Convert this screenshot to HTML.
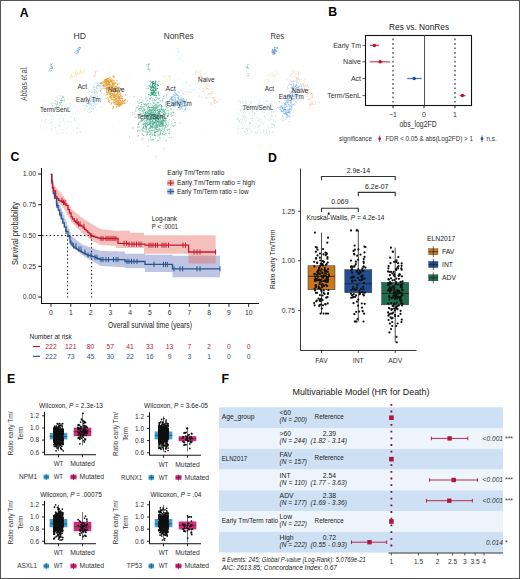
<!DOCTYPE html>
<html><head><meta charset="utf-8"><style>
html,body{margin:0;padding:0;background:#fff;}
body{width:520px;height:579px;overflow:hidden;font-family:"Liberation Sans", sans-serif;}
svg{display:block;}
</style></head><body>
<svg width="520" height="579" viewBox="0 0 520 579" font-family='"Liberation Sans", sans-serif'><rect x="0.5" y="0.5" width="519" height="578" fill="#fff" stroke="#555" stroke-width="1"/>
<text x="19.7" y="16.6" font-size="12.3" fill="#000" color="#000" font-weight="bold" >A</text>
<text x="328.3" y="16.3" font-size="12.3" fill="#000" color="#000" font-weight="bold" >B</text>
<text x="10.4" y="161.4" font-size="12.3" fill="#000" color="#000" font-weight="bold" >C</text>
<text x="268.1" y="161.6" font-size="12.3" fill="#000" color="#000" font-weight="bold" >D</text>
<text x="7.1" y="383.1" font-size="12.3" fill="#000" color="#000" font-weight="bold" >E</text>
<text x="221.6" y="383.1" font-size="12.3" fill="#000" color="#000" font-weight="bold" >F</text>
<text x="73.5" y="39" font-size="8.6" fill="#333" color="#333" textLength="12.5" lengthAdjust="spacingAndGlyphs" >HD</text>
<text x="163.7" y="39" font-size="8.6" fill="#333" color="#333" textLength="30" lengthAdjust="spacingAndGlyphs" >NonRes</text>
<text x="270.4" y="39" font-size="8.6" fill="#333" color="#333" textLength="13.6" lengthAdjust="spacingAndGlyphs" >Res</text>
<text x="0" y="0" font-size="8.5" text-anchor="middle" fill="#444" color="#444" textLength="34.5" lengthAdjust="spacingAndGlyphs" transform="translate(27.1,83.5) rotate(-90)">Abbas et al.</text>
<g fill="#93c4bb" fill-opacity="0.35"><circle cx="96.3" cy="110.4" r="0.45"/><circle cx="120.7" cy="82.5" r="0.45"/><circle cx="109.8" cy="125.6" r="0.45"/><circle cx="60.3" cy="109.7" r="0.45"/><circle cx="67.0" cy="69.9" r="0.45"/><circle cx="118.6" cy="123.4" r="0.45"/><circle cx="40.5" cy="130.9" r="0.45"/><circle cx="113.9" cy="127.8" r="0.45"/><circle cx="111.7" cy="102.7" r="0.45"/><circle cx="82.1" cy="70.9" r="0.45"/><circle cx="67.3" cy="74.4" r="0.45"/><circle cx="65.1" cy="129.6" r="0.45"/><circle cx="62.9" cy="101.4" r="0.45"/><circle cx="80.1" cy="73.5" r="0.45"/><circle cx="85.4" cy="126.3" r="0.45"/><circle cx="89.8" cy="108.1" r="0.45"/><circle cx="129.6" cy="102.7" r="0.45"/><circle cx="111.3" cy="88.2" r="0.45"/><circle cx="96.0" cy="90.8" r="0.45"/><circle cx="129.0" cy="78.0" r="0.45"/><circle cx="59.4" cy="62.9" r="0.45"/><circle cx="54.4" cy="125.7" r="0.45"/><circle cx="95.1" cy="95.1" r="0.45"/><circle cx="44.0" cy="101.1" r="0.45"/><circle cx="43.2" cy="84.2" r="0.45"/><circle cx="86.3" cy="116.3" r="0.45"/><circle cx="82.0" cy="61.9" r="0.45"/><circle cx="122.5" cy="87.9" r="0.45"/><circle cx="96.6" cy="62.3" r="0.45"/><circle cx="86.3" cy="69.2" r="0.45"/><circle cx="84.7" cy="132.5" r="0.45"/><circle cx="62.3" cy="109.3" r="0.45"/><circle cx="41.1" cy="92.1" r="0.45"/><circle cx="57.3" cy="99.3" r="0.45"/><circle cx="102.3" cy="125.5" r="0.45"/><circle cx="58.1" cy="85.8" r="0.45"/><circle cx="73.3" cy="104.3" r="0.45"/><circle cx="40.3" cy="111.3" r="0.45"/><circle cx="114.7" cy="86.7" r="0.45"/><circle cx="53.9" cy="98.9" r="0.45"/><circle cx="64.1" cy="117.4" r="0.45"/><circle cx="119.2" cy="128.2" r="0.45"/><circle cx="85.9" cy="71.3" r="0.45"/><circle cx="116.2" cy="130.0" r="0.45"/><circle cx="97.6" cy="60.4" r="0.45"/><circle cx="106.8" cy="116.5" r="0.45"/><circle cx="48.2" cy="120.8" r="0.45"/><circle cx="88.7" cy="70.3" r="0.45"/><circle cx="85.7" cy="91.4" r="0.45"/><circle cx="118.4" cy="121.1" r="0.45"/><circle cx="72.5" cy="61.1" r="0.45"/><circle cx="93.8" cy="107.1" r="0.45"/><circle cx="45.3" cy="119.5" r="0.45"/><circle cx="74.9" cy="98.5" r="0.45"/><circle cx="69.1" cy="114.4" r="0.45"/><circle cx="53.5" cy="77.0" r="0.45"/><circle cx="113.5" cy="74.9" r="0.45"/><circle cx="74.2" cy="87.2" r="0.45"/><circle cx="128.1" cy="73.5" r="0.45"/><circle cx="93.1" cy="86.0" r="0.45"/><circle cx="94.5" cy="131.1" r="0.45"/><circle cx="97.4" cy="103.0" r="0.45"/><circle cx="100.9" cy="85.5" r="0.45"/><circle cx="53.6" cy="80.4" r="0.45"/><circle cx="79.6" cy="131.4" r="0.45"/><circle cx="61.6" cy="93.3" r="0.45"/><circle cx="76.2" cy="133.5" r="0.45"/><circle cx="48.7" cy="98.7" r="0.45"/><circle cx="127.1" cy="99.1" r="0.45"/><circle cx="59.4" cy="127.2" r="0.45"/></g>
<g fill="#4d94d8" fill-opacity="0.85"><circle cx="79.6" cy="49.2" r="0.45"/><circle cx="78.4" cy="50.0" r="0.45"/><circle cx="78.1" cy="51.2" r="0.45"/><circle cx="79.4" cy="47.8" r="0.45"/><circle cx="76.6" cy="50.5" r="0.45"/><circle cx="79.3" cy="47.3" r="0.45"/><circle cx="76.2" cy="53.5" r="0.45"/><circle cx="77.3" cy="50.7" r="0.45"/><circle cx="77.8" cy="50.2" r="0.45"/><circle cx="79.8" cy="47.4" r="0.45"/><circle cx="77.6" cy="52.6" r="0.45"/><circle cx="78.7" cy="48.1" r="0.45"/><circle cx="79.5" cy="49.7" r="0.45"/><circle cx="78.7" cy="48.9" r="0.45"/><circle cx="79.2" cy="50.0" r="0.45"/><circle cx="80.7" cy="47.7" r="0.45"/><circle cx="78.6" cy="52.4" r="0.45"/><circle cx="78.3" cy="51.6" r="0.45"/><circle cx="77.6" cy="53.0" r="0.45"/><circle cx="77.5" cy="54.4" r="0.45"/><circle cx="75.4" cy="51.7" r="0.45"/><circle cx="78.8" cy="47.1" r="0.45"/><circle cx="80.1" cy="48.5" r="0.45"/><circle cx="74.6" cy="52.2" r="0.45"/><circle cx="78.5" cy="49.8" r="0.45"/><circle cx="78.0" cy="50.7" r="0.45"/><circle cx="77.1" cy="49.1" r="0.45"/><circle cx="77.8" cy="48.9" r="0.45"/><circle cx="77.7" cy="52.1" r="0.45"/><circle cx="80.2" cy="47.5" r="0.45"/></g>
<g fill="#2a8c8c" fill-opacity="0.85"><circle cx="49.4" cy="69.0" r="0.45"/><circle cx="50.9" cy="65.5" r="0.45"/><circle cx="51.5" cy="64.2" r="0.45"/><circle cx="50.6" cy="63.9" r="0.45"/><circle cx="51.2" cy="70.6" r="0.45"/><circle cx="51.0" cy="71.8" r="0.45"/><circle cx="52.0" cy="66.2" r="0.45"/><circle cx="51.3" cy="70.1" r="0.45"/><circle cx="51.7" cy="67.0" r="0.45"/><circle cx="52.5" cy="63.6" r="0.45"/><circle cx="51.1" cy="68.6" r="0.45"/><circle cx="49.9" cy="69.7" r="0.45"/><circle cx="52.5" cy="68.0" r="0.45"/><circle cx="52.0" cy="66.1" r="0.45"/><circle cx="48.7" cy="71.0" r="0.45"/><circle cx="51.1" cy="68.6" r="0.45"/><circle cx="50.1" cy="70.7" r="0.45"/><circle cx="51.2" cy="66.0" r="0.45"/><circle cx="51.7" cy="64.5" r="0.45"/><circle cx="52.6" cy="68.7" r="0.45"/><circle cx="50.8" cy="68.6" r="0.45"/><circle cx="52.7" cy="67.2" r="0.45"/></g>
<g fill="#ead66a" fill-opacity="0.65"><circle cx="82.0" cy="72.3" r="0.45"/><circle cx="80.8" cy="72.3" r="0.45"/><circle cx="73.3" cy="72.1" r="0.45"/><circle cx="78.9" cy="68.2" r="0.45"/><circle cx="73.3" cy="77.5" r="0.45"/><circle cx="80.7" cy="71.2" r="0.45"/><circle cx="80.7" cy="70.8" r="0.45"/><circle cx="79.8" cy="72.2" r="0.45"/><circle cx="76.0" cy="73.4" r="0.45"/><circle cx="73.7" cy="72.8" r="0.45"/><circle cx="75.3" cy="73.4" r="0.45"/><circle cx="70.6" cy="78.7" r="0.45"/><circle cx="81.9" cy="73.2" r="0.45"/><circle cx="78.2" cy="73.1" r="0.45"/><circle cx="75.6" cy="74.5" r="0.45"/><circle cx="76.7" cy="71.5" r="0.45"/><circle cx="80.2" cy="69.3" r="0.45"/><circle cx="75.8" cy="74.9" r="0.45"/><circle cx="81.9" cy="71.9" r="0.45"/><circle cx="83.9" cy="69.2" r="0.45"/><circle cx="75.2" cy="74.1" r="0.45"/><circle cx="71.4" cy="76.8" r="0.45"/><circle cx="80.6" cy="71.7" r="0.45"/><circle cx="85.1" cy="70.6" r="0.45"/><circle cx="72.4" cy="77.6" r="0.45"/><circle cx="79.5" cy="73.3" r="0.45"/><circle cx="81.5" cy="73.5" r="0.45"/><circle cx="83.6" cy="71.4" r="0.45"/><circle cx="74.3" cy="80.1" r="0.45"/><circle cx="72.9" cy="79.5" r="0.45"/><circle cx="84.7" cy="72.2" r="0.45"/><circle cx="71.1" cy="77.1" r="0.45"/><circle cx="71.0" cy="75.4" r="0.45"/><circle cx="77.8" cy="71.9" r="0.45"/><circle cx="75.3" cy="72.7" r="0.45"/><circle cx="80.5" cy="71.3" r="0.45"/><circle cx="71.6" cy="75.6" r="0.45"/><circle cx="83.7" cy="70.3" r="0.45"/><circle cx="72.8" cy="76.1" r="0.45"/><circle cx="81.1" cy="69.1" r="0.45"/><circle cx="70.2" cy="77.4" r="0.45"/><circle cx="77.1" cy="73.8" r="0.45"/><circle cx="72.0" cy="80.2" r="0.45"/><circle cx="74.5" cy="75.3" r="0.45"/><circle cx="73.3" cy="74.1" r="0.45"/><circle cx="79.9" cy="71.0" r="0.45"/><circle cx="75.9" cy="73.0" r="0.45"/><circle cx="70.6" cy="78.2" r="0.45"/><circle cx="84.7" cy="73.4" r="0.45"/><circle cx="83.0" cy="71.7" r="0.45"/><circle cx="83.3" cy="72.7" r="0.45"/><circle cx="71.3" cy="73.9" r="0.45"/><circle cx="76.3" cy="75.0" r="0.45"/><circle cx="71.8" cy="74.9" r="0.45"/><circle cx="70.4" cy="76.2" r="0.45"/><circle cx="69.6" cy="77.7" r="0.45"/><circle cx="77.2" cy="73.1" r="0.45"/><circle cx="72.1" cy="77.9" r="0.45"/><circle cx="71.0" cy="75.4" r="0.45"/><circle cx="82.1" cy="74.4" r="0.45"/><circle cx="76.6" cy="73.0" r="0.45"/><circle cx="72.6" cy="76.8" r="0.45"/><circle cx="78.6" cy="74.0" r="0.45"/><circle cx="71.8" cy="73.9" r="0.45"/><circle cx="75.4" cy="70.7" r="0.45"/><circle cx="74.5" cy="76.2" r="0.45"/><circle cx="75.2" cy="70.8" r="0.45"/><circle cx="77.9" cy="73.1" r="0.45"/><circle cx="77.5" cy="72.6" r="0.45"/><circle cx="76.2" cy="75.0" r="0.45"/></g>
<g fill="#e3a27a" fill-opacity="0.7"><circle cx="95.7" cy="71.6" r="0.45"/><circle cx="94.3" cy="76.5" r="0.45"/><circle cx="95.7" cy="71.9" r="0.45"/><circle cx="97.1" cy="71.5" r="0.45"/><circle cx="94.9" cy="73.8" r="0.45"/><circle cx="94.6" cy="76.5" r="0.45"/><circle cx="95.6" cy="72.2" r="0.45"/><circle cx="95.7" cy="75.3" r="0.45"/><circle cx="95.8" cy="72.5" r="0.45"/><circle cx="94.9" cy="74.3" r="0.45"/></g>
<g fill="#e6a032" fill-opacity="0.85"><circle cx="114.1" cy="97.3" r="0.6"/><circle cx="108.3" cy="98.9" r="0.6"/><circle cx="111.1" cy="102.5" r="0.6"/><circle cx="118.7" cy="98.1" r="0.6"/><circle cx="109.6" cy="89.0" r="0.6"/><circle cx="109.5" cy="86.0" r="0.6"/><circle cx="118.0" cy="87.6" r="0.6"/><circle cx="120.2" cy="88.5" r="0.6"/><circle cx="110.3" cy="81.6" r="0.6"/><circle cx="113.1" cy="90.4" r="0.6"/><circle cx="119.7" cy="93.9" r="0.6"/><circle cx="111.3" cy="80.8" r="0.6"/><circle cx="111.1" cy="81.0" r="0.6"/><circle cx="111.9" cy="81.8" r="0.6"/><circle cx="114.4" cy="84.2" r="0.6"/><circle cx="120.5" cy="104.4" r="0.6"/><circle cx="104.6" cy="80.7" r="0.6"/><circle cx="108.0" cy="84.3" r="0.6"/><circle cx="111.5" cy="81.8" r="0.6"/><circle cx="113.6" cy="91.3" r="0.6"/><circle cx="106.4" cy="79.3" r="0.6"/><circle cx="118.9" cy="87.9" r="0.6"/><circle cx="105.6" cy="84.9" r="0.6"/><circle cx="112.4" cy="84.9" r="0.6"/><circle cx="121.6" cy="98.1" r="0.6"/><circle cx="100.9" cy="88.1" r="0.6"/><circle cx="118.4" cy="93.8" r="0.6"/><circle cx="113.1" cy="89.2" r="0.6"/><circle cx="114.6" cy="88.8" r="0.6"/><circle cx="114.7" cy="102.4" r="0.6"/><circle cx="109.5" cy="82.7" r="0.6"/><circle cx="124.0" cy="101.4" r="0.6"/><circle cx="125.7" cy="99.5" r="0.6"/><circle cx="117.5" cy="96.0" r="0.6"/><circle cx="100.8" cy="83.5" r="0.6"/><circle cx="119.1" cy="95.0" r="0.6"/><circle cx="110.8" cy="97.0" r="0.6"/><circle cx="120.0" cy="98.3" r="0.6"/><circle cx="114.2" cy="82.0" r="0.6"/><circle cx="127.1" cy="100.9" r="0.6"/><circle cx="119.3" cy="102.5" r="0.6"/><circle cx="107.1" cy="82.3" r="0.6"/><circle cx="111.2" cy="87.1" r="0.6"/><circle cx="113.2" cy="76.2" r="0.6"/><circle cx="120.0" cy="100.3" r="0.6"/><circle cx="118.1" cy="104.0" r="0.6"/><circle cx="121.9" cy="104.7" r="0.6"/><circle cx="113.6" cy="96.0" r="0.6"/><circle cx="108.9" cy="100.2" r="0.6"/><circle cx="120.3" cy="94.9" r="0.6"/><circle cx="106.1" cy="98.3" r="0.6"/><circle cx="118.6" cy="105.1" r="0.6"/><circle cx="116.4" cy="94.5" r="0.6"/><circle cx="112.6" cy="87.1" r="0.6"/><circle cx="114.7" cy="92.1" r="0.6"/><circle cx="110.1" cy="77.4" r="0.6"/><circle cx="119.1" cy="97.1" r="0.6"/><circle cx="112.5" cy="99.4" r="0.6"/><circle cx="110.5" cy="91.1" r="0.6"/><circle cx="117.8" cy="102.1" r="0.6"/><circle cx="117.7" cy="98.9" r="0.6"/><circle cx="114.3" cy="86.2" r="0.6"/><circle cx="107.0" cy="81.1" r="0.6"/><circle cx="109.5" cy="81.7" r="0.6"/><circle cx="108.1" cy="84.2" r="0.6"/><circle cx="106.8" cy="89.1" r="0.6"/><circle cx="119.7" cy="87.1" r="0.6"/><circle cx="125.5" cy="100.8" r="0.6"/><circle cx="106.7" cy="88.3" r="0.6"/><circle cx="122.9" cy="101.1" r="0.6"/><circle cx="109.9" cy="100.2" r="0.6"/><circle cx="118.0" cy="102.0" r="0.6"/><circle cx="104.0" cy="94.0" r="0.6"/><circle cx="105.6" cy="79.3" r="0.6"/><circle cx="115.1" cy="101.2" r="0.6"/><circle cx="112.9" cy="83.8" r="0.6"/><circle cx="111.1" cy="81.2" r="0.6"/><circle cx="117.0" cy="100.7" r="0.6"/><circle cx="118.5" cy="96.1" r="0.6"/><circle cx="109.6" cy="84.4" r="0.6"/><circle cx="106.5" cy="88.0" r="0.6"/><circle cx="121.8" cy="103.0" r="0.6"/><circle cx="112.8" cy="84.6" r="0.6"/><circle cx="115.8" cy="98.0" r="0.6"/><circle cx="109.0" cy="81.8" r="0.6"/><circle cx="115.9" cy="101.8" r="0.6"/><circle cx="108.5" cy="81.7" r="0.6"/><circle cx="117.1" cy="91.0" r="0.6"/><circle cx="113.4" cy="76.2" r="0.6"/><circle cx="113.2" cy="94.1" r="0.6"/><circle cx="120.5" cy="100.5" r="0.6"/><circle cx="107.2" cy="81.3" r="0.6"/><circle cx="115.9" cy="83.1" r="0.6"/><circle cx="119.6" cy="98.2" r="0.6"/><circle cx="113.9" cy="95.7" r="0.6"/><circle cx="107.7" cy="88.9" r="0.6"/><circle cx="112.0" cy="97.4" r="0.6"/><circle cx="109.0" cy="93.1" r="0.6"/><circle cx="118.6" cy="102.0" r="0.6"/><circle cx="107.6" cy="88.3" r="0.6"/><circle cx="116.0" cy="99.7" r="0.6"/><circle cx="116.2" cy="95.5" r="0.6"/><circle cx="119.3" cy="97.5" r="0.6"/><circle cx="108.6" cy="90.6" r="0.6"/><circle cx="116.5" cy="98.4" r="0.6"/><circle cx="118.6" cy="96.5" r="0.6"/><circle cx="112.4" cy="89.0" r="0.6"/><circle cx="100.8" cy="82.7" r="0.6"/><circle cx="124.3" cy="102.6" r="0.6"/><circle cx="120.8" cy="95.9" r="0.6"/><circle cx="104.8" cy="86.7" r="0.6"/><circle cx="121.2" cy="96.2" r="0.6"/><circle cx="106.0" cy="88.6" r="0.6"/><circle cx="114.9" cy="90.4" r="0.6"/><circle cx="117.2" cy="102.6" r="0.6"/><circle cx="108.7" cy="93.0" r="0.6"/><circle cx="106.4" cy="88.7" r="0.6"/><circle cx="108.3" cy="88.3" r="0.6"/><circle cx="107.5" cy="80.8" r="0.6"/><circle cx="110.4" cy="84.2" r="0.6"/><circle cx="111.1" cy="85.6" r="0.6"/><circle cx="103.9" cy="86.1" r="0.6"/><circle cx="106.2" cy="81.1" r="0.6"/><circle cx="109.3" cy="93.3" r="0.6"/><circle cx="116.9" cy="80.5" r="0.6"/><circle cx="117.9" cy="98.2" r="0.6"/><circle cx="118.3" cy="104.2" r="0.6"/><circle cx="111.5" cy="85.5" r="0.6"/><circle cx="107.7" cy="97.6" r="0.6"/><circle cx="117.3" cy="90.6" r="0.6"/><circle cx="105.7" cy="81.7" r="0.6"/><circle cx="105.3" cy="83.7" r="0.6"/><circle cx="121.4" cy="101.4" r="0.6"/><circle cx="110.4" cy="93.0" r="0.6"/><circle cx="116.3" cy="101.2" r="0.6"/><circle cx="98.0" cy="85.6" r="0.6"/><circle cx="110.0" cy="97.2" r="0.6"/><circle cx="118.6" cy="102.1" r="0.6"/><circle cx="115.3" cy="103.8" r="0.6"/><circle cx="105.0" cy="79.7" r="0.6"/><circle cx="115.2" cy="92.1" r="0.6"/><circle cx="109.5" cy="89.9" r="0.6"/><circle cx="115.4" cy="100.1" r="0.6"/><circle cx="102.2" cy="83.5" r="0.6"/><circle cx="114.5" cy="83.6" r="0.6"/><circle cx="122.1" cy="98.6" r="0.6"/><circle cx="115.5" cy="90.1" r="0.6"/><circle cx="110.7" cy="92.1" r="0.6"/><circle cx="116.3" cy="106.8" r="0.6"/><circle cx="111.2" cy="87.2" r="0.6"/><circle cx="106.0" cy="80.4" r="0.6"/><circle cx="111.8" cy="89.4" r="0.6"/><circle cx="113.6" cy="80.2" r="0.6"/><circle cx="110.1" cy="79.6" r="0.6"/><circle cx="111.4" cy="95.6" r="0.6"/><circle cx="116.9" cy="106.0" r="0.6"/><circle cx="110.7" cy="96.3" r="0.6"/><circle cx="113.2" cy="97.4" r="0.6"/><circle cx="118.9" cy="83.3" r="0.6"/><circle cx="113.5" cy="94.7" r="0.6"/><circle cx="115.7" cy="99.7" r="0.6"/><circle cx="119.0" cy="92.6" r="0.6"/><circle cx="111.5" cy="103.5" r="0.6"/><circle cx="114.6" cy="93.4" r="0.6"/><circle cx="106.1" cy="85.8" r="0.6"/><circle cx="112.0" cy="95.8" r="0.6"/><circle cx="111.3" cy="93.0" r="0.6"/><circle cx="104.2" cy="85.7" r="0.6"/><circle cx="115.5" cy="95.3" r="0.6"/><circle cx="114.7" cy="102.4" r="0.6"/><circle cx="106.7" cy="83.3" r="0.6"/><circle cx="118.0" cy="91.5" r="0.6"/><circle cx="118.7" cy="97.6" r="0.6"/><circle cx="115.8" cy="87.6" r="0.6"/><circle cx="115.8" cy="83.1" r="0.6"/><circle cx="116.6" cy="86.2" r="0.6"/><circle cx="112.5" cy="94.2" r="0.6"/><circle cx="120.6" cy="95.1" r="0.6"/><circle cx="111.1" cy="95.5" r="0.6"/><circle cx="108.6" cy="81.3" r="0.6"/><circle cx="118.6" cy="100.5" r="0.6"/><circle cx="123.2" cy="101.8" r="0.6"/><circle cx="106.5" cy="82.2" r="0.6"/><circle cx="112.7" cy="84.0" r="0.6"/><circle cx="106.7" cy="84.6" r="0.6"/><circle cx="115.9" cy="102.9" r="0.6"/><circle cx="124.5" cy="100.7" r="0.6"/><circle cx="105.3" cy="80.9" r="0.6"/><circle cx="117.6" cy="84.3" r="0.6"/><circle cx="106.4" cy="85.4" r="0.6"/><circle cx="119.7" cy="87.8" r="0.6"/><circle cx="122.6" cy="102.1" r="0.6"/><circle cx="103.1" cy="83.0" r="0.6"/><circle cx="108.0" cy="83.8" r="0.6"/><circle cx="111.0" cy="93.1" r="0.6"/><circle cx="121.6" cy="89.0" r="0.6"/><circle cx="114.3" cy="100.2" r="0.6"/><circle cx="115.2" cy="89.2" r="0.6"/><circle cx="103.0" cy="85.5" r="0.6"/><circle cx="111.2" cy="88.4" r="0.6"/><circle cx="120.3" cy="105.2" r="0.6"/><circle cx="122.1" cy="96.5" r="0.6"/><circle cx="110.8" cy="80.4" r="0.6"/><circle cx="117.7" cy="100.6" r="0.6"/><circle cx="106.4" cy="89.5" r="0.6"/><circle cx="113.1" cy="102.0" r="0.6"/><circle cx="107.3" cy="78.8" r="0.6"/><circle cx="122.2" cy="100.5" r="0.6"/><circle cx="112.5" cy="81.1" r="0.6"/><circle cx="107.4" cy="94.0" r="0.6"/><circle cx="114.7" cy="97.2" r="0.6"/><circle cx="117.0" cy="90.8" r="0.6"/><circle cx="103.8" cy="85.9" r="0.6"/><circle cx="106.5" cy="83.6" r="0.6"/><circle cx="107.9" cy="87.8" r="0.6"/><circle cx="104.2" cy="81.8" r="0.6"/><circle cx="108.2" cy="85.3" r="0.6"/><circle cx="109.7" cy="81.5" r="0.6"/><circle cx="118.2" cy="88.5" r="0.6"/><circle cx="115.6" cy="86.1" r="0.6"/><circle cx="117.5" cy="93.2" r="0.6"/><circle cx="108.6" cy="87.3" r="0.6"/><circle cx="109.1" cy="78.5" r="0.6"/><circle cx="108.4" cy="89.1" r="0.6"/><circle cx="113.9" cy="100.7" r="0.6"/><circle cx="105.0" cy="88.4" r="0.6"/><circle cx="107.1" cy="92.4" r="0.6"/><circle cx="125.6" cy="94.9" r="0.6"/><circle cx="106.9" cy="92.6" r="0.6"/><circle cx="117.9" cy="103.2" r="0.6"/><circle cx="118.6" cy="103.9" r="0.6"/><circle cx="112.6" cy="86.2" r="0.6"/><circle cx="115.7" cy="99.2" r="0.6"/><circle cx="109.4" cy="85.9" r="0.6"/><circle cx="110.3" cy="81.5" r="0.6"/><circle cx="118.4" cy="87.5" r="0.6"/><circle cx="110.3" cy="97.3" r="0.6"/><circle cx="117.4" cy="105.1" r="0.6"/><circle cx="111.4" cy="81.1" r="0.6"/><circle cx="117.7" cy="97.3" r="0.6"/><circle cx="110.5" cy="93.0" r="0.6"/><circle cx="109.7" cy="81.5" r="0.6"/><circle cx="118.7" cy="105.7" r="0.6"/><circle cx="112.6" cy="99.4" r="0.6"/><circle cx="105.2" cy="83.9" r="0.6"/><circle cx="119.3" cy="103.2" r="0.6"/><circle cx="110.4" cy="80.2" r="0.6"/><circle cx="108.6" cy="80.8" r="0.6"/><circle cx="108.4" cy="89.1" r="0.6"/><circle cx="119.8" cy="104.0" r="0.6"/><circle cx="101.3" cy="82.7" r="0.6"/><circle cx="113.1" cy="106.7" r="0.6"/><circle cx="109.9" cy="97.8" r="0.6"/><circle cx="104.7" cy="82.0" r="0.6"/><circle cx="118.1" cy="92.3" r="0.6"/><circle cx="107.2" cy="94.2" r="0.6"/><circle cx="111.6" cy="95.4" r="0.6"/><circle cx="118.6" cy="97.8" r="0.6"/><circle cx="118.5" cy="95.8" r="0.6"/><circle cx="122.0" cy="104.9" r="0.6"/><circle cx="107.8" cy="83.5" r="0.6"/><circle cx="122.1" cy="98.6" r="0.6"/><circle cx="108.2" cy="92.0" r="0.6"/><circle cx="118.2" cy="99.5" r="0.6"/><circle cx="116.7" cy="104.0" r="0.6"/><circle cx="125.4" cy="103.0" r="0.6"/><circle cx="100.4" cy="91.2" r="0.6"/><circle cx="109.3" cy="92.9" r="0.6"/><circle cx="119.6" cy="104.3" r="0.6"/><circle cx="123.2" cy="102.6" r="0.6"/><circle cx="106.6" cy="91.5" r="0.6"/><circle cx="120.6" cy="103.7" r="0.6"/><circle cx="113.3" cy="89.1" r="0.6"/><circle cx="114.4" cy="87.4" r="0.6"/><circle cx="120.8" cy="97.3" r="0.6"/><circle cx="113.1" cy="91.4" r="0.6"/><circle cx="112.5" cy="91.0" r="0.6"/><circle cx="113.0" cy="88.6" r="0.6"/><circle cx="115.9" cy="88.6" r="0.6"/><circle cx="103.3" cy="85.3" r="0.6"/><circle cx="101.9" cy="83.3" r="0.6"/><circle cx="119.6" cy="97.8" r="0.6"/><circle cx="110.0" cy="96.2" r="0.6"/><circle cx="115.5" cy="97.1" r="0.6"/><circle cx="117.7" cy="100.4" r="0.6"/><circle cx="103.0" cy="88.6" r="0.6"/><circle cx="113.1" cy="83.3" r="0.6"/><circle cx="107.6" cy="87.7" r="0.6"/><circle cx="110.8" cy="86.9" r="0.6"/><circle cx="116.7" cy="99.5" r="0.6"/><circle cx="115.6" cy="86.7" r="0.6"/><circle cx="112.2" cy="86.8" r="0.6"/><circle cx="111.0" cy="98.1" r="0.6"/><circle cx="108.6" cy="84.0" r="0.6"/><circle cx="105.4" cy="83.0" r="0.6"/><circle cx="113.5" cy="99.0" r="0.6"/><circle cx="119.5" cy="98.0" r="0.6"/><circle cx="110.8" cy="86.6" r="0.6"/><circle cx="115.6" cy="95.8" r="0.6"/><circle cx="107.9" cy="79.1" r="0.6"/><circle cx="113.0" cy="89.2" r="0.6"/><circle cx="113.9" cy="94.7" r="0.6"/><circle cx="107.6" cy="86.9" r="0.6"/><circle cx="111.8" cy="87.9" r="0.6"/><circle cx="117.0" cy="94.2" r="0.6"/><circle cx="110.9" cy="96.6" r="0.6"/><circle cx="109.2" cy="82.6" r="0.6"/><circle cx="112.5" cy="99.8" r="0.6"/><circle cx="109.9" cy="79.7" r="0.6"/><circle cx="123.2" cy="103.4" r="0.6"/><circle cx="111.6" cy="82.9" r="0.6"/><circle cx="112.5" cy="84.2" r="0.6"/><circle cx="107.6" cy="85.1" r="0.6"/><circle cx="119.5" cy="106.0" r="0.6"/><circle cx="109.1" cy="87.2" r="0.6"/><circle cx="114.8" cy="95.2" r="0.6"/><circle cx="119.0" cy="106.2" r="0.6"/><circle cx="122.0" cy="103.3" r="0.6"/><circle cx="103.0" cy="82.1" r="0.6"/><circle cx="112.9" cy="93.3" r="0.6"/><circle cx="117.3" cy="93.8" r="0.6"/><circle cx="108.9" cy="101.4" r="0.6"/><circle cx="112.5" cy="87.1" r="0.6"/><circle cx="111.3" cy="87.5" r="0.6"/><circle cx="105.5" cy="79.4" r="0.6"/><circle cx="105.8" cy="80.3" r="0.6"/><circle cx="113.0" cy="94.2" r="0.6"/><circle cx="111.7" cy="78.6" r="0.6"/><circle cx="109.1" cy="84.3" r="0.6"/><circle cx="117.6" cy="84.3" r="0.6"/><circle cx="108.2" cy="80.2" r="0.6"/><circle cx="107.3" cy="79.4" r="0.6"/><circle cx="117.7" cy="104.7" r="0.6"/><circle cx="115.2" cy="89.1" r="0.6"/><circle cx="108.5" cy="84.7" r="0.6"/><circle cx="117.9" cy="97.1" r="0.6"/><circle cx="106.3" cy="79.2" r="0.6"/><circle cx="112.9" cy="83.8" r="0.6"/><circle cx="116.7" cy="106.3" r="0.6"/><circle cx="116.1" cy="104.5" r="0.6"/><circle cx="120.6" cy="93.3" r="0.6"/><circle cx="108.6" cy="80.8" r="0.6"/><circle cx="112.2" cy="86.6" r="0.6"/><circle cx="113.2" cy="76.1" r="0.6"/><circle cx="113.7" cy="82.4" r="0.6"/><circle cx="107.7" cy="79.0" r="0.6"/><circle cx="112.2" cy="80.0" r="0.6"/><circle cx="115.0" cy="96.0" r="0.6"/><circle cx="105.7" cy="82.7" r="0.6"/><circle cx="110.8" cy="81.8" r="0.6"/><circle cx="117.2" cy="104.1" r="0.6"/><circle cx="106.9" cy="90.1" r="0.6"/><circle cx="113.3" cy="86.6" r="0.6"/><circle cx="104.0" cy="83.1" r="0.6"/><circle cx="113.8" cy="102.1" r="0.6"/><circle cx="111.6" cy="99.2" r="0.6"/><circle cx="114.2" cy="93.5" r="0.6"/><circle cx="114.3" cy="95.9" r="0.6"/><circle cx="110.4" cy="80.1" r="0.6"/><circle cx="107.3" cy="87.3" r="0.6"/><circle cx="112.2" cy="95.7" r="0.6"/><circle cx="118.5" cy="105.1" r="0.6"/><circle cx="117.8" cy="100.9" r="0.6"/><circle cx="117.6" cy="95.0" r="0.6"/><circle cx="121.1" cy="89.1" r="0.6"/><circle cx="108.3" cy="78.3" r="0.6"/><circle cx="124.4" cy="100.1" r="0.6"/><circle cx="107.7" cy="80.4" r="0.6"/><circle cx="110.8" cy="80.9" r="0.6"/><circle cx="108.6" cy="101.3" r="0.6"/><circle cx="119.7" cy="99.8" r="0.6"/><circle cx="120.4" cy="98.5" r="0.6"/><circle cx="107.1" cy="94.1" r="0.6"/><circle cx="114.0" cy="80.8" r="0.6"/><circle cx="103.0" cy="81.8" r="0.6"/><circle cx="114.3" cy="103.8" r="0.6"/><circle cx="120.2" cy="105.1" r="0.6"/><circle cx="114.0" cy="83.1" r="0.6"/><circle cx="120.3" cy="101.3" r="0.6"/><circle cx="111.6" cy="89.9" r="0.6"/><circle cx="108.0" cy="88.7" r="0.6"/><circle cx="111.7" cy="93.3" r="0.6"/><circle cx="104.9" cy="79.9" r="0.6"/><circle cx="113.9" cy="90.0" r="0.6"/><circle cx="105.7" cy="86.1" r="0.6"/><circle cx="119.6" cy="96.4" r="0.6"/><circle cx="115.7" cy="91.3" r="0.6"/><circle cx="117.9" cy="102.6" r="0.6"/><circle cx="116.3" cy="104.3" r="0.6"/><circle cx="109.3" cy="88.2" r="0.6"/><circle cx="108.6" cy="87.3" r="0.6"/><circle cx="120.9" cy="103.5" r="0.6"/><circle cx="110.3" cy="94.0" r="0.6"/><circle cx="114.2" cy="77.9" r="0.6"/><circle cx="109.0" cy="79.0" r="0.6"/><circle cx="124.4" cy="103.5" r="0.6"/><circle cx="118.0" cy="92.7" r="0.6"/><circle cx="105.6" cy="81.1" r="0.6"/><circle cx="110.9" cy="93.9" r="0.6"/><circle cx="116.7" cy="90.8" r="0.6"/><circle cx="112.5" cy="90.5" r="0.6"/><circle cx="113.4" cy="107.6" r="0.6"/><circle cx="118.5" cy="105.0" r="0.6"/><circle cx="103.3" cy="84.8" r="0.6"/><circle cx="105.0" cy="84.8" r="0.6"/><circle cx="108.3" cy="91.8" r="0.6"/><circle cx="118.9" cy="100.9" r="0.6"/><circle cx="113.9" cy="96.3" r="0.6"/><circle cx="109.1" cy="102.3" r="0.6"/><circle cx="116.9" cy="93.2" r="0.6"/><circle cx="112.8" cy="82.6" r="0.6"/><circle cx="113.6" cy="103.0" r="0.6"/><circle cx="108.2" cy="78.3" r="0.6"/><circle cx="115.9" cy="97.8" r="0.6"/><circle cx="107.0" cy="85.2" r="0.6"/><circle cx="114.2" cy="90.9" r="0.6"/><circle cx="120.5" cy="104.9" r="0.6"/><circle cx="117.7" cy="91.5" r="0.6"/><circle cx="107.4" cy="80.2" r="0.6"/><circle cx="116.5" cy="88.2" r="0.6"/><circle cx="114.2" cy="97.3" r="0.6"/><circle cx="106.6" cy="80.6" r="0.6"/><circle cx="106.4" cy="87.5" r="0.6"/><circle cx="107.2" cy="79.0" r="0.6"/><circle cx="110.5" cy="95.1" r="0.6"/><circle cx="107.9" cy="91.1" r="0.6"/><circle cx="109.4" cy="94.4" r="0.6"/><circle cx="108.0" cy="88.1" r="0.6"/><circle cx="114.1" cy="97.3" r="0.6"/><circle cx="107.8" cy="84.0" r="0.6"/><circle cx="120.4" cy="102.6" r="0.6"/><circle cx="119.8" cy="104.7" r="0.6"/><circle cx="113.4" cy="92.1" r="0.6"/><circle cx="106.3" cy="94.9" r="0.6"/><circle cx="122.2" cy="100.1" r="0.6"/><circle cx="111.2" cy="86.2" r="0.6"/><circle cx="116.7" cy="101.0" r="0.6"/><circle cx="113.3" cy="85.0" r="0.6"/><circle cx="114.0" cy="99.5" r="0.6"/><circle cx="113.0" cy="86.8" r="0.6"/><circle cx="113.6" cy="95.7" r="0.6"/><circle cx="119.1" cy="104.0" r="0.6"/><circle cx="114.2" cy="76.5" r="0.6"/><circle cx="115.6" cy="101.6" r="0.6"/><circle cx="118.1" cy="91.4" r="0.6"/><circle cx="110.6" cy="89.6" r="0.6"/><circle cx="106.6" cy="90.8" r="0.6"/><circle cx="104.4" cy="82.2" r="0.6"/><circle cx="109.9" cy="85.8" r="0.6"/><circle cx="114.9" cy="95.7" r="0.6"/><circle cx="107.0" cy="81.8" r="0.6"/><circle cx="116.4" cy="96.6" r="0.6"/><circle cx="122.4" cy="103.5" r="0.6"/><circle cx="119.9" cy="105.4" r="0.6"/><circle cx="118.9" cy="102.8" r="0.6"/><circle cx="110.9" cy="104.0" r="0.6"/><circle cx="107.1" cy="84.5" r="0.6"/><circle cx="112.5" cy="108.7" r="0.6"/><circle cx="109.2" cy="84.3" r="0.6"/><circle cx="117.2" cy="102.9" r="0.6"/><circle cx="118.4" cy="102.6" r="0.6"/><circle cx="117.7" cy="94.3" r="0.6"/><circle cx="116.7" cy="91.4" r="0.6"/><circle cx="109.9" cy="83.8" r="0.6"/><circle cx="110.5" cy="94.4" r="0.6"/><circle cx="113.7" cy="84.9" r="0.6"/><circle cx="112.2" cy="80.0" r="0.6"/><circle cx="108.2" cy="82.3" r="0.6"/><circle cx="119.5" cy="99.5" r="0.6"/><circle cx="121.3" cy="102.7" r="0.6"/><circle cx="103.2" cy="85.4" r="0.6"/><circle cx="106.6" cy="79.2" r="0.6"/><circle cx="108.2" cy="86.9" r="0.6"/><circle cx="108.4" cy="82.4" r="0.6"/><circle cx="106.5" cy="85.2" r="0.6"/><circle cx="114.9" cy="94.4" r="0.6"/><circle cx="112.9" cy="89.9" r="0.6"/><circle cx="110.3" cy="91.5" r="0.6"/><circle cx="109.5" cy="84.2" r="0.6"/><circle cx="111.5" cy="98.8" r="0.6"/></g>
<g fill="#86bde8" fill-opacity="0.65"><circle cx="100.9" cy="84.8" r="0.5"/><circle cx="100.6" cy="90.3" r="0.5"/><circle cx="91.3" cy="96.0" r="0.5"/><circle cx="90.8" cy="111.1" r="0.5"/><circle cx="89.9" cy="103.4" r="0.5"/><circle cx="92.4" cy="98.7" r="0.5"/><circle cx="95.2" cy="98.4" r="0.5"/><circle cx="96.0" cy="104.6" r="0.5"/><circle cx="92.0" cy="100.7" r="0.5"/><circle cx="92.3" cy="91.1" r="0.5"/><circle cx="106.1" cy="87.5" r="0.5"/><circle cx="101.1" cy="89.5" r="0.5"/><circle cx="83.6" cy="102.8" r="0.5"/><circle cx="92.1" cy="101.1" r="0.5"/><circle cx="89.4" cy="105.6" r="0.5"/><circle cx="94.9" cy="82.1" r="0.5"/><circle cx="84.8" cy="107.3" r="0.5"/><circle cx="94.3" cy="93.3" r="0.5"/><circle cx="86.9" cy="109.0" r="0.5"/><circle cx="94.8" cy="100.7" r="0.5"/><circle cx="93.5" cy="98.6" r="0.5"/><circle cx="93.8" cy="108.0" r="0.5"/><circle cx="90.7" cy="100.2" r="0.5"/><circle cx="90.6" cy="101.8" r="0.5"/><circle cx="96.0" cy="86.3" r="0.5"/><circle cx="91.1" cy="99.6" r="0.5"/><circle cx="100.8" cy="94.6" r="0.5"/><circle cx="99.0" cy="84.5" r="0.5"/><circle cx="100.4" cy="87.0" r="0.5"/><circle cx="95.2" cy="96.9" r="0.5"/><circle cx="94.9" cy="89.5" r="0.5"/><circle cx="86.8" cy="103.4" r="0.5"/><circle cx="98.5" cy="85.9" r="0.5"/><circle cx="101.1" cy="83.2" r="0.5"/><circle cx="89.6" cy="112.5" r="0.5"/><circle cx="96.3" cy="91.7" r="0.5"/><circle cx="94.6" cy="97.7" r="0.5"/><circle cx="96.4" cy="88.2" r="0.5"/><circle cx="95.1" cy="87.7" r="0.5"/><circle cx="99.6" cy="95.7" r="0.5"/><circle cx="95.2" cy="107.6" r="0.5"/><circle cx="100.8" cy="83.9" r="0.5"/><circle cx="91.7" cy="107.9" r="0.5"/><circle cx="84.2" cy="110.1" r="0.5"/><circle cx="94.2" cy="99.3" r="0.5"/><circle cx="92.9" cy="92.1" r="0.5"/><circle cx="99.9" cy="90.2" r="0.5"/><circle cx="101.2" cy="88.9" r="0.5"/><circle cx="88.4" cy="89.4" r="0.5"/><circle cx="87.1" cy="106.5" r="0.5"/><circle cx="102.1" cy="83.1" r="0.5"/><circle cx="91.2" cy="105.9" r="0.5"/><circle cx="86.6" cy="100.0" r="0.5"/><circle cx="97.7" cy="82.2" r="0.5"/><circle cx="99.9" cy="84.7" r="0.5"/><circle cx="88.7" cy="103.2" r="0.5"/><circle cx="90.7" cy="101.8" r="0.5"/><circle cx="101.6" cy="93.4" r="0.5"/><circle cx="83.3" cy="105.3" r="0.5"/><circle cx="94.0" cy="87.4" r="0.5"/><circle cx="95.0" cy="95.1" r="0.5"/><circle cx="99.5" cy="86.0" r="0.5"/><circle cx="94.4" cy="102.4" r="0.5"/><circle cx="103.6" cy="86.4" r="0.5"/><circle cx="96.9" cy="87.4" r="0.5"/><circle cx="92.8" cy="105.9" r="0.5"/><circle cx="97.3" cy="98.5" r="0.5"/><circle cx="94.3" cy="102.9" r="0.5"/><circle cx="85.3" cy="101.8" r="0.5"/><circle cx="94.7" cy="101.1" r="0.5"/><circle cx="94.0" cy="87.0" r="0.5"/><circle cx="87.5" cy="101.4" r="0.5"/><circle cx="97.6" cy="85.4" r="0.5"/><circle cx="94.1" cy="89.5" r="0.5"/><circle cx="97.5" cy="96.6" r="0.5"/><circle cx="98.9" cy="85.8" r="0.5"/><circle cx="97.6" cy="85.1" r="0.5"/><circle cx="94.9" cy="102.8" r="0.5"/><circle cx="93.7" cy="105.4" r="0.5"/><circle cx="89.7" cy="91.4" r="0.5"/><circle cx="91.7" cy="92.7" r="0.5"/><circle cx="97.1" cy="88.4" r="0.5"/><circle cx="96.7" cy="99.0" r="0.5"/><circle cx="92.7" cy="99.4" r="0.5"/><circle cx="91.8" cy="111.2" r="0.5"/><circle cx="99.3" cy="83.5" r="0.5"/><circle cx="89.1" cy="109.3" r="0.5"/><circle cx="87.8" cy="111.6" r="0.5"/><circle cx="97.4" cy="93.1" r="0.5"/><circle cx="89.2" cy="103.0" r="0.5"/><circle cx="86.5" cy="105.4" r="0.5"/><circle cx="93.2" cy="102.1" r="0.5"/><circle cx="95.6" cy="90.6" r="0.5"/><circle cx="93.9" cy="101.4" r="0.5"/><circle cx="89.0" cy="108.1" r="0.5"/><circle cx="94.1" cy="84.0" r="0.5"/><circle cx="95.8" cy="97.1" r="0.5"/><circle cx="100.9" cy="83.4" r="0.5"/><circle cx="90.4" cy="107.6" r="0.5"/><circle cx="91.7" cy="105.8" r="0.5"/><circle cx="98.0" cy="83.2" r="0.5"/><circle cx="90.9" cy="104.4" r="0.5"/><circle cx="101.9" cy="106.9" r="0.5"/><circle cx="103.1" cy="87.6" r="0.5"/><circle cx="90.5" cy="96.6" r="0.5"/><circle cx="92.8" cy="103.2" r="0.5"/><circle cx="96.0" cy="92.3" r="0.5"/><circle cx="95.5" cy="97.9" r="0.5"/><circle cx="85.0" cy="110.0" r="0.5"/><circle cx="89.7" cy="100.1" r="0.5"/><circle cx="93.7" cy="97.1" r="0.5"/><circle cx="97.0" cy="83.6" r="0.5"/><circle cx="97.1" cy="85.4" r="0.5"/><circle cx="91.9" cy="108.4" r="0.5"/><circle cx="91.8" cy="104.7" r="0.5"/><circle cx="85.9" cy="105.5" r="0.5"/><circle cx="91.5" cy="98.9" r="0.5"/><circle cx="86.5" cy="96.8" r="0.5"/><circle cx="92.0" cy="97.5" r="0.5"/><circle cx="95.1" cy="105.7" r="0.5"/><circle cx="94.5" cy="91.6" r="0.5"/><circle cx="94.6" cy="97.3" r="0.5"/><circle cx="98.4" cy="97.6" r="0.5"/><circle cx="96.1" cy="103.6" r="0.5"/><circle cx="93.5" cy="87.5" r="0.5"/><circle cx="96.2" cy="81.9" r="0.5"/><circle cx="100.6" cy="85.5" r="0.5"/><circle cx="98.9" cy="88.0" r="0.5"/><circle cx="87.0" cy="106.7" r="0.5"/><circle cx="89.7" cy="102.9" r="0.5"/><circle cx="89.1" cy="103.8" r="0.5"/><circle cx="97.5" cy="96.5" r="0.5"/><circle cx="101.9" cy="86.4" r="0.5"/><circle cx="90.6" cy="94.9" r="0.5"/><circle cx="93.0" cy="109.3" r="0.5"/><circle cx="94.5" cy="97.7" r="0.5"/><circle cx="92.9" cy="101.3" r="0.5"/><circle cx="96.3" cy="93.7" r="0.5"/><circle cx="96.8" cy="86.3" r="0.5"/><circle cx="92.7" cy="101.0" r="0.5"/><circle cx="91.8" cy="95.9" r="0.5"/><circle cx="94.7" cy="92.2" r="0.5"/><circle cx="100.6" cy="91.2" r="0.5"/><circle cx="94.6" cy="104.2" r="0.5"/><circle cx="94.6" cy="91.2" r="0.5"/><circle cx="95.7" cy="100.5" r="0.5"/><circle cx="98.7" cy="90.7" r="0.5"/><circle cx="88.9" cy="103.9" r="0.5"/><circle cx="94.1" cy="93.0" r="0.5"/><circle cx="93.3" cy="96.2" r="0.5"/></g>
<g fill="#2f9f7c" fill-opacity="0.7"><circle cx="64.8" cy="99.7" r="0.45"/><circle cx="65.0" cy="101.7" r="0.45"/><circle cx="55.9" cy="101.2" r="0.45"/><circle cx="60.0" cy="102.5" r="0.45"/><circle cx="56.4" cy="106.8" r="0.45"/><circle cx="61.3" cy="98.4" r="0.45"/><circle cx="62.6" cy="96.8" r="0.45"/><circle cx="52.9" cy="102.9" r="0.45"/><circle cx="62.8" cy="100.5" r="0.45"/><circle cx="61.9" cy="100.7" r="0.45"/><circle cx="52.3" cy="105.3" r="0.45"/><circle cx="64.0" cy="97.9" r="0.45"/><circle cx="60.1" cy="103.8" r="0.45"/><circle cx="56.3" cy="104.3" r="0.45"/><circle cx="54.4" cy="107.9" r="0.45"/><circle cx="64.0" cy="101.1" r="0.45"/><circle cx="57.3" cy="103.9" r="0.45"/><circle cx="59.9" cy="102.7" r="0.45"/><circle cx="56.7" cy="106.7" r="0.45"/><circle cx="61.5" cy="102.4" r="0.45"/><circle cx="59.5" cy="105.1" r="0.45"/><circle cx="59.8" cy="95.4" r="0.45"/><circle cx="61.1" cy="100.5" r="0.45"/><circle cx="61.4" cy="99.4" r="0.45"/><circle cx="59.0" cy="108.0" r="0.45"/><circle cx="51.6" cy="103.7" r="0.45"/><circle cx="63.0" cy="97.5" r="0.45"/><circle cx="62.7" cy="95.9" r="0.45"/><circle cx="60.8" cy="100.7" r="0.45"/><circle cx="63.5" cy="97.1" r="0.45"/><circle cx="62.1" cy="100.7" r="0.45"/><circle cx="57.6" cy="97.7" r="0.45"/><circle cx="57.2" cy="101.8" r="0.45"/><circle cx="57.9" cy="104.2" r="0.45"/><circle cx="60.4" cy="104.0" r="0.45"/><circle cx="54.8" cy="103.8" r="0.45"/><circle cx="57.4" cy="101.9" r="0.45"/><circle cx="62.0" cy="105.4" r="0.45"/><circle cx="52.5" cy="105.7" r="0.45"/><circle cx="55.5" cy="100.4" r="0.45"/><circle cx="55.7" cy="103.3" r="0.45"/><circle cx="60.7" cy="100.8" r="0.45"/><circle cx="62.1" cy="98.1" r="0.45"/><circle cx="61.2" cy="101.9" r="0.45"/><circle cx="61.3" cy="100.7" r="0.45"/><circle cx="61.9" cy="102.7" r="0.45"/><circle cx="56.1" cy="104.5" r="0.45"/><circle cx="57.7" cy="103.4" r="0.45"/><circle cx="64.1" cy="99.8" r="0.45"/><circle cx="63.2" cy="96.2" r="0.45"/></g>
<g fill="#93c4bb" fill-opacity="0.5"><circle cx="79.8" cy="107.3" r="0.45"/><circle cx="47.8" cy="114.7" r="0.45"/><circle cx="42.5" cy="105.5" r="0.45"/><circle cx="77.6" cy="128.2" r="0.45"/><circle cx="57.3" cy="133.1" r="0.45"/><circle cx="61.3" cy="103.3" r="0.45"/><circle cx="79.3" cy="101.9" r="0.45"/><circle cx="49.2" cy="100.1" r="0.45"/><circle cx="80.7" cy="131.7" r="0.45"/><circle cx="56.7" cy="102.5" r="0.45"/><circle cx="50.4" cy="123.1" r="0.45"/><circle cx="49.8" cy="110.3" r="0.45"/><circle cx="61.8" cy="106.7" r="0.45"/><circle cx="59.6" cy="108.4" r="0.45"/><circle cx="77.2" cy="123.4" r="0.45"/><circle cx="42.1" cy="100.6" r="0.45"/><circle cx="41.8" cy="129.4" r="0.45"/><circle cx="46.4" cy="119.3" r="0.45"/><circle cx="65.4" cy="108.0" r="0.45"/><circle cx="72.8" cy="107.1" r="0.45"/><circle cx="60.2" cy="122.3" r="0.45"/><circle cx="65.8" cy="121.4" r="0.45"/><circle cx="67.0" cy="110.8" r="0.45"/><circle cx="40.8" cy="111.4" r="0.45"/><circle cx="50.3" cy="115.8" r="0.45"/><circle cx="81.9" cy="131.0" r="0.45"/><circle cx="53.9" cy="118.3" r="0.45"/><circle cx="79.8" cy="128.6" r="0.45"/><circle cx="60.7" cy="121.8" r="0.45"/><circle cx="49.3" cy="119.1" r="0.45"/><circle cx="40.1" cy="116.6" r="0.45"/><circle cx="49.1" cy="123.1" r="0.45"/><circle cx="53.5" cy="116.7" r="0.45"/><circle cx="58.5" cy="124.7" r="0.45"/><circle cx="58.8" cy="106.2" r="0.45"/><circle cx="63.0" cy="111.0" r="0.45"/><circle cx="59.9" cy="129.7" r="0.45"/><circle cx="41.4" cy="113.4" r="0.45"/><circle cx="51.2" cy="128.7" r="0.45"/><circle cx="80.4" cy="131.9" r="0.45"/><circle cx="41.2" cy="119.7" r="0.45"/><circle cx="70.8" cy="103.5" r="0.45"/><circle cx="60.0" cy="125.7" r="0.45"/><circle cx="69.7" cy="122.6" r="0.45"/><circle cx="54.0" cy="109.9" r="0.45"/><circle cx="55.5" cy="129.3" r="0.45"/><circle cx="61.7" cy="116.4" r="0.45"/><circle cx="78.2" cy="101.9" r="0.45"/><circle cx="53.8" cy="102.3" r="0.45"/><circle cx="43.6" cy="107.8" r="0.45"/><circle cx="41.6" cy="120.7" r="0.45"/><circle cx="77.0" cy="127.7" r="0.45"/><circle cx="53.2" cy="103.4" r="0.45"/><circle cx="45.0" cy="100.8" r="0.45"/><circle cx="65.0" cy="121.2" r="0.45"/><circle cx="75.5" cy="113.9" r="0.45"/><circle cx="65.2" cy="115.0" r="0.45"/><circle cx="46.4" cy="127.9" r="0.45"/><circle cx="57.0" cy="131.2" r="0.45"/><circle cx="51.2" cy="132.9" r="0.45"/><circle cx="40.7" cy="126.5" r="0.45"/><circle cx="80.6" cy="100.1" r="0.45"/><circle cx="59.3" cy="105.1" r="0.45"/><circle cx="45.7" cy="120.0" r="0.45"/><circle cx="77.2" cy="132.5" r="0.45"/><circle cx="81.4" cy="102.8" r="0.45"/><circle cx="74.3" cy="117.5" r="0.45"/><circle cx="50.7" cy="113.5" r="0.45"/><circle cx="48.0" cy="113.8" r="0.45"/><circle cx="62.1" cy="109.1" r="0.45"/><circle cx="64.5" cy="109.2" r="0.45"/><circle cx="76.9" cy="108.1" r="0.45"/><circle cx="80.6" cy="103.5" r="0.45"/><circle cx="78.2" cy="118.8" r="0.45"/><circle cx="54.4" cy="115.2" r="0.45"/><circle cx="64.6" cy="124.2" r="0.45"/><circle cx="45.2" cy="121.8" r="0.45"/><circle cx="61.8" cy="132.4" r="0.45"/><circle cx="43.0" cy="111.5" r="0.45"/><circle cx="44.7" cy="130.0" r="0.45"/><circle cx="45.1" cy="113.1" r="0.45"/><circle cx="52.7" cy="122.5" r="0.45"/><circle cx="53.0" cy="127.4" r="0.45"/><circle cx="69.6" cy="113.5" r="0.45"/><circle cx="43.2" cy="115.2" r="0.45"/><circle cx="44.7" cy="121.5" r="0.45"/><circle cx="67.6" cy="103.8" r="0.45"/><circle cx="68.3" cy="118.1" r="0.45"/><circle cx="69.8" cy="103.2" r="0.45"/><circle cx="70.2" cy="107.6" r="0.45"/><circle cx="67.8" cy="121.2" r="0.45"/><circle cx="63.2" cy="133.1" r="0.45"/><circle cx="71.1" cy="134.0" r="0.45"/><circle cx="43.4" cy="108.9" r="0.45"/><circle cx="48.9" cy="105.0" r="0.45"/><circle cx="71.1" cy="117.6" r="0.45"/><circle cx="48.1" cy="115.0" r="0.45"/><circle cx="62.3" cy="112.9" r="0.45"/><circle cx="50.9" cy="126.1" r="0.45"/><circle cx="58.1" cy="124.1" r="0.45"/><circle cx="75.0" cy="119.1" r="0.45"/><circle cx="67.7" cy="121.1" r="0.45"/><circle cx="58.7" cy="119.8" r="0.45"/><circle cx="51.5" cy="123.0" r="0.45"/><circle cx="73.8" cy="131.5" r="0.45"/><circle cx="67.6" cy="132.2" r="0.45"/><circle cx="58.5" cy="133.3" r="0.45"/><circle cx="76.5" cy="129.2" r="0.45"/><circle cx="69.1" cy="103.6" r="0.45"/><circle cx="81.2" cy="115.4" r="0.45"/><circle cx="67.9" cy="126.6" r="0.45"/><circle cx="77.8" cy="110.0" r="0.45"/><circle cx="63.1" cy="120.6" r="0.45"/><circle cx="69.8" cy="101.9" r="0.45"/><circle cx="75.4" cy="106.9" r="0.45"/><circle cx="43.8" cy="113.6" r="0.45"/><circle cx="59.9" cy="102.4" r="0.45"/><circle cx="65.4" cy="114.4" r="0.45"/><circle cx="42.4" cy="107.8" r="0.45"/><circle cx="73.1" cy="129.3" r="0.45"/><circle cx="70.1" cy="110.8" r="0.45"/><circle cx="79.3" cy="112.9" r="0.45"/><circle cx="55.6" cy="127.3" r="0.45"/><circle cx="59.7" cy="119.0" r="0.45"/><circle cx="78.3" cy="101.7" r="0.45"/><circle cx="57.3" cy="107.4" r="0.45"/><circle cx="75.0" cy="120.8" r="0.45"/><circle cx="57.7" cy="106.8" r="0.45"/><circle cx="54.2" cy="108.4" r="0.45"/><circle cx="51.6" cy="121.2" r="0.45"/></g>
<g fill="#2f9f7c" fill-opacity="0.35"><circle cx="64.8" cy="108.6" r="0.45"/><circle cx="58.1" cy="115.4" r="0.45"/><circle cx="66.8" cy="106.3" r="0.45"/><circle cx="69.0" cy="107.2" r="0.45"/><circle cx="51.2" cy="116.0" r="0.45"/><circle cx="58.2" cy="125.6" r="0.45"/><circle cx="59.2" cy="110.1" r="0.45"/><circle cx="76.4" cy="117.5" r="0.45"/><circle cx="51.5" cy="129.5" r="0.45"/><circle cx="60.4" cy="125.7" r="0.45"/><circle cx="55.8" cy="127.5" r="0.45"/><circle cx="70.9" cy="121.9" r="0.45"/><circle cx="74.3" cy="119.7" r="0.45"/><circle cx="51.7" cy="119.5" r="0.45"/><circle cx="75.9" cy="120.0" r="0.45"/><circle cx="70.9" cy="116.6" r="0.45"/><circle cx="56.5" cy="114.0" r="0.45"/><circle cx="77.5" cy="111.0" r="0.45"/><circle cx="58.8" cy="106.6" r="0.45"/><circle cx="73.7" cy="114.2" r="0.45"/><circle cx="52.2" cy="124.2" r="0.45"/><circle cx="63.7" cy="118.8" r="0.45"/><circle cx="65.2" cy="109.1" r="0.45"/><circle cx="76.9" cy="125.4" r="0.45"/><circle cx="75.1" cy="106.0" r="0.45"/><circle cx="66.4" cy="128.3" r="0.45"/><circle cx="51.5" cy="121.3" r="0.45"/><circle cx="62.9" cy="118.9" r="0.45"/><circle cx="61.3" cy="115.3" r="0.45"/><circle cx="79.9" cy="125.6" r="0.45"/><circle cx="70.4" cy="105.2" r="0.45"/><circle cx="62.2" cy="105.4" r="0.45"/><circle cx="60.9" cy="118.0" r="0.45"/><circle cx="73.0" cy="112.4" r="0.45"/><circle cx="52.9" cy="115.0" r="0.45"/><circle cx="74.5" cy="118.4" r="0.45"/><circle cx="70.1" cy="106.1" r="0.45"/><circle cx="63.1" cy="129.6" r="0.45"/><circle cx="71.3" cy="121.9" r="0.45"/><circle cx="61.9" cy="107.5" r="0.45"/></g>
<g fill="#93c4bb" fill-opacity="0.3"><circle cx="201.5" cy="81.6" r="0.45"/><circle cx="183.0" cy="73.0" r="0.45"/><circle cx="196.8" cy="93.9" r="0.45"/><circle cx="201.4" cy="66.9" r="0.45"/><circle cx="224.2" cy="94.9" r="0.45"/><circle cx="145.7" cy="98.6" r="0.45"/><circle cx="224.7" cy="121.2" r="0.45"/><circle cx="177.9" cy="68.5" r="0.45"/><circle cx="153.1" cy="91.0" r="0.45"/><circle cx="168.6" cy="120.9" r="0.45"/><circle cx="167.8" cy="86.4" r="0.45"/><circle cx="215.6" cy="125.2" r="0.45"/><circle cx="182.2" cy="116.0" r="0.45"/><circle cx="141.0" cy="63.3" r="0.45"/><circle cx="199.3" cy="90.1" r="0.45"/><circle cx="179.8" cy="119.8" r="0.45"/><circle cx="208.3" cy="101.1" r="0.45"/><circle cx="139.2" cy="112.5" r="0.45"/><circle cx="212.9" cy="137.2" r="0.45"/><circle cx="215.4" cy="112.7" r="0.45"/><circle cx="135.7" cy="102.6" r="0.45"/><circle cx="177.9" cy="126.0" r="0.45"/><circle cx="145.9" cy="93.6" r="0.45"/><circle cx="182.6" cy="60.8" r="0.45"/><circle cx="143.0" cy="81.3" r="0.45"/><circle cx="214.8" cy="106.4" r="0.45"/><circle cx="151.5" cy="134.0" r="0.45"/><circle cx="195.1" cy="107.4" r="0.45"/><circle cx="193.8" cy="82.1" r="0.45"/><circle cx="163.9" cy="137.5" r="0.45"/><circle cx="154.3" cy="91.2" r="0.45"/><circle cx="217.4" cy="77.8" r="0.45"/><circle cx="138.6" cy="103.1" r="0.45"/><circle cx="157.9" cy="86.8" r="0.45"/><circle cx="164.4" cy="68.7" r="0.45"/><circle cx="187.6" cy="115.6" r="0.45"/><circle cx="168.2" cy="113.9" r="0.45"/><circle cx="145.0" cy="135.8" r="0.45"/><circle cx="186.3" cy="70.7" r="0.45"/><circle cx="200.2" cy="131.0" r="0.45"/><circle cx="198.4" cy="122.2" r="0.45"/><circle cx="179.1" cy="79.7" r="0.45"/><circle cx="162.6" cy="97.4" r="0.45"/><circle cx="135.9" cy="109.2" r="0.45"/><circle cx="183.0" cy="84.6" r="0.45"/><circle cx="191.6" cy="68.4" r="0.45"/><circle cx="174.7" cy="125.3" r="0.45"/><circle cx="221.3" cy="72.8" r="0.45"/><circle cx="153.2" cy="98.3" r="0.45"/><circle cx="208.3" cy="94.1" r="0.45"/><circle cx="199.7" cy="130.4" r="0.45"/><circle cx="215.9" cy="103.6" r="0.45"/><circle cx="218.2" cy="93.1" r="0.45"/><circle cx="156.3" cy="136.2" r="0.45"/><circle cx="218.0" cy="87.5" r="0.45"/><circle cx="171.3" cy="116.7" r="0.45"/><circle cx="196.1" cy="78.2" r="0.45"/><circle cx="220.8" cy="119.1" r="0.45"/><circle cx="188.6" cy="118.6" r="0.45"/><circle cx="187.5" cy="124.6" r="0.45"/><circle cx="141.4" cy="97.8" r="0.45"/><circle cx="188.7" cy="77.3" r="0.45"/><circle cx="156.7" cy="109.3" r="0.45"/><circle cx="169.9" cy="131.0" r="0.45"/><circle cx="169.0" cy="84.2" r="0.45"/><circle cx="222.6" cy="61.6" r="0.45"/><circle cx="192.4" cy="74.4" r="0.45"/><circle cx="200.2" cy="132.8" r="0.45"/><circle cx="150.5" cy="60.5" r="0.45"/><circle cx="162.4" cy="64.2" r="0.45"/><circle cx="214.0" cy="67.7" r="0.45"/><circle cx="145.8" cy="129.6" r="0.45"/><circle cx="220.8" cy="89.9" r="0.45"/><circle cx="173.5" cy="113.9" r="0.45"/><circle cx="170.1" cy="115.1" r="0.45"/><circle cx="181.3" cy="93.9" r="0.45"/><circle cx="174.9" cy="117.1" r="0.45"/><circle cx="177.3" cy="96.0" r="0.45"/><circle cx="173.2" cy="102.3" r="0.45"/><circle cx="198.2" cy="83.9" r="0.45"/></g>
<g fill="#86bde8" fill-opacity="0.55"><circle cx="176.8" cy="48.1" r="0.45"/><circle cx="178.4" cy="55.1" r="0.45"/><circle cx="176.9" cy="51.3" r="0.45"/><circle cx="179.3" cy="51.2" r="0.45"/><circle cx="178.5" cy="58.6" r="0.45"/><circle cx="178.7" cy="52.3" r="0.45"/><circle cx="178.4" cy="49.2" r="0.45"/><circle cx="177.6" cy="55.6" r="0.45"/><circle cx="176.5" cy="54.6" r="0.45"/><circle cx="174.9" cy="49.0" r="0.45"/><circle cx="177.9" cy="52.2" r="0.45"/><circle cx="181.4" cy="55.1" r="0.45"/><circle cx="178.1" cy="51.4" r="0.45"/><circle cx="180.4" cy="59.7" r="0.45"/><circle cx="179.0" cy="57.6" r="0.45"/><circle cx="181.0" cy="53.8" r="0.45"/><circle cx="179.3" cy="59.0" r="0.45"/><circle cx="177.9" cy="48.4" r="0.45"/></g>
<g fill="#2f9f7c" fill-opacity="0.9"><circle cx="149.4" cy="71.0" r="0.45"/><circle cx="148.6" cy="69.6" r="0.45"/><circle cx="149.8" cy="69.7" r="0.45"/><circle cx="148.0" cy="64.8" r="0.45"/><circle cx="148.7" cy="64.7" r="0.45"/><circle cx="149.0" cy="69.0" r="0.45"/><circle cx="147.7" cy="69.7" r="0.45"/><circle cx="146.6" cy="64.9" r="0.45"/><circle cx="148.7" cy="64.6" r="0.45"/><circle cx="148.8" cy="64.9" r="0.45"/><circle cx="149.3" cy="64.1" r="0.45"/><circle cx="148.4" cy="66.4" r="0.45"/><circle cx="147.8" cy="67.1" r="0.45"/><circle cx="148.4" cy="68.0" r="0.45"/><circle cx="148.7" cy="63.4" r="0.45"/></g>
<g fill="#2f9f7c" fill-opacity="0.9"><circle cx="156.5" cy="95.5" r="0.55"/><circle cx="154.9" cy="94.2" r="0.55"/><circle cx="153.7" cy="83.5" r="0.55"/><circle cx="154.9" cy="92.5" r="0.55"/><circle cx="155.9" cy="93.4" r="0.55"/><circle cx="155.8" cy="81.6" r="0.55"/><circle cx="150.6" cy="89.5" r="0.55"/><circle cx="155.8" cy="87.3" r="0.55"/><circle cx="155.0" cy="90.3" r="0.55"/><circle cx="152.8" cy="94.3" r="0.55"/><circle cx="154.4" cy="91.8" r="0.55"/><circle cx="155.2" cy="84.2" r="0.55"/><circle cx="152.7" cy="89.3" r="0.55"/><circle cx="155.3" cy="89.4" r="0.55"/><circle cx="150.1" cy="81.2" r="0.55"/><circle cx="155.5" cy="83.0" r="0.55"/><circle cx="155.0" cy="86.4" r="0.55"/><circle cx="152.3" cy="83.7" r="0.55"/><circle cx="157.4" cy="84.6" r="0.55"/><circle cx="153.4" cy="91.1" r="0.55"/><circle cx="153.9" cy="95.4" r="0.55"/><circle cx="151.3" cy="87.9" r="0.55"/><circle cx="153.8" cy="90.7" r="0.55"/><circle cx="153.3" cy="92.4" r="0.55"/><circle cx="151.3" cy="91.1" r="0.55"/><circle cx="153.1" cy="90.9" r="0.55"/><circle cx="155.7" cy="81.0" r="0.55"/><circle cx="155.8" cy="94.0" r="0.55"/><circle cx="155.1" cy="83.4" r="0.55"/><circle cx="153.0" cy="83.7" r="0.55"/><circle cx="157.4" cy="88.6" r="0.55"/><circle cx="153.4" cy="89.8" r="0.55"/><circle cx="151.2" cy="92.3" r="0.55"/><circle cx="154.8" cy="85.4" r="0.55"/><circle cx="155.9" cy="95.2" r="0.55"/><circle cx="151.6" cy="90.4" r="0.55"/><circle cx="153.7" cy="93.7" r="0.55"/><circle cx="148.2" cy="88.2" r="0.55"/><circle cx="153.6" cy="82.1" r="0.55"/><circle cx="153.3" cy="81.2" r="0.55"/><circle cx="152.6" cy="90.6" r="0.55"/><circle cx="152.5" cy="87.4" r="0.55"/><circle cx="151.3" cy="87.6" r="0.55"/><circle cx="152.8" cy="85.9" r="0.55"/><circle cx="153.8" cy="83.7" r="0.55"/><circle cx="154.4" cy="88.1" r="0.55"/><circle cx="155.3" cy="84.8" r="0.55"/><circle cx="148.8" cy="94.4" r="0.55"/><circle cx="152.6" cy="83.7" r="0.55"/><circle cx="150.7" cy="95.5" r="0.55"/><circle cx="153.3" cy="93.9" r="0.55"/><circle cx="153.2" cy="86.8" r="0.55"/><circle cx="152.0" cy="92.6" r="0.55"/><circle cx="152.3" cy="89.7" r="0.55"/><circle cx="151.1" cy="88.0" r="0.55"/><circle cx="151.2" cy="93.2" r="0.55"/><circle cx="152.2" cy="93.5" r="0.55"/><circle cx="153.1" cy="84.0" r="0.55"/><circle cx="151.4" cy="94.6" r="0.55"/><circle cx="152.8" cy="81.5" r="0.55"/><circle cx="150.8" cy="81.1" r="0.55"/><circle cx="155.7" cy="88.3" r="0.55"/><circle cx="149.9" cy="85.5" r="0.55"/><circle cx="153.2" cy="87.3" r="0.55"/><circle cx="157.5" cy="88.2" r="0.55"/><circle cx="152.0" cy="88.0" r="0.55"/><circle cx="151.4" cy="94.6" r="0.55"/><circle cx="153.5" cy="94.8" r="0.55"/><circle cx="152.7" cy="86.2" r="0.55"/><circle cx="152.7" cy="85.3" r="0.55"/><circle cx="154.9" cy="90.8" r="0.55"/><circle cx="150.3" cy="84.0" r="0.55"/><circle cx="155.5" cy="87.0" r="0.55"/><circle cx="154.4" cy="91.8" r="0.55"/><circle cx="158.7" cy="81.1" r="0.55"/><circle cx="151.9" cy="92.6" r="0.55"/><circle cx="154.9" cy="92.0" r="0.55"/><circle cx="149.9" cy="86.8" r="0.55"/><circle cx="157.0" cy="84.7" r="0.55"/><circle cx="150.1" cy="89.1" r="0.55"/><circle cx="158.4" cy="85.4" r="0.55"/><circle cx="153.9" cy="93.3" r="0.55"/><circle cx="153.6" cy="89.9" r="0.55"/><circle cx="154.5" cy="85.6" r="0.55"/><circle cx="150.3" cy="93.1" r="0.55"/><circle cx="155.6" cy="90.1" r="0.55"/><circle cx="154.3" cy="83.0" r="0.55"/><circle cx="153.5" cy="87.2" r="0.55"/><circle cx="153.7" cy="88.3" r="0.55"/><circle cx="154.2" cy="95.2" r="0.55"/><circle cx="152.8" cy="85.8" r="0.55"/><circle cx="154.1" cy="87.7" r="0.55"/><circle cx="150.6" cy="95.7" r="0.55"/><circle cx="153.7" cy="87.4" r="0.55"/><circle cx="152.6" cy="93.4" r="0.55"/><circle cx="152.4" cy="82.5" r="0.55"/><circle cx="150.5" cy="86.9" r="0.55"/><circle cx="154.4" cy="83.8" r="0.55"/><circle cx="152.4" cy="94.3" r="0.55"/><circle cx="156.7" cy="89.3" r="0.55"/><circle cx="152.7" cy="84.3" r="0.55"/><circle cx="151.7" cy="82.4" r="0.55"/><circle cx="151.2" cy="87.3" r="0.55"/><circle cx="152.6" cy="82.4" r="0.55"/><circle cx="155.3" cy="88.3" r="0.55"/><circle cx="158.1" cy="91.9" r="0.55"/><circle cx="157.5" cy="85.7" r="0.55"/><circle cx="153.4" cy="83.5" r="0.55"/><circle cx="152.7" cy="86.4" r="0.55"/><circle cx="152.7" cy="83.5" r="0.55"/><circle cx="152.2" cy="93.7" r="0.55"/><circle cx="155.7" cy="82.4" r="0.55"/><circle cx="153.4" cy="92.1" r="0.55"/><circle cx="151.5" cy="86.0" r="0.55"/><circle cx="154.3" cy="91.9" r="0.55"/><circle cx="158.4" cy="92.6" r="0.55"/><circle cx="154.5" cy="83.0" r="0.55"/><circle cx="152.9" cy="92.3" r="0.55"/><circle cx="155.1" cy="95.2" r="0.55"/><circle cx="155.6" cy="89.5" r="0.55"/><circle cx="156.8" cy="90.7" r="0.55"/><circle cx="149.2" cy="85.8" r="0.55"/><circle cx="152.5" cy="83.6" r="0.55"/><circle cx="156.1" cy="92.2" r="0.55"/><circle cx="152.6" cy="93.3" r="0.55"/><circle cx="152.7" cy="84.1" r="0.55"/><circle cx="151.1" cy="82.7" r="0.55"/><circle cx="155.6" cy="86.3" r="0.55"/><circle cx="151.1" cy="90.4" r="0.55"/><circle cx="152.0" cy="86.5" r="0.55"/></g>
<g fill="#2f9f7c" fill-opacity="0.62"><circle cx="145.2" cy="112.2" r="0.55"/><circle cx="155.1" cy="128.8" r="0.55"/><circle cx="155.3" cy="135.6" r="0.55"/><circle cx="147.7" cy="108.5" r="0.55"/><circle cx="155.6" cy="120.2" r="0.55"/><circle cx="159.7" cy="114.1" r="0.55"/><circle cx="156.3" cy="122.3" r="0.55"/><circle cx="146.2" cy="120.5" r="0.55"/><circle cx="137.6" cy="135.9" r="0.55"/><circle cx="152.4" cy="123.0" r="0.55"/><circle cx="155.8" cy="117.4" r="0.55"/><circle cx="152.4" cy="128.1" r="0.55"/><circle cx="151.1" cy="114.9" r="0.55"/><circle cx="149.0" cy="114.0" r="0.55"/><circle cx="160.2" cy="138.7" r="0.55"/><circle cx="154.1" cy="109.6" r="0.55"/><circle cx="155.5" cy="112.8" r="0.55"/><circle cx="146.7" cy="117.9" r="0.55"/><circle cx="149.5" cy="107.4" r="0.55"/><circle cx="155.8" cy="97.4" r="0.55"/><circle cx="146.5" cy="127.5" r="0.55"/><circle cx="144.4" cy="110.0" r="0.55"/><circle cx="151.9" cy="112.3" r="0.55"/><circle cx="164.1" cy="113.9" r="0.55"/><circle cx="156.0" cy="108.1" r="0.55"/><circle cx="166.2" cy="107.2" r="0.55"/><circle cx="153.4" cy="119.0" r="0.55"/><circle cx="152.0" cy="140.2" r="0.55"/><circle cx="143.4" cy="124.4" r="0.55"/><circle cx="149.9" cy="124.5" r="0.55"/><circle cx="166.0" cy="103.1" r="0.55"/><circle cx="157.1" cy="117.2" r="0.55"/><circle cx="160.4" cy="106.2" r="0.55"/><circle cx="160.1" cy="124.8" r="0.55"/><circle cx="154.4" cy="115.3" r="0.55"/><circle cx="152.9" cy="117.8" r="0.55"/><circle cx="155.5" cy="116.6" r="0.55"/><circle cx="159.9" cy="111.9" r="0.55"/><circle cx="158.2" cy="103.0" r="0.55"/><circle cx="158.4" cy="122.9" r="0.55"/><circle cx="155.7" cy="104.3" r="0.55"/><circle cx="148.3" cy="106.2" r="0.55"/><circle cx="152.4" cy="114.6" r="0.55"/><circle cx="147.0" cy="110.7" r="0.55"/><circle cx="162.5" cy="119.9" r="0.55"/><circle cx="137.7" cy="127.0" r="0.55"/><circle cx="152.8" cy="119.8" r="0.55"/><circle cx="173.6" cy="119.3" r="0.55"/><circle cx="151.8" cy="117.7" r="0.55"/><circle cx="145.4" cy="125.6" r="0.55"/><circle cx="154.4" cy="99.9" r="0.55"/><circle cx="164.8" cy="120.9" r="0.55"/><circle cx="153.2" cy="108.6" r="0.55"/><circle cx="159.4" cy="105.7" r="0.55"/><circle cx="155.3" cy="117.5" r="0.55"/><circle cx="151.5" cy="113.8" r="0.55"/><circle cx="179.7" cy="123.0" r="0.55"/><circle cx="155.1" cy="127.9" r="0.55"/><circle cx="150.2" cy="95.3" r="0.55"/><circle cx="150.6" cy="116.8" r="0.55"/><circle cx="157.5" cy="136.0" r="0.55"/><circle cx="157.8" cy="125.7" r="0.55"/><circle cx="160.7" cy="131.2" r="0.55"/><circle cx="155.6" cy="118.4" r="0.55"/><circle cx="143.0" cy="103.8" r="0.55"/><circle cx="158.8" cy="106.8" r="0.55"/><circle cx="152.0" cy="124.2" r="0.55"/><circle cx="152.2" cy="126.5" r="0.55"/><circle cx="142.6" cy="110.5" r="0.55"/><circle cx="149.9" cy="114.9" r="0.55"/><circle cx="148.7" cy="119.9" r="0.55"/><circle cx="154.2" cy="100.8" r="0.55"/><circle cx="142.9" cy="114.1" r="0.55"/><circle cx="154.9" cy="132.8" r="0.55"/><circle cx="155.5" cy="138.2" r="0.55"/><circle cx="145.5" cy="116.4" r="0.55"/><circle cx="149.5" cy="134.8" r="0.55"/><circle cx="147.6" cy="112.5" r="0.55"/><circle cx="161.8" cy="109.7" r="0.55"/><circle cx="134.3" cy="96.2" r="0.55"/><circle cx="151.8" cy="126.5" r="0.55"/><circle cx="141.2" cy="113.9" r="0.55"/><circle cx="151.0" cy="139.7" r="0.55"/><circle cx="161.3" cy="120.6" r="0.55"/><circle cx="149.5" cy="119.2" r="0.55"/><circle cx="155.6" cy="100.3" r="0.55"/><circle cx="147.7" cy="131.7" r="0.55"/><circle cx="170.0" cy="114.0" r="0.55"/><circle cx="161.8" cy="115.9" r="0.55"/><circle cx="163.5" cy="96.5" r="0.55"/><circle cx="143.9" cy="126.2" r="0.55"/><circle cx="145.7" cy="126.8" r="0.55"/><circle cx="163.1" cy="111.7" r="0.55"/><circle cx="152.9" cy="118.3" r="0.55"/><circle cx="152.4" cy="121.2" r="0.55"/><circle cx="157.2" cy="126.6" r="0.55"/><circle cx="144.5" cy="118.5" r="0.55"/><circle cx="160.7" cy="133.8" r="0.55"/><circle cx="154.6" cy="115.2" r="0.55"/><circle cx="158.3" cy="111.7" r="0.55"/><circle cx="149.1" cy="113.0" r="0.55"/><circle cx="158.6" cy="93.4" r="0.55"/><circle cx="148.9" cy="109.8" r="0.55"/><circle cx="162.1" cy="127.0" r="0.55"/><circle cx="163.5" cy="120.0" r="0.55"/><circle cx="161.8" cy="109.7" r="0.55"/><circle cx="158.6" cy="120.8" r="0.55"/><circle cx="159.6" cy="98.3" r="0.55"/><circle cx="132.9" cy="114.8" r="0.55"/><circle cx="161.2" cy="122.5" r="0.55"/><circle cx="152.3" cy="124.1" r="0.55"/><circle cx="155.3" cy="110.1" r="0.55"/><circle cx="152.2" cy="126.2" r="0.55"/><circle cx="143.4" cy="135.2" r="0.55"/><circle cx="150.2" cy="113.4" r="0.55"/><circle cx="159.8" cy="124.5" r="0.55"/><circle cx="165.8" cy="102.7" r="0.55"/><circle cx="149.5" cy="98.8" r="0.55"/><circle cx="147.3" cy="123.3" r="0.55"/><circle cx="166.1" cy="117.9" r="0.55"/><circle cx="147.4" cy="119.4" r="0.55"/><circle cx="171.1" cy="112.0" r="0.55"/><circle cx="154.9" cy="114.7" r="0.55"/><circle cx="147.4" cy="125.2" r="0.55"/><circle cx="162.4" cy="133.8" r="0.55"/><circle cx="168.0" cy="115.4" r="0.55"/><circle cx="143.0" cy="101.8" r="0.55"/><circle cx="167.0" cy="129.6" r="0.55"/><circle cx="152.2" cy="123.2" r="0.55"/><circle cx="166.4" cy="124.0" r="0.55"/><circle cx="151.5" cy="119.2" r="0.55"/><circle cx="141.9" cy="139.6" r="0.55"/><circle cx="158.5" cy="118.2" r="0.55"/><circle cx="161.9" cy="122.4" r="0.55"/><circle cx="171.3" cy="99.9" r="0.55"/><circle cx="168.3" cy="112.0" r="0.55"/><circle cx="160.1" cy="111.0" r="0.55"/><circle cx="152.6" cy="117.2" r="0.55"/><circle cx="150.3" cy="120.8" r="0.55"/><circle cx="152.1" cy="110.4" r="0.55"/><circle cx="147.9" cy="134.0" r="0.55"/><circle cx="152.3" cy="107.4" r="0.55"/><circle cx="134.1" cy="113.2" r="0.55"/><circle cx="155.9" cy="119.8" r="0.55"/><circle cx="154.3" cy="105.6" r="0.55"/><circle cx="175.0" cy="122.9" r="0.55"/><circle cx="160.6" cy="123.5" r="0.55"/><circle cx="150.7" cy="114.7" r="0.55"/><circle cx="159.0" cy="135.7" r="0.55"/><circle cx="144.7" cy="118.3" r="0.55"/><circle cx="149.7" cy="120.2" r="0.55"/><circle cx="139.6" cy="108.4" r="0.55"/><circle cx="166.0" cy="101.6" r="0.55"/><circle cx="159.2" cy="111.5" r="0.55"/><circle cx="145.1" cy="114.5" r="0.55"/><circle cx="154.0" cy="113.2" r="0.55"/><circle cx="162.1" cy="124.8" r="0.55"/><circle cx="158.5" cy="94.8" r="0.55"/><circle cx="157.6" cy="106.7" r="0.55"/><circle cx="147.6" cy="100.2" r="0.55"/><circle cx="149.4" cy="130.3" r="0.55"/><circle cx="155.3" cy="112.1" r="0.55"/><circle cx="161.9" cy="112.6" r="0.55"/><circle cx="147.9" cy="107.0" r="0.55"/><circle cx="145.5" cy="126.1" r="0.55"/><circle cx="163.7" cy="113.6" r="0.55"/><circle cx="147.1" cy="119.6" r="0.55"/><circle cx="163.1" cy="98.2" r="0.55"/><circle cx="156.4" cy="128.7" r="0.55"/><circle cx="161.5" cy="121.3" r="0.55"/><circle cx="168.5" cy="122.8" r="0.55"/><circle cx="160.0" cy="129.3" r="0.55"/><circle cx="160.7" cy="115.7" r="0.55"/><circle cx="147.2" cy="115.9" r="0.55"/><circle cx="148.9" cy="124.4" r="0.55"/><circle cx="159.7" cy="121.6" r="0.55"/><circle cx="166.8" cy="115.2" r="0.55"/><circle cx="165.6" cy="117.9" r="0.55"/><circle cx="173.0" cy="112.7" r="0.55"/><circle cx="157.0" cy="124.3" r="0.55"/><circle cx="156.1" cy="126.4" r="0.55"/><circle cx="162.5" cy="117.6" r="0.55"/><circle cx="154.7" cy="135.4" r="0.55"/><circle cx="154.0" cy="102.9" r="0.55"/><circle cx="146.1" cy="115.3" r="0.55"/><circle cx="162.4" cy="133.8" r="0.55"/><circle cx="145.9" cy="113.5" r="0.55"/><circle cx="158.6" cy="102.3" r="0.55"/><circle cx="143.1" cy="130.8" r="0.55"/><circle cx="163.3" cy="122.7" r="0.55"/><circle cx="146.3" cy="106.2" r="0.55"/><circle cx="161.2" cy="124.9" r="0.55"/><circle cx="141.8" cy="107.8" r="0.55"/><circle cx="151.0" cy="104.8" r="0.55"/><circle cx="163.9" cy="116.1" r="0.55"/><circle cx="148.1" cy="113.0" r="0.55"/><circle cx="155.0" cy="107.1" r="0.55"/><circle cx="150.7" cy="114.1" r="0.55"/><circle cx="136.0" cy="108.0" r="0.55"/><circle cx="157.0" cy="118.1" r="0.55"/><circle cx="158.0" cy="117.3" r="0.55"/><circle cx="145.6" cy="124.6" r="0.55"/><circle cx="159.1" cy="113.2" r="0.55"/><circle cx="148.1" cy="104.9" r="0.55"/><circle cx="146.5" cy="105.0" r="0.55"/><circle cx="154.6" cy="115.2" r="0.55"/><circle cx="149.0" cy="132.2" r="0.55"/><circle cx="172.8" cy="125.6" r="0.55"/><circle cx="142.1" cy="111.4" r="0.55"/><circle cx="160.4" cy="126.5" r="0.55"/><circle cx="162.4" cy="106.5" r="0.55"/><circle cx="138.7" cy="127.2" r="0.55"/><circle cx="140.6" cy="113.9" r="0.55"/><circle cx="159.0" cy="124.9" r="0.55"/><circle cx="150.6" cy="123.5" r="0.55"/><circle cx="157.6" cy="114.9" r="0.55"/><circle cx="163.6" cy="120.7" r="0.55"/><circle cx="151.5" cy="107.4" r="0.55"/><circle cx="146.0" cy="116.9" r="0.55"/><circle cx="132.7" cy="127.9" r="0.55"/><circle cx="156.1" cy="156.6" r="0.55"/><circle cx="147.1" cy="124.3" r="0.55"/><circle cx="157.0" cy="118.4" r="0.55"/><circle cx="156.4" cy="107.9" r="0.55"/><circle cx="143.4" cy="127.6" r="0.55"/><circle cx="168.3" cy="101.8" r="0.55"/><circle cx="163.2" cy="109.9" r="0.55"/><circle cx="161.3" cy="121.0" r="0.55"/><circle cx="145.0" cy="106.1" r="0.55"/><circle cx="151.2" cy="132.2" r="0.55"/><circle cx="150.1" cy="128.0" r="0.55"/><circle cx="151.2" cy="112.1" r="0.55"/><circle cx="145.5" cy="112.3" r="0.55"/><circle cx="158.0" cy="105.0" r="0.55"/><circle cx="156.3" cy="104.2" r="0.55"/><circle cx="157.4" cy="121.8" r="0.55"/><circle cx="150.5" cy="123.5" r="0.55"/><circle cx="164.8" cy="120.9" r="0.55"/><circle cx="156.0" cy="120.1" r="0.55"/><circle cx="132.6" cy="112.2" r="0.55"/><circle cx="149.4" cy="121.0" r="0.55"/><circle cx="154.0" cy="103.5" r="0.55"/><circle cx="162.2" cy="117.6" r="0.55"/><circle cx="152.1" cy="131.6" r="0.55"/><circle cx="152.5" cy="130.2" r="0.55"/><circle cx="149.2" cy="113.1" r="0.55"/><circle cx="159.8" cy="114.4" r="0.55"/><circle cx="150.9" cy="130.7" r="0.55"/><circle cx="149.7" cy="134.6" r="0.55"/><circle cx="148.6" cy="103.3" r="0.55"/><circle cx="159.0" cy="113.5" r="0.55"/><circle cx="150.2" cy="119.8" r="0.55"/><circle cx="141.1" cy="129.2" r="0.55"/><circle cx="159.5" cy="109.6" r="0.55"/><circle cx="148.9" cy="123.7" r="0.55"/><circle cx="157.4" cy="114.7" r="0.55"/><circle cx="157.5" cy="140.2" r="0.55"/><circle cx="164.1" cy="121.7" r="0.55"/><circle cx="162.9" cy="116.3" r="0.55"/><circle cx="149.9" cy="114.4" r="0.55"/><circle cx="153.2" cy="127.6" r="0.55"/><circle cx="144.2" cy="124.0" r="0.55"/><circle cx="167.9" cy="107.2" r="0.55"/><circle cx="158.0" cy="119.6" r="0.55"/><circle cx="165.7" cy="104.8" r="0.55"/><circle cx="151.9" cy="110.4" r="0.55"/><circle cx="138.1" cy="105.2" r="0.55"/><circle cx="166.8" cy="104.9" r="0.55"/><circle cx="155.2" cy="111.0" r="0.55"/><circle cx="155.6" cy="108.2" r="0.55"/><circle cx="154.9" cy="122.6" r="0.55"/><circle cx="159.7" cy="125.2" r="0.55"/><circle cx="158.8" cy="115.3" r="0.55"/><circle cx="141.8" cy="106.9" r="0.55"/><circle cx="163.2" cy="125.2" r="0.55"/><circle cx="150.3" cy="98.3" r="0.55"/><circle cx="150.8" cy="99.2" r="0.55"/><circle cx="168.3" cy="124.5" r="0.55"/><circle cx="161.9" cy="123.8" r="0.55"/><circle cx="151.8" cy="126.9" r="0.55"/><circle cx="139.6" cy="115.5" r="0.55"/><circle cx="155.8" cy="105.5" r="0.55"/><circle cx="158.8" cy="112.7" r="0.55"/><circle cx="153.9" cy="123.0" r="0.55"/><circle cx="144.5" cy="110.3" r="0.55"/><circle cx="148.2" cy="110.9" r="0.55"/><circle cx="144.5" cy="104.3" r="0.55"/><circle cx="156.2" cy="106.5" r="0.55"/><circle cx="161.1" cy="125.6" r="0.55"/><circle cx="162.7" cy="121.9" r="0.55"/><circle cx="148.6" cy="106.5" r="0.55"/><circle cx="156.4" cy="107.3" r="0.55"/><circle cx="158.9" cy="112.2" r="0.55"/><circle cx="150.4" cy="122.8" r="0.55"/><circle cx="153.3" cy="106.4" r="0.55"/><circle cx="171.5" cy="116.0" r="0.55"/><circle cx="156.1" cy="97.1" r="0.55"/><circle cx="161.6" cy="105.6" r="0.55"/><circle cx="151.0" cy="121.6" r="0.55"/><circle cx="154.8" cy="126.1" r="0.55"/><circle cx="140.8" cy="106.5" r="0.55"/><circle cx="154.3" cy="110.2" r="0.55"/><circle cx="164.0" cy="125.2" r="0.55"/><circle cx="171.3" cy="113.9" r="0.55"/><circle cx="164.1" cy="112.4" r="0.55"/><circle cx="160.0" cy="122.5" r="0.55"/><circle cx="154.9" cy="119.4" r="0.55"/><circle cx="149.7" cy="128.2" r="0.55"/><circle cx="153.2" cy="125.2" r="0.55"/><circle cx="159.4" cy="112.1" r="0.55"/><circle cx="148.2" cy="116.4" r="0.55"/><circle cx="162.0" cy="117.0" r="0.55"/><circle cx="146.6" cy="104.6" r="0.55"/><circle cx="140.3" cy="108.3" r="0.55"/><circle cx="146.4" cy="126.9" r="0.55"/><circle cx="141.2" cy="102.4" r="0.55"/><circle cx="143.5" cy="127.1" r="0.55"/><circle cx="163.6" cy="120.3" r="0.55"/><circle cx="152.9" cy="116.3" r="0.55"/><circle cx="156.2" cy="122.7" r="0.55"/><circle cx="163.8" cy="122.1" r="0.55"/><circle cx="164.6" cy="129.1" r="0.55"/><circle cx="150.5" cy="113.8" r="0.55"/><circle cx="165.1" cy="115.4" r="0.55"/><circle cx="157.6" cy="115.3" r="0.55"/><circle cx="154.5" cy="135.5" r="0.55"/><circle cx="158.0" cy="126.6" r="0.55"/><circle cx="143.1" cy="108.8" r="0.55"/><circle cx="148.2" cy="114.4" r="0.55"/><circle cx="153.6" cy="110.9" r="0.55"/><circle cx="159.4" cy="117.7" r="0.55"/><circle cx="151.5" cy="119.6" r="0.55"/><circle cx="153.5" cy="139.5" r="0.55"/><circle cx="162.3" cy="100.2" r="0.55"/><circle cx="165.8" cy="127.4" r="0.55"/><circle cx="160.6" cy="121.8" r="0.55"/><circle cx="164.6" cy="110.9" r="0.55"/><circle cx="151.3" cy="116.2" r="0.55"/><circle cx="152.0" cy="112.9" r="0.55"/><circle cx="157.0" cy="118.1" r="0.55"/><circle cx="152.1" cy="127.2" r="0.55"/><circle cx="150.4" cy="103.2" r="0.55"/><circle cx="167.7" cy="130.1" r="0.55"/><circle cx="152.9" cy="114.1" r="0.55"/><circle cx="146.8" cy="132.0" r="0.55"/><circle cx="158.4" cy="121.6" r="0.55"/><circle cx="169.2" cy="129.4" r="0.55"/><circle cx="155.1" cy="123.0" r="0.55"/><circle cx="164.4" cy="128.0" r="0.55"/><circle cx="151.0" cy="118.2" r="0.55"/><circle cx="150.6" cy="109.7" r="0.55"/><circle cx="149.0" cy="124.1" r="0.55"/><circle cx="153.4" cy="124.4" r="0.55"/><circle cx="169.2" cy="137.7" r="0.55"/><circle cx="145.3" cy="98.6" r="0.55"/><circle cx="167.6" cy="115.8" r="0.55"/><circle cx="146.4" cy="127.8" r="0.55"/><circle cx="152.6" cy="105.7" r="0.55"/><circle cx="161.2" cy="115.5" r="0.55"/><circle cx="159.5" cy="137.8" r="0.55"/><circle cx="156.8" cy="131.2" r="0.55"/><circle cx="141.3" cy="109.3" r="0.55"/><circle cx="157.4" cy="131.3" r="0.55"/><circle cx="146.3" cy="129.0" r="0.55"/><circle cx="175.1" cy="125.1" r="0.55"/><circle cx="152.8" cy="121.3" r="0.55"/><circle cx="156.0" cy="120.0" r="0.55"/><circle cx="145.3" cy="109.4" r="0.55"/><circle cx="150.7" cy="112.8" r="0.55"/><circle cx="144.2" cy="124.7" r="0.55"/><circle cx="162.4" cy="119.0" r="0.55"/><circle cx="152.4" cy="135.3" r="0.55"/><circle cx="159.0" cy="114.5" r="0.55"/><circle cx="149.0" cy="94.9" r="0.55"/><circle cx="150.5" cy="114.5" r="0.55"/><circle cx="164.8" cy="120.4" r="0.55"/><circle cx="146.7" cy="121.4" r="0.55"/><circle cx="140.1" cy="118.4" r="0.55"/><circle cx="157.7" cy="109.9" r="0.55"/><circle cx="145.4" cy="131.9" r="0.55"/><circle cx="151.0" cy="111.4" r="0.55"/><circle cx="161.8" cy="124.5" r="0.55"/><circle cx="148.0" cy="115.0" r="0.55"/><circle cx="161.5" cy="106.3" r="0.55"/><circle cx="149.1" cy="131.2" r="0.55"/><circle cx="166.4" cy="93.9" r="0.55"/><circle cx="165.1" cy="109.6" r="0.55"/><circle cx="150.7" cy="121.9" r="0.55"/><circle cx="152.8" cy="114.4" r="0.55"/><circle cx="147.8" cy="124.9" r="0.55"/><circle cx="156.1" cy="116.8" r="0.55"/><circle cx="163.7" cy="113.5" r="0.55"/><circle cx="142.9" cy="138.3" r="0.55"/><circle cx="161.8" cy="115.7" r="0.55"/><circle cx="143.9" cy="116.3" r="0.55"/><circle cx="147.6" cy="107.5" r="0.55"/><circle cx="140.2" cy="110.7" r="0.55"/><circle cx="171.3" cy="124.0" r="0.55"/><circle cx="155.0" cy="123.1" r="0.55"/><circle cx="156.5" cy="117.8" r="0.55"/><circle cx="149.1" cy="111.1" r="0.55"/><circle cx="163.0" cy="124.3" r="0.55"/><circle cx="137.7" cy="101.6" r="0.55"/><circle cx="154.7" cy="114.6" r="0.55"/><circle cx="172.2" cy="115.4" r="0.55"/><circle cx="151.4" cy="109.8" r="0.55"/><circle cx="154.6" cy="119.3" r="0.55"/><circle cx="159.9" cy="111.5" r="0.55"/><circle cx="148.0" cy="110.2" r="0.55"/><circle cx="154.7" cy="135.0" r="0.55"/><circle cx="162.2" cy="124.9" r="0.55"/><circle cx="156.1" cy="129.2" r="0.55"/><circle cx="157.5" cy="118.3" r="0.55"/><circle cx="151.7" cy="127.0" r="0.55"/><circle cx="157.0" cy="125.3" r="0.55"/><circle cx="154.9" cy="129.4" r="0.55"/><circle cx="166.1" cy="140.4" r="0.55"/><circle cx="160.3" cy="115.7" r="0.55"/><circle cx="152.6" cy="120.4" r="0.55"/><circle cx="134.9" cy="117.4" r="0.55"/><circle cx="160.2" cy="84.5" r="0.55"/><circle cx="160.5" cy="104.6" r="0.55"/><circle cx="147.2" cy="118.1" r="0.55"/><circle cx="138.5" cy="123.9" r="0.55"/><circle cx="145.4" cy="112.4" r="0.55"/><circle cx="161.9" cy="128.7" r="0.55"/><circle cx="146.0" cy="130.1" r="0.55"/><circle cx="150.8" cy="114.0" r="0.55"/><circle cx="156.3" cy="131.5" r="0.55"/><circle cx="164.3" cy="134.6" r="0.55"/><circle cx="154.4" cy="122.4" r="0.55"/><circle cx="153.7" cy="108.6" r="0.55"/><circle cx="150.1" cy="131.9" r="0.55"/><circle cx="167.5" cy="116.4" r="0.55"/><circle cx="163.0" cy="114.4" r="0.55"/><circle cx="153.7" cy="119.1" r="0.55"/><circle cx="143.3" cy="112.9" r="0.55"/><circle cx="148.2" cy="128.2" r="0.55"/><circle cx="159.1" cy="125.4" r="0.55"/><circle cx="148.7" cy="129.6" r="0.55"/><circle cx="161.6" cy="123.5" r="0.55"/><circle cx="157.4" cy="110.5" r="0.55"/><circle cx="156.8" cy="116.5" r="0.55"/><circle cx="159.7" cy="126.3" r="0.55"/><circle cx="158.5" cy="114.1" r="0.55"/><circle cx="147.7" cy="145.7" r="0.55"/><circle cx="151.9" cy="115.7" r="0.55"/><circle cx="173.2" cy="112.4" r="0.55"/><circle cx="144.8" cy="128.9" r="0.55"/><circle cx="150.7" cy="125.1" r="0.55"/><circle cx="163.0" cy="117.7" r="0.55"/><circle cx="153.2" cy="115.8" r="0.55"/><circle cx="148.0" cy="122.1" r="0.55"/><circle cx="143.9" cy="125.9" r="0.55"/><circle cx="158.8" cy="125.2" r="0.55"/><circle cx="162.7" cy="115.1" r="0.55"/><circle cx="165.7" cy="122.1" r="0.55"/><circle cx="154.9" cy="126.0" r="0.55"/><circle cx="162.9" cy="125.3" r="0.55"/><circle cx="146.2" cy="88.7" r="0.55"/><circle cx="155.8" cy="109.5" r="0.55"/><circle cx="149.1" cy="110.6" r="0.55"/><circle cx="155.9" cy="115.8" r="0.55"/><circle cx="160.5" cy="119.7" r="0.55"/><circle cx="163.1" cy="126.8" r="0.55"/><circle cx="146.6" cy="123.9" r="0.55"/><circle cx="164.6" cy="116.8" r="0.55"/><circle cx="150.7" cy="118.2" r="0.55"/><circle cx="146.3" cy="134.7" r="0.55"/><circle cx="153.1" cy="112.2" r="0.55"/><circle cx="142.8" cy="120.9" r="0.55"/><circle cx="154.5" cy="132.9" r="0.55"/><circle cx="156.8" cy="121.3" r="0.55"/><circle cx="152.9" cy="98.6" r="0.55"/><circle cx="158.8" cy="121.6" r="0.55"/><circle cx="152.0" cy="114.3" r="0.55"/><circle cx="154.5" cy="116.9" r="0.55"/><circle cx="143.0" cy="128.0" r="0.55"/><circle cx="154.8" cy="122.5" r="0.55"/><circle cx="147.7" cy="115.5" r="0.55"/><circle cx="150.9" cy="126.5" r="0.55"/><circle cx="153.8" cy="122.1" r="0.55"/><circle cx="156.0" cy="119.0" r="0.55"/><circle cx="141.3" cy="120.9" r="0.55"/><circle cx="142.0" cy="120.4" r="0.55"/><circle cx="152.1" cy="114.8" r="0.55"/><circle cx="158.3" cy="113.6" r="0.55"/><circle cx="157.4" cy="118.2" r="0.55"/><circle cx="161.6" cy="108.9" r="0.55"/><circle cx="164.9" cy="106.0" r="0.55"/><circle cx="158.5" cy="130.4" r="0.55"/><circle cx="154.3" cy="115.7" r="0.55"/><circle cx="146.2" cy="117.8" r="0.55"/><circle cx="146.9" cy="116.7" r="0.55"/><circle cx="150.8" cy="118.2" r="0.55"/><circle cx="156.6" cy="118.2" r="0.55"/><circle cx="156.3" cy="118.6" r="0.55"/><circle cx="154.5" cy="110.4" r="0.55"/><circle cx="153.3" cy="126.9" r="0.55"/><circle cx="159.5" cy="111.4" r="0.55"/><circle cx="156.2" cy="127.8" r="0.55"/><circle cx="156.9" cy="99.8" r="0.55"/><circle cx="157.0" cy="107.9" r="0.55"/><circle cx="150.1" cy="127.4" r="0.55"/><circle cx="146.3" cy="116.6" r="0.55"/><circle cx="158.4" cy="111.6" r="0.55"/><circle cx="157.8" cy="121.6" r="0.55"/><circle cx="152.7" cy="108.1" r="0.55"/><circle cx="151.2" cy="118.7" r="0.55"/><circle cx="172.7" cy="97.0" r="0.55"/><circle cx="148.4" cy="113.7" r="0.55"/><circle cx="152.8" cy="111.8" r="0.55"/><circle cx="156.6" cy="123.1" r="0.55"/><circle cx="145.3" cy="126.3" r="0.55"/><circle cx="155.4" cy="109.9" r="0.55"/><circle cx="168.9" cy="133.3" r="0.55"/><circle cx="162.0" cy="112.4" r="0.55"/><circle cx="159.6" cy="98.5" r="0.55"/><circle cx="159.2" cy="95.4" r="0.55"/><circle cx="155.4" cy="132.6" r="0.55"/><circle cx="162.2" cy="117.2" r="0.55"/><circle cx="153.3" cy="111.9" r="0.55"/><circle cx="151.1" cy="110.9" r="0.55"/><circle cx="155.3" cy="107.6" r="0.55"/><circle cx="161.7" cy="130.8" r="0.55"/><circle cx="157.1" cy="117.2" r="0.55"/><circle cx="159.9" cy="135.0" r="0.55"/><circle cx="138.3" cy="116.1" r="0.55"/><circle cx="164.0" cy="95.7" r="0.55"/><circle cx="173.2" cy="126.0" r="0.55"/><circle cx="165.2" cy="114.5" r="0.55"/><circle cx="152.0" cy="115.7" r="0.55"/><circle cx="147.7" cy="132.9" r="0.55"/><circle cx="156.7" cy="115.5" r="0.55"/><circle cx="146.6" cy="129.0" r="0.55"/><circle cx="160.3" cy="118.0" r="0.55"/><circle cx="150.3" cy="110.9" r="0.55"/><circle cx="162.2" cy="122.8" r="0.55"/><circle cx="165.4" cy="112.3" r="0.55"/><circle cx="138.2" cy="129.7" r="0.55"/><circle cx="156.8" cy="127.1" r="0.55"/><circle cx="148.9" cy="118.6" r="0.55"/><circle cx="143.2" cy="123.8" r="0.55"/><circle cx="149.6" cy="123.4" r="0.55"/><circle cx="152.7" cy="115.4" r="0.55"/><circle cx="162.8" cy="126.5" r="0.55"/><circle cx="142.3" cy="115.8" r="0.55"/><circle cx="162.9" cy="123.9" r="0.55"/><circle cx="170.6" cy="109.0" r="0.55"/><circle cx="159.3" cy="119.0" r="0.55"/><circle cx="158.9" cy="122.0" r="0.55"/><circle cx="154.4" cy="110.5" r="0.55"/><circle cx="145.1" cy="114.1" r="0.55"/><circle cx="158.8" cy="113.0" r="0.55"/><circle cx="157.6" cy="124.9" r="0.55"/><circle cx="160.4" cy="111.2" r="0.55"/><circle cx="175.1" cy="122.2" r="0.55"/><circle cx="160.3" cy="132.5" r="0.55"/><circle cx="157.9" cy="121.4" r="0.55"/><circle cx="167.0" cy="102.7" r="0.55"/><circle cx="143.7" cy="119.2" r="0.55"/><circle cx="145.4" cy="127.9" r="0.55"/><circle cx="151.5" cy="115.3" r="0.55"/><circle cx="149.3" cy="128.6" r="0.55"/><circle cx="160.1" cy="123.9" r="0.55"/><circle cx="152.0" cy="122.1" r="0.55"/><circle cx="168.4" cy="115.6" r="0.55"/><circle cx="166.7" cy="113.2" r="0.55"/><circle cx="160.7" cy="115.6" r="0.55"/><circle cx="151.4" cy="118.7" r="0.55"/><circle cx="159.4" cy="123.1" r="0.55"/><circle cx="161.0" cy="122.1" r="0.55"/><circle cx="146.0" cy="115.2" r="0.55"/><circle cx="157.3" cy="118.7" r="0.55"/><circle cx="160.1" cy="121.8" r="0.55"/><circle cx="156.2" cy="102.7" r="0.55"/><circle cx="167.1" cy="110.8" r="0.55"/><circle cx="164.2" cy="110.5" r="0.55"/><circle cx="147.9" cy="116.2" r="0.55"/><circle cx="155.5" cy="115.5" r="0.55"/><circle cx="147.8" cy="115.7" r="0.55"/><circle cx="159.1" cy="109.8" r="0.55"/><circle cx="147.6" cy="124.5" r="0.55"/><circle cx="161.9" cy="120.8" r="0.55"/><circle cx="157.6" cy="102.5" r="0.55"/><circle cx="162.3" cy="118.3" r="0.55"/><circle cx="153.3" cy="107.4" r="0.55"/><circle cx="142.8" cy="134.3" r="0.55"/><circle cx="168.6" cy="113.8" r="0.55"/><circle cx="153.1" cy="114.4" r="0.55"/><circle cx="165.5" cy="118.9" r="0.55"/><circle cx="157.9" cy="116.2" r="0.55"/><circle cx="159.9" cy="117.6" r="0.55"/><circle cx="169.1" cy="132.9" r="0.55"/><circle cx="157.2" cy="120.3" r="0.55"/><circle cx="165.7" cy="126.1" r="0.55"/><circle cx="142.6" cy="128.9" r="0.55"/><circle cx="161.5" cy="108.9" r="0.55"/><circle cx="152.6" cy="134.2" r="0.55"/><circle cx="153.4" cy="124.7" r="0.55"/><circle cx="154.6" cy="127.3" r="0.55"/><circle cx="157.3" cy="110.0" r="0.55"/><circle cx="167.8" cy="125.9" r="0.55"/><circle cx="139.7" cy="122.1" r="0.55"/><circle cx="154.9" cy="113.1" r="0.55"/><circle cx="148.8" cy="139.9" r="0.55"/><circle cx="163.8" cy="123.6" r="0.55"/><circle cx="151.1" cy="115.9" r="0.55"/><circle cx="158.2" cy="120.0" r="0.55"/><circle cx="151.3" cy="126.8" r="0.55"/><circle cx="159.8" cy="128.9" r="0.55"/><circle cx="162.6" cy="123.7" r="0.55"/><circle cx="151.3" cy="129.7" r="0.55"/><circle cx="154.9" cy="132.1" r="0.55"/><circle cx="143.1" cy="106.5" r="0.55"/><circle cx="156.9" cy="113.6" r="0.55"/><circle cx="161.4" cy="109.3" r="0.55"/><circle cx="150.1" cy="119.1" r="0.55"/><circle cx="163.5" cy="131.9" r="0.55"/><circle cx="137.9" cy="124.4" r="0.55"/><circle cx="139.7" cy="108.3" r="0.55"/><circle cx="143.4" cy="115.4" r="0.55"/><circle cx="150.6" cy="128.0" r="0.55"/><circle cx="154.6" cy="113.1" r="0.55"/><circle cx="153.9" cy="117.3" r="0.55"/><circle cx="154.0" cy="121.1" r="0.55"/><circle cx="160.3" cy="100.9" r="0.55"/><circle cx="150.7" cy="125.6" r="0.55"/><circle cx="144.4" cy="121.4" r="0.55"/><circle cx="144.5" cy="123.6" r="0.55"/><circle cx="171.4" cy="108.9" r="0.55"/><circle cx="135.7" cy="110.9" r="0.55"/><circle cx="153.1" cy="112.5" r="0.55"/><circle cx="166.2" cy="120.6" r="0.55"/><circle cx="158.4" cy="118.9" r="0.55"/><circle cx="147.9" cy="119.4" r="0.55"/><circle cx="154.5" cy="135.2" r="0.55"/><circle cx="161.4" cy="130.6" r="0.55"/><circle cx="164.2" cy="111.4" r="0.55"/><circle cx="147.3" cy="112.0" r="0.55"/><circle cx="160.6" cy="134.5" r="0.55"/><circle cx="156.5" cy="115.2" r="0.55"/><circle cx="163.3" cy="131.3" r="0.55"/><circle cx="165.6" cy="133.4" r="0.55"/><circle cx="151.8" cy="113.0" r="0.55"/><circle cx="142.9" cy="115.6" r="0.55"/><circle cx="157.7" cy="119.0" r="0.55"/><circle cx="168.7" cy="110.0" r="0.55"/><circle cx="160.0" cy="108.9" r="0.55"/><circle cx="156.3" cy="114.4" r="0.55"/><circle cx="173.7" cy="126.3" r="0.55"/><circle cx="146.2" cy="113.9" r="0.55"/><circle cx="161.7" cy="116.2" r="0.55"/><circle cx="149.9" cy="113.8" r="0.55"/><circle cx="154.9" cy="105.2" r="0.55"/><circle cx="155.2" cy="132.3" r="0.55"/><circle cx="166.6" cy="95.9" r="0.55"/><circle cx="147.0" cy="112.0" r="0.55"/><circle cx="150.2" cy="123.5" r="0.55"/><circle cx="141.8" cy="104.9" r="0.55"/><circle cx="158.4" cy="123.9" r="0.55"/><circle cx="150.8" cy="130.1" r="0.55"/><circle cx="157.9" cy="110.0" r="0.55"/><circle cx="145.9" cy="120.2" r="0.55"/><circle cx="151.6" cy="107.6" r="0.55"/><circle cx="162.8" cy="123.0" r="0.55"/><circle cx="153.1" cy="119.0" r="0.55"/><circle cx="159.5" cy="120.2" r="0.55"/><circle cx="158.7" cy="131.2" r="0.55"/><circle cx="151.7" cy="122.7" r="0.55"/><circle cx="142.0" cy="131.0" r="0.55"/><circle cx="162.4" cy="124.2" r="0.55"/><circle cx="155.9" cy="106.8" r="0.55"/><circle cx="162.4" cy="120.7" r="0.55"/><circle cx="138.4" cy="122.8" r="0.55"/><circle cx="141.3" cy="104.5" r="0.55"/><circle cx="137.4" cy="130.9" r="0.55"/><circle cx="147.5" cy="118.8" r="0.55"/><circle cx="162.8" cy="121.7" r="0.55"/><circle cx="159.0" cy="109.7" r="0.55"/><circle cx="154.2" cy="118.9" r="0.55"/><circle cx="155.5" cy="121.0" r="0.55"/><circle cx="160.6" cy="115.1" r="0.55"/><circle cx="152.1" cy="118.9" r="0.55"/><circle cx="157.7" cy="98.0" r="0.55"/><circle cx="155.6" cy="131.1" r="0.55"/><circle cx="137.0" cy="107.6" r="0.55"/><circle cx="151.4" cy="97.5" r="0.55"/><circle cx="165.4" cy="109.1" r="0.55"/><circle cx="151.3" cy="110.2" r="0.55"/><circle cx="153.4" cy="123.3" r="0.55"/><circle cx="149.6" cy="109.5" r="0.55"/><circle cx="150.6" cy="120.9" r="0.55"/><circle cx="163.5" cy="109.1" r="0.55"/><circle cx="152.4" cy="139.1" r="0.55"/><circle cx="146.3" cy="123.4" r="0.55"/><circle cx="129.6" cy="136.8" r="0.55"/><circle cx="149.9" cy="108.5" r="0.55"/><circle cx="138.8" cy="124.5" r="0.55"/><circle cx="139.9" cy="109.1" r="0.55"/><circle cx="160.9" cy="123.7" r="0.55"/><circle cx="160.2" cy="124.6" r="0.55"/><circle cx="139.2" cy="103.0" r="0.55"/><circle cx="161.3" cy="107.4" r="0.55"/><circle cx="158.2" cy="107.1" r="0.55"/><circle cx="148.2" cy="103.9" r="0.55"/><circle cx="160.4" cy="111.2" r="0.55"/><circle cx="141.5" cy="109.0" r="0.55"/><circle cx="144.9" cy="104.4" r="0.55"/><circle cx="143.0" cy="119.1" r="0.55"/><circle cx="145.6" cy="123.3" r="0.55"/><circle cx="161.5" cy="105.7" r="0.55"/><circle cx="143.8" cy="112.8" r="0.55"/><circle cx="145.3" cy="118.2" r="0.55"/><circle cx="146.9" cy="115.9" r="0.55"/><circle cx="156.1" cy="111.5" r="0.55"/><circle cx="151.8" cy="125.8" r="0.55"/><circle cx="161.4" cy="126.2" r="0.55"/><circle cx="148.8" cy="124.6" r="0.55"/><circle cx="144.2" cy="116.1" r="0.55"/><circle cx="150.5" cy="137.0" r="0.55"/><circle cx="154.8" cy="134.7" r="0.55"/><circle cx="147.0" cy="114.3" r="0.55"/><circle cx="156.7" cy="117.0" r="0.55"/><circle cx="169.0" cy="129.4" r="0.55"/><circle cx="149.8" cy="110.5" r="0.55"/><circle cx="154.8" cy="121.9" r="0.55"/><circle cx="165.2" cy="118.5" r="0.55"/><circle cx="149.2" cy="111.4" r="0.55"/><circle cx="147.6" cy="115.9" r="0.55"/><circle cx="145.7" cy="103.2" r="0.55"/><circle cx="157.6" cy="112.9" r="0.55"/><circle cx="158.5" cy="99.1" r="0.55"/><circle cx="153.2" cy="139.8" r="0.55"/><circle cx="154.7" cy="132.4" r="0.55"/><circle cx="164.6" cy="129.8" r="0.55"/><circle cx="161.3" cy="121.0" r="0.55"/><circle cx="143.1" cy="127.6" r="0.55"/><circle cx="154.3" cy="130.2" r="0.55"/><circle cx="155.2" cy="127.7" r="0.55"/><circle cx="160.1" cy="126.8" r="0.55"/><circle cx="152.5" cy="109.4" r="0.55"/><circle cx="149.1" cy="122.1" r="0.55"/><circle cx="150.6" cy="113.0" r="0.55"/><circle cx="140.1" cy="106.8" r="0.55"/><circle cx="154.1" cy="107.2" r="0.55"/><circle cx="149.5" cy="122.1" r="0.55"/><circle cx="158.0" cy="128.1" r="0.55"/><circle cx="146.1" cy="105.1" r="0.55"/><circle cx="150.8" cy="134.6" r="0.55"/><circle cx="146.4" cy="132.0" r="0.55"/><circle cx="145.7" cy="114.4" r="0.55"/><circle cx="159.8" cy="113.6" r="0.55"/><circle cx="150.5" cy="117.3" r="0.55"/><circle cx="157.8" cy="127.4" r="0.55"/><circle cx="145.3" cy="114.4" r="0.55"/><circle cx="155.0" cy="107.5" r="0.55"/><circle cx="140.7" cy="121.3" r="0.55"/><circle cx="150.4" cy="98.4" r="0.55"/><circle cx="150.2" cy="119.4" r="0.55"/><circle cx="158.9" cy="129.0" r="0.55"/><circle cx="155.6" cy="120.9" r="0.55"/><circle cx="152.8" cy="125.4" r="0.55"/><circle cx="160.9" cy="122.7" r="0.55"/><circle cx="155.7" cy="124.9" r="0.55"/><circle cx="158.5" cy="119.4" r="0.55"/><circle cx="160.3" cy="110.1" r="0.55"/><circle cx="153.6" cy="115.9" r="0.55"/><circle cx="151.8" cy="117.3" r="0.55"/><circle cx="156.8" cy="130.0" r="0.55"/><circle cx="150.8" cy="133.4" r="0.55"/><circle cx="157.2" cy="122.0" r="0.55"/><circle cx="163.0" cy="110.8" r="0.55"/><circle cx="161.0" cy="111.1" r="0.55"/><circle cx="151.1" cy="116.2" r="0.55"/><circle cx="143.9" cy="131.2" r="0.55"/><circle cx="153.7" cy="121.2" r="0.55"/><circle cx="153.1" cy="117.5" r="0.55"/><circle cx="163.0" cy="110.7" r="0.55"/><circle cx="151.1" cy="126.4" r="0.55"/><circle cx="152.5" cy="120.7" r="0.55"/><circle cx="160.0" cy="117.5" r="0.55"/><circle cx="150.3" cy="119.0" r="0.55"/><circle cx="152.9" cy="134.0" r="0.55"/><circle cx="167.8" cy="116.5" r="0.55"/><circle cx="166.0" cy="134.0" r="0.55"/><circle cx="159.2" cy="129.8" r="0.55"/><circle cx="156.3" cy="118.5" r="0.55"/><circle cx="146.4" cy="126.4" r="0.55"/><circle cx="158.6" cy="116.8" r="0.55"/><circle cx="154.6" cy="110.1" r="0.55"/><circle cx="155.9" cy="115.5" r="0.55"/><circle cx="150.0" cy="109.4" r="0.55"/><circle cx="154.0" cy="122.9" r="0.55"/><circle cx="152.7" cy="118.1" r="0.55"/><circle cx="156.6" cy="123.4" r="0.55"/><circle cx="165.5" cy="125.9" r="0.55"/><circle cx="157.0" cy="88.4" r="0.55"/><circle cx="140.9" cy="121.0" r="0.55"/><circle cx="146.4" cy="100.9" r="0.55"/><circle cx="141.5" cy="119.6" r="0.55"/><circle cx="147.8" cy="109.7" r="0.55"/><circle cx="158.6" cy="119.0" r="0.55"/><circle cx="157.3" cy="131.0" r="0.55"/><circle cx="149.3" cy="101.8" r="0.55"/><circle cx="156.2" cy="119.8" r="0.55"/><circle cx="148.1" cy="117.3" r="0.55"/><circle cx="142.8" cy="100.0" r="0.55"/><circle cx="142.9" cy="124.2" r="0.55"/><circle cx="147.3" cy="118.3" r="0.55"/><circle cx="165.5" cy="113.2" r="0.55"/><circle cx="143.4" cy="111.1" r="0.55"/><circle cx="164.0" cy="148.5" r="0.55"/><circle cx="164.7" cy="114.3" r="0.55"/><circle cx="152.7" cy="100.9" r="0.55"/><circle cx="153.7" cy="109.2" r="0.55"/><circle cx="149.2" cy="114.5" r="0.55"/><circle cx="153.9" cy="114.3" r="0.55"/><circle cx="159.4" cy="117.3" r="0.55"/><circle cx="154.2" cy="108.1" r="0.55"/><circle cx="162.1" cy="123.1" r="0.55"/><circle cx="163.6" cy="113.4" r="0.55"/><circle cx="156.8" cy="105.1" r="0.55"/><circle cx="156.7" cy="110.3" r="0.55"/><circle cx="153.6" cy="114.3" r="0.55"/><circle cx="156.9" cy="126.1" r="0.55"/><circle cx="145.2" cy="122.6" r="0.55"/><circle cx="157.3" cy="114.8" r="0.55"/><circle cx="155.7" cy="118.2" r="0.55"/><circle cx="147.2" cy="120.0" r="0.55"/><circle cx="171.3" cy="137.4" r="0.55"/><circle cx="146.3" cy="112.1" r="0.55"/><circle cx="147.1" cy="122.4" r="0.55"/><circle cx="156.3" cy="124.9" r="0.55"/><circle cx="138.6" cy="108.9" r="0.55"/><circle cx="147.8" cy="119.8" r="0.55"/><circle cx="141.9" cy="119.6" r="0.55"/><circle cx="146.4" cy="113.5" r="0.55"/><circle cx="153.0" cy="123.4" r="0.55"/><circle cx="156.6" cy="127.8" r="0.55"/><circle cx="162.9" cy="128.7" r="0.55"/><circle cx="160.5" cy="116.2" r="0.55"/><circle cx="163.5" cy="119.8" r="0.55"/><circle cx="158.8" cy="140.3" r="0.55"/><circle cx="150.3" cy="107.5" r="0.55"/><circle cx="163.0" cy="120.1" r="0.55"/><circle cx="150.2" cy="126.5" r="0.55"/><circle cx="149.2" cy="119.4" r="0.55"/><circle cx="166.3" cy="124.2" r="0.55"/><circle cx="160.4" cy="119.6" r="0.55"/><circle cx="155.8" cy="125.2" r="0.55"/><circle cx="160.1" cy="130.2" r="0.55"/><circle cx="161.1" cy="115.9" r="0.55"/><circle cx="143.2" cy="119.9" r="0.55"/><circle cx="153.3" cy="117.5" r="0.55"/><circle cx="144.6" cy="114.2" r="0.55"/><circle cx="155.0" cy="117.8" r="0.55"/><circle cx="148.7" cy="107.2" r="0.55"/><circle cx="164.9" cy="125.1" r="0.55"/><circle cx="158.2" cy="134.2" r="0.55"/><circle cx="147.6" cy="134.2" r="0.55"/><circle cx="153.9" cy="130.1" r="0.55"/><circle cx="144.4" cy="108.8" r="0.55"/><circle cx="154.4" cy="132.4" r="0.55"/><circle cx="158.4" cy="111.2" r="0.55"/><circle cx="156.2" cy="117.5" r="0.55"/><circle cx="138.6" cy="135.5" r="0.55"/><circle cx="151.4" cy="107.8" r="0.55"/><circle cx="158.1" cy="126.0" r="0.55"/><circle cx="156.5" cy="120.7" r="0.55"/><circle cx="163.3" cy="116.6" r="0.55"/><circle cx="143.8" cy="109.7" r="0.55"/><circle cx="158.2" cy="122.0" r="0.55"/><circle cx="148.8" cy="113.6" r="0.55"/><circle cx="155.6" cy="127.9" r="0.55"/><circle cx="157.3" cy="129.6" r="0.55"/><circle cx="159.5" cy="104.9" r="0.55"/><circle cx="149.4" cy="113.2" r="0.55"/><circle cx="155.5" cy="115.0" r="0.55"/><circle cx="144.7" cy="106.8" r="0.55"/><circle cx="142.8" cy="107.4" r="0.55"/><circle cx="158.5" cy="118.8" r="0.55"/><circle cx="153.6" cy="116.0" r="0.55"/><circle cx="141.1" cy="102.3" r="0.55"/><circle cx="147.2" cy="112.9" r="0.55"/><circle cx="154.2" cy="122.9" r="0.55"/><circle cx="166.5" cy="106.5" r="0.55"/><circle cx="162.4" cy="109.2" r="0.55"/><circle cx="160.4" cy="133.1" r="0.55"/><circle cx="139.8" cy="130.5" r="0.55"/><circle cx="153.3" cy="102.6" r="0.55"/><circle cx="157.9" cy="105.2" r="0.55"/><circle cx="157.2" cy="121.6" r="0.55"/><circle cx="157.4" cy="106.7" r="0.55"/><circle cx="152.2" cy="115.6" r="0.55"/><circle cx="168.1" cy="113.7" r="0.55"/><circle cx="165.8" cy="123.3" r="0.55"/><circle cx="153.3" cy="94.0" r="0.55"/><circle cx="146.2" cy="97.1" r="0.55"/><circle cx="170.5" cy="106.4" r="0.55"/></g>
<g fill="#2f9f7c" fill-opacity="0.45"><circle cx="166.9" cy="119.0" r="0.45"/><circle cx="143.5" cy="111.9" r="0.45"/><circle cx="170.5" cy="106.9" r="0.45"/><circle cx="140.4" cy="131.1" r="0.45"/><circle cx="167.8" cy="107.0" r="0.45"/><circle cx="164.3" cy="128.2" r="0.45"/><circle cx="151.5" cy="130.6" r="0.45"/><circle cx="164.3" cy="134.8" r="0.45"/><circle cx="169.6" cy="103.3" r="0.45"/><circle cx="144.3" cy="104.8" r="0.45"/><circle cx="159.8" cy="102.1" r="0.45"/><circle cx="139.1" cy="110.9" r="0.45"/><circle cx="160.3" cy="132.5" r="0.45"/><circle cx="141.0" cy="122.8" r="0.45"/><circle cx="160.4" cy="104.7" r="0.45"/><circle cx="139.9" cy="102.9" r="0.45"/><circle cx="151.9" cy="126.7" r="0.45"/><circle cx="166.7" cy="122.1" r="0.45"/><circle cx="148.8" cy="99.1" r="0.45"/><circle cx="170.0" cy="120.7" r="0.45"/><circle cx="154.1" cy="106.0" r="0.45"/><circle cx="144.8" cy="109.9" r="0.45"/><circle cx="169.0" cy="102.7" r="0.45"/><circle cx="144.0" cy="135.7" r="0.45"/><circle cx="158.0" cy="115.9" r="0.45"/><circle cx="169.2" cy="121.8" r="0.45"/><circle cx="169.1" cy="106.6" r="0.45"/><circle cx="156.8" cy="112.9" r="0.45"/><circle cx="145.8" cy="122.9" r="0.45"/><circle cx="155.0" cy="126.6" r="0.45"/><circle cx="148.3" cy="132.6" r="0.45"/><circle cx="149.1" cy="108.2" r="0.45"/><circle cx="149.2" cy="107.9" r="0.45"/><circle cx="145.5" cy="113.9" r="0.45"/><circle cx="140.2" cy="110.4" r="0.45"/><circle cx="163.0" cy="129.3" r="0.45"/><circle cx="139.4" cy="112.7" r="0.45"/><circle cx="157.3" cy="112.8" r="0.45"/><circle cx="150.7" cy="117.6" r="0.45"/><circle cx="159.8" cy="119.9" r="0.45"/><circle cx="157.6" cy="112.1" r="0.45"/><circle cx="154.3" cy="99.3" r="0.45"/><circle cx="163.9" cy="126.2" r="0.45"/><circle cx="157.3" cy="103.2" r="0.45"/><circle cx="167.8" cy="130.6" r="0.45"/><circle cx="157.7" cy="108.1" r="0.45"/><circle cx="167.0" cy="108.5" r="0.45"/><circle cx="166.7" cy="118.8" r="0.45"/><circle cx="161.6" cy="132.6" r="0.45"/><circle cx="149.5" cy="113.1" r="0.45"/><circle cx="154.6" cy="116.8" r="0.45"/><circle cx="141.5" cy="114.3" r="0.45"/><circle cx="162.2" cy="103.1" r="0.45"/><circle cx="159.7" cy="109.7" r="0.45"/><circle cx="165.2" cy="132.9" r="0.45"/><circle cx="141.7" cy="133.8" r="0.45"/><circle cx="143.1" cy="108.4" r="0.45"/><circle cx="159.7" cy="133.0" r="0.45"/><circle cx="162.4" cy="99.6" r="0.45"/><circle cx="141.4" cy="125.6" r="0.45"/><circle cx="140.0" cy="99.9" r="0.45"/><circle cx="149.4" cy="114.8" r="0.45"/><circle cx="149.9" cy="114.3" r="0.45"/><circle cx="140.7" cy="115.1" r="0.45"/><circle cx="142.1" cy="133.8" r="0.45"/><circle cx="145.5" cy="112.0" r="0.45"/><circle cx="139.5" cy="99.7" r="0.45"/><circle cx="143.7" cy="103.1" r="0.45"/><circle cx="139.8" cy="126.7" r="0.45"/><circle cx="150.8" cy="103.8" r="0.45"/><circle cx="163.0" cy="101.2" r="0.45"/><circle cx="160.2" cy="106.2" r="0.45"/><circle cx="158.3" cy="135.2" r="0.45"/><circle cx="154.0" cy="115.5" r="0.45"/><circle cx="145.0" cy="104.5" r="0.45"/><circle cx="140.5" cy="123.4" r="0.45"/><circle cx="144.9" cy="113.0" r="0.45"/><circle cx="169.3" cy="119.5" r="0.45"/><circle cx="165.0" cy="135.9" r="0.45"/><circle cx="157.2" cy="124.9" r="0.45"/><circle cx="158.6" cy="118.8" r="0.45"/><circle cx="162.8" cy="135.9" r="0.45"/><circle cx="165.3" cy="117.7" r="0.45"/><circle cx="146.7" cy="115.8" r="0.45"/><circle cx="164.7" cy="130.5" r="0.45"/><circle cx="159.7" cy="134.4" r="0.45"/><circle cx="147.9" cy="125.6" r="0.45"/><circle cx="148.2" cy="112.5" r="0.45"/><circle cx="144.5" cy="113.9" r="0.45"/><circle cx="156.5" cy="99.3" r="0.45"/><circle cx="170.0" cy="107.9" r="0.45"/><circle cx="164.3" cy="127.7" r="0.45"/><circle cx="144.3" cy="117.1" r="0.45"/><circle cx="142.8" cy="130.7" r="0.45"/><circle cx="148.0" cy="123.8" r="0.45"/><circle cx="144.3" cy="119.9" r="0.45"/><circle cx="143.6" cy="128.8" r="0.45"/><circle cx="162.4" cy="117.4" r="0.45"/><circle cx="149.1" cy="123.7" r="0.45"/><circle cx="157.1" cy="117.1" r="0.45"/><circle cx="149.1" cy="112.0" r="0.45"/><circle cx="170.5" cy="127.3" r="0.45"/><circle cx="157.9" cy="101.6" r="0.45"/><circle cx="143.5" cy="135.2" r="0.45"/><circle cx="163.9" cy="134.5" r="0.45"/><circle cx="148.3" cy="129.7" r="0.45"/><circle cx="153.6" cy="116.3" r="0.45"/><circle cx="148.2" cy="115.6" r="0.45"/><circle cx="154.7" cy="113.9" r="0.45"/><circle cx="148.8" cy="116.0" r="0.45"/><circle cx="149.3" cy="107.2" r="0.45"/><circle cx="144.0" cy="128.6" r="0.45"/><circle cx="169.7" cy="131.6" r="0.45"/><circle cx="145.6" cy="117.5" r="0.45"/><circle cx="148.0" cy="130.6" r="0.45"/><circle cx="152.1" cy="109.8" r="0.45"/><circle cx="142.8" cy="130.8" r="0.45"/><circle cx="146.3" cy="135.0" r="0.45"/><circle cx="152.0" cy="123.8" r="0.45"/><circle cx="157.7" cy="134.6" r="0.45"/><circle cx="156.2" cy="125.9" r="0.45"/><circle cx="150.8" cy="124.7" r="0.45"/><circle cx="160.7" cy="116.5" r="0.45"/><circle cx="162.9" cy="101.2" r="0.45"/><circle cx="147.5" cy="103.6" r="0.45"/><circle cx="146.7" cy="129.6" r="0.45"/><circle cx="159.0" cy="105.7" r="0.45"/><circle cx="152.2" cy="124.4" r="0.45"/><circle cx="165.6" cy="104.9" r="0.45"/><circle cx="139.3" cy="126.9" r="0.45"/></g>
<g fill="#ead66a" fill-opacity="0.6"><circle cx="169.5" cy="76.2" r="0.45"/><circle cx="167.9" cy="80.0" r="0.45"/><circle cx="161.8" cy="83.1" r="0.45"/><circle cx="169.5" cy="79.8" r="0.45"/><circle cx="167.3" cy="81.7" r="0.45"/><circle cx="170.0" cy="78.2" r="0.45"/><circle cx="163.8" cy="83.4" r="0.45"/><circle cx="164.4" cy="82.0" r="0.45"/><circle cx="169.4" cy="76.7" r="0.45"/><circle cx="168.2" cy="76.8" r="0.45"/><circle cx="169.6" cy="77.1" r="0.45"/><circle cx="163.4" cy="77.0" r="0.45"/><circle cx="165.1" cy="76.3" r="0.45"/><circle cx="169.7" cy="76.7" r="0.45"/><circle cx="169.6" cy="81.1" r="0.45"/><circle cx="161.9" cy="82.5" r="0.45"/><circle cx="162.1" cy="81.6" r="0.45"/><circle cx="159.1" cy="81.1" r="0.45"/><circle cx="162.9" cy="83.1" r="0.45"/><circle cx="161.7" cy="83.3" r="0.45"/><circle cx="164.0" cy="79.9" r="0.45"/><circle cx="164.4" cy="76.6" r="0.45"/><circle cx="171.1" cy="79.3" r="0.45"/><circle cx="165.8" cy="81.2" r="0.45"/><circle cx="165.3" cy="84.7" r="0.45"/><circle cx="170.4" cy="77.9" r="0.45"/><circle cx="168.0" cy="75.3" r="0.45"/><circle cx="169.8" cy="76.2" r="0.45"/><circle cx="162.8" cy="84.5" r="0.45"/><circle cx="166.2" cy="78.7" r="0.45"/></g>
<g fill="#86bde8" fill-opacity="0.8"><circle cx="179.8" cy="108.6" r="0.55"/><circle cx="172.3" cy="103.1" r="0.55"/><circle cx="183.7" cy="106.1" r="0.55"/><circle cx="177.3" cy="109.9" r="0.55"/><circle cx="177.2" cy="94.3" r="0.55"/><circle cx="182.2" cy="102.1" r="0.55"/><circle cx="181.2" cy="101.7" r="0.55"/><circle cx="178.0" cy="107.2" r="0.55"/><circle cx="180.1" cy="99.4" r="0.55"/><circle cx="184.3" cy="100.8" r="0.55"/><circle cx="184.0" cy="99.6" r="0.55"/><circle cx="179.3" cy="104.9" r="0.55"/><circle cx="171.7" cy="98.1" r="0.55"/><circle cx="174.0" cy="100.2" r="0.55"/><circle cx="185.4" cy="109.2" r="0.55"/><circle cx="177.7" cy="100.5" r="0.55"/><circle cx="180.2" cy="104.7" r="0.55"/><circle cx="172.0" cy="99.8" r="0.55"/><circle cx="180.1" cy="101.7" r="0.55"/><circle cx="180.9" cy="101.6" r="0.55"/><circle cx="183.1" cy="103.8" r="0.55"/><circle cx="185.5" cy="108.4" r="0.55"/><circle cx="177.1" cy="103.0" r="0.55"/><circle cx="175.2" cy="101.1" r="0.55"/><circle cx="172.3" cy="100.2" r="0.55"/><circle cx="173.2" cy="104.4" r="0.55"/><circle cx="175.7" cy="104.4" r="0.55"/><circle cx="185.0" cy="109.6" r="0.55"/><circle cx="180.5" cy="100.2" r="0.55"/><circle cx="181.1" cy="104.6" r="0.55"/><circle cx="182.2" cy="104.7" r="0.55"/><circle cx="169.4" cy="99.6" r="0.55"/><circle cx="177.6" cy="95.4" r="0.55"/><circle cx="178.8" cy="103.5" r="0.55"/><circle cx="170.9" cy="98.9" r="0.55"/><circle cx="170.6" cy="102.2" r="0.55"/><circle cx="182.7" cy="104.5" r="0.55"/><circle cx="183.1" cy="99.1" r="0.55"/><circle cx="172.0" cy="99.9" r="0.55"/><circle cx="175.0" cy="95.3" r="0.55"/><circle cx="182.5" cy="109.7" r="0.55"/><circle cx="180.1" cy="99.4" r="0.55"/><circle cx="178.9" cy="96.2" r="0.55"/><circle cx="182.6" cy="102.9" r="0.55"/><circle cx="181.5" cy="103.1" r="0.55"/><circle cx="186.4" cy="107.2" r="0.55"/><circle cx="173.7" cy="96.6" r="0.55"/><circle cx="182.1" cy="106.7" r="0.55"/><circle cx="175.8" cy="104.8" r="0.55"/><circle cx="181.5" cy="90.7" r="0.55"/><circle cx="178.9" cy="101.8" r="0.55"/><circle cx="174.6" cy="92.9" r="0.55"/><circle cx="172.1" cy="99.4" r="0.55"/><circle cx="172.1" cy="98.8" r="0.55"/><circle cx="182.5" cy="101.7" r="0.55"/><circle cx="182.4" cy="102.8" r="0.55"/><circle cx="175.8" cy="98.1" r="0.55"/><circle cx="177.7" cy="97.6" r="0.55"/><circle cx="184.3" cy="101.1" r="0.55"/><circle cx="174.7" cy="104.0" r="0.55"/><circle cx="175.8" cy="101.4" r="0.55"/><circle cx="186.2" cy="105.2" r="0.55"/><circle cx="178.9" cy="103.6" r="0.55"/><circle cx="182.0" cy="99.0" r="0.55"/><circle cx="180.1" cy="103.7" r="0.55"/><circle cx="172.3" cy="96.6" r="0.55"/><circle cx="174.6" cy="104.5" r="0.55"/><circle cx="184.5" cy="101.6" r="0.55"/><circle cx="182.5" cy="99.7" r="0.55"/><circle cx="184.8" cy="106.1" r="0.55"/><circle cx="174.7" cy="101.6" r="0.55"/><circle cx="178.0" cy="102.4" r="0.55"/><circle cx="173.6" cy="100.8" r="0.55"/><circle cx="175.1" cy="97.3" r="0.55"/><circle cx="171.2" cy="99.5" r="0.55"/><circle cx="175.0" cy="97.8" r="0.55"/><circle cx="176.4" cy="94.9" r="0.55"/><circle cx="175.9" cy="104.1" r="0.55"/><circle cx="173.9" cy="105.8" r="0.55"/><circle cx="182.5" cy="105.5" r="0.55"/><circle cx="182.5" cy="106.2" r="0.55"/><circle cx="179.4" cy="102.0" r="0.55"/><circle cx="179.7" cy="107.4" r="0.55"/><circle cx="175.1" cy="106.0" r="0.55"/><circle cx="175.9" cy="100.1" r="0.55"/><circle cx="177.0" cy="104.6" r="0.55"/><circle cx="181.0" cy="102.5" r="0.55"/><circle cx="184.5" cy="110.2" r="0.55"/><circle cx="182.4" cy="108.5" r="0.55"/><circle cx="175.5" cy="93.1" r="0.55"/><circle cx="181.2" cy="102.6" r="0.55"/><circle cx="174.0" cy="95.8" r="0.55"/><circle cx="181.5" cy="100.6" r="0.55"/><circle cx="184.2" cy="105.5" r="0.55"/><circle cx="180.7" cy="106.9" r="0.55"/><circle cx="172.1" cy="99.2" r="0.55"/><circle cx="176.9" cy="102.2" r="0.55"/><circle cx="179.0" cy="92.4" r="0.55"/><circle cx="180.6" cy="105.1" r="0.55"/><circle cx="183.2" cy="100.8" r="0.55"/><circle cx="181.3" cy="107.4" r="0.55"/><circle cx="180.1" cy="95.8" r="0.55"/><circle cx="181.4" cy="99.7" r="0.55"/><circle cx="175.7" cy="97.1" r="0.55"/><circle cx="185.5" cy="106.3" r="0.55"/><circle cx="186.5" cy="104.2" r="0.55"/><circle cx="170.5" cy="98.6" r="0.55"/><circle cx="179.6" cy="102.7" r="0.55"/><circle cx="183.2" cy="101.3" r="0.55"/><circle cx="169.4" cy="106.2" r="0.55"/><circle cx="168.7" cy="101.0" r="0.55"/><circle cx="174.8" cy="92.0" r="0.55"/><circle cx="183.0" cy="101.1" r="0.55"/><circle cx="171.9" cy="96.2" r="0.55"/><circle cx="175.1" cy="103.5" r="0.55"/><circle cx="183.1" cy="105.7" r="0.55"/><circle cx="169.3" cy="100.9" r="0.55"/><circle cx="179.8" cy="109.8" r="0.55"/><circle cx="178.9" cy="99.8" r="0.55"/><circle cx="175.7" cy="102.8" r="0.55"/><circle cx="177.6" cy="103.2" r="0.55"/><circle cx="177.8" cy="98.8" r="0.55"/><circle cx="185.6" cy="102.5" r="0.55"/><circle cx="181.6" cy="102.8" r="0.55"/><circle cx="176.8" cy="101.2" r="0.55"/><circle cx="175.0" cy="95.4" r="0.55"/><circle cx="178.1" cy="103.2" r="0.55"/><circle cx="185.7" cy="109.4" r="0.55"/><circle cx="184.9" cy="105.9" r="0.55"/><circle cx="172.1" cy="97.6" r="0.55"/><circle cx="174.5" cy="103.3" r="0.55"/><circle cx="179.0" cy="100.9" r="0.55"/><circle cx="178.6" cy="99.4" r="0.55"/><circle cx="177.8" cy="91.5" r="0.55"/><circle cx="172.7" cy="100.5" r="0.55"/><circle cx="181.2" cy="100.0" r="0.55"/><circle cx="180.4" cy="108.9" r="0.55"/><circle cx="180.4" cy="108.7" r="0.55"/><circle cx="182.6" cy="100.4" r="0.55"/><circle cx="182.4" cy="101.0" r="0.55"/><circle cx="173.3" cy="94.2" r="0.55"/><circle cx="176.9" cy="95.9" r="0.55"/><circle cx="173.6" cy="103.9" r="0.55"/><circle cx="175.2" cy="99.3" r="0.55"/><circle cx="178.5" cy="99.0" r="0.55"/><circle cx="177.4" cy="100.7" r="0.55"/><circle cx="175.9" cy="101.0" r="0.55"/><circle cx="171.2" cy="97.1" r="0.55"/><circle cx="185.3" cy="103.4" r="0.55"/><circle cx="186.3" cy="105.5" r="0.55"/><circle cx="181.1" cy="101.3" r="0.55"/><circle cx="175.1" cy="100.0" r="0.55"/><circle cx="177.4" cy="102.4" r="0.55"/><circle cx="185.4" cy="105.6" r="0.55"/><circle cx="183.5" cy="94.1" r="0.55"/><circle cx="183.7" cy="98.7" r="0.55"/><circle cx="183.2" cy="100.2" r="0.55"/><circle cx="188.1" cy="102.0" r="0.55"/><circle cx="181.6" cy="102.3" r="0.55"/><circle cx="175.8" cy="93.9" r="0.55"/><circle cx="177.6" cy="103.8" r="0.55"/><circle cx="183.4" cy="111.6" r="0.55"/><circle cx="172.3" cy="99.3" r="0.55"/><circle cx="171.5" cy="97.9" r="0.55"/><circle cx="173.6" cy="95.1" r="0.55"/><circle cx="175.9" cy="92.6" r="0.55"/><circle cx="172.5" cy="100.1" r="0.55"/><circle cx="184.2" cy="101.4" r="0.55"/><circle cx="180.6" cy="101.9" r="0.55"/><circle cx="182.4" cy="104.1" r="0.55"/><circle cx="180.0" cy="101.3" r="0.55"/><circle cx="178.5" cy="98.0" r="0.55"/><circle cx="184.0" cy="102.6" r="0.55"/><circle cx="173.4" cy="99.1" r="0.55"/><circle cx="178.4" cy="98.3" r="0.55"/><circle cx="179.0" cy="99.2" r="0.55"/><circle cx="180.5" cy="106.4" r="0.55"/><circle cx="183.5" cy="102.8" r="0.55"/><circle cx="181.5" cy="97.9" r="0.55"/><circle cx="181.3" cy="100.6" r="0.55"/><circle cx="178.4" cy="95.8" r="0.55"/><circle cx="179.3" cy="105.1" r="0.55"/><circle cx="186.4" cy="99.4" r="0.55"/><circle cx="177.2" cy="102.3" r="0.55"/><circle cx="181.9" cy="106.6" r="0.55"/><circle cx="175.2" cy="107.0" r="0.55"/><circle cx="181.4" cy="99.0" r="0.55"/><circle cx="181.2" cy="100.9" r="0.55"/><circle cx="176.5" cy="94.0" r="0.55"/><circle cx="173.7" cy="100.0" r="0.55"/><circle cx="171.6" cy="101.7" r="0.55"/><circle cx="174.4" cy="109.0" r="0.55"/><circle cx="181.1" cy="104.3" r="0.55"/><circle cx="182.3" cy="103.0" r="0.55"/><circle cx="175.1" cy="97.9" r="0.55"/><circle cx="178.4" cy="97.5" r="0.55"/><circle cx="176.5" cy="94.2" r="0.55"/><circle cx="183.0" cy="98.4" r="0.55"/><circle cx="173.8" cy="106.3" r="0.55"/><circle cx="175.6" cy="99.3" r="0.55"/></g>
<g fill="#86bde8" fill-opacity="0.5"><circle cx="199.5" cy="96.3" r="0.45"/><circle cx="191.2" cy="92.5" r="0.45"/><circle cx="182.5" cy="84.2" r="0.45"/><circle cx="184.2" cy="88.8" r="0.45"/><circle cx="187.6" cy="82.0" r="0.45"/><circle cx="194.5" cy="88.1" r="0.45"/><circle cx="192.2" cy="89.8" r="0.45"/><circle cx="194.3" cy="94.0" r="0.45"/><circle cx="182.3" cy="87.0" r="0.45"/><circle cx="186.5" cy="91.7" r="0.45"/><circle cx="192.0" cy="91.9" r="0.45"/><circle cx="193.8" cy="89.9" r="0.45"/><circle cx="189.8" cy="91.2" r="0.45"/><circle cx="185.9" cy="88.9" r="0.45"/><circle cx="187.6" cy="91.2" r="0.45"/><circle cx="195.7" cy="88.9" r="0.45"/><circle cx="194.9" cy="95.7" r="0.45"/><circle cx="186.5" cy="83.7" r="0.45"/><circle cx="199.1" cy="95.0" r="0.45"/><circle cx="182.8" cy="93.2" r="0.45"/><circle cx="186.2" cy="82.2" r="0.45"/><circle cx="189.9" cy="92.8" r="0.45"/><circle cx="196.5" cy="87.4" r="0.45"/><circle cx="192.2" cy="89.6" r="0.45"/><circle cx="194.2" cy="89.8" r="0.45"/><circle cx="199.1" cy="93.0" r="0.45"/><circle cx="188.6" cy="89.3" r="0.45"/><circle cx="185.3" cy="91.5" r="0.45"/><circle cx="189.4" cy="85.3" r="0.45"/><circle cx="192.1" cy="83.1" r="0.45"/><circle cx="184.4" cy="92.0" r="0.45"/><circle cx="182.7" cy="96.8" r="0.45"/><circle cx="195.1" cy="83.2" r="0.45"/><circle cx="199.8" cy="95.7" r="0.45"/><circle cx="198.8" cy="87.8" r="0.45"/><circle cx="188.8" cy="91.8" r="0.45"/><circle cx="190.2" cy="86.0" r="0.45"/><circle cx="196.9" cy="92.4" r="0.45"/><circle cx="199.7" cy="88.5" r="0.45"/><circle cx="188.4" cy="93.9" r="0.45"/></g>
<g fill="#eab078" fill-opacity="0.5"><circle cx="200.1" cy="80.3" r="0.55"/><circle cx="204.2" cy="80.2" r="0.55"/><circle cx="205.0" cy="93.0" r="0.55"/><circle cx="199.4" cy="72.7" r="0.55"/><circle cx="211.0" cy="104.6" r="0.55"/><circle cx="210.2" cy="89.2" r="0.55"/><circle cx="215.3" cy="102.7" r="0.55"/><circle cx="200.8" cy="75.1" r="0.55"/><circle cx="208.9" cy="94.5" r="0.55"/><circle cx="200.3" cy="76.6" r="0.55"/><circle cx="200.2" cy="71.1" r="0.55"/><circle cx="204.8" cy="84.9" r="0.55"/><circle cx="206.8" cy="85.0" r="0.55"/><circle cx="207.2" cy="88.7" r="0.55"/><circle cx="208.0" cy="84.1" r="0.55"/><circle cx="197.1" cy="78.5" r="0.55"/><circle cx="212.8" cy="91.0" r="0.55"/><circle cx="199.7" cy="80.0" r="0.55"/><circle cx="201.0" cy="80.3" r="0.55"/><circle cx="206.2" cy="98.3" r="0.55"/><circle cx="208.5" cy="93.6" r="0.55"/><circle cx="211.8" cy="93.8" r="0.55"/><circle cx="211.3" cy="102.2" r="0.55"/><circle cx="213.9" cy="98.2" r="0.55"/><circle cx="204.9" cy="74.4" r="0.55"/><circle cx="215.0" cy="103.0" r="0.55"/><circle cx="206.1" cy="87.6" r="0.55"/><circle cx="207.7" cy="88.4" r="0.55"/><circle cx="197.1" cy="82.3" r="0.55"/><circle cx="206.0" cy="81.7" r="0.55"/><circle cx="204.6" cy="90.2" r="0.55"/><circle cx="195.5" cy="71.9" r="0.55"/><circle cx="211.4" cy="93.6" r="0.55"/><circle cx="205.9" cy="79.8" r="0.55"/><circle cx="210.1" cy="93.1" r="0.55"/><circle cx="213.6" cy="93.3" r="0.55"/><circle cx="212.1" cy="88.6" r="0.55"/><circle cx="201.3" cy="70.0" r="0.55"/><circle cx="203.6" cy="91.0" r="0.55"/><circle cx="201.7" cy="82.9" r="0.55"/><circle cx="212.0" cy="92.9" r="0.55"/><circle cx="210.3" cy="93.8" r="0.55"/><circle cx="209.0" cy="85.1" r="0.55"/><circle cx="210.0" cy="94.7" r="0.55"/><circle cx="200.7" cy="73.6" r="0.55"/><circle cx="213.0" cy="97.1" r="0.55"/><circle cx="216.9" cy="101.9" r="0.55"/><circle cx="215.4" cy="99.7" r="0.55"/><circle cx="210.9" cy="97.7" r="0.55"/><circle cx="210.1" cy="80.1" r="0.55"/><circle cx="210.2" cy="103.1" r="0.55"/><circle cx="206.0" cy="89.6" r="0.55"/><circle cx="206.1" cy="73.4" r="0.55"/><circle cx="206.5" cy="88.4" r="0.55"/><circle cx="214.1" cy="98.1" r="0.55"/><circle cx="211.9" cy="91.4" r="0.55"/><circle cx="213.3" cy="97.6" r="0.55"/><circle cx="197.2" cy="70.8" r="0.55"/><circle cx="217.3" cy="101.8" r="0.55"/><circle cx="215.5" cy="100.5" r="0.55"/><circle cx="203.4" cy="88.4" r="0.55"/><circle cx="218.9" cy="99.2" r="0.55"/><circle cx="197.4" cy="77.6" r="0.55"/><circle cx="206.3" cy="80.3" r="0.55"/><circle cx="198.3" cy="76.4" r="0.55"/><circle cx="208.1" cy="93.2" r="0.55"/><circle cx="214.8" cy="100.6" r="0.55"/><circle cx="214.1" cy="101.5" r="0.55"/><circle cx="198.5" cy="72.1" r="0.55"/><circle cx="207.2" cy="97.4" r="0.55"/><circle cx="202.8" cy="91.3" r="0.55"/><circle cx="202.2" cy="76.2" r="0.55"/><circle cx="214.2" cy="99.9" r="0.55"/><circle cx="209.9" cy="85.8" r="0.55"/><circle cx="195.6" cy="72.2" r="0.55"/><circle cx="204.3" cy="82.2" r="0.55"/><circle cx="202.0" cy="97.4" r="0.55"/><circle cx="213.0" cy="98.5" r="0.55"/><circle cx="200.8" cy="76.2" r="0.55"/><circle cx="208.6" cy="89.4" r="0.55"/><circle cx="195.2" cy="74.6" r="0.55"/><circle cx="213.8" cy="100.8" r="0.55"/><circle cx="195.9" cy="70.5" r="0.55"/><circle cx="214.6" cy="102.9" r="0.55"/><circle cx="211.8" cy="86.3" r="0.55"/><circle cx="205.8" cy="97.2" r="0.55"/><circle cx="214.2" cy="89.6" r="0.55"/><circle cx="207.7" cy="86.0" r="0.55"/><circle cx="206.1" cy="83.9" r="0.55"/><circle cx="199.4" cy="77.5" r="0.55"/></g>
<g fill="#93c4bb" fill-opacity="0.3"><circle cx="272.7" cy="118.2" r="0.45"/><circle cx="288.2" cy="85.6" r="0.45"/><circle cx="294.5" cy="76.0" r="0.45"/><circle cx="302.5" cy="114.1" r="0.45"/><circle cx="281.4" cy="107.1" r="0.45"/><circle cx="290.2" cy="137.2" r="0.45"/><circle cx="249.2" cy="92.3" r="0.45"/><circle cx="246.2" cy="92.3" r="0.45"/><circle cx="303.3" cy="69.5" r="0.45"/><circle cx="251.7" cy="61.2" r="0.45"/><circle cx="270.5" cy="70.9" r="0.45"/><circle cx="309.9" cy="106.2" r="0.45"/><circle cx="244.9" cy="135.2" r="0.45"/><circle cx="291.7" cy="68.8" r="0.45"/><circle cx="253.9" cy="72.5" r="0.45"/><circle cx="287.1" cy="113.2" r="0.45"/><circle cx="303.9" cy="83.6" r="0.45"/><circle cx="304.2" cy="63.6" r="0.45"/><circle cx="300.4" cy="129.2" r="0.45"/><circle cx="277.6" cy="71.6" r="0.45"/><circle cx="279.8" cy="94.0" r="0.45"/><circle cx="247.1" cy="118.9" r="0.45"/><circle cx="242.3" cy="120.8" r="0.45"/><circle cx="297.8" cy="134.6" r="0.45"/><circle cx="236.6" cy="106.2" r="0.45"/><circle cx="314.1" cy="71.5" r="0.45"/><circle cx="248.3" cy="66.3" r="0.45"/><circle cx="295.4" cy="110.2" r="0.45"/><circle cx="271.4" cy="101.8" r="0.45"/><circle cx="285.9" cy="79.4" r="0.45"/><circle cx="298.6" cy="72.9" r="0.45"/><circle cx="258.1" cy="87.3" r="0.45"/><circle cx="304.6" cy="82.5" r="0.45"/><circle cx="298.5" cy="87.7" r="0.45"/><circle cx="283.1" cy="87.4" r="0.45"/><circle cx="282.5" cy="118.7" r="0.45"/><circle cx="265.8" cy="96.0" r="0.45"/><circle cx="317.3" cy="126.1" r="0.45"/><circle cx="266.1" cy="99.2" r="0.45"/><circle cx="253.2" cy="82.7" r="0.45"/><circle cx="281.1" cy="132.1" r="0.45"/><circle cx="313.0" cy="110.8" r="0.45"/><circle cx="313.5" cy="125.8" r="0.45"/><circle cx="282.9" cy="78.2" r="0.45"/><circle cx="266.5" cy="135.9" r="0.45"/><circle cx="297.7" cy="109.5" r="0.45"/><circle cx="281.2" cy="89.2" r="0.45"/><circle cx="304.4" cy="79.6" r="0.45"/><circle cx="305.3" cy="67.7" r="0.45"/><circle cx="293.8" cy="62.6" r="0.45"/><circle cx="317.6" cy="75.3" r="0.45"/><circle cx="289.1" cy="84.2" r="0.45"/><circle cx="317.8" cy="101.4" r="0.45"/><circle cx="289.4" cy="91.0" r="0.45"/><circle cx="251.2" cy="63.5" r="0.45"/><circle cx="287.2" cy="71.3" r="0.45"/><circle cx="299.6" cy="61.4" r="0.45"/><circle cx="269.2" cy="63.2" r="0.45"/><circle cx="246.8" cy="83.2" r="0.45"/><circle cx="263.0" cy="109.8" r="0.45"/><circle cx="300.8" cy="72.0" r="0.45"/><circle cx="250.3" cy="128.9" r="0.45"/><circle cx="233.0" cy="137.0" r="0.45"/><circle cx="309.4" cy="108.0" r="0.45"/><circle cx="317.5" cy="63.8" r="0.45"/><circle cx="308.5" cy="74.2" r="0.45"/><circle cx="302.5" cy="99.9" r="0.45"/><circle cx="296.2" cy="132.9" r="0.45"/><circle cx="280.5" cy="136.6" r="0.45"/><circle cx="289.4" cy="117.5" r="0.45"/></g>
<g fill="#4d94d8" fill-opacity="0.85"><circle cx="276.4" cy="48.1" r="0.5"/><circle cx="272.3" cy="52.9" r="0.5"/><circle cx="275.3" cy="50.8" r="0.5"/><circle cx="272.9" cy="50.0" r="0.5"/><circle cx="273.1" cy="52.2" r="0.5"/><circle cx="275.2" cy="50.3" r="0.5"/><circle cx="272.7" cy="49.2" r="0.5"/><circle cx="277.5" cy="47.9" r="0.5"/><circle cx="273.9" cy="53.8" r="0.5"/><circle cx="273.3" cy="51.7" r="0.5"/><circle cx="272.8" cy="52.5" r="0.5"/><circle cx="273.6" cy="52.4" r="0.5"/><circle cx="272.5" cy="51.1" r="0.5"/><circle cx="275.0" cy="51.8" r="0.5"/><circle cx="275.8" cy="47.3" r="0.5"/><circle cx="274.8" cy="52.1" r="0.5"/><circle cx="272.6" cy="49.8" r="0.5"/><circle cx="274.9" cy="53.4" r="0.5"/><circle cx="274.2" cy="52.7" r="0.5"/><circle cx="275.7" cy="53.4" r="0.5"/><circle cx="276.1" cy="50.6" r="0.5"/><circle cx="274.8" cy="52.3" r="0.5"/><circle cx="271.9" cy="51.2" r="0.5"/><circle cx="274.1" cy="50.2" r="0.5"/><circle cx="273.1" cy="53.9" r="0.5"/><circle cx="274.2" cy="47.4" r="0.5"/><circle cx="274.3" cy="54.1" r="0.5"/><circle cx="272.2" cy="50.2" r="0.5"/><circle cx="277.4" cy="47.7" r="0.5"/><circle cx="272.1" cy="52.2" r="0.5"/><circle cx="273.4" cy="53.8" r="0.5"/><circle cx="276.6" cy="51.5" r="0.5"/><circle cx="275.4" cy="49.8" r="0.5"/><circle cx="272.9" cy="50.8" r="0.5"/><circle cx="274.0" cy="52.6" r="0.5"/><circle cx="274.6" cy="49.0" r="0.5"/><circle cx="275.0" cy="50.0" r="0.5"/><circle cx="273.7" cy="51.4" r="0.5"/><circle cx="274.8" cy="49.7" r="0.5"/><circle cx="274.7" cy="47.8" r="0.5"/><circle cx="274.0" cy="50.2" r="0.5"/><circle cx="274.5" cy="51.4" r="0.5"/><circle cx="274.5" cy="49.5" r="0.5"/><circle cx="276.0" cy="51.1" r="0.5"/><circle cx="274.4" cy="53.8" r="0.5"/></g>
<g fill="#2a8c8c" fill-opacity="0.8"><circle cx="247.9" cy="64.8" r="0.45"/><circle cx="248.7" cy="73.5" r="0.45"/><circle cx="247.8" cy="67.9" r="0.45"/><circle cx="248.0" cy="67.6" r="0.45"/><circle cx="246.6" cy="71.2" r="0.45"/><circle cx="247.9" cy="75.7" r="0.45"/><circle cx="245.9" cy="67.4" r="0.45"/><circle cx="247.2" cy="66.7" r="0.45"/><circle cx="248.1" cy="68.4" r="0.45"/><circle cx="247.6" cy="73.4" r="0.45"/><circle cx="248.4" cy="75.2" r="0.45"/><circle cx="247.2" cy="65.9" r="0.45"/><circle cx="249.0" cy="64.3" r="0.45"/><circle cx="246.7" cy="67.7" r="0.45"/><circle cx="247.5" cy="67.9" r="0.45"/></g>
<g fill="#ead66a" fill-opacity="0.6"><circle cx="272.1" cy="76.1" r="0.45"/><circle cx="278.0" cy="74.9" r="0.45"/><circle cx="274.4" cy="76.1" r="0.45"/><circle cx="264.4" cy="80.0" r="0.45"/><circle cx="277.8" cy="73.3" r="0.45"/><circle cx="271.2" cy="75.4" r="0.45"/><circle cx="273.6" cy="76.7" r="0.45"/><circle cx="277.7" cy="74.8" r="0.45"/><circle cx="270.3" cy="73.7" r="0.45"/><circle cx="267.5" cy="78.8" r="0.45"/><circle cx="268.1" cy="75.0" r="0.45"/><circle cx="274.5" cy="74.8" r="0.45"/><circle cx="270.3" cy="77.6" r="0.45"/><circle cx="267.3" cy="79.7" r="0.45"/><circle cx="268.1" cy="75.8" r="0.45"/><circle cx="267.5" cy="81.2" r="0.45"/><circle cx="265.9" cy="79.8" r="0.45"/><circle cx="268.0" cy="81.2" r="0.45"/><circle cx="270.1" cy="75.1" r="0.45"/><circle cx="271.7" cy="80.3" r="0.45"/><circle cx="269.5" cy="81.3" r="0.45"/><circle cx="274.9" cy="76.4" r="0.45"/><circle cx="271.3" cy="72.1" r="0.45"/><circle cx="275.8" cy="75.4" r="0.45"/><circle cx="269.0" cy="81.3" r="0.45"/><circle cx="272.0" cy="73.7" r="0.45"/><circle cx="268.6" cy="78.8" r="0.45"/><circle cx="270.4" cy="75.6" r="0.45"/><circle cx="271.5" cy="77.6" r="0.45"/><circle cx="274.6" cy="77.4" r="0.45"/><circle cx="270.4" cy="74.1" r="0.45"/><circle cx="276.1" cy="71.4" r="0.45"/><circle cx="272.7" cy="75.6" r="0.45"/><circle cx="268.3" cy="76.8" r="0.45"/><circle cx="275.4" cy="75.2" r="0.45"/><circle cx="267.2" cy="79.7" r="0.45"/><circle cx="274.9" cy="74.8" r="0.45"/><circle cx="272.9" cy="76.1" r="0.45"/><circle cx="268.9" cy="79.1" r="0.45"/><circle cx="274.8" cy="75.7" r="0.45"/><circle cx="265.9" cy="79.6" r="0.45"/><circle cx="264.9" cy="80.4" r="0.45"/><circle cx="269.0" cy="79.0" r="0.45"/><circle cx="269.7" cy="74.9" r="0.45"/><circle cx="272.5" cy="74.7" r="0.45"/></g>
<g fill="#4d94d8" fill-opacity="0.6"><circle cx="282.6" cy="107.8" r="0.55"/><circle cx="289.2" cy="109.8" r="0.55"/><circle cx="286.6" cy="114.0" r="0.55"/><circle cx="295.0" cy="95.2" r="0.55"/><circle cx="281.2" cy="105.8" r="0.55"/><circle cx="293.0" cy="98.1" r="0.55"/><circle cx="284.1" cy="110.8" r="0.55"/><circle cx="291.7" cy="104.2" r="0.55"/><circle cx="291.1" cy="93.0" r="0.55"/><circle cx="292.3" cy="95.2" r="0.55"/><circle cx="294.7" cy="87.2" r="0.55"/><circle cx="288.0" cy="96.7" r="0.55"/><circle cx="289.5" cy="96.3" r="0.55"/><circle cx="294.7" cy="105.0" r="0.55"/><circle cx="284.1" cy="107.6" r="0.55"/><circle cx="288.4" cy="110.0" r="0.55"/><circle cx="284.2" cy="107.5" r="0.55"/><circle cx="285.4" cy="104.4" r="0.55"/><circle cx="293.8" cy="98.9" r="0.55"/><circle cx="293.9" cy="90.6" r="0.55"/><circle cx="286.7" cy="106.1" r="0.55"/><circle cx="299.2" cy="88.0" r="0.55"/><circle cx="293.7" cy="85.5" r="0.55"/><circle cx="289.0" cy="110.1" r="0.55"/><circle cx="293.1" cy="90.0" r="0.55"/><circle cx="284.7" cy="114.0" r="0.55"/><circle cx="284.8" cy="108.7" r="0.55"/><circle cx="286.9" cy="102.9" r="0.55"/><circle cx="288.0" cy="116.2" r="0.55"/><circle cx="291.5" cy="88.0" r="0.55"/><circle cx="288.8" cy="94.7" r="0.55"/><circle cx="287.3" cy="102.4" r="0.55"/><circle cx="290.0" cy="109.4" r="0.55"/><circle cx="296.5" cy="87.6" r="0.55"/><circle cx="290.4" cy="109.1" r="0.55"/><circle cx="287.6" cy="114.2" r="0.55"/><circle cx="293.0" cy="89.2" r="0.55"/><circle cx="280.2" cy="107.3" r="0.55"/><circle cx="288.0" cy="111.8" r="0.55"/><circle cx="287.4" cy="96.4" r="0.55"/><circle cx="288.8" cy="104.8" r="0.55"/><circle cx="288.4" cy="112.8" r="0.55"/><circle cx="293.3" cy="104.5" r="0.55"/><circle cx="287.7" cy="100.2" r="0.55"/><circle cx="286.1" cy="104.4" r="0.55"/><circle cx="296.8" cy="85.7" r="0.55"/><circle cx="283.5" cy="110.1" r="0.55"/><circle cx="295.8" cy="86.1" r="0.55"/><circle cx="290.9" cy="106.0" r="0.55"/><circle cx="289.9" cy="112.2" r="0.55"/><circle cx="283.7" cy="112.3" r="0.55"/><circle cx="286.6" cy="114.3" r="0.55"/><circle cx="289.0" cy="108.8" r="0.55"/><circle cx="294.8" cy="96.8" r="0.55"/><circle cx="279.5" cy="101.9" r="0.55"/><circle cx="280.1" cy="106.0" r="0.55"/><circle cx="292.5" cy="88.8" r="0.55"/><circle cx="281.2" cy="111.4" r="0.55"/><circle cx="294.7" cy="96.7" r="0.55"/><circle cx="292.3" cy="106.0" r="0.55"/><circle cx="290.6" cy="93.5" r="0.55"/><circle cx="294.9" cy="95.8" r="0.55"/><circle cx="286.0" cy="112.6" r="0.55"/><circle cx="282.0" cy="111.7" r="0.55"/><circle cx="290.0" cy="84.5" r="0.55"/><circle cx="287.5" cy="115.4" r="0.55"/><circle cx="288.0" cy="112.4" r="0.55"/><circle cx="288.1" cy="112.5" r="0.55"/><circle cx="284.2" cy="109.4" r="0.55"/><circle cx="297.2" cy="95.9" r="0.55"/><circle cx="284.2" cy="109.7" r="0.55"/><circle cx="292.1" cy="99.0" r="0.55"/><circle cx="287.9" cy="112.7" r="0.55"/><circle cx="282.8" cy="109.0" r="0.55"/><circle cx="292.1" cy="96.5" r="0.55"/><circle cx="286.4" cy="112.1" r="0.55"/><circle cx="284.4" cy="113.5" r="0.55"/><circle cx="295.1" cy="92.4" r="0.55"/><circle cx="294.0" cy="92.6" r="0.55"/><circle cx="296.3" cy="84.7" r="0.55"/><circle cx="281.6" cy="111.4" r="0.55"/><circle cx="293.7" cy="86.9" r="0.55"/><circle cx="296.2" cy="96.0" r="0.55"/><circle cx="280.4" cy="109.0" r="0.55"/><circle cx="290.7" cy="95.3" r="0.55"/><circle cx="292.3" cy="95.0" r="0.55"/><circle cx="295.3" cy="86.6" r="0.55"/><circle cx="298.3" cy="87.1" r="0.55"/><circle cx="285.4" cy="104.3" r="0.55"/><circle cx="301.3" cy="92.0" r="0.55"/><circle cx="290.4" cy="105.5" r="0.55"/><circle cx="293.8" cy="84.3" r="0.55"/><circle cx="293.7" cy="96.8" r="0.55"/><circle cx="294.3" cy="91.3" r="0.55"/><circle cx="287.2" cy="109.9" r="0.55"/><circle cx="281.1" cy="110.1" r="0.55"/><circle cx="297.7" cy="89.5" r="0.55"/><circle cx="295.5" cy="86.2" r="0.55"/><circle cx="293.8" cy="86.8" r="0.55"/><circle cx="278.9" cy="108.1" r="0.55"/><circle cx="280.1" cy="109.3" r="0.55"/><circle cx="285.4" cy="107.2" r="0.55"/><circle cx="286.5" cy="101.0" r="0.55"/><circle cx="290.6" cy="102.4" r="0.55"/><circle cx="286.3" cy="106.0" r="0.55"/><circle cx="292.4" cy="87.4" r="0.55"/><circle cx="282.3" cy="116.3" r="0.55"/><circle cx="282.5" cy="108.0" r="0.55"/><circle cx="285.4" cy="109.6" r="0.55"/><circle cx="291.4" cy="92.5" r="0.55"/><circle cx="291.3" cy="91.5" r="0.55"/><circle cx="290.1" cy="113.7" r="0.55"/><circle cx="289.0" cy="112.1" r="0.55"/><circle cx="285.4" cy="112.9" r="0.55"/><circle cx="282.8" cy="108.1" r="0.55"/><circle cx="288.2" cy="100.6" r="0.55"/><circle cx="286.3" cy="110.5" r="0.55"/><circle cx="284.7" cy="109.6" r="0.55"/><circle cx="291.7" cy="102.0" r="0.55"/><circle cx="285.5" cy="109.7" r="0.55"/><circle cx="297.8" cy="88.1" r="0.55"/><circle cx="291.6" cy="99.5" r="0.55"/><circle cx="284.8" cy="111.2" r="0.55"/><circle cx="287.7" cy="101.3" r="0.55"/><circle cx="289.5" cy="106.3" r="0.55"/><circle cx="291.7" cy="108.0" r="0.55"/><circle cx="288.9" cy="111.4" r="0.55"/><circle cx="292.6" cy="91.4" r="0.55"/><circle cx="285.8" cy="109.9" r="0.55"/><circle cx="287.5" cy="99.7" r="0.55"/><circle cx="292.9" cy="93.1" r="0.55"/><circle cx="298.1" cy="86.9" r="0.55"/><circle cx="284.1" cy="105.3" r="0.55"/><circle cx="292.7" cy="90.7" r="0.55"/><circle cx="287.2" cy="106.0" r="0.55"/><circle cx="290.9" cy="101.0" r="0.55"/><circle cx="296.2" cy="101.6" r="0.55"/><circle cx="286.3" cy="113.7" r="0.55"/><circle cx="288.2" cy="85.0" r="0.55"/><circle cx="285.0" cy="103.5" r="0.55"/><circle cx="288.8" cy="99.2" r="0.55"/><circle cx="293.8" cy="89.7" r="0.55"/><circle cx="291.8" cy="99.6" r="0.55"/><circle cx="285.1" cy="117.2" r="0.55"/><circle cx="292.6" cy="91.3" r="0.55"/><circle cx="281.5" cy="106.9" r="0.55"/><circle cx="292.8" cy="94.4" r="0.55"/><circle cx="286.2" cy="102.2" r="0.55"/><circle cx="285.1" cy="103.1" r="0.55"/><circle cx="297.6" cy="87.7" r="0.55"/></g>
<g fill="#86bde8" fill-opacity="0.6"><circle cx="301.3" cy="86.1" r="0.55"/><circle cx="286.3" cy="115.9" r="0.55"/><circle cx="292.7" cy="81.7" r="0.55"/><circle cx="288.0" cy="100.6" r="0.55"/><circle cx="288.1" cy="88.4" r="0.55"/><circle cx="300.6" cy="84.8" r="0.55"/><circle cx="290.8" cy="101.8" r="0.55"/><circle cx="299.1" cy="94.7" r="0.55"/><circle cx="296.4" cy="85.1" r="0.55"/><circle cx="283.8" cy="118.4" r="0.55"/><circle cx="294.3" cy="92.1" r="0.55"/><circle cx="289.5" cy="112.1" r="0.55"/><circle cx="284.8" cy="104.7" r="0.55"/><circle cx="287.7" cy="94.6" r="0.55"/><circle cx="296.3" cy="84.2" r="0.55"/><circle cx="285.8" cy="112.9" r="0.55"/><circle cx="291.5" cy="84.6" r="0.55"/><circle cx="281.7" cy="111.4" r="0.55"/><circle cx="284.4" cy="100.4" r="0.55"/><circle cx="292.9" cy="101.8" r="0.55"/><circle cx="296.8" cy="85.3" r="0.55"/><circle cx="293.6" cy="100.0" r="0.55"/><circle cx="303.5" cy="84.9" r="0.55"/><circle cx="287.3" cy="114.2" r="0.55"/><circle cx="283.1" cy="108.7" r="0.55"/><circle cx="292.6" cy="86.3" r="0.55"/><circle cx="290.5" cy="103.1" r="0.55"/><circle cx="296.8" cy="89.9" r="0.55"/><circle cx="280.4" cy="107.3" r="0.55"/><circle cx="297.6" cy="90.7" r="0.55"/><circle cx="293.2" cy="88.2" r="0.55"/><circle cx="298.0" cy="95.3" r="0.55"/><circle cx="291.5" cy="107.3" r="0.55"/><circle cx="284.1" cy="113.7" r="0.55"/><circle cx="292.1" cy="98.6" r="0.55"/><circle cx="283.4" cy="110.3" r="0.55"/><circle cx="298.0" cy="98.9" r="0.55"/><circle cx="294.2" cy="89.3" r="0.55"/><circle cx="287.9" cy="110.1" r="0.55"/><circle cx="290.8" cy="80.9" r="0.55"/><circle cx="282.8" cy="115.0" r="0.55"/><circle cx="290.5" cy="111.5" r="0.55"/><circle cx="301.0" cy="87.1" r="0.55"/><circle cx="285.9" cy="113.0" r="0.55"/><circle cx="285.7" cy="114.0" r="0.55"/><circle cx="302.1" cy="85.6" r="0.55"/><circle cx="288.9" cy="98.8" r="0.55"/><circle cx="296.9" cy="93.8" r="0.55"/><circle cx="289.9" cy="96.9" r="0.55"/><circle cx="294.2" cy="98.4" r="0.55"/><circle cx="290.5" cy="97.5" r="0.55"/><circle cx="297.0" cy="82.1" r="0.55"/><circle cx="289.8" cy="91.5" r="0.55"/><circle cx="290.3" cy="92.6" r="0.55"/><circle cx="289.5" cy="109.7" r="0.55"/><circle cx="282.3" cy="107.6" r="0.55"/><circle cx="277.5" cy="107.5" r="0.55"/><circle cx="289.5" cy="109.1" r="0.55"/><circle cx="287.1" cy="116.4" r="0.55"/><circle cx="288.7" cy="104.4" r="0.55"/><circle cx="291.6" cy="94.2" r="0.55"/><circle cx="287.3" cy="79.7" r="0.55"/><circle cx="292.9" cy="115.7" r="0.55"/><circle cx="291.8" cy="106.6" r="0.55"/><circle cx="295.1" cy="88.5" r="0.55"/><circle cx="293.2" cy="104.9" r="0.55"/><circle cx="289.7" cy="113.0" r="0.55"/><circle cx="284.1" cy="104.1" r="0.55"/><circle cx="293.1" cy="94.6" r="0.55"/><circle cx="284.1" cy="109.1" r="0.55"/><circle cx="288.0" cy="96.6" r="0.55"/><circle cx="296.1" cy="82.0" r="0.55"/><circle cx="299.7" cy="86.4" r="0.55"/><circle cx="290.1" cy="115.8" r="0.55"/><circle cx="304.4" cy="88.9" r="0.55"/><circle cx="289.6" cy="116.6" r="0.55"/><circle cx="296.8" cy="83.0" r="0.55"/><circle cx="292.3" cy="99.6" r="0.55"/><circle cx="289.1" cy="91.8" r="0.55"/><circle cx="293.0" cy="96.2" r="0.55"/><circle cx="302.8" cy="88.1" r="0.55"/><circle cx="282.9" cy="94.9" r="0.55"/><circle cx="283.6" cy="111.7" r="0.55"/><circle cx="288.5" cy="102.6" r="0.55"/><circle cx="301.2" cy="89.4" r="0.55"/><circle cx="282.8" cy="120.4" r="0.55"/><circle cx="285.7" cy="119.6" r="0.55"/><circle cx="285.7" cy="97.5" r="0.55"/><circle cx="290.5" cy="95.9" r="0.55"/><circle cx="294.0" cy="81.3" r="0.55"/><circle cx="293.6" cy="83.6" r="0.55"/><circle cx="297.3" cy="99.3" r="0.55"/><circle cx="291.1" cy="84.6" r="0.55"/><circle cx="291.2" cy="108.9" r="0.55"/><circle cx="284.1" cy="106.1" r="0.55"/><circle cx="302.2" cy="98.3" r="0.55"/><circle cx="284.8" cy="103.5" r="0.55"/><circle cx="301.7" cy="91.3" r="0.55"/><circle cx="288.0" cy="117.6" r="0.55"/><circle cx="288.0" cy="101.1" r="0.55"/><circle cx="283.8" cy="108.7" r="0.55"/><circle cx="296.3" cy="89.9" r="0.55"/><circle cx="289.4" cy="100.6" r="0.55"/><circle cx="281.6" cy="108.1" r="0.55"/><circle cx="294.9" cy="98.9" r="0.55"/><circle cx="301.1" cy="86.3" r="0.55"/><circle cx="286.7" cy="98.7" r="0.55"/><circle cx="285.3" cy="104.4" r="0.55"/><circle cx="286.4" cy="98.2" r="0.55"/><circle cx="292.1" cy="105.1" r="0.55"/><circle cx="288.7" cy="104.6" r="0.55"/><circle cx="286.3" cy="118.8" r="0.55"/><circle cx="292.9" cy="81.5" r="0.55"/><circle cx="291.6" cy="110.1" r="0.55"/><circle cx="291.0" cy="103.5" r="0.55"/><circle cx="288.6" cy="95.1" r="0.55"/><circle cx="287.4" cy="117.1" r="0.55"/><circle cx="307.9" cy="90.2" r="0.55"/><circle cx="288.4" cy="100.7" r="0.55"/><circle cx="296.9" cy="95.9" r="0.55"/><circle cx="289.4" cy="121.5" r="0.55"/><circle cx="285.7" cy="114.1" r="0.55"/><circle cx="287.5" cy="87.3" r="0.55"/><circle cx="293.7" cy="86.3" r="0.55"/><circle cx="293.6" cy="81.4" r="0.55"/><circle cx="291.6" cy="87.9" r="0.55"/><circle cx="288.7" cy="115.6" r="0.55"/><circle cx="286.7" cy="111.2" r="0.55"/><circle cx="283.6" cy="110.9" r="0.55"/><circle cx="294.1" cy="99.2" r="0.55"/><circle cx="293.8" cy="103.8" r="0.55"/><circle cx="289.2" cy="105.7" r="0.55"/><circle cx="283.7" cy="113.6" r="0.55"/><circle cx="298.8" cy="82.5" r="0.55"/><circle cx="291.0" cy="87.8" r="0.55"/><circle cx="288.7" cy="105.7" r="0.55"/><circle cx="292.0" cy="86.3" r="0.55"/><circle cx="289.1" cy="115.7" r="0.55"/><circle cx="291.2" cy="81.4" r="0.55"/><circle cx="290.6" cy="116.3" r="0.55"/></g>
<g fill="#eab078" fill-opacity="0.55"><circle cx="313.8" cy="104.8" r="0.5"/><circle cx="311.4" cy="93.3" r="0.5"/><circle cx="308.8" cy="89.3" r="0.5"/><circle cx="311.7" cy="104.0" r="0.5"/><circle cx="298.4" cy="73.1" r="0.5"/><circle cx="303.8" cy="99.1" r="0.5"/><circle cx="311.7" cy="93.5" r="0.5"/><circle cx="313.1" cy="93.3" r="0.5"/><circle cx="301.9" cy="81.4" r="0.5"/><circle cx="292.4" cy="74.2" r="0.5"/><circle cx="298.0" cy="73.9" r="0.5"/><circle cx="309.7" cy="92.3" r="0.5"/><circle cx="299.6" cy="81.2" r="0.5"/><circle cx="315.7" cy="102.3" r="0.5"/><circle cx="298.5" cy="72.7" r="0.5"/><circle cx="312.2" cy="97.4" r="0.5"/><circle cx="305.6" cy="84.8" r="0.5"/><circle cx="299.5" cy="80.4" r="0.5"/><circle cx="298.9" cy="78.9" r="0.5"/><circle cx="297.1" cy="86.1" r="0.5"/><circle cx="300.7" cy="83.4" r="0.5"/><circle cx="296.7" cy="78.7" r="0.5"/><circle cx="297.3" cy="78.1" r="0.5"/><circle cx="310.3" cy="104.9" r="0.5"/><circle cx="303.5" cy="83.7" r="0.5"/><circle cx="303.0" cy="96.0" r="0.5"/><circle cx="306.8" cy="94.3" r="0.5"/><circle cx="298.0" cy="83.1" r="0.5"/><circle cx="312.4" cy="102.7" r="0.5"/><circle cx="300.9" cy="79.5" r="0.5"/><circle cx="296.0" cy="77.5" r="0.5"/><circle cx="289.8" cy="74.0" r="0.5"/><circle cx="298.4" cy="79.5" r="0.5"/><circle cx="294.1" cy="72.3" r="0.5"/><circle cx="307.3" cy="92.0" r="0.5"/><circle cx="308.5" cy="87.8" r="0.5"/><circle cx="293.7" cy="70.7" r="0.5"/><circle cx="310.3" cy="104.0" r="0.5"/><circle cx="310.1" cy="94.4" r="0.5"/><circle cx="305.1" cy="89.7" r="0.5"/><circle cx="312.6" cy="103.0" r="0.5"/><circle cx="307.1" cy="86.4" r="0.5"/><circle cx="298.6" cy="75.2" r="0.5"/><circle cx="312.1" cy="96.0" r="0.5"/><circle cx="310.3" cy="104.2" r="0.5"/><circle cx="291.1" cy="74.0" r="0.5"/><circle cx="307.5" cy="84.5" r="0.5"/><circle cx="297.8" cy="78.1" r="0.5"/><circle cx="312.2" cy="101.4" r="0.5"/><circle cx="298.4" cy="71.5" r="0.5"/><circle cx="311.6" cy="97.3" r="0.5"/><circle cx="296.7" cy="77.8" r="0.5"/><circle cx="311.1" cy="89.1" r="0.5"/><circle cx="307.0" cy="93.7" r="0.5"/><circle cx="312.3" cy="95.1" r="0.5"/><circle cx="295.3" cy="71.2" r="0.5"/><circle cx="304.8" cy="86.0" r="0.5"/><circle cx="295.5" cy="74.6" r="0.5"/><circle cx="291.6" cy="76.9" r="0.5"/><circle cx="300.2" cy="73.6" r="0.5"/><circle cx="294.5" cy="76.3" r="0.5"/><circle cx="310.6" cy="103.2" r="0.5"/><circle cx="301.6" cy="93.8" r="0.5"/><circle cx="296.3" cy="80.3" r="0.5"/><circle cx="305.4" cy="85.5" r="0.5"/><circle cx="292.9" cy="72.7" r="0.5"/><circle cx="297.7" cy="77.7" r="0.5"/><circle cx="309.6" cy="89.6" r="0.5"/><circle cx="308.4" cy="93.4" r="0.5"/><circle cx="305.9" cy="92.7" r="0.5"/><circle cx="319.5" cy="102.6" r="0.5"/><circle cx="314.2" cy="104.1" r="0.5"/><circle cx="308.5" cy="99.5" r="0.5"/><circle cx="304.1" cy="85.7" r="0.5"/><circle cx="306.9" cy="96.6" r="0.5"/><circle cx="299.1" cy="78.5" r="0.5"/><circle cx="310.8" cy="100.1" r="0.5"/><circle cx="297.0" cy="79.4" r="0.5"/><circle cx="315.5" cy="104.1" r="0.5"/><circle cx="293.2" cy="70.5" r="0.5"/><circle cx="310.1" cy="97.3" r="0.5"/><circle cx="304.7" cy="87.2" r="0.5"/><circle cx="308.2" cy="98.8" r="0.5"/><circle cx="303.1" cy="89.9" r="0.5"/><circle cx="309.6" cy="99.1" r="0.5"/><circle cx="308.8" cy="93.9" r="0.5"/><circle cx="308.3" cy="91.7" r="0.5"/><circle cx="309.8" cy="104.2" r="0.5"/><circle cx="296.2" cy="73.8" r="0.5"/><circle cx="315.7" cy="101.3" r="0.5"/><circle cx="307.1" cy="86.0" r="0.5"/><circle cx="307.6" cy="94.2" r="0.5"/><circle cx="308.6" cy="93.1" r="0.5"/><circle cx="301.1" cy="84.4" r="0.5"/><circle cx="302.3" cy="91.1" r="0.5"/><circle cx="312.4" cy="104.3" r="0.5"/><circle cx="302.8" cy="88.3" r="0.5"/><circle cx="311.3" cy="102.2" r="0.5"/><circle cx="292.0" cy="71.0" r="0.5"/><circle cx="306.2" cy="90.0" r="0.5"/><circle cx="310.5" cy="92.5" r="0.5"/><circle cx="304.6" cy="81.0" r="0.5"/><circle cx="296.1" cy="72.1" r="0.5"/><circle cx="312.8" cy="96.3" r="0.5"/><circle cx="311.7" cy="95.0" r="0.5"/><circle cx="299.5" cy="85.3" r="0.5"/><circle cx="290.7" cy="76.1" r="0.5"/><circle cx="310.4" cy="99.1" r="0.5"/><circle cx="303.8" cy="98.4" r="0.5"/><circle cx="316.4" cy="97.0" r="0.5"/><circle cx="312.8" cy="97.5" r="0.5"/><circle cx="297.3" cy="80.1" r="0.5"/><circle cx="313.9" cy="85.3" r="0.5"/><circle cx="303.5" cy="86.2" r="0.5"/><circle cx="299.4" cy="86.0" r="0.5"/><circle cx="302.8" cy="83.8" r="0.5"/><circle cx="313.8" cy="88.2" r="0.5"/><circle cx="310.7" cy="105.9" r="0.5"/><circle cx="299.2" cy="91.0" r="0.5"/><circle cx="305.1" cy="78.8" r="0.5"/></g>
<g fill="#2f9f7c" fill-opacity="0.4"><circle cx="251.0" cy="122.7" r="0.45"/><circle cx="269.0" cy="131.3" r="0.45"/><circle cx="264.0" cy="123.5" r="0.45"/><circle cx="247.1" cy="133.1" r="0.45"/><circle cx="244.5" cy="109.9" r="0.45"/><circle cx="241.4" cy="112.4" r="0.45"/><circle cx="254.5" cy="113.0" r="0.45"/><circle cx="264.1" cy="112.6" r="0.45"/><circle cx="248.5" cy="109.4" r="0.45"/><circle cx="274.2" cy="127.7" r="0.45"/><circle cx="237.6" cy="109.9" r="0.45"/><circle cx="267.6" cy="114.6" r="0.45"/><circle cx="243.6" cy="116.5" r="0.45"/><circle cx="275.9" cy="134.9" r="0.45"/><circle cx="240.8" cy="111.5" r="0.45"/><circle cx="272.9" cy="124.2" r="0.45"/><circle cx="252.7" cy="111.5" r="0.45"/><circle cx="248.2" cy="128.0" r="0.45"/><circle cx="238.6" cy="113.6" r="0.45"/><circle cx="245.6" cy="100.8" r="0.45"/><circle cx="251.9" cy="118.3" r="0.45"/><circle cx="273.5" cy="111.8" r="0.45"/><circle cx="274.7" cy="109.3" r="0.45"/><circle cx="240.1" cy="110.2" r="0.45"/><circle cx="258.9" cy="100.1" r="0.45"/><circle cx="238.3" cy="125.6" r="0.45"/><circle cx="241.0" cy="119.2" r="0.45"/><circle cx="261.0" cy="122.3" r="0.45"/><circle cx="257.5" cy="119.9" r="0.45"/><circle cx="272.1" cy="113.3" r="0.45"/><circle cx="272.2" cy="116.1" r="0.45"/><circle cx="243.2" cy="116.7" r="0.45"/><circle cx="261.7" cy="132.1" r="0.45"/><circle cx="268.4" cy="112.2" r="0.45"/><circle cx="267.1" cy="105.3" r="0.45"/><circle cx="259.1" cy="102.9" r="0.45"/><circle cx="257.0" cy="111.8" r="0.45"/><circle cx="259.3" cy="120.0" r="0.45"/><circle cx="253.1" cy="120.4" r="0.45"/><circle cx="259.0" cy="125.5" r="0.45"/><circle cx="271.8" cy="123.1" r="0.45"/><circle cx="250.6" cy="102.9" r="0.45"/><circle cx="254.2" cy="113.6" r="0.45"/><circle cx="254.1" cy="113.0" r="0.45"/><circle cx="270.8" cy="104.0" r="0.45"/><circle cx="246.5" cy="120.6" r="0.45"/><circle cx="254.1" cy="127.1" r="0.45"/><circle cx="266.3" cy="101.5" r="0.45"/><circle cx="252.3" cy="118.5" r="0.45"/><circle cx="270.4" cy="104.2" r="0.45"/><circle cx="258.0" cy="127.2" r="0.45"/><circle cx="240.9" cy="119.5" r="0.45"/><circle cx="251.3" cy="102.3" r="0.45"/><circle cx="242.7" cy="118.1" r="0.45"/><circle cx="254.1" cy="108.4" r="0.45"/><circle cx="251.2" cy="107.3" r="0.45"/><circle cx="250.2" cy="123.4" r="0.45"/><circle cx="269.3" cy="114.2" r="0.45"/><circle cx="272.0" cy="132.5" r="0.45"/><circle cx="266.5" cy="132.1" r="0.45"/><circle cx="266.9" cy="129.9" r="0.45"/><circle cx="271.8" cy="114.4" r="0.45"/><circle cx="272.8" cy="131.7" r="0.45"/><circle cx="243.8" cy="102.5" r="0.45"/><circle cx="272.0" cy="127.2" r="0.45"/><circle cx="243.3" cy="112.6" r="0.45"/><circle cx="247.6" cy="130.3" r="0.45"/><circle cx="267.8" cy="101.0" r="0.45"/><circle cx="242.6" cy="120.1" r="0.45"/><circle cx="274.6" cy="102.4" r="0.45"/><circle cx="273.3" cy="110.3" r="0.45"/><circle cx="237.0" cy="119.8" r="0.45"/><circle cx="261.8" cy="104.9" r="0.45"/><circle cx="273.1" cy="124.3" r="0.45"/><circle cx="258.1" cy="117.9" r="0.45"/><circle cx="258.0" cy="107.8" r="0.45"/><circle cx="259.9" cy="118.8" r="0.45"/><circle cx="258.6" cy="115.6" r="0.45"/><circle cx="259.7" cy="101.2" r="0.45"/><circle cx="263.5" cy="124.8" r="0.45"/><circle cx="274.3" cy="125.0" r="0.45"/><circle cx="240.2" cy="131.9" r="0.45"/><circle cx="246.1" cy="133.0" r="0.45"/><circle cx="237.2" cy="113.0" r="0.45"/><circle cx="239.6" cy="122.5" r="0.45"/><circle cx="244.9" cy="121.3" r="0.45"/><circle cx="272.2" cy="101.8" r="0.45"/><circle cx="249.3" cy="125.3" r="0.45"/><circle cx="260.4" cy="109.5" r="0.45"/><circle cx="249.2" cy="114.9" r="0.45"/><circle cx="275.5" cy="121.7" r="0.45"/><circle cx="244.5" cy="117.7" r="0.45"/><circle cx="252.4" cy="109.8" r="0.45"/><circle cx="251.4" cy="130.6" r="0.45"/><circle cx="245.3" cy="103.3" r="0.45"/><circle cx="239.9" cy="121.1" r="0.45"/><circle cx="252.2" cy="106.5" r="0.45"/><circle cx="244.9" cy="132.4" r="0.45"/><circle cx="237.9" cy="132.8" r="0.45"/><circle cx="271.5" cy="125.0" r="0.45"/><circle cx="250.4" cy="130.9" r="0.45"/><circle cx="237.5" cy="126.8" r="0.45"/><circle cx="261.0" cy="122.9" r="0.45"/><circle cx="255.6" cy="126.2" r="0.45"/><circle cx="263.9" cy="131.9" r="0.45"/><circle cx="251.0" cy="107.6" r="0.45"/><circle cx="242.5" cy="125.5" r="0.45"/><circle cx="261.9" cy="106.3" r="0.45"/><circle cx="252.5" cy="116.1" r="0.45"/><circle cx="271.2" cy="111.9" r="0.45"/><circle cx="249.7" cy="122.2" r="0.45"/><circle cx="245.7" cy="122.4" r="0.45"/><circle cx="244.3" cy="131.6" r="0.45"/><circle cx="247.0" cy="129.4" r="0.45"/><circle cx="246.3" cy="102.3" r="0.45"/><circle cx="257.4" cy="106.1" r="0.45"/><circle cx="251.5" cy="101.6" r="0.45"/><circle cx="274.8" cy="124.9" r="0.45"/><circle cx="245.0" cy="112.1" r="0.45"/><circle cx="273.7" cy="134.1" r="0.45"/><circle cx="250.1" cy="107.5" r="0.45"/><circle cx="255.8" cy="133.5" r="0.45"/><circle cx="274.4" cy="126.5" r="0.45"/><circle cx="267.4" cy="126.7" r="0.45"/><circle cx="273.9" cy="121.3" r="0.45"/><circle cx="258.0" cy="131.0" r="0.45"/><circle cx="249.4" cy="108.2" r="0.45"/><circle cx="263.3" cy="130.4" r="0.45"/><circle cx="263.7" cy="130.8" r="0.45"/><circle cx="238.6" cy="121.2" r="0.45"/><circle cx="241.2" cy="123.1" r="0.45"/><circle cx="273.9" cy="108.0" r="0.45"/><circle cx="265.1" cy="117.2" r="0.45"/><circle cx="269.1" cy="120.5" r="0.45"/><circle cx="244.3" cy="111.1" r="0.45"/><circle cx="275.0" cy="101.5" r="0.45"/><circle cx="248.7" cy="133.2" r="0.45"/><circle cx="242.5" cy="128.2" r="0.45"/><circle cx="251.0" cy="112.8" r="0.45"/><circle cx="250.7" cy="118.6" r="0.45"/><circle cx="239.3" cy="120.7" r="0.45"/><circle cx="270.0" cy="133.5" r="0.45"/><circle cx="270.9" cy="119.5" r="0.45"/><circle cx="244.7" cy="125.3" r="0.45"/><circle cx="258.5" cy="128.1" r="0.45"/><circle cx="271.0" cy="103.5" r="0.45"/><circle cx="251.7" cy="120.4" r="0.45"/><circle cx="256.9" cy="132.5" r="0.45"/><circle cx="246.5" cy="128.8" r="0.45"/><circle cx="255.3" cy="132.3" r="0.45"/><circle cx="249.2" cy="105.7" r="0.45"/><circle cx="269.1" cy="127.2" r="0.45"/><circle cx="243.2" cy="109.8" r="0.45"/><circle cx="238.3" cy="130.7" r="0.45"/><circle cx="272.1" cy="127.5" r="0.45"/><circle cx="243.7" cy="113.1" r="0.45"/><circle cx="258.4" cy="120.3" r="0.45"/><circle cx="264.7" cy="116.4" r="0.45"/><circle cx="249.7" cy="132.9" r="0.45"/><circle cx="273.2" cy="119.4" r="0.45"/><circle cx="250.2" cy="102.7" r="0.45"/><circle cx="244.7" cy="118.7" r="0.45"/><circle cx="239.5" cy="100.7" r="0.45"/><circle cx="272.1" cy="104.8" r="0.45"/><circle cx="245.4" cy="117.2" r="0.45"/><circle cx="272.0" cy="116.2" r="0.45"/><circle cx="254.8" cy="102.4" r="0.45"/><circle cx="273.4" cy="111.9" r="0.45"/><circle cx="240.4" cy="110.0" r="0.45"/><circle cx="270.4" cy="110.0" r="0.45"/><circle cx="275.2" cy="115.5" r="0.45"/><circle cx="264.7" cy="101.2" r="0.45"/><circle cx="242.2" cy="101.1" r="0.45"/><circle cx="275.9" cy="108.2" r="0.45"/><circle cx="268.2" cy="125.1" r="0.45"/><circle cx="245.2" cy="132.8" r="0.45"/><circle cx="274.8" cy="126.4" r="0.45"/><circle cx="240.4" cy="102.7" r="0.45"/><circle cx="242.1" cy="128.9" r="0.45"/><circle cx="237.6" cy="128.7" r="0.45"/><circle cx="260.1" cy="129.5" r="0.45"/><circle cx="252.8" cy="125.5" r="0.45"/><circle cx="240.3" cy="109.1" r="0.45"/><circle cx="256.2" cy="117.3" r="0.45"/><circle cx="271.4" cy="115.4" r="0.45"/><circle cx="240.6" cy="101.2" r="0.45"/><circle cx="261.9" cy="118.9" r="0.45"/><circle cx="243.6" cy="109.3" r="0.45"/><circle cx="256.9" cy="133.3" r="0.45"/><circle cx="250.4" cy="123.3" r="0.45"/><circle cx="247.8" cy="128.3" r="0.45"/><circle cx="237.5" cy="101.1" r="0.45"/><circle cx="259.6" cy="124.9" r="0.45"/><circle cx="254.3" cy="128.1" r="0.45"/><circle cx="264.0" cy="116.2" r="0.45"/><circle cx="244.2" cy="108.8" r="0.45"/><circle cx="275.4" cy="117.0" r="0.45"/><circle cx="237.8" cy="119.3" r="0.45"/><circle cx="244.6" cy="115.2" r="0.45"/><circle cx="262.0" cy="111.1" r="0.45"/><circle cx="242.2" cy="123.4" r="0.45"/><circle cx="247.2" cy="131.2" r="0.45"/><circle cx="256.6" cy="109.4" r="0.45"/><circle cx="266.5" cy="130.9" r="0.45"/><circle cx="270.7" cy="101.9" r="0.45"/><circle cx="249.4" cy="124.1" r="0.45"/><circle cx="262.7" cy="112.1" r="0.45"/><circle cx="237.9" cy="118.4" r="0.45"/><circle cx="271.7" cy="112.4" r="0.45"/><circle cx="263.2" cy="102.8" r="0.45"/><circle cx="272.2" cy="105.8" r="0.45"/><circle cx="245.2" cy="134.5" r="0.45"/><circle cx="256.4" cy="114.6" r="0.45"/><circle cx="266.0" cy="133.3" r="0.45"/><circle cx="238.0" cy="118.2" r="0.45"/><circle cx="269.8" cy="131.5" r="0.45"/><circle cx="264.6" cy="115.6" r="0.45"/><circle cx="267.7" cy="134.7" r="0.45"/><circle cx="243.3" cy="116.7" r="0.45"/><circle cx="267.3" cy="109.1" r="0.45"/><circle cx="259.1" cy="106.2" r="0.45"/><circle cx="242.8" cy="102.5" r="0.45"/><circle cx="242.1" cy="103.8" r="0.45"/><circle cx="270.5" cy="123.9" r="0.45"/><circle cx="252.5" cy="112.7" r="0.45"/><circle cx="247.6" cy="130.6" r="0.45"/><circle cx="251.4" cy="106.9" r="0.45"/><circle cx="263.7" cy="132.7" r="0.45"/><circle cx="242.3" cy="106.7" r="0.45"/><circle cx="243.3" cy="109.5" r="0.45"/></g>
<g fill="#93c4bb" fill-opacity="0.4"><circle cx="250.3" cy="129.1" r="0.45"/><circle cx="247.2" cy="133.0" r="0.45"/><circle cx="253.2" cy="124.1" r="0.45"/><circle cx="268.3" cy="128.5" r="0.45"/><circle cx="239.8" cy="128.4" r="0.45"/><circle cx="246.5" cy="128.3" r="0.45"/><circle cx="239.1" cy="121.0" r="0.45"/><circle cx="267.2" cy="133.1" r="0.45"/><circle cx="241.7" cy="131.2" r="0.45"/><circle cx="256.9" cy="100.3" r="0.45"/><circle cx="270.9" cy="104.2" r="0.45"/><circle cx="249.3" cy="134.7" r="0.45"/><circle cx="241.5" cy="123.3" r="0.45"/><circle cx="247.4" cy="104.9" r="0.45"/><circle cx="273.6" cy="131.9" r="0.45"/><circle cx="240.7" cy="103.1" r="0.45"/><circle cx="270.7" cy="118.8" r="0.45"/><circle cx="241.7" cy="113.6" r="0.45"/><circle cx="243.4" cy="110.1" r="0.45"/><circle cx="267.1" cy="108.4" r="0.45"/><circle cx="261.9" cy="103.0" r="0.45"/><circle cx="249.5" cy="113.2" r="0.45"/><circle cx="264.4" cy="103.5" r="0.45"/><circle cx="242.8" cy="121.8" r="0.45"/><circle cx="271.4" cy="111.3" r="0.45"/><circle cx="259.5" cy="126.8" r="0.45"/><circle cx="273.9" cy="132.8" r="0.45"/><circle cx="260.2" cy="131.0" r="0.45"/><circle cx="259.3" cy="125.9" r="0.45"/><circle cx="270.5" cy="127.3" r="0.45"/><circle cx="259.7" cy="103.2" r="0.45"/><circle cx="240.4" cy="134.0" r="0.45"/><circle cx="260.9" cy="120.2" r="0.45"/><circle cx="248.4" cy="119.0" r="0.45"/><circle cx="261.9" cy="123.6" r="0.45"/><circle cx="275.9" cy="106.6" r="0.45"/><circle cx="260.8" cy="116.4" r="0.45"/><circle cx="269.5" cy="104.3" r="0.45"/><circle cx="250.8" cy="132.2" r="0.45"/><circle cx="237.5" cy="117.5" r="0.45"/><circle cx="238.8" cy="104.6" r="0.45"/><circle cx="237.7" cy="133.9" r="0.45"/><circle cx="245.5" cy="120.3" r="0.45"/><circle cx="247.6" cy="126.4" r="0.45"/><circle cx="249.5" cy="128.1" r="0.45"/><circle cx="262.5" cy="124.4" r="0.45"/><circle cx="266.2" cy="115.5" r="0.45"/><circle cx="267.0" cy="109.8" r="0.45"/><circle cx="266.3" cy="101.8" r="0.45"/><circle cx="270.3" cy="121.8" r="0.45"/><circle cx="265.1" cy="103.9" r="0.45"/><circle cx="254.9" cy="112.9" r="0.45"/><circle cx="253.1" cy="131.1" r="0.45"/><circle cx="240.2" cy="131.6" r="0.45"/><circle cx="237.5" cy="128.8" r="0.45"/><circle cx="270.4" cy="106.8" r="0.45"/><circle cx="242.8" cy="133.0" r="0.45"/><circle cx="270.7" cy="104.9" r="0.45"/><circle cx="252.6" cy="132.1" r="0.45"/><circle cx="239.3" cy="126.2" r="0.45"/><circle cx="269.3" cy="134.0" r="0.45"/><circle cx="264.9" cy="134.4" r="0.45"/><circle cx="275.9" cy="118.4" r="0.45"/><circle cx="258.1" cy="110.9" r="0.45"/><circle cx="273.3" cy="132.1" r="0.45"/><circle cx="256.7" cy="111.0" r="0.45"/><circle cx="247.2" cy="111.6" r="0.45"/><circle cx="252.6" cy="119.9" r="0.45"/><circle cx="262.7" cy="105.0" r="0.45"/><circle cx="271.7" cy="116.0" r="0.45"/><circle cx="268.8" cy="104.8" r="0.45"/><circle cx="273.3" cy="115.9" r="0.45"/><circle cx="257.9" cy="131.8" r="0.45"/><circle cx="255.0" cy="132.2" r="0.45"/><circle cx="257.5" cy="133.5" r="0.45"/><circle cx="273.4" cy="125.4" r="0.45"/><circle cx="251.3" cy="126.1" r="0.45"/><circle cx="239.4" cy="114.9" r="0.45"/><circle cx="252.3" cy="131.3" r="0.45"/><circle cx="262.3" cy="104.7" r="0.45"/></g>
<text x="77.4" y="88.6" font-size="6.8" fill="#333" color="#333" textLength="9.7" lengthAdjust="spacingAndGlyphs" >Act</text>
<text x="108.1" y="91.9" font-size="6.8" fill="#333" color="#333" textLength="16.5" lengthAdjust="spacingAndGlyphs" >Naive</text>
<text x="76.1" y="101.9" font-size="6.8" fill="#333" color="#333" textLength="24.7" lengthAdjust="spacingAndGlyphs" >Early Tm</text>
<text x="40.1" y="112" font-size="6.8" fill="#333" color="#333" textLength="30.5" lengthAdjust="spacingAndGlyphs" >Term/SenL</text>
<text x="165.6" y="90.7" font-size="6.8" fill="#333" color="#333" textLength="10.1" lengthAdjust="spacingAndGlyphs" >Act</text>
<text x="198" y="82.2" font-size="6.8" fill="#333" color="#333" textLength="16.5" lengthAdjust="spacingAndGlyphs" >Naive</text>
<text x="166.6" y="106" font-size="6.8" fill="#333" color="#333" textLength="25.2" lengthAdjust="spacingAndGlyphs" >Early Tm</text>
<text x="137" y="119" font-size="6.8" fill="#333" color="#333" textLength="29.6" lengthAdjust="spacingAndGlyphs" >Term/SenL</text>
<text x="264.7" y="91.3" font-size="6.8" fill="#333" color="#333" textLength="9.5" lengthAdjust="spacingAndGlyphs" >Act</text>
<text x="291.9" y="93" font-size="6.8" fill="#333" color="#333" textLength="16.6" lengthAdjust="spacingAndGlyphs" >Naive</text>
<text x="278.8" y="99.2" font-size="6.8" fill="#333" color="#333" textLength="24.8" lengthAdjust="spacingAndGlyphs" >Early Tm</text>
<text x="242.8" y="110.1" font-size="6.8" fill="#333" color="#333" textLength="30.6" lengthAdjust="spacingAndGlyphs" >Term/SenL</text>
<text x="389.1" y="29.5" font-size="9" fill="#222" color="#222" textLength="60" lengthAdjust="spacingAndGlyphs" >Res vs. NonRes</text>
<rect x="365.5" y="35.5" width="106" height="70" fill="none" stroke="#111" stroke-width="1.1"/>
<line x1="424.5" y1="35.5" x2="424.5" y2="105" stroke="#555" stroke-width="1"/>
<line x1="393" y1="38.6" x2="393" y2="105" stroke="#222" stroke-width="1.1" stroke-dasharray="1.7,2.75"/>
<line x1="455" y1="38.6" x2="455" y2="105" stroke="#222" stroke-width="1.1" stroke-dasharray="1.7,2.75"/>
<text x="361" y="47.699999999999996" font-size="7" text-anchor="end" fill="#333" color="#333" >Early Tm</text>
<line x1="362.5" y1="45.4" x2="365" y2="45.4" stroke="#333" stroke-width="0.8"/>
<line x1="369.8" y1="45.4" x2="379" y2="45.4" stroke="#c0102c" stroke-width="1.3" stroke-opacity="0.75"/>
<circle cx="374.4" cy="45.4" r="1.75" fill="#c0102c"/>
<text x="361" y="64.1" font-size="7" text-anchor="end" fill="#333" color="#333" >Naive</text>
<line x1="362.5" y1="61.8" x2="365" y2="61.8" stroke="#333" stroke-width="0.8"/>
<line x1="369.8" y1="61.8" x2="390" y2="61.8" stroke="#c0102c" stroke-width="1.3" stroke-opacity="0.75"/>
<circle cx="380.2" cy="61.8" r="1.75" fill="#c0102c"/>
<text x="361" y="80.8" font-size="7" text-anchor="end" fill="#333" color="#333" >Act</text>
<line x1="362.5" y1="78.5" x2="365" y2="78.5" stroke="#333" stroke-width="0.8"/>
<line x1="407.3" y1="78.5" x2="421.7" y2="78.5" stroke="#1f4e8c" stroke-width="1.3" stroke-opacity="0.75"/>
<circle cx="414.2" cy="78.5" r="1.75" fill="#1f4e8c"/>
<text x="361" y="97.89999999999999" font-size="7" text-anchor="end" fill="#333" color="#333" >Term/SenL</text>
<line x1="362.5" y1="95.6" x2="365" y2="95.6" stroke="#333" stroke-width="0.8"/>
<line x1="459.8" y1="95.6" x2="465.6" y2="95.6" stroke="#c0102c" stroke-width="1.3" stroke-opacity="0.75"/>
<circle cx="462.4" cy="95.6" r="1.75" fill="#c0102c"/>
<line x1="393" y1="105.5" x2="393" y2="108.2" stroke="#222" stroke-width="1"/>
<text x="393" y="117" font-size="7" text-anchor="middle" fill="#333" color="#333" >−1</text>
<line x1="424" y1="105.5" x2="424" y2="108.2" stroke="#222" stroke-width="1"/>
<text x="424" y="117" font-size="7" text-anchor="middle" fill="#333" color="#333" >0</text>
<line x1="455" y1="105.5" x2="455" y2="108.2" stroke="#222" stroke-width="1"/>
<text x="455" y="117" font-size="7" text-anchor="middle" fill="#333" color="#333" >1</text>
<text x="399.5" y="127.3" font-size="8.2" fill="#333" color="#333" textLength="37.2" lengthAdjust="spacingAndGlyphs" >obs_log2FD</text>
<text x="339" y="141" font-size="6.3" fill="#333" color="#333" >significance</text>
<line x1="379.7" y1="135.5" x2="379.7" y2="142" stroke="#c0102c" stroke-width="0.8"/><circle cx="379.7" cy="138.7" r="1.4" fill="#c0102c"/>
<text x="385.5" y="141" font-size="6.3" fill="#333" color="#333" >FDR &lt; 0.05 &amp; abs(Log2FD) &gt; 1</text>
<line x1="482" y1="135.5" x2="482" y2="142" stroke="#1f4e8c" stroke-width="0.8"/><circle cx="482" cy="138.7" r="1.4" fill="#1f4e8c"/>
<text x="486.5" y="141" font-size="6.3" fill="#333" color="#333" >n.s.</text>
<line x1="41.5" y1="168" x2="41.5" y2="304" stroke="#111" stroke-width="1"/>
<line x1="41" y1="303.5" x2="259" y2="303.5" stroke="#111" stroke-width="1"/>
<line x1="38.2" y1="174" x2="41" y2="174" stroke="#111" stroke-width="1"/>
<text x="36" y="176.3" font-size="6.8" text-anchor="end" fill="#333" color="#333" >1.00</text>
<line x1="38.2" y1="204.75" x2="41" y2="204.75" stroke="#111" stroke-width="1"/>
<text x="36" y="207.05" font-size="6.8" text-anchor="end" fill="#333" color="#333" >0.75</text>
<line x1="38.2" y1="235.5" x2="41" y2="235.5" stroke="#111" stroke-width="1"/>
<text x="36" y="237.8" font-size="6.8" text-anchor="end" fill="#333" color="#333" >0.50</text>
<line x1="38.2" y1="266.25" x2="41" y2="266.25" stroke="#111" stroke-width="1"/>
<text x="36" y="268.55" font-size="6.8" text-anchor="end" fill="#333" color="#333" >0.25</text>
<line x1="38.2" y1="297" x2="41" y2="297" stroke="#111" stroke-width="1"/>
<text x="36" y="299.3" font-size="6.8" text-anchor="end" fill="#333" color="#333" >0.00</text>
<line x1="51.0" y1="304" x2="51.0" y2="306.8" stroke="#222" stroke-width="1"/>
<text x="51.0" y="315" font-size="6.8" text-anchor="middle" fill="#333" color="#333" >0</text>
<line x1="70.77" y1="304" x2="70.77" y2="306.8" stroke="#222" stroke-width="1"/>
<text x="70.77" y="315" font-size="6.8" text-anchor="middle" fill="#333" color="#333" >1</text>
<line x1="90.53999999999999" y1="304" x2="90.53999999999999" y2="306.8" stroke="#222" stroke-width="1"/>
<text x="90.53999999999999" y="315" font-size="6.8" text-anchor="middle" fill="#333" color="#333" >2</text>
<line x1="110.31" y1="304" x2="110.31" y2="306.8" stroke="#222" stroke-width="1"/>
<text x="110.31" y="315" font-size="6.8" text-anchor="middle" fill="#333" color="#333" >3</text>
<line x1="130.07999999999998" y1="304" x2="130.07999999999998" y2="306.8" stroke="#222" stroke-width="1"/>
<text x="130.07999999999998" y="315" font-size="6.8" text-anchor="middle" fill="#333" color="#333" >4</text>
<line x1="149.85" y1="304" x2="149.85" y2="306.8" stroke="#222" stroke-width="1"/>
<text x="149.85" y="315" font-size="6.8" text-anchor="middle" fill="#333" color="#333" >5</text>
<line x1="169.62" y1="304" x2="169.62" y2="306.8" stroke="#222" stroke-width="1"/>
<text x="169.62" y="315" font-size="6.8" text-anchor="middle" fill="#333" color="#333" >6</text>
<line x1="189.39" y1="304" x2="189.39" y2="306.8" stroke="#222" stroke-width="1"/>
<text x="189.39" y="315" font-size="6.8" text-anchor="middle" fill="#333" color="#333" >7</text>
<line x1="209.16" y1="304" x2="209.16" y2="306.8" stroke="#222" stroke-width="1"/>
<text x="209.16" y="315" font-size="6.8" text-anchor="middle" fill="#333" color="#333" >8</text>
<line x1="228.93" y1="304" x2="228.93" y2="306.8" stroke="#222" stroke-width="1"/>
<text x="228.93" y="315" font-size="6.8" text-anchor="middle" fill="#333" color="#333" >9</text>
<line x1="248.7" y1="304" x2="248.7" y2="306.8" stroke="#222" stroke-width="1"/>
<text x="248.7" y="315" font-size="6.8" text-anchor="middle" fill="#333" color="#333" >10</text>
<text x="150" y="328" font-size="8.8" text-anchor="middle" fill="#222" color="#222" textLength="84" lengthAdjust="spacingAndGlyphs" >Overall survival time (years)</text>
<text x="0" y="0" font-size="8.6" text-anchor="middle" fill="#222" color="#222" textLength="63" lengthAdjust="spacingAndGlyphs" transform="translate(17.6,233.6) rotate(-90)">Survival probability</text>
<path d="M50.8,174.3 L52.0,174.3 L52.0,180.2 L53.3,180.2 L53.3,186.1 L54.5,186.1 L54.5,192.0 L55.7,192.0 L55.7,195.3 L57.0,195.3 L57.0,198.6 L58.2,198.6 L58.2,201.9 L59.5,201.9 L59.5,205.2 L60.7,205.2 L60.7,208.5 L62.0,208.5 L62.0,211.8 L63.2,211.8 L63.2,215.1 L64.5,215.1 L64.5,218.4 L65.7,218.4 L65.7,221.7 L67.0,221.7 L67.0,225.0 L68.3,225.0 L68.3,228.7 L69.7,228.7 L69.7,232.3 L71.0,232.3 L71.0,236.0 L72.3,236.0 L72.3,237.1 L73.6,237.1 L73.6,238.1 L74.9,238.1 L74.9,239.2 L76.2,239.2 L76.2,240.2 L77.6,240.2 L77.6,241.3 L78.9,241.3 L78.9,242.4 L80.2,242.4 L80.2,243.4 L81.5,243.4 L81.5,244.5 L82.7,244.5 L82.7,244.9 L84.0,244.9 L84.0,245.4 L85.2,245.4 L85.2,245.8 L86.4,245.8 L86.4,246.2 L87.7,246.2 L87.7,246.7 L88.9,246.7 L88.9,247.1 L90.1,247.1 L90.1,247.5 L91.4,247.5 L91.4,248.0 L92.6,248.0 L92.6,248.4 L93.8,248.4 L93.8,248.8 L95.1,248.8 L95.1,249.3 L96.3,249.3 L96.3,249.7 L97.5,249.7 L97.5,250.1 L98.8,250.1 L98.8,250.6 L100.0,250.6 L100.0,251.0 L101.2,251.0 L101.2,251.0 L102.5,251.0 L102.5,251.1 L103.8,251.1 L103.8,251.1 L105.0,251.1 L105.0,251.1 L106.2,251.1 L106.2,251.1 L107.5,251.1 L107.5,251.2 L108.8,251.2 L108.8,251.2 L110.0,251.2 L110.0,251.2 L111.2,251.2 L111.2,251.2 L112.5,251.2 L112.5,251.2 L113.8,251.2 L113.8,251.3 L115.0,251.3 L115.0,251.3 L116.2,251.3 L116.2,251.3 L117.5,251.3 L117.5,251.3 L118.8,251.3 L118.8,251.4 L120.0,251.4 L120.0,251.4 L121.2,251.4 L121.2,251.4 L122.5,251.4 L122.5,251.4 L123.8,251.4 L123.8,251.5 L125.0,251.5 L125.0,251.5 L125.0,251.5 L125.0,253.8 L126.2,253.8 L126.2,253.8 L127.5,253.8 L127.5,253.8 L128.8,253.8 L128.8,253.8 L130.0,253.8 L130.0,253.8 L131.2,253.8 L131.2,253.8 L132.5,253.8 L132.5,253.8 L133.8,253.8 L133.8,253.8 L135.0,253.8 L135.0,253.8 L136.2,253.8 L136.2,253.8 L137.5,253.8 L137.5,253.8 L138.8,253.8 L138.8,253.8 L140.0,253.8 L140.0,253.8 L141.2,253.8 L141.2,253.8 L142.5,253.8 L142.5,253.8 L143.8,253.8 L143.8,253.8 L145.0,253.8 L145.0,253.8 L145.0,253.8 L145.0,254.8 L146.2,254.8 L146.2,254.8 L147.5,254.8 L147.5,254.8 L148.8,254.8 L148.8,254.8 L150.0,254.8 L150.0,254.8 L151.2,254.8 L151.2,254.8 L152.5,254.8 L152.5,254.8 L153.8,254.8 L153.8,254.8 L155.0,254.8 L155.0,254.8 L156.2,254.8 L156.2,254.8 L157.5,254.8 L157.5,254.8 L158.8,254.8 L158.8,254.8 L160.0,254.8 L160.0,254.8 L161.2,254.8 L161.2,254.8 L162.5,254.8 L162.5,254.8 L163.8,254.8 L163.8,254.8 L165.0,254.8 L165.0,254.8 L166.2,254.8 L166.2,254.8 L167.5,254.8 L167.5,254.8 L168.8,254.8 L168.8,254.8 L170.0,254.8 L170.0,254.8 L171.2,254.8 L171.2,254.8 L172.5,254.8 L172.5,254.8 L172.5,254.8 L172.5,255.8 L173.7,255.8 L173.7,255.8 L174.9,255.8 L174.9,255.8 L176.2,255.8 L176.2,255.8 L177.4,255.8 L177.4,255.8 L178.6,255.8 L178.6,255.8 L179.8,255.8 L179.8,255.8 L181.0,255.8 L181.0,255.8 L182.2,255.8 L182.2,255.8 L183.5,255.8 L183.5,255.8 L184.7,255.8 L184.7,255.8 L185.9,255.8 L185.9,255.8 L187.1,255.8 L187.1,255.8 L188.3,255.8 L188.3,255.8 L189.6,255.8 L189.6,255.8 L190.8,255.8 L190.8,255.8 L192.0,255.8 L192.0,255.8 L193.2,255.8 L193.2,255.8 L194.4,255.8 L194.4,255.8 L195.6,255.8 L195.6,255.8 L196.9,255.8 L196.9,255.8 L198.1,255.8 L198.1,255.8 L199.3,255.8 L199.3,255.8 L200.5,255.8 L200.5,255.8 L201.7,255.8 L201.7,255.8 L202.9,255.8 L202.9,255.8 L204.2,255.8 L204.2,255.8 L205.4,255.8 L205.4,255.8 L206.6,255.8 L206.6,255.8 L207.8,255.8 L207.8,255.8 L209.0,255.8 L209.0,255.8 L210.3,255.8 L210.3,255.8 L211.5,255.8 L211.5,255.8 L212.7,255.8 L212.7,255.8 L213.9,255.8 L213.9,255.8 L215.1,255.8 L215.1,255.8 L216.3,255.8 L216.3,255.8 L217.6,255.8 L217.6,255.8 L218.8,255.8 L218.8,255.8 L220.0,255.8 L220.0,255.8 L220.0,277.2 L220.0,277.2 L218.8,277.2 L218.8,277.2 L217.6,277.2 L217.6,277.2 L216.3,277.2 L216.3,277.2 L215.1,277.2 L215.1,277.2 L213.9,277.2 L213.9,277.2 L212.7,277.2 L212.7,277.2 L211.5,277.2 L211.5,277.2 L210.3,277.2 L210.3,277.2 L209.0,277.2 L209.0,277.2 L207.8,277.2 L207.8,277.2 L206.6,277.2 L206.6,277.2 L205.4,277.2 L205.4,277.2 L204.2,277.2 L204.2,277.2 L202.9,277.2 L202.9,277.2 L201.7,277.2 L201.7,277.2 L200.5,277.2 L200.5,277.2 L199.3,277.2 L199.3,277.2 L198.1,277.2 L198.1,277.2 L196.9,277.2 L196.9,277.2 L195.6,277.2 L195.6,277.2 L194.4,277.2 L194.4,277.2 L193.2,277.2 L193.2,277.2 L192.0,277.2 L192.0,277.2 L190.8,277.2 L190.8,277.2 L189.6,277.2 L189.6,277.2 L188.3,277.2 L188.3,277.2 L187.1,277.2 L187.1,277.2 L185.9,277.2 L185.9,277.2 L184.7,277.2 L184.7,277.2 L183.5,277.2 L183.5,277.2 L182.2,277.2 L182.2,277.2 L181.0,277.2 L181.0,277.2 L179.8,277.2 L179.8,277.2 L178.6,277.2 L178.6,277.2 L177.4,277.2 L177.4,277.2 L176.2,277.2 L176.2,277.2 L174.9,277.2 L174.9,277.2 L173.7,277.2 L173.7,277.2 L172.5,277.2 L172.5,272.0 L172.5,272.0 L172.5,272.0 L171.2,272.0 L171.2,272.0 L170.0,272.0 L170.0,272.0 L168.8,272.0 L168.8,272.0 L167.5,272.0 L167.5,272.0 L166.2,272.0 L166.2,272.0 L165.0,272.0 L165.0,272.0 L163.8,272.0 L163.8,272.0 L162.5,272.0 L162.5,272.0 L161.2,272.0 L161.2,272.0 L160.0,272.0 L160.0,272.0 L158.8,272.0 L158.8,272.0 L157.5,272.0 L157.5,272.0 L156.2,272.0 L156.2,272.0 L155.0,272.0 L155.0,272.0 L153.8,272.0 L153.8,272.0 L152.5,272.0 L152.5,272.0 L151.2,272.0 L151.2,272.0 L150.0,272.0 L150.0,272.0 L148.8,272.0 L148.8,272.0 L147.5,272.0 L147.5,272.0 L146.2,272.0 L146.2,272.0 L145.0,272.0 L145.0,268.3 L145.0,268.3 L145.0,268.3 L143.8,268.3 L143.8,268.3 L142.5,268.3 L142.5,268.3 L141.2,268.3 L141.2,268.3 L140.0,268.3 L140.0,268.3 L138.8,268.3 L138.8,268.3 L137.5,268.3 L137.5,268.3 L136.2,268.3 L136.2,268.3 L135.0,268.3 L135.0,268.3 L133.8,268.3 L133.8,268.3 L132.5,268.3 L132.5,268.3 L131.2,268.3 L131.2,268.3 L130.0,268.3 L130.0,268.3 L128.8,268.3 L128.8,268.3 L127.5,268.3 L127.5,268.3 L126.2,268.3 L126.2,268.3 L125.0,268.3 L125.0,267.3 L125.0,267.3 L125.0,267.2 L123.8,267.2 L123.8,267.2 L122.5,267.2 L122.5,267.1 L121.2,267.1 L121.2,267.0 L120.0,267.0 L120.0,267.0 L118.8,267.0 L118.8,266.9 L117.5,266.9 L117.5,266.8 L116.2,266.8 L116.2,266.8 L115.0,266.8 L115.0,266.7 L113.8,266.7 L113.8,266.6 L112.5,266.6 L112.5,266.6 L111.2,266.6 L111.2,266.5 L110.0,266.5 L110.0,266.5 L108.8,266.5 L108.8,266.4 L107.5,266.4 L107.5,266.3 L106.2,266.3 L106.2,266.3 L105.0,266.3 L105.0,266.2 L103.8,266.2 L103.8,266.1 L102.5,266.1 L102.5,266.1 L101.2,266.1 L101.2,266.0 L100.0,266.0 L100.0,265.3 L98.8,265.3 L98.8,264.5 L97.5,264.5 L97.5,263.8 L96.3,263.8 L96.3,263.1 L95.1,263.1 L95.1,262.3 L93.8,262.3 L93.8,261.6 L92.6,261.6 L92.6,260.9 L91.4,260.9 L91.4,260.1 L90.1,260.1 L90.1,259.4 L88.9,259.4 L88.9,258.7 L87.7,258.7 L87.7,257.9 L86.4,257.9 L86.4,257.2 L85.2,257.2 L85.2,256.5 L84.0,256.5 L84.0,255.7 L82.7,255.7 L82.7,255.0 L81.5,255.0 L81.5,253.8 L80.2,253.8 L80.2,252.5 L78.9,252.5 L78.9,251.2 L77.6,251.2 L77.6,250.0 L76.2,250.0 L76.2,248.8 L74.9,248.8 L74.9,247.5 L73.6,247.5 L73.6,246.2 L72.3,246.2 L72.3,245.0 L71.0,245.0 L71.0,242.2 L69.8,242.2 L69.8,239.4 L68.6,239.4 L68.6,236.6 L67.3,236.6 L67.3,233.8 L66.1,233.8 L66.1,231.0 L64.9,231.0 L64.9,227.2 L63.5,227.2 L63.5,223.3 L62.1,223.3 L62.1,219.5 L60.8,219.5 L60.8,215.7 L59.4,215.7 L59.4,211.8 L58.0,211.8 L58.0,208.0 L56.6,208.0 L56.6,203.7 L55.4,203.7 L55.4,199.3 L54.2,199.3 L54.2,195.0 L53.0,195.0 L53.0,174.3 L50.8,174.3 Z" fill="#6f7fbf" fill-opacity="0.45" stroke="none"/>
<path d="M50.8,174.3 L52.4,174.3 L52.4,184.0 L53.7,184.0 L53.7,185.5 L55.0,185.5 L55.0,187.0 L56.3,187.0 L56.3,188.5 L57.6,188.5 L57.6,190.0 L58.9,190.0 L58.9,191.5 L60.2,191.5 L60.2,193.0 L61.5,193.0 L61.5,194.5 L62.8,194.5 L62.8,196.0 L64.2,196.0 L64.2,198.2 L65.5,198.2 L65.5,200.3 L66.9,200.3 L66.9,202.5 L68.3,202.5 L68.3,204.7 L69.6,204.7 L69.6,206.8 L71.0,206.8 L71.0,209.0 L72.3,209.0 L72.3,210.1 L73.6,210.1 L73.6,211.2 L74.9,211.2 L74.9,212.4 L76.2,212.4 L76.2,213.5 L77.6,213.5 L77.6,214.6 L78.9,214.6 L78.9,215.8 L80.2,215.8 L80.2,216.9 L81.5,216.9 L81.5,218.0 L82.8,218.0 L82.8,218.8 L84.1,218.8 L84.1,219.6 L85.4,219.6 L85.4,220.4 L86.8,220.4 L86.8,221.2 L88.1,221.2 L88.1,222.1 L89.4,222.1 L89.4,222.9 L90.7,222.9 L90.7,223.7 L92.0,223.7 L92.0,224.5 L93.3,224.5 L93.3,225.2 L94.7,225.2 L94.7,226.0 L96.0,226.0 L96.0,226.8 L97.3,226.8 L97.3,227.5 L98.7,227.5 L98.7,228.2 L100.0,228.2 L100.0,229.0 L101.2,229.0 L101.2,229.1 L102.5,229.1 L102.5,229.3 L103.7,229.3 L103.7,229.4 L104.9,229.4 L104.9,229.6 L106.2,229.6 L106.2,229.7 L107.4,229.7 L107.4,229.8 L108.6,229.8 L108.6,230.0 L109.8,230.0 L109.8,230.1 L111.1,230.1 L111.1,230.2 L112.3,230.2 L112.3,230.4 L113.5,230.4 L113.5,230.5 L114.8,230.5 L114.8,230.7 L116.0,230.7 L116.0,230.8 L117.3,230.8 L117.3,230.8 L118.5,230.8 L118.5,230.8 L119.8,230.8 L119.8,230.8 L121.1,230.8 L121.1,230.8 L122.4,230.8 L122.4,230.8 L123.6,230.8 L123.6,230.8 L124.9,230.8 L124.9,230.8 L126.2,230.8 L126.2,230.8 L127.5,230.8 L127.5,230.8 L128.7,230.8 L128.7,230.8 L130.0,230.8 L130.0,230.8 L130.0,230.8 L130.0,232.7 L131.3,232.7 L131.3,232.7 L132.5,232.7 L132.5,232.7 L133.8,232.7 L133.8,232.7 L135.1,232.7 L135.1,232.7 L136.4,232.7 L136.4,232.7 L137.6,232.7 L137.6,232.7 L138.9,232.7 L138.9,232.7 L140.2,232.7 L140.2,232.7 L141.5,232.7 L141.5,232.7 L142.7,232.7 L142.7,232.7 L144.0,232.7 L144.0,232.7 L144.0,232.7 L144.0,235.2 L145.2,235.2 L145.2,235.2 L146.4,235.2 L146.4,235.2 L147.6,235.2 L147.6,235.2 L148.9,235.2 L148.9,235.2 L150.1,235.2 L150.1,235.2 L151.3,235.2 L151.3,235.2 L152.5,235.2 L152.5,235.2 L153.7,235.2 L153.7,235.2 L154.9,235.2 L154.9,235.2 L156.1,235.2 L156.1,235.2 L157.3,235.2 L157.3,235.2 L158.6,235.2 L158.6,235.2 L159.8,235.2 L159.8,235.2 L161.0,235.2 L161.0,235.2 L162.2,235.2 L162.2,235.2 L163.4,235.2 L163.4,235.2 L164.6,235.2 L164.6,235.2 L165.8,235.2 L165.8,235.2 L167.1,235.2 L167.1,235.2 L168.3,235.2 L168.3,235.2 L169.5,235.2 L169.5,235.2 L170.7,235.2 L170.7,235.2 L171.9,235.2 L171.9,235.2 L173.1,235.2 L173.1,235.2 L174.3,235.2 L174.3,235.2 L175.6,235.2 L175.6,235.2 L176.8,235.2 L176.8,235.2 L178.0,235.2 L178.0,235.2 L179.2,235.2 L179.2,235.2 L180.4,235.2 L180.4,235.2 L181.6,235.2 L181.6,235.2 L182.8,235.2 L182.8,235.2 L184.0,235.2 L184.0,235.2 L185.3,235.2 L185.3,235.2 L186.5,235.2 L186.5,235.2 L187.7,235.2 L187.7,235.2 L188.9,235.2 L188.9,235.2 L190.1,235.2 L190.1,235.2 L191.3,235.2 L191.3,235.2 L192.5,235.2 L192.5,235.2 L193.8,235.2 L193.8,235.2 L195.0,235.2 L195.0,235.2 L196.2,235.2 L196.2,235.2 L197.4,235.2 L197.4,235.2 L198.6,235.2 L198.6,235.2 L199.8,235.2 L199.8,235.2 L201.0,235.2 L201.0,235.2 L202.3,235.2 L202.3,235.2 L203.5,235.2 L203.5,235.2 L204.7,235.2 L204.7,235.2 L205.9,235.2 L205.9,235.2 L207.1,235.2 L207.1,235.2 L208.3,235.2 L208.3,235.2 L209.5,235.2 L209.5,235.2 L210.7,235.2 L210.7,235.2 L212.0,235.2 L212.0,235.2 L213.2,235.2 L213.2,235.2 L214.4,235.2 L214.4,235.2 L215.6,235.2 L215.6,235.2 L215.6,263.5 L215.6,263.5 L214.4,263.5 L214.4,263.5 L213.1,263.5 L213.1,263.5 L211.9,263.5 L211.9,263.5 L210.7,263.5 L210.7,263.5 L209.5,263.5 L209.5,263.5 L208.2,263.5 L208.2,263.5 L207.0,263.5 L207.0,263.5 L205.8,263.5 L205.8,263.5 L204.6,263.5 L204.6,263.5 L203.3,263.5 L203.3,263.5 L202.1,263.5 L202.1,263.5 L200.9,263.5 L200.9,263.5 L199.6,263.5 L199.6,263.5 L198.4,263.5 L198.4,263.5 L197.2,263.5 L197.2,263.5 L196.0,263.5 L196.0,263.5 L194.7,263.5 L194.7,263.5 L193.5,263.5 L193.5,263.5 L192.3,263.5 L192.3,263.5 L191.1,263.5 L191.1,263.5 L189.8,263.5 L189.8,263.5 L188.6,263.5 L188.6,253.8 L188.6,253.8 L188.6,253.8 L187.4,253.8 L187.4,253.8 L186.2,253.8 L186.2,253.8 L185.0,253.8 L185.0,253.8 L183.8,253.8 L183.8,253.8 L182.6,253.8 L182.6,253.8 L181.4,253.8 L181.4,253.8 L180.2,253.8 L180.2,253.8 L179.0,253.8 L179.0,253.8 L177.8,253.8 L177.8,253.8 L176.5,253.8 L176.5,253.8 L175.3,253.8 L175.3,253.8 L174.1,253.8 L174.1,253.8 L172.9,253.8 L172.9,253.8 L171.7,253.8 L171.7,253.8 L170.5,253.8 L170.5,253.8 L169.3,253.8 L169.3,253.8 L168.1,253.8 L168.1,253.8 L166.9,253.8 L166.9,253.8 L165.7,253.8 L165.7,253.8 L164.5,253.8 L164.5,253.8 L163.3,253.8 L163.3,253.8 L162.1,253.8 L162.1,253.8 L160.9,253.8 L160.9,253.8 L159.7,253.8 L159.7,253.8 L158.5,253.8 L158.5,253.8 L157.3,253.8 L157.3,253.8 L156.1,253.8 L156.1,253.8 L154.8,253.8 L154.8,253.8 L153.6,253.8 L153.6,253.8 L152.4,253.8 L152.4,253.8 L151.2,253.8 L151.2,253.8 L150.0,253.8 L150.0,253.8 L148.8,253.8 L148.8,253.8 L147.6,253.8 L147.6,253.8 L146.4,253.8 L146.4,253.8 L145.2,253.8 L145.2,253.8 L144.0,253.8 L144.0,248.0 L144.0,248.0 L144.0,248.0 L142.8,248.0 L142.8,248.0 L141.6,248.0 L141.6,248.0 L140.3,248.0 L140.3,248.0 L139.1,248.0 L139.1,248.0 L137.9,248.0 L137.9,248.0 L136.7,248.0 L136.7,248.0 L135.5,248.0 L135.5,248.0 L134.3,248.0 L134.3,248.0 L133.0,248.0 L133.0,248.0 L131.8,248.0 L131.8,248.0 L130.6,248.0 L130.6,248.0 L129.4,248.0 L129.4,248.0 L128.2,248.0 L128.2,248.0 L127.0,248.0 L127.0,248.0 L125.7,248.0 L125.7,248.0 L124.5,248.0 L124.5,248.0 L123.3,248.0 L123.3,248.0 L122.1,248.0 L122.1,248.0 L120.9,248.0 L120.9,248.0 L119.7,248.0 L119.7,248.0 L118.4,248.0 L118.4,248.0 L117.2,248.0 L117.2,248.0 L116.0,248.0 L116.0,246.0 L116.0,246.0 L116.0,245.9 L114.8,245.9 L114.8,245.8 L113.5,245.8 L113.5,245.8 L112.3,245.8 L112.3,245.7 L111.1,245.7 L111.1,245.6 L109.8,245.6 L109.8,245.5 L108.6,245.5 L108.6,245.5 L107.4,245.5 L107.4,245.4 L106.2,245.4 L106.2,245.3 L104.9,245.3 L104.9,245.2 L103.7,245.2 L103.7,245.2 L102.5,245.2 L102.5,245.1 L101.2,245.1 L101.2,245.0 L100.0,245.0 L100.0,244.3 L98.7,244.3 L98.7,243.7 L97.3,243.7 L97.3,243.0 L96.0,243.0 L96.0,242.3 L94.7,242.3 L94.7,241.7 L93.3,241.7 L93.3,241.0 L92.0,241.0 L92.0,240.0 L90.7,240.0 L90.7,239.0 L89.4,239.0 L89.4,238.0 L88.1,238.0 L88.1,237.0 L86.8,237.0 L86.8,236.0 L85.4,236.0 L85.4,235.0 L84.1,235.0 L84.1,234.0 L82.8,234.0 L82.8,233.0 L81.5,233.0 L81.5,231.6 L80.2,231.6 L80.2,230.2 L78.9,230.2 L78.9,228.9 L77.6,228.9 L77.6,227.5 L76.2,227.5 L76.2,226.1 L74.9,226.1 L74.9,224.8 L73.6,224.8 L73.6,223.4 L72.3,223.4 L72.3,222.0 L71.0,222.0 L71.0,219.7 L69.6,219.7 L69.6,217.3 L68.3,217.3 L68.3,215.0 L66.9,215.0 L66.9,212.7 L65.5,212.7 L65.5,210.3 L64.2,210.3 L64.2,208.0 L62.8,208.0 L62.8,206.2 L61.5,206.2 L61.5,204.5 L60.2,204.5 L60.2,202.8 L58.9,202.8 L58.9,201.0 L57.6,201.0 L57.6,199.2 L56.3,199.2 L56.3,197.5 L55.0,197.5 L55.0,195.8 L53.7,195.8 L53.7,194.0 L52.4,194.0 L52.4,174.3 L50.8,174.3 Z" fill="#e8685f" fill-opacity="0.42" stroke="none"/>
<path d="M42,235.5 H91.6 M67.6,235.5 V297.5 M91.6,235.5 V297.5" stroke="#222" stroke-width="1" stroke-dasharray="1.5,2.3" fill="none"/>
<path d="M50.8,174.3 L51.6,174.3 L51.6,181.0 L52.4,181.0 L52.4,187.8 L53.4,187.8 L53.4,193.0 L54.5,193.0 L54.5,198.2 L56.6,198.2 L56.6,205.5 L58.2,205.5 L58.2,210.2 L59.7,210.2 L59.7,214.8 L61.2,214.8 L61.2,218.9 L62.8,218.9 L62.8,223.0 L64.4,223.0 L64.4,227.2 L66.0,227.2 L66.0,231.4 L68.0,231.4 L68.0,236.6 L70.1,236.6 L70.1,242.8 L72.2,242.8 L72.2,245.9 L73.6,245.9 L73.6,246.9 L74.9,246.9 L74.9,248.0 L76.3,248.0 L76.3,249.0 L77.6,249.0 L77.6,249.8 L78.9,249.8 L78.9,250.6 L80.2,250.6 L80.2,251.3 L81.5,251.3 L81.5,252.1 L82.7,252.1 L82.7,252.7 L84.0,252.7 L84.0,253.3 L85.2,253.3 L85.2,254.0 L86.5,254.0 L86.5,254.6 L87.7,254.6 L87.7,255.2 L88.9,255.2 L88.9,255.5 L90.1,255.5 L90.1,255.9 L91.3,255.9 L91.3,256.2 L92.6,256.2 L92.6,256.6 L93.8,256.6 L93.8,256.9 L95.0,256.9 L95.0,257.3 L96.2,257.3 L96.2,257.9 L97.5,257.9 L97.5,258.5 L98.8,258.5 L98.8,259.0 L100.0,259.0 L100.0,259.6 L101.2,259.6 L101.2,259.6 L102.5,259.6 L102.5,259.6 L103.8,259.6 L103.8,259.6 L105.0,259.6 L105.0,259.6 L106.2,259.6 L106.2,259.6 L107.5,259.6 L107.5,259.6 L108.8,259.6 L108.8,259.6 L110.0,259.6 L110.0,259.6 L111.2,259.6 L111.2,259.6 L112.5,259.6 L112.5,259.6 L113.8,259.6 L113.8,259.6 L115.0,259.6 L115.0,259.6 L116.2,259.6 L116.2,259.6 L117.5,259.6 L117.5,259.6 L118.8,259.6 L118.8,259.6 L120.0,259.6 L120.0,259.6 L121.2,259.6 L121.2,259.6 L122.5,259.6 L122.5,259.6 L123.8,259.6 L123.8,259.6 L125.0,259.6 L125.0,259.6 L125.0,259.6 L125.0,261.5 L126.2,261.5 L126.2,261.5 L127.5,261.5 L127.5,261.5 L128.8,261.5 L128.8,261.5 L130.0,261.5 L130.0,261.5 L131.2,261.5 L131.2,261.5 L132.5,261.5 L132.5,261.5 L133.8,261.5 L133.8,261.5 L135.0,261.5 L135.0,261.5 L136.2,261.5 L136.2,261.5 L137.5,261.5 L137.5,261.5 L138.8,261.5 L138.8,261.5 L140.0,261.5 L140.0,261.5 L141.2,261.5 L141.2,261.5 L142.5,261.5 L142.5,261.5 L143.8,261.5 L143.8,261.5 L145.0,261.5 L145.0,261.5 L145.0,261.5 L145.0,264.4 L146.2,264.4 L146.2,264.4 L147.5,264.4 L147.5,264.4 L148.8,264.4 L148.8,264.4 L150.0,264.4 L150.0,264.4 L151.2,264.4 L151.2,264.4 L152.5,264.4 L152.5,264.4 L153.8,264.4 L153.8,264.4 L155.0,264.4 L155.0,264.4 L156.2,264.4 L156.2,264.4 L157.5,264.4 L157.5,264.4 L158.8,264.4 L158.8,264.4 L160.0,264.4 L160.0,264.4 L161.2,264.4 L161.2,264.4 L162.5,264.4 L162.5,264.4 L163.8,264.4 L163.8,264.4 L165.0,264.4 L165.0,264.4 L166.2,264.4 L166.2,264.4 L167.5,264.4 L167.5,264.4 L168.8,264.4 L168.8,264.4 L170.0,264.4 L170.0,264.4 L171.2,264.4 L171.2,264.4 L172.5,264.4 L172.5,264.4 L172.5,264.4 L172.5,268.8 L173.7,268.8 L173.7,268.8 L174.9,268.8 L174.9,268.8 L176.2,268.8 L176.2,268.8 L177.4,268.8 L177.4,268.8 L178.6,268.8 L178.6,268.8 L179.8,268.8 L179.8,268.8 L181.0,268.8 L181.0,268.8 L182.2,268.8 L182.2,268.8 L183.5,268.8 L183.5,268.8 L184.7,268.8 L184.7,268.8 L185.9,268.8 L185.9,268.8 L187.1,268.8 L187.1,268.8 L188.3,268.8 L188.3,268.8 L189.6,268.8 L189.6,268.8 L190.8,268.8 L190.8,268.8 L192.0,268.8 L192.0,268.8 L193.2,268.8 L193.2,268.8 L194.4,268.8 L194.4,268.8 L195.6,268.8 L195.6,268.8 L196.9,268.8 L196.9,268.8 L198.1,268.8 L198.1,268.8 L199.3,268.8 L199.3,268.8 L200.5,268.8 L200.5,268.8 L201.7,268.8 L201.7,268.8 L202.9,268.8 L202.9,268.8 L204.2,268.8 L204.2,268.8 L205.4,268.8 L205.4,268.8 L206.6,268.8 L206.6,268.8 L207.8,268.8 L207.8,268.8 L209.0,268.8 L209.0,268.8 L210.3,268.8 L210.3,268.8 L211.5,268.8 L211.5,268.8 L212.7,268.8 L212.7,268.8 L213.9,268.8 L213.9,268.8 L215.1,268.8 L215.1,268.8 L216.3,268.8 L216.3,268.8 L217.6,268.8 L217.6,268.8 L218.8,268.8 L218.8,268.8 L220.0,268.8 L220.0,268.8" stroke="#26568e" stroke-width="1.3" fill="none"/>
<path d="M50.8,174.3 L51.8,174.3 L51.8,183.0 L52.6,183.0 L52.6,188.0 L53.5,188.0 L53.5,191.0 L55.6,191.0 L55.6,197.0 L57.2,197.0 L57.2,198.7 L58.7,198.7 L58.7,200.3 L60.1,200.3 L60.1,201.0 L61.4,201.0 L61.4,201.6 L62.8,201.6 L62.8,202.3 L64.4,202.3 L64.4,203.9 L66.0,203.9 L66.0,205.5 L68.0,205.5 L68.0,209.6 L69.5,209.6 L69.5,213.0 L71.1,213.0 L71.1,216.9 L72.5,216.9 L72.5,219.0 L74.2,219.0 L74.2,221.0 L75.8,221.0 L75.8,222.5 L77.3,222.5 L77.3,224.0 L78.7,224.0 L78.7,224.7 L80.1,224.7 L80.1,225.5 L81.5,225.5 L81.5,226.2 L83.0,226.2 L83.0,227.8 L84.6,227.8 L84.6,229.3 L86.2,229.3 L86.2,230.9 L87.7,230.9 L87.7,232.4 L89.2,232.4 L89.2,233.9 L90.8,233.9 L90.8,235.5 L92.2,235.5 L92.2,236.0 L93.6,236.0 L93.6,236.5 L95.0,236.5 L95.0,237.0 L96.2,237.0 L96.2,237.4 L97.5,237.4 L97.5,237.8 L98.8,237.8 L98.8,238.1 L100.0,238.1 L100.0,238.5 L101.2,238.5 L101.2,238.5 L102.4,238.5 L102.4,238.5 L103.6,238.5 L103.6,238.5 L104.8,238.5 L104.8,238.5 L106.0,238.5 L106.0,238.5 L107.2,238.5 L107.2,238.5 L108.4,238.5 L108.4,238.5 L109.6,238.5 L109.6,238.5 L110.8,238.5 L110.8,238.5 L112.0,238.5 L112.0,238.5 L113.2,238.5 L113.2,238.5 L114.4,238.5 L114.4,238.5 L115.6,238.5 L115.6,238.5 L116.8,238.5 L116.8,238.5 L118.0,238.5 L118.0,238.5 L118.0,238.5 L118.0,243.3 L119.2,243.3 L119.2,243.3 L120.5,243.3 L120.5,243.3 L121.8,243.3 L121.8,243.3 L123.0,243.3 L123.0,243.3 L124.2,243.3 L124.2,243.3 L125.5,243.3 L125.5,243.3 L126.8,243.3 L126.8,243.3 L128.0,243.3 L128.0,243.3 L128.0,243.3 L128.0,244.2 L129.2,244.2 L129.2,244.2 L130.4,244.2 L130.4,244.2 L131.6,244.2 L131.6,244.2 L132.9,244.2 L132.9,244.2 L134.1,244.2 L134.1,244.2 L135.3,244.2 L135.3,244.2 L136.5,244.2 L136.5,244.2 L137.7,244.2 L137.7,244.2 L138.9,244.2 L138.9,244.2 L140.1,244.2 L140.1,244.2 L141.4,244.2 L141.4,244.2 L142.6,244.2 L142.6,244.2 L143.8,244.2 L143.8,244.2 L145.0,244.2 L145.0,244.2 L145.0,244.2 L145.0,245.2 L146.2,245.2 L146.2,245.2 L147.4,245.2 L147.4,245.2 L148.6,245.2 L148.6,245.2 L149.8,245.2 L149.8,245.2 L151.1,245.2 L151.1,245.2 L152.3,245.2 L152.3,245.2 L153.5,245.2 L153.5,245.2 L154.7,245.2 L154.7,245.2 L155.9,245.2 L155.9,245.2 L157.1,245.2 L157.1,245.2 L158.3,245.2 L158.3,245.2 L159.5,245.2 L159.5,245.2 L160.7,245.2 L160.7,245.2 L162.0,245.2 L162.0,245.2 L163.2,245.2 L163.2,245.2 L164.4,245.2 L164.4,245.2 L165.6,245.2 L165.6,245.2 L166.8,245.2 L166.8,245.2 L168.0,245.2 L168.0,245.2 L169.2,245.2 L169.2,245.2 L170.4,245.2 L170.4,245.2 L171.6,245.2 L171.6,245.2 L172.9,245.2 L172.9,245.2 L174.1,245.2 L174.1,245.2 L175.3,245.2 L175.3,245.2 L176.5,245.2 L176.5,245.2 L177.7,245.2 L177.7,245.2 L178.9,245.2 L178.9,245.2 L180.1,245.2 L180.1,245.2 L181.3,245.2 L181.3,245.2 L182.5,245.2 L182.5,245.2 L183.8,245.2 L183.8,245.2 L185.0,245.2 L185.0,245.2 L186.2,245.2 L186.2,245.2 L187.4,245.2 L187.4,245.2 L188.6,245.2 L188.6,245.2 L188.6,245.2 L188.6,252.0 L189.8,252.0 L189.8,252.0 L191.1,252.0 L191.1,252.0 L192.3,252.0 L192.3,252.0 L193.5,252.0 L193.5,252.0 L194.7,252.0 L194.7,252.0 L196.0,252.0 L196.0,252.0 L197.2,252.0 L197.2,252.0 L198.4,252.0 L198.4,252.0 L199.6,252.0 L199.6,252.0 L200.9,252.0 L200.9,252.0 L202.1,252.0 L202.1,252.0 L203.3,252.0 L203.3,252.0 L204.6,252.0 L204.6,252.0 L205.8,252.0 L205.8,252.0 L207.0,252.0 L207.0,252.0 L208.2,252.0 L208.2,252.0 L209.5,252.0 L209.5,252.0 L210.7,252.0 L210.7,252.0 L211.9,252.0 L211.9,252.0 L213.1,252.0 L213.1,252.0 L214.4,252.0 L214.4,252.0 L215.6,252.0 L215.6,252.0" stroke="#c8182f" stroke-width="1.3" fill="none"/>
<path d="M62,197.70000000000002 V202.9 M63.5,199.70000000000002 V204.9 M65,199.70000000000002 V204.9 M77,218.4 V223.6 M78.5,221.4 V226.6 M80,221.4 V226.6 M84,223.6 V228.79999999999998 M91,232.9 V238.1 M101,235.9 V241.1 M103,235.9 V241.1 M106,235.9 V241.1 M108,235.9 V241.1 M110,235.9 V241.1 M112,235.9 V241.1 M114,235.9 V241.1 M116,235.9 V241.1 M124,240.70000000000002 V245.9 M126.5,240.70000000000002 V245.9 M129,241.6 V246.79999999999998 M132,241.6 V246.79999999999998 M134,241.6 V246.79999999999998 M136.5,241.6 V246.79999999999998 M139,241.6 V246.79999999999998 M141,241.6 V246.79999999999998 M149,242.6 V247.79999999999998 M151,242.6 V247.79999999999998 M153,242.6 V247.79999999999998 M155.5,242.6 V247.79999999999998 M157.5,242.6 V247.79999999999998 M162,242.6 V247.79999999999998 M164,242.6 V247.79999999999998 M166,242.6 V247.79999999999998 M168.5,242.6 V247.79999999999998 M183,242.6 V247.79999999999998 M185.5,242.6 V247.79999999999998 M194,249.4 V254.6 M197,249.4 V254.6 M200,249.4 V254.6 M215.6,249.4 V254.6 " stroke="#c8182f" stroke-width="1" fill="none"/>
<path d="M57,202.9 V208.1 M61,212.20000000000002 V217.4 M66,228.8 V234.0 M71,240.20000000000002 V245.4 M73.5,243.3 V248.5 M76,243.3 V248.5 M79,246.4 V251.6 M81,246.4 V251.6 M85,249.5 V254.7 M88,252.6 V257.8 M91,252.6 V257.8 M95,254.70000000000002 V259.90000000000003 M97,254.70000000000002 V259.90000000000003 M101,257.0 V262.20000000000005 M103,257.0 V262.20000000000005 M106,257.0 V262.20000000000005 M108.5,257.0 V262.20000000000005 M113.5,257.0 V262.20000000000005 M116,257.0 V262.20000000000005 M118,257.0 V262.20000000000005 M127,258.9 V264.1 M129,258.9 V264.1 M131.5,258.9 V264.1 M134,258.9 V264.1 M137,258.9 V264.1 M154,261.79999999999995 V267.0 M163.5,261.79999999999995 V267.0 M165.5,261.79999999999995 V267.0 M167.3,261.79999999999995 V267.0 M174,266.2 V271.40000000000003 M180,266.2 V271.40000000000003 M182.7,266.2 V271.40000000000003 M197,266.2 V271.40000000000003 M200,266.2 V271.40000000000003 M220,266.2 V271.40000000000003 " stroke="#26568e" stroke-width="1" fill="none"/>
<text x="167.3" y="175" font-size="7" fill="#222" color="#222" textLength="57" lengthAdjust="spacingAndGlyphs" >Early Tm/Term ratio</text>
<rect x="167.3" y="180" width="6.8" height="5.8" fill="#f2aaaa"/>
<path d="M167.3,183 H174.1 M170.7,180.2 V185.8" stroke="#c8182f" stroke-width="1"/>
<text x="177" y="185.2" font-size="7" fill="#222" color="#222" textLength="78" lengthAdjust="spacingAndGlyphs" >Early Tm/Term ratio = high</text>
<rect x="167.3" y="188.6" width="6.8" height="5.8" fill="#a9b6dc"/>
<path d="M167.3,191.6 H174.1 M170.7,188.79999999999998 V194.4" stroke="#26568e" stroke-width="1"/>
<text x="177" y="193.79999999999998" font-size="7" fill="#222" color="#222" textLength="71.5" lengthAdjust="spacingAndGlyphs" >Early Tm/Term ratio = low</text>
<text x="151.8" y="220.5" font-size="6.8" fill="#222" color="#222" textLength="25.2" lengthAdjust="spacingAndGlyphs" >Log-rank</text>
<text x="151.8" y="228.5" font-size="6.8" fill="#222" color="#222" textLength="26.2" lengthAdjust="spacingAndGlyphs" >P &lt; .0001</text>
<text x="29.5" y="338.5" font-size="6.5" fill="#222" color="#222" >Number at risk</text>
<line x1="33" y1="346.5" x2="40" y2="346.5" stroke="#c8182f" stroke-width="1.2"/>
<line x1="33" y1="356.3" x2="40" y2="356.3" stroke="#26568e" stroke-width="1.2"/>
<text x="51.0" y="349" font-size="6.8" text-anchor="middle" fill="#c8182f" color="#c8182f" >222</text>
<text x="51.0" y="358.8" font-size="6.8" text-anchor="middle" fill="#26568e" color="#26568e" >222</text>
<text x="70.77" y="349" font-size="6.8" text-anchor="middle" fill="#c8182f" color="#c8182f" >121</text>
<text x="70.77" y="358.8" font-size="6.8" text-anchor="middle" fill="#26568e" color="#26568e" >73</text>
<text x="90.53999999999999" y="349" font-size="6.8" text-anchor="middle" fill="#c8182f" color="#c8182f" >80</text>
<text x="90.53999999999999" y="358.8" font-size="6.8" text-anchor="middle" fill="#26568e" color="#26568e" >45</text>
<text x="110.31" y="349" font-size="6.8" text-anchor="middle" fill="#c8182f" color="#c8182f" >57</text>
<text x="110.31" y="358.8" font-size="6.8" text-anchor="middle" fill="#26568e" color="#26568e" >30</text>
<text x="130.07999999999998" y="349" font-size="6.8" text-anchor="middle" fill="#c8182f" color="#c8182f" >41</text>
<text x="130.07999999999998" y="358.8" font-size="6.8" text-anchor="middle" fill="#26568e" color="#26568e" >22</text>
<text x="149.85" y="349" font-size="6.8" text-anchor="middle" fill="#c8182f" color="#c8182f" >33</text>
<text x="149.85" y="358.8" font-size="6.8" text-anchor="middle" fill="#26568e" color="#26568e" >16</text>
<text x="169.62" y="349" font-size="6.8" text-anchor="middle" fill="#c8182f" color="#c8182f" >13</text>
<text x="169.62" y="358.8" font-size="6.8" text-anchor="middle" fill="#26568e" color="#26568e" >9</text>
<text x="189.39" y="349" font-size="6.8" text-anchor="middle" fill="#c8182f" color="#c8182f" >7</text>
<text x="189.39" y="358.8" font-size="6.8" text-anchor="middle" fill="#26568e" color="#26568e" >3</text>
<text x="209.16" y="349" font-size="6.8" text-anchor="middle" fill="#c8182f" color="#c8182f" >2</text>
<text x="209.16" y="358.8" font-size="6.8" text-anchor="middle" fill="#26568e" color="#26568e" >1</text>
<text x="228.93" y="349" font-size="6.8" text-anchor="middle" fill="#c8182f" color="#c8182f" >0</text>
<text x="228.93" y="358.8" font-size="6.8" text-anchor="middle" fill="#26568e" color="#26568e" >0</text>
<text x="248.7" y="349" font-size="6.8" text-anchor="middle" fill="#c8182f" color="#c8182f" >0</text>
<text x="248.7" y="358.8" font-size="6.8" text-anchor="middle" fill="#26568e" color="#26568e" >0</text>
<line x1="300.5" y1="168.5" x2="300.5" y2="350.5" stroke="#222" stroke-width="0.9"/>
<line x1="300.5" y1="350.5" x2="416.5" y2="350.5" stroke="#222" stroke-width="0.9"/>
<line x1="298" y1="211.20000000000002" x2="300.5" y2="211.20000000000002" stroke="#222" stroke-width="0.8"/>
<text x="295" y="213.50000000000003" font-size="6.8" text-anchor="end" fill="#333" color="#333" >1.25</text>
<line x1="298" y1="260.8" x2="300.5" y2="260.8" stroke="#222" stroke-width="0.8"/>
<text x="295" y="263.1" font-size="6.8" text-anchor="end" fill="#333" color="#333" >1.00</text>
<line x1="298" y1="310.40000000000003" x2="300.5" y2="310.40000000000003" stroke="#222" stroke-width="0.8"/>
<text x="295" y="312.70000000000005" font-size="6.8" text-anchor="end" fill="#333" color="#333" >0.75</text>
<text x="0" y="0" font-size="7.9" text-anchor="middle" fill="#222" color="#222" textLength="59.6" lengthAdjust="spacingAndGlyphs" transform="translate(274.8,259.2) rotate(-90)">Ratio early Tm/Term</text>
<line x1="321.5" y1="232.62720000000002" x2="321.5" y2="313.5744" stroke="#222" stroke-width="0.8"/>
<rect x="308.0" y="265.76" width="27" height="24.006400000000042" fill="#c8771d" stroke="#333" stroke-width="0.5"/>
<line x1="308.0" y1="276.2752" x2="335.0" y2="276.2752" stroke="#222" stroke-width="0.9"/>
<g fill="#111"><circle cx="320.6" cy="313.6" r="1.1"/><circle cx="314.9" cy="232.6" r="1.1"/><circle cx="323.8" cy="281.0" r="1.1"/><circle cx="319.1" cy="267.9" r="1.1"/><circle cx="323.5" cy="254.3" r="1.1"/><circle cx="319.6" cy="300.3" r="1.1"/><circle cx="321.5" cy="291.2" r="1.1"/><circle cx="322.3" cy="283.9" r="1.1"/><circle cx="324.6" cy="294.0" r="1.1"/><circle cx="318.4" cy="298.6" r="1.1"/><circle cx="324.0" cy="286.0" r="1.1"/><circle cx="317.5" cy="255.4" r="1.1"/><circle cx="325.9" cy="265.0" r="1.1"/><circle cx="317.5" cy="276.6" r="1.1"/><circle cx="315.1" cy="276.8" r="1.1"/><circle cx="314.6" cy="305.3" r="1.1"/><circle cx="323.0" cy="265.5" r="1.1"/><circle cx="318.8" cy="270.0" r="1.1"/><circle cx="322.6" cy="295.5" r="1.1"/><circle cx="318.7" cy="273.7" r="1.1"/><circle cx="320.6" cy="280.5" r="1.1"/><circle cx="327.1" cy="286.0" r="1.1"/><circle cx="327.9" cy="293.9" r="1.1"/><circle cx="314.6" cy="288.6" r="1.1"/><circle cx="328.2" cy="293.1" r="1.1"/><circle cx="321.6" cy="269.4" r="1.1"/><circle cx="325.1" cy="271.0" r="1.1"/><circle cx="327.9" cy="271.8" r="1.1"/><circle cx="316.8" cy="280.3" r="1.1"/><circle cx="319.7" cy="284.1" r="1.1"/><circle cx="327.3" cy="242.7" r="1.1"/><circle cx="321.8" cy="308.6" r="1.1"/><circle cx="327.5" cy="257.0" r="1.1"/><circle cx="326.6" cy="271.2" r="1.1"/><circle cx="329.0" cy="276.0" r="1.1"/><circle cx="323.9" cy="285.8" r="1.1"/><circle cx="315.0" cy="280.9" r="1.1"/><circle cx="327.5" cy="297.2" r="1.1"/><circle cx="316.8" cy="300.6" r="1.1"/><circle cx="316.4" cy="279.1" r="1.1"/><circle cx="319.5" cy="305.1" r="1.1"/><circle cx="317.1" cy="263.0" r="1.1"/><circle cx="316.1" cy="258.4" r="1.1"/><circle cx="323.6" cy="313.6" r="1.1"/><circle cx="327.7" cy="303.4" r="1.1"/><circle cx="318.0" cy="272.6" r="1.1"/><circle cx="319.6" cy="273.6" r="1.1"/><circle cx="323.6" cy="275.3" r="1.1"/><circle cx="318.5" cy="270.0" r="1.1"/><circle cx="321.4" cy="264.6" r="1.1"/><circle cx="327.7" cy="262.5" r="1.1"/><circle cx="315.8" cy="247.0" r="1.1"/><circle cx="322.0" cy="276.7" r="1.1"/><circle cx="317.2" cy="262.6" r="1.1"/><circle cx="325.6" cy="304.5" r="1.1"/><circle cx="317.1" cy="279.4" r="1.1"/><circle cx="326.2" cy="297.7" r="1.1"/><circle cx="320.0" cy="253.6" r="1.1"/><circle cx="328.0" cy="237.7" r="1.1"/><circle cx="319.4" cy="268.0" r="1.1"/><circle cx="321.4" cy="299.0" r="1.1"/><circle cx="315.6" cy="279.0" r="1.1"/><circle cx="318.2" cy="276.6" r="1.1"/><circle cx="320.2" cy="273.8" r="1.1"/><circle cx="327.4" cy="258.7" r="1.1"/><circle cx="322.8" cy="261.0" r="1.1"/><circle cx="326.1" cy="313.6" r="1.1"/><circle cx="326.8" cy="254.0" r="1.1"/><circle cx="315.4" cy="285.5" r="1.1"/><circle cx="318.7" cy="286.5" r="1.1"/><circle cx="326.5" cy="253.2" r="1.1"/><circle cx="325.3" cy="281.6" r="1.1"/><circle cx="322.5" cy="300.2" r="1.1"/><circle cx="320.1" cy="299.4" r="1.1"/><circle cx="321.5" cy="276.1" r="1.1"/><circle cx="314.2" cy="261.8" r="1.1"/><circle cx="315.9" cy="251.8" r="1.1"/><circle cx="319.3" cy="280.0" r="1.1"/><circle cx="316.1" cy="285.0" r="1.1"/><circle cx="317.5" cy="249.7" r="1.1"/><circle cx="326.1" cy="284.8" r="1.1"/><circle cx="325.5" cy="252.5" r="1.1"/><circle cx="325.0" cy="273.1" r="1.1"/><circle cx="322.5" cy="273.1" r="1.1"/><circle cx="327.8" cy="281.0" r="1.1"/><circle cx="317.4" cy="272.1" r="1.1"/><circle cx="323.3" cy="284.9" r="1.1"/><circle cx="320.3" cy="288.5" r="1.1"/><circle cx="328.1" cy="279.3" r="1.1"/><circle cx="319.2" cy="288.0" r="1.1"/><circle cx="317.6" cy="271.9" r="1.1"/><circle cx="325.5" cy="275.6" r="1.1"/><circle cx="326.2" cy="281.5" r="1.1"/><circle cx="324.8" cy="280.4" r="1.1"/><circle cx="325.8" cy="280.9" r="1.1"/><circle cx="316.9" cy="247.7" r="1.1"/><circle cx="323.1" cy="277.2" r="1.1"/><circle cx="322.1" cy="287.1" r="1.1"/><circle cx="327.6" cy="282.0" r="1.1"/><circle cx="320.0" cy="265.9" r="1.1"/><circle cx="317.7" cy="280.4" r="1.1"/><circle cx="318.6" cy="279.6" r="1.1"/><circle cx="321.7" cy="281.4" r="1.1"/><circle cx="328.7" cy="274.3" r="1.1"/><circle cx="324.5" cy="270.5" r="1.1"/><circle cx="324.8" cy="269.6" r="1.1"/><circle cx="321.0" cy="304.6" r="1.1"/><circle cx="319.9" cy="295.1" r="1.1"/><circle cx="328.0" cy="313.6" r="1.1"/><circle cx="320.8" cy="263.6" r="1.1"/><circle cx="315.9" cy="258.4" r="1.1"/><circle cx="325.7" cy="255.2" r="1.1"/><circle cx="317.0" cy="274.7" r="1.1"/><circle cx="319.9" cy="257.7" r="1.1"/><circle cx="323.2" cy="277.7" r="1.1"/><circle cx="326.5" cy="279.1" r="1.1"/><circle cx="314.1" cy="303.0" r="1.1"/><circle cx="323.8" cy="290.3" r="1.1"/><circle cx="316.0" cy="287.1" r="1.1"/><circle cx="323.5" cy="261.6" r="1.1"/><circle cx="323.1" cy="249.1" r="1.1"/><circle cx="321.7" cy="285.0" r="1.1"/><circle cx="320.4" cy="270.8" r="1.1"/><circle cx="322.1" cy="272.4" r="1.1"/><circle cx="328.4" cy="290.1" r="1.1"/><circle cx="319.3" cy="306.1" r="1.1"/><circle cx="321.1" cy="289.8" r="1.1"/><circle cx="316.2" cy="301.3" r="1.1"/><circle cx="319.8" cy="282.4" r="1.1"/><circle cx="314.8" cy="279.5" r="1.1"/><circle cx="327.6" cy="280.1" r="1.1"/><circle cx="319.2" cy="279.9" r="1.1"/><circle cx="328.1" cy="269.0" r="1.1"/><circle cx="316.0" cy="292.8" r="1.1"/><circle cx="323.9" cy="262.1" r="1.1"/><circle cx="323.0" cy="305.3" r="1.1"/><circle cx="323.9" cy="276.1" r="1.1"/><circle cx="325.9" cy="270.6" r="1.1"/><circle cx="315.1" cy="290.4" r="1.1"/><circle cx="325.1" cy="304.0" r="1.1"/><circle cx="314.4" cy="266.4" r="1.1"/><circle cx="318.5" cy="288.5" r="1.1"/><circle cx="326.7" cy="264.0" r="1.1"/><circle cx="322.6" cy="264.2" r="1.1"/><circle cx="328.0" cy="277.2" r="1.1"/><circle cx="326.9" cy="277.2" r="1.1"/><circle cx="320.3" cy="260.5" r="1.1"/><circle cx="318.2" cy="270.8" r="1.1"/><circle cx="317.1" cy="292.8" r="1.1"/><circle cx="314.6" cy="274.3" r="1.1"/><circle cx="324.7" cy="267.8" r="1.1"/><circle cx="326.1" cy="273.7" r="1.1"/><circle cx="314.7" cy="273.9" r="1.1"/><circle cx="321.4" cy="279.6" r="1.1"/><circle cx="326.5" cy="279.1" r="1.1"/><circle cx="323.6" cy="292.9" r="1.1"/><circle cx="320.2" cy="301.2" r="1.1"/></g>
<line x1="321.5" y1="350.5" x2="321.5" y2="353" stroke="#222" stroke-width="0.8"/>
<text x="321.5" y="362.5" font-size="6.8" text-anchor="middle" fill="#333" color="#333" >FAV</text>
<line x1="358.3" y1="230.44480000000001" x2="358.3" y2="321.5104" stroke="#222" stroke-width="0.8"/>
<rect x="344.8" y="269.728" width="27" height="23.014400000000023" fill="#1f4f92" stroke="#333" stroke-width="0.5"/>
<line x1="344.8" y1="283.81440000000003" x2="371.8" y2="283.81440000000003" stroke="#222" stroke-width="0.9"/>
<g fill="#111"><circle cx="354.8" cy="321.5" r="1.1"/><circle cx="356.6" cy="230.4" r="1.1"/><circle cx="353.2" cy="276.3" r="1.1"/><circle cx="355.9" cy="261.7" r="1.1"/><circle cx="354.6" cy="289.0" r="1.1"/><circle cx="356.9" cy="287.7" r="1.1"/><circle cx="353.5" cy="303.2" r="1.1"/><circle cx="351.2" cy="267.4" r="1.1"/><circle cx="364.4" cy="246.6" r="1.1"/><circle cx="361.9" cy="307.6" r="1.1"/><circle cx="362.4" cy="268.4" r="1.1"/><circle cx="354.6" cy="265.8" r="1.1"/><circle cx="364.9" cy="292.7" r="1.1"/><circle cx="363.3" cy="289.2" r="1.1"/><circle cx="356.9" cy="301.6" r="1.1"/><circle cx="355.1" cy="296.8" r="1.1"/><circle cx="362.7" cy="279.3" r="1.1"/><circle cx="351.1" cy="270.4" r="1.1"/><circle cx="359.4" cy="280.2" r="1.1"/><circle cx="363.8" cy="266.6" r="1.1"/><circle cx="364.5" cy="278.6" r="1.1"/><circle cx="364.7" cy="303.8" r="1.1"/><circle cx="357.2" cy="255.7" r="1.1"/><circle cx="351.0" cy="260.6" r="1.1"/><circle cx="356.0" cy="295.4" r="1.1"/><circle cx="354.9" cy="249.7" r="1.1"/><circle cx="359.5" cy="273.7" r="1.1"/><circle cx="361.7" cy="279.9" r="1.1"/><circle cx="365.5" cy="247.0" r="1.1"/><circle cx="355.6" cy="321.5" r="1.1"/><circle cx="356.2" cy="311.8" r="1.1"/><circle cx="352.1" cy="269.2" r="1.1"/><circle cx="363.3" cy="286.8" r="1.1"/><circle cx="358.3" cy="299.6" r="1.1"/><circle cx="354.3" cy="254.5" r="1.1"/><circle cx="358.3" cy="273.3" r="1.1"/><circle cx="358.1" cy="305.7" r="1.1"/><circle cx="363.1" cy="294.3" r="1.1"/><circle cx="354.2" cy="266.7" r="1.1"/><circle cx="358.4" cy="249.4" r="1.1"/><circle cx="357.5" cy="319.0" r="1.1"/><circle cx="352.3" cy="277.6" r="1.1"/><circle cx="352.9" cy="289.2" r="1.1"/><circle cx="354.4" cy="314.2" r="1.1"/><circle cx="357.3" cy="285.2" r="1.1"/><circle cx="359.1" cy="311.6" r="1.1"/><circle cx="362.0" cy="292.0" r="1.1"/><circle cx="364.5" cy="252.4" r="1.1"/><circle cx="352.2" cy="272.7" r="1.1"/><circle cx="365.4" cy="267.7" r="1.1"/><circle cx="357.0" cy="271.1" r="1.1"/><circle cx="362.5" cy="275.6" r="1.1"/><circle cx="355.8" cy="264.2" r="1.1"/><circle cx="361.8" cy="303.5" r="1.1"/><circle cx="361.1" cy="288.7" r="1.1"/><circle cx="351.1" cy="266.4" r="1.1"/><circle cx="363.9" cy="295.4" r="1.1"/><circle cx="351.5" cy="290.1" r="1.1"/><circle cx="358.2" cy="259.8" r="1.1"/><circle cx="354.1" cy="253.8" r="1.1"/><circle cx="359.7" cy="293.1" r="1.1"/><circle cx="353.5" cy="297.0" r="1.1"/><circle cx="359.9" cy="271.2" r="1.1"/><circle cx="362.3" cy="277.0" r="1.1"/><circle cx="359.7" cy="294.3" r="1.1"/><circle cx="363.4" cy="271.0" r="1.1"/><circle cx="356.5" cy="271.7" r="1.1"/><circle cx="360.8" cy="280.4" r="1.1"/><circle cx="357.5" cy="230.4" r="1.1"/><circle cx="364.5" cy="256.9" r="1.1"/><circle cx="352.2" cy="266.9" r="1.1"/><circle cx="363.8" cy="263.1" r="1.1"/><circle cx="351.0" cy="230.4" r="1.1"/><circle cx="363.6" cy="261.7" r="1.1"/><circle cx="352.1" cy="295.1" r="1.1"/><circle cx="361.3" cy="276.0" r="1.1"/><circle cx="352.3" cy="280.5" r="1.1"/><circle cx="362.5" cy="292.3" r="1.1"/><circle cx="354.1" cy="277.1" r="1.1"/><circle cx="351.9" cy="277.2" r="1.1"/><circle cx="363.9" cy="282.9" r="1.1"/><circle cx="359.4" cy="290.8" r="1.1"/><circle cx="363.5" cy="266.6" r="1.1"/><circle cx="362.7" cy="311.2" r="1.1"/><circle cx="352.2" cy="266.7" r="1.1"/><circle cx="352.2" cy="281.7" r="1.1"/><circle cx="361.5" cy="276.8" r="1.1"/><circle cx="363.5" cy="321.5" r="1.1"/><circle cx="353.5" cy="250.9" r="1.1"/><circle cx="364.1" cy="313.7" r="1.1"/><circle cx="351.2" cy="297.8" r="1.1"/><circle cx="362.3" cy="270.0" r="1.1"/><circle cx="360.2" cy="293.0" r="1.1"/><circle cx="356.6" cy="289.3" r="1.1"/><circle cx="356.5" cy="321.5" r="1.1"/><circle cx="355.4" cy="289.9" r="1.1"/><circle cx="357.9" cy="277.9" r="1.1"/><circle cx="358.3" cy="269.3" r="1.1"/><circle cx="353.3" cy="287.1" r="1.1"/><circle cx="351.0" cy="277.8" r="1.1"/><circle cx="358.7" cy="273.7" r="1.1"/><circle cx="353.7" cy="294.2" r="1.1"/><circle cx="352.3" cy="295.6" r="1.1"/><circle cx="354.6" cy="245.6" r="1.1"/><circle cx="353.0" cy="297.5" r="1.1"/><circle cx="363.8" cy="259.1" r="1.1"/><circle cx="355.2" cy="280.5" r="1.1"/><circle cx="360.5" cy="254.6" r="1.1"/><circle cx="350.9" cy="293.6" r="1.1"/><circle cx="360.7" cy="272.2" r="1.1"/></g>
<line x1="358.3" y1="350.5" x2="358.3" y2="353" stroke="#222" stroke-width="0.8"/>
<text x="358.3" y="362.5" font-size="6.8" text-anchor="middle" fill="#333" color="#333" >INT</text>
<line x1="395.2" y1="247.7056" x2="395.2" y2="342.3424" stroke="#222" stroke-width="0.8"/>
<rect x="381.7" y="282.42560000000003" width="27" height="22.41919999999999" fill="#1f6c4e" stroke="#333" stroke-width="0.5"/>
<line x1="381.7" y1="293.536" x2="408.7" y2="293.536" stroke="#222" stroke-width="0.9"/>
<g fill="#111"><circle cx="396.8" cy="342.3" r="1.1"/><circle cx="390.9" cy="247.7" r="1.1"/><circle cx="402.3" cy="290.1" r="1.1"/><circle cx="391.3" cy="283.4" r="1.1"/><circle cx="389.3" cy="271.8" r="1.1"/><circle cx="391.8" cy="297.9" r="1.1"/><circle cx="396.2" cy="326.0" r="1.1"/><circle cx="394.4" cy="295.0" r="1.1"/><circle cx="397.6" cy="323.5" r="1.1"/><circle cx="389.3" cy="314.2" r="1.1"/><circle cx="393.9" cy="275.4" r="1.1"/><circle cx="396.0" cy="283.1" r="1.1"/><circle cx="402.3" cy="303.4" r="1.1"/><circle cx="401.0" cy="303.3" r="1.1"/><circle cx="396.3" cy="294.1" r="1.1"/><circle cx="392.2" cy="322.0" r="1.1"/><circle cx="389.4" cy="284.6" r="1.1"/><circle cx="397.2" cy="298.5" r="1.1"/><circle cx="396.1" cy="261.8" r="1.1"/><circle cx="394.8" cy="310.4" r="1.1"/><circle cx="398.5" cy="275.8" r="1.1"/><circle cx="394.7" cy="304.0" r="1.1"/><circle cx="399.4" cy="275.5" r="1.1"/><circle cx="392.0" cy="309.0" r="1.1"/><circle cx="392.6" cy="280.3" r="1.1"/><circle cx="401.4" cy="300.0" r="1.1"/><circle cx="396.4" cy="306.4" r="1.1"/><circle cx="402.0" cy="295.1" r="1.1"/><circle cx="388.6" cy="284.6" r="1.1"/><circle cx="401.6" cy="285.8" r="1.1"/><circle cx="388.6" cy="266.1" r="1.1"/><circle cx="398.9" cy="278.8" r="1.1"/><circle cx="396.4" cy="336.8" r="1.1"/><circle cx="389.5" cy="299.3" r="1.1"/><circle cx="392.2" cy="326.0" r="1.1"/><circle cx="394.9" cy="299.0" r="1.1"/><circle cx="396.1" cy="282.1" r="1.1"/><circle cx="395.0" cy="315.0" r="1.1"/><circle cx="388.1" cy="312.4" r="1.1"/><circle cx="402.6" cy="290.2" r="1.1"/><circle cx="393.0" cy="297.4" r="1.1"/><circle cx="398.5" cy="266.0" r="1.1"/><circle cx="401.6" cy="287.2" r="1.1"/><circle cx="402.3" cy="283.6" r="1.1"/><circle cx="390.5" cy="263.2" r="1.1"/><circle cx="401.1" cy="301.0" r="1.1"/><circle cx="395.4" cy="292.6" r="1.1"/><circle cx="397.5" cy="309.2" r="1.1"/><circle cx="391.4" cy="288.2" r="1.1"/><circle cx="389.9" cy="275.2" r="1.1"/><circle cx="396.4" cy="269.6" r="1.1"/><circle cx="401.2" cy="293.2" r="1.1"/><circle cx="394.0" cy="304.5" r="1.1"/><circle cx="402.0" cy="305.4" r="1.1"/><circle cx="398.3" cy="316.0" r="1.1"/><circle cx="388.0" cy="290.5" r="1.1"/><circle cx="401.7" cy="269.7" r="1.1"/><circle cx="389.4" cy="332.4" r="1.1"/><circle cx="391.0" cy="329.1" r="1.1"/><circle cx="396.1" cy="269.0" r="1.1"/><circle cx="401.8" cy="319.6" r="1.1"/><circle cx="389.7" cy="287.0" r="1.1"/><circle cx="392.2" cy="313.7" r="1.1"/><circle cx="388.4" cy="279.4" r="1.1"/><circle cx="389.0" cy="279.3" r="1.1"/><circle cx="394.2" cy="289.7" r="1.1"/><circle cx="396.3" cy="278.6" r="1.1"/><circle cx="395.4" cy="291.6" r="1.1"/><circle cx="388.4" cy="283.0" r="1.1"/><circle cx="394.1" cy="261.8" r="1.1"/><circle cx="394.4" cy="274.0" r="1.1"/><circle cx="401.7" cy="303.6" r="1.1"/><circle cx="392.6" cy="306.0" r="1.1"/><circle cx="397.2" cy="296.5" r="1.1"/><circle cx="395.0" cy="296.3" r="1.1"/><circle cx="399.4" cy="291.2" r="1.1"/><circle cx="396.8" cy="302.6" r="1.1"/><circle cx="402.6" cy="281.4" r="1.1"/><circle cx="397.3" cy="291.8" r="1.1"/><circle cx="392.8" cy="286.3" r="1.1"/><circle cx="394.0" cy="292.3" r="1.1"/><circle cx="400.5" cy="282.1" r="1.1"/><circle cx="393.2" cy="312.6" r="1.1"/><circle cx="401.6" cy="265.8" r="1.1"/><circle cx="394.3" cy="286.6" r="1.1"/><circle cx="401.8" cy="284.8" r="1.1"/><circle cx="390.0" cy="282.1" r="1.1"/><circle cx="399.5" cy="274.1" r="1.1"/><circle cx="394.4" cy="280.0" r="1.1"/><circle cx="391.1" cy="288.4" r="1.1"/><circle cx="396.6" cy="295.4" r="1.1"/><circle cx="388.6" cy="320.0" r="1.1"/><circle cx="390.7" cy="288.7" r="1.1"/><circle cx="400.4" cy="297.6" r="1.1"/><circle cx="395.6" cy="297.6" r="1.1"/><circle cx="392.8" cy="251.8" r="1.1"/><circle cx="389.9" cy="323.6" r="1.1"/><circle cx="390.1" cy="291.4" r="1.1"/><circle cx="391.1" cy="271.9" r="1.1"/><circle cx="394.6" cy="276.1" r="1.1"/><circle cx="388.0" cy="271.4" r="1.1"/><circle cx="390.8" cy="313.6" r="1.1"/><circle cx="394.1" cy="308.5" r="1.1"/><circle cx="400.9" cy="281.8" r="1.1"/><circle cx="400.7" cy="297.2" r="1.1"/><circle cx="401.7" cy="263.4" r="1.1"/><circle cx="391.1" cy="288.4" r="1.1"/><circle cx="389.6" cy="288.9" r="1.1"/><circle cx="400.4" cy="284.8" r="1.1"/><circle cx="398.2" cy="296.8" r="1.1"/><circle cx="391.4" cy="290.2" r="1.1"/><circle cx="394.2" cy="303.6" r="1.1"/><circle cx="401.6" cy="292.8" r="1.1"/><circle cx="400.0" cy="300.3" r="1.1"/><circle cx="401.7" cy="287.8" r="1.1"/><circle cx="395.1" cy="316.0" r="1.1"/><circle cx="390.6" cy="317.3" r="1.1"/><circle cx="395.8" cy="284.4" r="1.1"/><circle cx="389.4" cy="288.3" r="1.1"/><circle cx="389.5" cy="308.4" r="1.1"/><circle cx="389.1" cy="296.0" r="1.1"/><circle cx="391.5" cy="309.8" r="1.1"/><circle cx="390.2" cy="257.7" r="1.1"/><circle cx="391.6" cy="318.5" r="1.1"/><circle cx="398.1" cy="263.2" r="1.1"/><circle cx="397.8" cy="306.0" r="1.1"/><circle cx="388.1" cy="285.0" r="1.1"/><circle cx="400.6" cy="296.5" r="1.1"/><circle cx="400.0" cy="298.5" r="1.1"/><circle cx="401.9" cy="276.3" r="1.1"/><circle cx="391.0" cy="278.3" r="1.1"/><circle cx="398.7" cy="297.0" r="1.1"/><circle cx="396.1" cy="307.4" r="1.1"/><circle cx="398.3" cy="257.1" r="1.1"/><circle cx="401.3" cy="268.4" r="1.1"/><circle cx="388.9" cy="289.7" r="1.1"/><circle cx="400.3" cy="297.1" r="1.1"/><circle cx="400.6" cy="287.1" r="1.1"/><circle cx="397.4" cy="290.7" r="1.1"/><circle cx="393.7" cy="271.9" r="1.1"/><circle cx="395.8" cy="308.3" r="1.1"/><circle cx="389.8" cy="291.7" r="1.1"/><circle cx="398.9" cy="305.3" r="1.1"/><circle cx="396.0" cy="270.0" r="1.1"/><circle cx="396.3" cy="261.6" r="1.1"/><circle cx="398.3" cy="293.6" r="1.1"/><circle cx="389.2" cy="282.9" r="1.1"/><circle cx="388.4" cy="268.3" r="1.1"/><circle cx="389.5" cy="297.1" r="1.1"/><circle cx="388.9" cy="307.8" r="1.1"/><circle cx="399.7" cy="274.5" r="1.1"/><circle cx="389.7" cy="283.5" r="1.1"/><circle cx="393.4" cy="295.5" r="1.1"/><circle cx="397.6" cy="267.4" r="1.1"/><circle cx="391.6" cy="288.0" r="1.1"/><circle cx="401.4" cy="322.0" r="1.1"/><circle cx="401.4" cy="286.2" r="1.1"/><circle cx="393.6" cy="293.0" r="1.1"/><circle cx="396.5" cy="260.3" r="1.1"/><circle cx="399.5" cy="292.3" r="1.1"/><circle cx="402.4" cy="295.5" r="1.1"/><circle cx="398.1" cy="284.6" r="1.1"/><circle cx="394.4" cy="287.9" r="1.1"/><circle cx="388.4" cy="315.7" r="1.1"/><circle cx="397.3" cy="290.0" r="1.1"/><circle cx="397.6" cy="297.5" r="1.1"/><circle cx="398.1" cy="268.3" r="1.1"/><circle cx="392.9" cy="251.5" r="1.1"/><circle cx="400.6" cy="310.8" r="1.1"/><circle cx="396.6" cy="308.3" r="1.1"/><circle cx="393.4" cy="306.2" r="1.1"/><circle cx="391.3" cy="303.1" r="1.1"/><circle cx="388.2" cy="303.6" r="1.1"/><circle cx="398.4" cy="291.1" r="1.1"/><circle cx="392.4" cy="273.6" r="1.1"/><circle cx="400.5" cy="313.9" r="1.1"/><circle cx="392.5" cy="317.9" r="1.1"/></g>
<line x1="395.2" y1="350.5" x2="395.2" y2="353" stroke="#222" stroke-width="0.8"/>
<text x="395.2" y="362.5" font-size="6.8" text-anchor="middle" fill="#333" color="#333" >ADV</text>
<circle cx="328.7" cy="213.7" r="1.1" fill="#111"/>
<path d="M321.5,180.3 V176.5 H395.2 V180.3" stroke="#333" stroke-width="1.1" fill="none"/>
<text x="358.35" y="172.7" font-size="6.9" text-anchor="middle" fill="#222" color="#222" >2.9e-14</text>
<path d="M358.3,196.20000000000002 V192.4 H395.2 V196.20000000000002" stroke="#333" stroke-width="1.1" fill="none"/>
<text x="376.75" y="188.6" font-size="6.9" text-anchor="middle" fill="#222" color="#222" >6.2e-07</text>
<path d="M321.5,212.0 V208.2 H358.3 V212.0" stroke="#333" stroke-width="1.1" fill="none"/>
<text x="339.9" y="204.39999999999998" font-size="6.9" text-anchor="middle" fill="#222" color="#222" >0.069</text>
<text x="306.6" y="220.2" font-size="6.9" fill="#222" textLength="77.8" lengthAdjust="spacingAndGlyphs">Kruskal-Wallis, <tspan font-style="italic">P</tspan> = 4.2e-14</text>
<text x="427" y="240.5" font-size="6.8" fill="#222" color="#222" >ELN2017</text>
<rect x="428.6" y="248.6" width="9.4" height="6.2" fill="#c8771d" stroke="#333" stroke-width="0.3"/>
<path d="M428.6,251.7 H438 M433.3,246.2 V257.2" stroke="#222" stroke-width="0.7"/>
<text x="442" y="254.1" font-size="6.8" fill="#222" color="#222" >FAV</text>
<rect x="428.6" y="261.4" width="9.4" height="6.2" fill="#1f4f92" stroke="#333" stroke-width="0.3"/>
<path d="M428.6,264.5 H438 M433.3,259.0 V270.0" stroke="#222" stroke-width="0.7"/>
<text x="442" y="266.9" font-size="6.8" fill="#222" color="#222" >INT</text>
<rect x="428.6" y="274.7" width="9.4" height="6.2" fill="#1f6c4e" stroke="#333" stroke-width="0.3"/>
<path d="M428.6,277.8 H438 M433.3,272.3 V283.3" stroke="#222" stroke-width="0.7"/>
<text x="442" y="280.2" font-size="6.8" fill="#222" color="#222" >ADV</text>
<text x="71.0" y="407.6" font-size="6.5" text-anchor="middle" fill="#222">Wilcoxon, <tspan font-style="italic">P</tspan> = 2.3e-13</text>
<line x1="44.5" y1="411.8" x2="44.5" y2="454.72" stroke="#111" stroke-width="1"/>
<line x1="44.0" y1="454.72" x2="96.0" y2="454.72" stroke="#111" stroke-width="1"/>
<line x1="42.0" y1="415.8" x2="44.5" y2="415.8" stroke="#111" stroke-width="0.9"/>
<text x="39.0" y="418.2" font-size="6.8" text-anchor="end" fill="#333" color="#333" textLength="9" lengthAdjust="spacingAndGlyphs" >1.2</text>
<line x1="42.0" y1="427.94" x2="44.5" y2="427.94" stroke="#111" stroke-width="0.9"/>
<text x="39.0" y="430.34" font-size="6.8" text-anchor="end" fill="#333" color="#333" textLength="9" lengthAdjust="spacingAndGlyphs" >1.0</text>
<line x1="42.0" y1="440.08" x2="44.5" y2="440.08" stroke="#111" stroke-width="0.9"/>
<text x="39.0" y="442.47999999999996" font-size="6.8" text-anchor="end" fill="#333" color="#333" textLength="9" lengthAdjust="spacingAndGlyphs" >0.8</text>
<line x1="42.0" y1="452.22" x2="44.5" y2="452.22" stroke="#111" stroke-width="0.9"/>
<text x="39.0" y="454.62" font-size="6.8" text-anchor="end" fill="#333" color="#333" textLength="9" lengthAdjust="spacingAndGlyphs" >0.6</text>
<text font-size="7.3" fill="#333" text-anchor="middle" transform="translate(12.5,433.5) rotate(-90)"><tspan x="0" y="0" textLength="44" lengthAdjust="spacingAndGlyphs">Ratio early Tm/</tspan><tspan x="0" y="10.5" font-size="7.8" textLength="13.5" lengthAdjust="spacingAndGlyphs">Term</tspan></text>
<rect x="49.7" y="432.9781" width="17.6" height="6.434200000000033" fill="#3aa2d6"/>
<line x1="49.7" y1="436.438" x2="67.3" y2="436.438" stroke="#333" stroke-width="0.6"/>
<line x1="58.5" y1="423.69100000000003" x2="58.5" y2="451.00600000000003" stroke="#222" stroke-width="0.6"/>
<g fill="#111"><circle cx="54.7" cy="436.3" r="0.85"/><circle cx="59.0" cy="429.4" r="0.85"/><circle cx="62.9" cy="430.1" r="0.85"/><circle cx="60.3" cy="439.1" r="0.85"/><circle cx="56.7" cy="438.0" r="0.85"/><circle cx="54.7" cy="439.2" r="0.85"/><circle cx="58.0" cy="433.5" r="0.85"/><circle cx="58.3" cy="436.7" r="0.85"/><circle cx="58.2" cy="432.6" r="0.85"/><circle cx="59.6" cy="446.0" r="0.85"/><circle cx="56.3" cy="428.4" r="0.85"/><circle cx="62.2" cy="436.9" r="0.85"/><circle cx="56.5" cy="432.9" r="0.85"/><circle cx="54.7" cy="437.1" r="0.85"/><circle cx="57.1" cy="438.4" r="0.85"/><circle cx="62.7" cy="434.0" r="0.85"/><circle cx="55.2" cy="432.2" r="0.85"/><circle cx="56.4" cy="437.5" r="0.85"/><circle cx="62.6" cy="437.2" r="0.85"/><circle cx="57.0" cy="432.9" r="0.85"/><circle cx="61.8" cy="440.9" r="0.85"/><circle cx="54.1" cy="444.3" r="0.85"/><circle cx="62.2" cy="434.4" r="0.85"/><circle cx="56.0" cy="439.9" r="0.85"/><circle cx="55.4" cy="446.3" r="0.85"/><circle cx="60.8" cy="440.6" r="0.85"/><circle cx="63.2" cy="438.9" r="0.85"/><circle cx="62.9" cy="442.6" r="0.85"/><circle cx="60.9" cy="444.1" r="0.85"/><circle cx="62.5" cy="436.2" r="0.85"/><circle cx="63.2" cy="431.8" r="0.85"/><circle cx="59.0" cy="437.6" r="0.85"/><circle cx="55.1" cy="440.3" r="0.85"/><circle cx="61.9" cy="434.5" r="0.85"/><circle cx="57.5" cy="432.7" r="0.85"/><circle cx="56.7" cy="438.0" r="0.85"/><circle cx="58.5" cy="433.6" r="0.85"/><circle cx="54.0" cy="431.1" r="0.85"/><circle cx="53.9" cy="437.5" r="0.85"/><circle cx="56.2" cy="440.6" r="0.85"/><circle cx="59.4" cy="434.6" r="0.85"/><circle cx="60.9" cy="435.2" r="0.85"/><circle cx="62.9" cy="430.8" r="0.85"/><circle cx="61.6" cy="443.1" r="0.85"/><circle cx="62.7" cy="439.9" r="0.85"/><circle cx="59.8" cy="440.8" r="0.85"/><circle cx="60.7" cy="445.4" r="0.85"/><circle cx="59.3" cy="435.8" r="0.85"/><circle cx="54.5" cy="433.7" r="0.85"/><circle cx="54.3" cy="440.2" r="0.85"/><circle cx="61.0" cy="429.3" r="0.85"/><circle cx="55.6" cy="432.2" r="0.85"/><circle cx="61.3" cy="433.2" r="0.85"/><circle cx="58.2" cy="434.4" r="0.85"/><circle cx="53.8" cy="431.5" r="0.85"/><circle cx="59.1" cy="443.3" r="0.85"/><circle cx="58.0" cy="433.3" r="0.85"/><circle cx="54.4" cy="433.3" r="0.85"/><circle cx="56.2" cy="445.6" r="0.85"/><circle cx="56.6" cy="434.6" r="0.85"/><circle cx="57.0" cy="437.7" r="0.85"/><circle cx="60.5" cy="432.4" r="0.85"/><circle cx="55.3" cy="438.7" r="0.85"/><circle cx="58.0" cy="436.5" r="0.85"/><circle cx="59.5" cy="434.7" r="0.85"/><circle cx="62.8" cy="441.0" r="0.85"/><circle cx="54.8" cy="433.3" r="0.85"/><circle cx="54.5" cy="437.0" r="0.85"/><circle cx="55.5" cy="433.9" r="0.85"/><circle cx="55.8" cy="439.1" r="0.85"/><circle cx="55.3" cy="430.8" r="0.85"/><circle cx="54.4" cy="433.3" r="0.85"/><circle cx="55.7" cy="437.4" r="0.85"/><circle cx="55.8" cy="433.2" r="0.85"/><circle cx="58.3" cy="429.9" r="0.85"/><circle cx="59.9" cy="427.2" r="0.85"/><circle cx="57.2" cy="444.6" r="0.85"/><circle cx="55.3" cy="431.9" r="0.85"/><circle cx="54.6" cy="434.0" r="0.85"/><circle cx="56.2" cy="436.9" r="0.85"/><circle cx="55.3" cy="441.6" r="0.85"/><circle cx="58.3" cy="430.0" r="0.85"/><circle cx="62.1" cy="442.9" r="0.85"/><circle cx="60.6" cy="433.5" r="0.85"/><circle cx="55.7" cy="429.7" r="0.85"/><circle cx="54.0" cy="444.7" r="0.85"/><circle cx="54.3" cy="438.0" r="0.85"/><circle cx="57.9" cy="443.2" r="0.85"/><circle cx="57.2" cy="435.2" r="0.85"/><circle cx="60.3" cy="428.6" r="0.85"/><circle cx="54.5" cy="426.0" r="0.85"/><circle cx="56.1" cy="445.6" r="0.85"/><circle cx="60.3" cy="439.4" r="0.85"/><circle cx="59.2" cy="432.8" r="0.85"/><circle cx="58.7" cy="428.3" r="0.85"/><circle cx="62.4" cy="434.3" r="0.85"/><circle cx="54.8" cy="440.3" r="0.85"/><circle cx="55.6" cy="434.9" r="0.85"/><circle cx="59.1" cy="436.5" r="0.85"/><circle cx="59.1" cy="437.5" r="0.85"/><circle cx="63.1" cy="440.2" r="0.85"/><circle cx="63.1" cy="434.4" r="0.85"/><circle cx="59.3" cy="434.8" r="0.85"/><circle cx="61.0" cy="436.9" r="0.85"/><circle cx="60.4" cy="437.6" r="0.85"/><circle cx="55.0" cy="443.1" r="0.85"/><circle cx="59.5" cy="438.9" r="0.85"/><circle cx="56.6" cy="430.2" r="0.85"/><circle cx="57.1" cy="437.4" r="0.85"/><circle cx="55.2" cy="443.9" r="0.85"/><circle cx="53.8" cy="429.6" r="0.85"/><circle cx="61.9" cy="433.7" r="0.85"/><circle cx="60.6" cy="425.6" r="0.85"/><circle cx="60.9" cy="436.1" r="0.85"/><circle cx="56.5" cy="438.8" r="0.85"/><circle cx="57.7" cy="443.9" r="0.85"/><circle cx="55.4" cy="429.6" r="0.85"/><circle cx="59.5" cy="423.7" r="0.85"/><circle cx="61.8" cy="440.7" r="0.85"/><circle cx="61.2" cy="439.8" r="0.85"/><circle cx="62.7" cy="433.4" r="0.85"/><circle cx="56.2" cy="440.7" r="0.85"/><circle cx="60.4" cy="437.8" r="0.85"/><circle cx="54.9" cy="438.2" r="0.85"/><circle cx="58.8" cy="435.4" r="0.85"/><circle cx="54.8" cy="430.8" r="0.85"/><circle cx="58.9" cy="436.3" r="0.85"/><circle cx="58.9" cy="431.7" r="0.85"/><circle cx="57.0" cy="438.6" r="0.85"/><circle cx="57.1" cy="434.7" r="0.85"/><circle cx="60.5" cy="447.5" r="0.85"/><circle cx="58.3" cy="443.9" r="0.85"/><circle cx="57.6" cy="432.3" r="0.85"/><circle cx="54.8" cy="439.5" r="0.85"/><circle cx="56.4" cy="433.4" r="0.85"/><circle cx="61.8" cy="433.6" r="0.85"/><circle cx="63.0" cy="429.6" r="0.85"/><circle cx="57.3" cy="432.2" r="0.85"/><circle cx="62.1" cy="431.2" r="0.85"/><circle cx="62.1" cy="437.0" r="0.85"/><circle cx="55.8" cy="440.0" r="0.85"/><circle cx="56.3" cy="440.2" r="0.85"/><circle cx="60.4" cy="439.0" r="0.85"/><circle cx="56.6" cy="442.3" r="0.85"/><circle cx="62.9" cy="439.3" r="0.85"/><circle cx="57.2" cy="436.9" r="0.85"/><circle cx="60.7" cy="435.1" r="0.85"/><circle cx="60.5" cy="438.2" r="0.85"/><circle cx="55.8" cy="446.4" r="0.85"/><circle cx="62.0" cy="436.8" r="0.85"/><circle cx="56.9" cy="435.3" r="0.85"/><circle cx="54.8" cy="430.8" r="0.85"/><circle cx="54.2" cy="433.5" r="0.85"/><circle cx="58.0" cy="439.8" r="0.85"/><circle cx="59.8" cy="440.2" r="0.85"/><circle cx="56.3" cy="426.1" r="0.85"/><circle cx="61.8" cy="432.5" r="0.85"/><circle cx="56.3" cy="427.0" r="0.85"/><circle cx="61.8" cy="425.5" r="0.85"/><circle cx="54.0" cy="440.7" r="0.85"/><circle cx="56.2" cy="434.5" r="0.85"/><circle cx="55.2" cy="434.1" r="0.85"/><circle cx="58.0" cy="433.6" r="0.85"/><circle cx="57.1" cy="433.6" r="0.85"/><circle cx="57.5" cy="435.4" r="0.85"/><circle cx="61.9" cy="435.5" r="0.85"/><circle cx="59.3" cy="444.2" r="0.85"/><circle cx="59.5" cy="437.3" r="0.85"/><circle cx="57.4" cy="440.3" r="0.85"/><circle cx="61.5" cy="435.8" r="0.85"/><circle cx="58.5" cy="438.9" r="0.85"/><circle cx="60.9" cy="433.2" r="0.85"/><circle cx="62.5" cy="432.2" r="0.85"/><circle cx="59.6" cy="434.8" r="0.85"/><circle cx="57.9" cy="434.8" r="0.85"/><circle cx="56.2" cy="436.0" r="0.85"/><circle cx="62.5" cy="438.7" r="0.85"/><circle cx="61.0" cy="437.3" r="0.85"/><circle cx="61.4" cy="439.0" r="0.85"/><circle cx="55.8" cy="434.4" r="0.85"/><circle cx="57.9" cy="436.4" r="0.85"/><circle cx="62.2" cy="433.4" r="0.85"/><circle cx="56.1" cy="443.3" r="0.85"/><circle cx="61.5" cy="431.9" r="0.85"/><circle cx="58.9" cy="440.4" r="0.85"/><circle cx="55.8" cy="440.2" r="0.85"/><circle cx="57.3" cy="437.5" r="0.85"/><circle cx="54.4" cy="439.3" r="0.85"/><circle cx="60.2" cy="434.9" r="0.85"/><circle cx="60.7" cy="439.4" r="0.85"/><circle cx="54.0" cy="442.0" r="0.85"/><circle cx="56.6" cy="440.8" r="0.85"/><circle cx="61.1" cy="429.7" r="0.85"/><circle cx="55.6" cy="436.2" r="0.85"/><circle cx="58.9" cy="442.5" r="0.85"/><circle cx="61.4" cy="436.4" r="0.85"/><circle cx="59.2" cy="444.5" r="0.85"/><circle cx="54.9" cy="427.2" r="0.85"/><circle cx="62.4" cy="444.3" r="0.85"/><circle cx="60.9" cy="434.0" r="0.85"/><circle cx="59.1" cy="433.6" r="0.85"/><circle cx="56.9" cy="443.9" r="0.85"/><circle cx="59.3" cy="434.9" r="0.85"/><circle cx="57.5" cy="431.3" r="0.85"/><circle cx="54.8" cy="434.0" r="0.85"/><circle cx="54.9" cy="435.1" r="0.85"/><circle cx="54.1" cy="431.5" r="0.85"/><circle cx="55.3" cy="435.6" r="0.85"/><circle cx="56.1" cy="434.7" r="0.85"/><circle cx="59.8" cy="437.1" r="0.85"/><circle cx="59.3" cy="433.2" r="0.85"/><circle cx="59.4" cy="441.3" r="0.85"/><circle cx="61.6" cy="432.4" r="0.85"/><circle cx="54.6" cy="439.0" r="0.85"/><circle cx="57.4" cy="442.1" r="0.85"/><circle cx="54.5" cy="434.6" r="0.85"/><circle cx="57.7" cy="427.7" r="0.85"/><circle cx="54.5" cy="431.5" r="0.85"/><circle cx="54.3" cy="439.1" r="0.85"/><circle cx="54.7" cy="432.8" r="0.85"/><circle cx="57.4" cy="438.8" r="0.85"/><circle cx="61.0" cy="437.1" r="0.85"/><circle cx="56.4" cy="436.0" r="0.85"/><circle cx="60.8" cy="448.4" r="0.85"/><circle cx="55.9" cy="435.4" r="0.85"/><circle cx="56.5" cy="441.8" r="0.85"/><circle cx="58.2" cy="440.0" r="0.85"/><circle cx="54.4" cy="444.0" r="0.85"/><circle cx="58.0" cy="444.3" r="0.85"/><circle cx="59.3" cy="441.3" r="0.85"/><circle cx="61.6" cy="432.2" r="0.85"/><circle cx="54.2" cy="427.8" r="0.85"/><circle cx="61.4" cy="436.6" r="0.85"/><circle cx="59.2" cy="430.8" r="0.85"/><circle cx="59.3" cy="437.8" r="0.85"/><circle cx="54.2" cy="446.3" r="0.85"/><circle cx="62.1" cy="435.7" r="0.85"/><circle cx="56.4" cy="434.1" r="0.85"/><circle cx="58.9" cy="438.6" r="0.85"/><circle cx="58.9" cy="434.9" r="0.85"/><circle cx="62.4" cy="433.5" r="0.85"/><circle cx="59.5" cy="440.9" r="0.85"/><circle cx="63.2" cy="444.1" r="0.85"/><circle cx="55.9" cy="437.6" r="0.85"/><circle cx="60.1" cy="437.5" r="0.85"/><circle cx="59.2" cy="438.3" r="0.85"/><circle cx="58.6" cy="431.3" r="0.85"/><circle cx="59.7" cy="427.5" r="0.85"/><circle cx="59.0" cy="438.6" r="0.85"/><circle cx="56.9" cy="432.8" r="0.85"/><circle cx="59.9" cy="431.6" r="0.85"/><circle cx="54.5" cy="432.8" r="0.85"/><circle cx="58.3" cy="431.0" r="0.85"/><circle cx="58.0" cy="438.4" r="0.85"/><circle cx="55.7" cy="432.6" r="0.85"/><circle cx="59.2" cy="426.0" r="0.85"/><circle cx="60.1" cy="432.3" r="0.85"/><circle cx="54.9" cy="439.6" r="0.85"/><circle cx="56.6" cy="433.3" r="0.85"/><circle cx="54.3" cy="429.9" r="0.85"/><circle cx="59.4" cy="434.5" r="0.85"/><circle cx="54.5" cy="439.3" r="0.85"/><circle cx="55.9" cy="428.5" r="0.85"/><circle cx="58.0" cy="442.9" r="0.85"/><circle cx="58.0" cy="433.8" r="0.85"/><circle cx="54.0" cy="436.5" r="0.85"/><circle cx="62.8" cy="442.6" r="0.85"/><circle cx="55.9" cy="430.1" r="0.85"/><circle cx="59.6" cy="434.6" r="0.85"/><circle cx="55.8" cy="442.5" r="0.85"/><circle cx="59.4" cy="433.3" r="0.85"/><circle cx="57.1" cy="438.7" r="0.85"/><circle cx="56.8" cy="446.3" r="0.85"/><circle cx="58.3" cy="440.0" r="0.85"/><circle cx="59.3" cy="435.1" r="0.85"/><circle cx="59.4" cy="433.2" r="0.85"/><circle cx="60.3" cy="435.6" r="0.85"/><circle cx="56.3" cy="436.2" r="0.85"/><circle cx="54.6" cy="434.0" r="0.85"/><circle cx="56.1" cy="437.5" r="0.85"/><circle cx="56.8" cy="430.4" r="0.85"/><circle cx="59.5" cy="435.7" r="0.85"/><circle cx="57.7" cy="434.9" r="0.85"/><circle cx="56.7" cy="433.6" r="0.85"/><circle cx="54.6" cy="441.9" r="0.85"/><circle cx="59.4" cy="440.1" r="0.85"/><circle cx="54.8" cy="428.6" r="0.85"/><circle cx="58.7" cy="434.7" r="0.85"/><circle cx="60.3" cy="437.9" r="0.85"/><circle cx="59.7" cy="434.7" r="0.85"/><circle cx="55.2" cy="438.9" r="0.85"/><circle cx="57.1" cy="435.0" r="0.85"/><circle cx="62.7" cy="439.9" r="0.85"/><circle cx="54.6" cy="435.0" r="0.85"/><circle cx="60.2" cy="444.6" r="0.85"/><circle cx="57.9" cy="429.6" r="0.85"/><circle cx="59.6" cy="439.1" r="0.85"/><circle cx="57.5" cy="444.6" r="0.85"/><circle cx="54.9" cy="437.6" r="0.85"/><circle cx="59.1" cy="438.4" r="0.85"/><circle cx="53.8" cy="435.7" r="0.85"/><circle cx="62.0" cy="442.3" r="0.85"/><circle cx="61.4" cy="434.4" r="0.85"/><circle cx="57.3" cy="423.7" r="0.85"/><circle cx="58.9" cy="443.0" r="0.85"/><circle cx="58.8" cy="434.7" r="0.85"/><circle cx="63.1" cy="438.0" r="0.85"/><circle cx="54.1" cy="435.4" r="0.85"/><circle cx="56.6" cy="445.8" r="0.85"/><circle cx="57.6" cy="442.4" r="0.85"/><circle cx="61.3" cy="434.1" r="0.85"/><circle cx="60.7" cy="436.6" r="0.85"/><circle cx="57.8" cy="428.0" r="0.85"/><circle cx="53.8" cy="440.1" r="0.85"/><circle cx="59.9" cy="435.5" r="0.85"/><circle cx="57.6" cy="423.7" r="0.85"/><circle cx="54.8" cy="440.4" r="0.85"/><circle cx="59.8" cy="441.1" r="0.85"/><circle cx="58.0" cy="436.6" r="0.85"/><circle cx="56.6" cy="436.7" r="0.85"/><circle cx="56.3" cy="432.1" r="0.85"/><circle cx="58.7" cy="435.8" r="0.85"/><circle cx="56.1" cy="440.3" r="0.85"/><circle cx="57.5" cy="435.3" r="0.85"/><circle cx="62.7" cy="423.7" r="0.85"/><circle cx="58.3" cy="429.9" r="0.85"/><circle cx="56.1" cy="450.8" r="0.85"/><circle cx="58.7" cy="437.2" r="0.85"/><circle cx="62.5" cy="441.0" r="0.85"/><circle cx="62.0" cy="433.2" r="0.85"/><circle cx="60.2" cy="437.3" r="0.85"/><circle cx="62.3" cy="426.5" r="0.85"/><circle cx="61.0" cy="431.6" r="0.85"/><circle cx="60.2" cy="431.8" r="0.85"/><circle cx="57.8" cy="435.5" r="0.85"/><circle cx="55.1" cy="436.6" r="0.85"/><circle cx="60.7" cy="434.7" r="0.85"/><circle cx="59.8" cy="429.8" r="0.85"/><circle cx="63.0" cy="433.7" r="0.85"/><circle cx="56.8" cy="438.2" r="0.85"/><circle cx="62.1" cy="429.9" r="0.85"/><circle cx="55.8" cy="435.4" r="0.85"/><circle cx="62.8" cy="436.8" r="0.85"/><circle cx="63.3" cy="440.5" r="0.85"/><circle cx="54.2" cy="439.4" r="0.85"/><circle cx="56.8" cy="439.7" r="0.85"/><circle cx="63.3" cy="450.8" r="0.85"/><circle cx="63.0" cy="431.2" r="0.85"/><circle cx="60.1" cy="433.5" r="0.85"/><circle cx="55.0" cy="437.5" r="0.85"/><circle cx="53.8" cy="431.0" r="0.85"/><circle cx="56.1" cy="434.2" r="0.85"/><circle cx="62.8" cy="434.5" r="0.85"/><circle cx="61.4" cy="449.2" r="0.85"/><circle cx="57.8" cy="437.6" r="0.85"/><circle cx="61.0" cy="433.7" r="0.85"/><circle cx="62.4" cy="428.1" r="0.85"/><circle cx="56.6" cy="426.9" r="0.85"/><circle cx="62.1" cy="429.1" r="0.85"/><circle cx="56.3" cy="442.4" r="0.85"/><circle cx="56.9" cy="447.8" r="0.85"/><circle cx="54.1" cy="433.5" r="0.85"/><circle cx="55.2" cy="436.3" r="0.85"/><circle cx="59.0" cy="431.5" r="0.85"/><circle cx="53.9" cy="437.1" r="0.85"/><circle cx="58.9" cy="435.3" r="0.85"/><circle cx="55.3" cy="444.2" r="0.85"/><circle cx="60.9" cy="434.1" r="0.85"/><circle cx="54.9" cy="438.7" r="0.85"/><circle cx="55.7" cy="434.6" r="0.85"/><circle cx="56.3" cy="434.1" r="0.85"/><circle cx="59.3" cy="437.0" r="0.85"/><circle cx="61.5" cy="434.8" r="0.85"/><circle cx="60.9" cy="436.5" r="0.85"/><circle cx="60.8" cy="432.5" r="0.85"/><circle cx="60.2" cy="433.8" r="0.85"/><circle cx="58.9" cy="439.3" r="0.85"/><circle cx="57.0" cy="439.5" r="0.85"/><circle cx="55.4" cy="427.4" r="0.85"/><circle cx="62.0" cy="437.0" r="0.85"/><circle cx="57.6" cy="431.3" r="0.85"/><circle cx="59.9" cy="434.4" r="0.85"/><circle cx="54.4" cy="439.3" r="0.85"/><circle cx="57.2" cy="440.3" r="0.85"/><circle cx="54.7" cy="435.8" r="0.85"/><circle cx="57.1" cy="435.1" r="0.85"/><circle cx="60.7" cy="433.3" r="0.85"/><circle cx="57.0" cy="443.0" r="0.85"/><circle cx="60.2" cy="439.5" r="0.85"/><circle cx="54.9" cy="436.9" r="0.85"/><circle cx="57.4" cy="428.2" r="0.85"/><circle cx="57.6" cy="448.6" r="0.85"/><circle cx="58.6" cy="434.2" r="0.85"/><circle cx="55.9" cy="439.2" r="0.85"/><circle cx="60.4" cy="434.2" r="0.85"/><circle cx="62.2" cy="439.0" r="0.85"/><circle cx="61.5" cy="434.6" r="0.85"/><circle cx="54.0" cy="428.4" r="0.85"/><circle cx="58.4" cy="434.6" r="0.85"/><circle cx="57.0" cy="434.2" r="0.85"/><circle cx="59.2" cy="434.5" r="0.85"/><circle cx="54.5" cy="440.3" r="0.85"/><circle cx="60.7" cy="433.6" r="0.85"/><circle cx="57.7" cy="437.5" r="0.85"/><circle cx="62.8" cy="440.6" r="0.85"/><circle cx="53.9" cy="436.6" r="0.85"/><circle cx="57.7" cy="437.6" r="0.85"/><circle cx="58.4" cy="432.6" r="0.85"/><circle cx="61.7" cy="436.7" r="0.85"/><circle cx="61.0" cy="439.2" r="0.85"/><circle cx="55.4" cy="428.9" r="0.85"/><circle cx="56.7" cy="431.3" r="0.85"/><circle cx="60.8" cy="429.9" r="0.85"/><circle cx="57.7" cy="433.3" r="0.85"/><circle cx="56.2" cy="437.0" r="0.85"/><circle cx="62.6" cy="438.6" r="0.85"/><circle cx="61.8" cy="437.9" r="0.85"/><circle cx="57.1" cy="431.5" r="0.85"/><circle cx="59.0" cy="435.9" r="0.85"/><circle cx="62.6" cy="444.1" r="0.85"/><circle cx="55.8" cy="436.6" r="0.85"/><circle cx="62.4" cy="443.7" r="0.85"/><circle cx="62.2" cy="435.6" r="0.85"/><circle cx="60.7" cy="442.6" r="0.85"/><circle cx="60.3" cy="443.0" r="0.85"/><circle cx="60.3" cy="435.8" r="0.85"/><circle cx="58.9" cy="436.8" r="0.85"/><circle cx="59.3" cy="445.0" r="0.85"/><circle cx="55.6" cy="432.6" r="0.85"/><circle cx="59.1" cy="425.3" r="0.85"/><circle cx="60.2" cy="444.1" r="0.85"/><circle cx="58.4" cy="427.0" r="0.85"/><circle cx="60.2" cy="440.0" r="0.85"/><circle cx="58.1" cy="439.0" r="0.85"/><circle cx="61.4" cy="437.4" r="0.85"/><circle cx="60.6" cy="443.9" r="0.85"/><circle cx="54.6" cy="429.7" r="0.85"/><circle cx="61.1" cy="433.9" r="0.85"/><circle cx="56.4" cy="440.3" r="0.85"/><circle cx="54.5" cy="437.9" r="0.85"/><circle cx="54.9" cy="444.3" r="0.85"/><circle cx="56.8" cy="438.2" r="0.85"/><circle cx="58.7" cy="431.6" r="0.85"/><circle cx="56.9" cy="445.3" r="0.85"/><circle cx="55.7" cy="438.7" r="0.85"/><circle cx="61.1" cy="435.7" r="0.85"/><circle cx="57.3" cy="431.0" r="0.85"/><circle cx="62.1" cy="429.5" r="0.85"/><circle cx="56.0" cy="438.8" r="0.85"/><circle cx="60.3" cy="440.3" r="0.85"/><circle cx="57.1" cy="434.1" r="0.85"/><circle cx="61.9" cy="438.3" r="0.85"/><circle cx="59.9" cy="438.0" r="0.85"/><circle cx="60.2" cy="430.9" r="0.85"/><circle cx="54.6" cy="427.7" r="0.85"/><circle cx="60.9" cy="435.1" r="0.85"/><circle cx="57.1" cy="437.4" r="0.85"/><circle cx="60.8" cy="433.5" r="0.85"/><circle cx="61.8" cy="446.2" r="0.85"/><circle cx="54.9" cy="436.5" r="0.85"/><circle cx="53.8" cy="441.9" r="0.85"/><circle cx="61.0" cy="424.1" r="0.85"/><circle cx="63.0" cy="432.7" r="0.85"/><circle cx="62.3" cy="435.7" r="0.85"/><circle cx="57.9" cy="437.4" r="0.85"/><circle cx="61.7" cy="449.4" r="0.85"/><circle cx="53.9" cy="432.8" r="0.85"/><circle cx="54.3" cy="428.0" r="0.85"/><circle cx="59.3" cy="440.2" r="0.85"/><circle cx="58.8" cy="432.9" r="0.85"/><circle cx="61.6" cy="432.7" r="0.85"/><circle cx="55.9" cy="444.4" r="0.85"/><circle cx="58.1" cy="431.6" r="0.85"/><circle cx="63.2" cy="429.4" r="0.85"/><circle cx="56.6" cy="435.3" r="0.85"/><circle cx="57.6" cy="436.8" r="0.85"/><circle cx="59.5" cy="432.4" r="0.85"/><circle cx="63.3" cy="444.4" r="0.85"/><circle cx="55.5" cy="436.0" r="0.85"/><circle cx="60.3" cy="431.0" r="0.85"/><circle cx="57.7" cy="442.8" r="0.85"/><circle cx="57.5" cy="431.3" r="0.85"/><circle cx="56.2" cy="438.6" r="0.85"/><circle cx="58.2" cy="447.2" r="0.85"/><circle cx="59.2" cy="437.0" r="0.85"/><circle cx="57.5" cy="441.5" r="0.85"/><circle cx="58.6" cy="434.8" r="0.85"/><circle cx="59.8" cy="442.5" r="0.85"/><circle cx="61.9" cy="431.0" r="0.85"/><circle cx="59.1" cy="440.2" r="0.85"/><circle cx="57.4" cy="434.6" r="0.85"/><circle cx="62.9" cy="439.5" r="0.85"/><circle cx="55.4" cy="438.1" r="0.85"/><circle cx="54.1" cy="430.3" r="0.85"/><circle cx="62.4" cy="435.3" r="0.85"/><circle cx="56.3" cy="438.5" r="0.85"/><circle cx="55.2" cy="442.9" r="0.85"/><circle cx="57.4" cy="430.5" r="0.85"/><circle cx="57.0" cy="432.7" r="0.85"/><circle cx="57.1" cy="438.1" r="0.85"/><circle cx="61.9" cy="435.2" r="0.85"/><circle cx="56.5" cy="441.8" r="0.85"/><circle cx="55.0" cy="441.7" r="0.85"/><circle cx="55.8" cy="440.7" r="0.85"/><circle cx="62.8" cy="434.6" r="0.85"/><circle cx="57.8" cy="434.9" r="0.85"/><circle cx="57.2" cy="440.3" r="0.85"/><circle cx="61.2" cy="432.6" r="0.85"/><circle cx="62.7" cy="432.4" r="0.85"/><circle cx="58.6" cy="435.5" r="0.85"/><circle cx="61.5" cy="431.1" r="0.85"/><circle cx="56.2" cy="437.9" r="0.85"/><circle cx="57.1" cy="437.0" r="0.85"/><circle cx="59.2" cy="434.0" r="0.85"/><circle cx="56.0" cy="436.6" r="0.85"/><circle cx="56.3" cy="432.3" r="0.85"/><circle cx="55.5" cy="442.9" r="0.85"/><circle cx="56.2" cy="429.1" r="0.85"/><circle cx="61.8" cy="440.5" r="0.85"/><circle cx="61.3" cy="437.3" r="0.85"/></g>
<line x1="58.5" y1="454.72" x2="58.5" y2="457.22" stroke="#111" stroke-width="0.9"/>
<text x="58.5" y="466.22" font-size="7" text-anchor="middle" fill="#333" color="#333" textLength="9.7" lengthAdjust="spacingAndGlyphs" >WT</text>
<rect x="73.7" y="427.6365" width="17.6" height="8.558699999999988" fill="#d42a7c"/>
<line x1="73.7" y1="431.582" x2="91.3" y2="431.582" stroke="#333" stroke-width="0.6"/>
<line x1="82.5" y1="412.765" x2="82.5" y2="445.543" stroke="#222" stroke-width="0.6"/>
<g fill="#111"><circle cx="81.4" cy="438.2" r="0.9"/><circle cx="85.5" cy="422.5" r="0.9"/><circle cx="84.0" cy="421.5" r="0.9"/><circle cx="84.3" cy="421.7" r="0.9"/><circle cx="84.0" cy="433.6" r="0.9"/><circle cx="78.9" cy="438.0" r="0.9"/><circle cx="78.1" cy="438.1" r="0.9"/><circle cx="81.5" cy="432.3" r="0.9"/><circle cx="86.0" cy="427.4" r="0.9"/><circle cx="84.0" cy="427.9" r="0.9"/><circle cx="85.4" cy="439.7" r="0.9"/><circle cx="83.7" cy="429.8" r="0.9"/><circle cx="85.3" cy="430.9" r="0.9"/><circle cx="87.5" cy="430.4" r="0.9"/><circle cx="84.6" cy="431.1" r="0.9"/><circle cx="86.1" cy="432.2" r="0.9"/><circle cx="87.2" cy="427.4" r="0.9"/><circle cx="84.9" cy="430.2" r="0.9"/><circle cx="85.6" cy="429.6" r="0.9"/><circle cx="78.3" cy="435.2" r="0.9"/><circle cx="77.9" cy="428.6" r="0.9"/><circle cx="86.7" cy="431.7" r="0.9"/><circle cx="79.9" cy="443.8" r="0.9"/><circle cx="80.6" cy="428.0" r="0.9"/><circle cx="78.9" cy="432.6" r="0.9"/><circle cx="83.8" cy="425.4" r="0.9"/><circle cx="77.8" cy="432.0" r="0.9"/><circle cx="85.5" cy="431.6" r="0.9"/><circle cx="80.5" cy="429.7" r="0.9"/><circle cx="84.9" cy="431.0" r="0.9"/><circle cx="86.6" cy="433.7" r="0.9"/><circle cx="84.4" cy="441.9" r="0.9"/><circle cx="81.7" cy="419.8" r="0.9"/><circle cx="83.7" cy="440.6" r="0.9"/><circle cx="86.1" cy="433.0" r="0.9"/><circle cx="84.6" cy="427.0" r="0.9"/><circle cx="80.0" cy="428.7" r="0.9"/><circle cx="77.6" cy="427.5" r="0.9"/><circle cx="86.3" cy="426.3" r="0.9"/><circle cx="83.7" cy="423.3" r="0.9"/><circle cx="78.1" cy="429.2" r="0.9"/><circle cx="83.0" cy="413.3" r="0.9"/><circle cx="83.4" cy="437.1" r="0.9"/><circle cx="80.4" cy="429.6" r="0.9"/><circle cx="86.4" cy="433.2" r="0.9"/><circle cx="79.9" cy="434.3" r="0.9"/><circle cx="78.9" cy="429.2" r="0.9"/><circle cx="80.6" cy="422.1" r="0.9"/><circle cx="80.9" cy="435.3" r="0.9"/><circle cx="86.3" cy="435.3" r="0.9"/><circle cx="84.1" cy="426.6" r="0.9"/><circle cx="78.7" cy="427.7" r="0.9"/><circle cx="81.4" cy="419.1" r="0.9"/><circle cx="78.5" cy="424.7" r="0.9"/><circle cx="84.6" cy="429.6" r="0.9"/><circle cx="86.0" cy="433.0" r="0.9"/><circle cx="78.4" cy="429.7" r="0.9"/><circle cx="82.5" cy="432.0" r="0.9"/><circle cx="79.9" cy="439.3" r="0.9"/><circle cx="80.4" cy="430.9" r="0.9"/><circle cx="85.0" cy="432.0" r="0.9"/><circle cx="87.3" cy="432.4" r="0.9"/><circle cx="80.3" cy="433.6" r="0.9"/><circle cx="82.9" cy="420.7" r="0.9"/><circle cx="80.6" cy="426.7" r="0.9"/><circle cx="78.1" cy="425.3" r="0.9"/><circle cx="83.5" cy="434.7" r="0.9"/><circle cx="79.1" cy="437.2" r="0.9"/><circle cx="84.4" cy="432.7" r="0.9"/><circle cx="85.0" cy="429.5" r="0.9"/><circle cx="78.9" cy="433.1" r="0.9"/><circle cx="83.5" cy="432.1" r="0.9"/><circle cx="79.6" cy="425.1" r="0.9"/><circle cx="85.1" cy="429.2" r="0.9"/><circle cx="80.4" cy="436.9" r="0.9"/><circle cx="84.4" cy="433.6" r="0.9"/><circle cx="84.0" cy="435.0" r="0.9"/><circle cx="83.3" cy="429.9" r="0.9"/><circle cx="79.7" cy="438.1" r="0.9"/><circle cx="85.8" cy="432.1" r="0.9"/><circle cx="81.0" cy="426.8" r="0.9"/><circle cx="85.2" cy="430.8" r="0.9"/><circle cx="82.2" cy="436.5" r="0.9"/><circle cx="82.0" cy="434.7" r="0.9"/><circle cx="84.6" cy="430.2" r="0.9"/><circle cx="80.9" cy="428.0" r="0.9"/><circle cx="85.1" cy="425.9" r="0.9"/><circle cx="81.9" cy="431.9" r="0.9"/><circle cx="84.9" cy="439.0" r="0.9"/><circle cx="84.5" cy="422.3" r="0.9"/></g>
<line x1="82.5" y1="454.72" x2="82.5" y2="457.22" stroke="#111" stroke-width="0.9"/>
<text x="82.5" y="466.22" font-size="7" text-anchor="middle" fill="#333" color="#333" textLength="24.6" lengthAdjust="spacingAndGlyphs" >Mutated</text>
<text x="37.2" y="479.4" font-size="7" text-anchor="end" fill="#333" color="#333" textLength="18.2" lengthAdjust="spacingAndGlyphs" >NPM1</text>
<rect x="43.6" y="474.7" width="5.4" height="4.6" fill="#3aa2d6"/><path d="M43.6,477.0 h5.4 M46.3,474.0 v6" stroke="#1a4a70" stroke-width="0.7"/>
<text x="53.7" y="479.4" font-size="7" fill="#333" color="#333" textLength="9.3" lengthAdjust="spacingAndGlyphs" >WT</text>
<rect x="70.5" y="474.7" width="6" height="4.6" fill="#d42a7c"/><path d="M70.5,477.0 h6 M73.5,474.0 v6" stroke="#6a1040" stroke-width="0.7"/>
<text x="79.5" y="479.4" font-size="7" fill="#333" color="#333" textLength="24.6" lengthAdjust="spacingAndGlyphs" >Mutated</text>
<text x="176.0" y="408.1" font-size="6.5" text-anchor="middle" fill="#222">Wilcoxon, <tspan font-style="italic">P</tspan> = 3.6e-05</text>
<line x1="149.5" y1="412.3" x2="149.5" y2="455.22" stroke="#111" stroke-width="1"/>
<line x1="149.0" y1="455.22" x2="201.0" y2="455.22" stroke="#111" stroke-width="1"/>
<line x1="147.0" y1="416.3" x2="149.5" y2="416.3" stroke="#111" stroke-width="0.9"/>
<text x="144.0" y="418.7" font-size="6.8" text-anchor="end" fill="#333" color="#333" textLength="9" lengthAdjust="spacingAndGlyphs" >1.2</text>
<line x1="147.0" y1="428.44" x2="149.5" y2="428.44" stroke="#111" stroke-width="0.9"/>
<text x="144.0" y="430.84" font-size="6.8" text-anchor="end" fill="#333" color="#333" textLength="9" lengthAdjust="spacingAndGlyphs" >1.0</text>
<line x1="147.0" y1="440.58" x2="149.5" y2="440.58" stroke="#111" stroke-width="0.9"/>
<text x="144.0" y="442.97999999999996" font-size="6.8" text-anchor="end" fill="#333" color="#333" textLength="9" lengthAdjust="spacingAndGlyphs" >0.8</text>
<line x1="147.0" y1="452.72" x2="149.5" y2="452.72" stroke="#111" stroke-width="0.9"/>
<text x="144.0" y="455.12" font-size="6.8" text-anchor="end" fill="#333" color="#333" textLength="9" lengthAdjust="spacingAndGlyphs" >0.6</text>
<text font-size="7.3" fill="#333" text-anchor="middle" transform="translate(117.5,434.0) rotate(-90)"><tspan x="0" y="0" textLength="44" lengthAdjust="spacingAndGlyphs">Ratio early Tm/</tspan><tspan x="0" y="10.5" font-size="7.8" textLength="13.5" lengthAdjust="spacingAndGlyphs">Term</tspan></text>
<rect x="154.7" y="431.475" width="17.6" height="7.890999999999963" fill="#3aa2d6"/>
<line x1="154.7" y1="435.4205" x2="172.3" y2="435.4205" stroke="#333" stroke-width="0.6"/>
<line x1="163.5" y1="416.3" x2="163.5" y2="451.50600000000003" stroke="#222" stroke-width="0.6"/>
<g fill="#111"><circle cx="168.1" cy="435.2" r="0.85"/><circle cx="167.9" cy="429.1" r="0.85"/><circle cx="158.8" cy="430.8" r="0.85"/><circle cx="159.1" cy="430.9" r="0.85"/><circle cx="168.3" cy="425.8" r="0.85"/><circle cx="162.3" cy="442.1" r="0.85"/><circle cx="165.8" cy="438.7" r="0.85"/><circle cx="162.3" cy="442.7" r="0.85"/><circle cx="166.3" cy="435.7" r="0.85"/><circle cx="165.9" cy="429.4" r="0.85"/><circle cx="161.5" cy="435.2" r="0.85"/><circle cx="165.7" cy="432.3" r="0.85"/><circle cx="158.9" cy="446.1" r="0.85"/><circle cx="159.1" cy="434.3" r="0.85"/><circle cx="163.6" cy="440.3" r="0.85"/><circle cx="167.5" cy="424.9" r="0.85"/><circle cx="168.3" cy="430.0" r="0.85"/><circle cx="159.2" cy="429.6" r="0.85"/><circle cx="161.8" cy="435.5" r="0.85"/><circle cx="160.0" cy="431.6" r="0.85"/><circle cx="167.2" cy="431.3" r="0.85"/><circle cx="162.5" cy="437.1" r="0.85"/><circle cx="161.7" cy="438.0" r="0.85"/><circle cx="162.9" cy="435.8" r="0.85"/><circle cx="162.4" cy="438.6" r="0.85"/><circle cx="163.7" cy="438.5" r="0.85"/><circle cx="159.5" cy="436.8" r="0.85"/><circle cx="159.6" cy="439.3" r="0.85"/><circle cx="161.3" cy="430.7" r="0.85"/><circle cx="159.9" cy="444.3" r="0.85"/><circle cx="168.0" cy="430.4" r="0.85"/><circle cx="160.2" cy="438.7" r="0.85"/><circle cx="167.3" cy="438.3" r="0.85"/><circle cx="161.6" cy="442.9" r="0.85"/><circle cx="168.2" cy="435.9" r="0.85"/><circle cx="160.1" cy="436.5" r="0.85"/><circle cx="164.2" cy="434.0" r="0.85"/><circle cx="165.5" cy="438.2" r="0.85"/><circle cx="159.0" cy="434.6" r="0.85"/><circle cx="164.0" cy="424.6" r="0.85"/><circle cx="163.5" cy="432.8" r="0.85"/><circle cx="166.4" cy="438.4" r="0.85"/><circle cx="162.2" cy="429.6" r="0.85"/><circle cx="163.4" cy="435.9" r="0.85"/><circle cx="158.9" cy="431.7" r="0.85"/><circle cx="165.3" cy="431.6" r="0.85"/><circle cx="168.0" cy="437.4" r="0.85"/><circle cx="166.2" cy="446.2" r="0.85"/><circle cx="166.4" cy="437.1" r="0.85"/><circle cx="165.9" cy="431.9" r="0.85"/><circle cx="160.9" cy="437.3" r="0.85"/><circle cx="167.7" cy="432.6" r="0.85"/><circle cx="159.5" cy="429.5" r="0.85"/><circle cx="163.3" cy="438.3" r="0.85"/><circle cx="166.6" cy="428.0" r="0.85"/><circle cx="165.7" cy="425.8" r="0.85"/><circle cx="161.0" cy="428.9" r="0.85"/><circle cx="161.5" cy="428.4" r="0.85"/><circle cx="163.9" cy="428.8" r="0.85"/><circle cx="162.4" cy="422.1" r="0.85"/><circle cx="160.1" cy="434.0" r="0.85"/><circle cx="161.3" cy="435.1" r="0.85"/><circle cx="165.8" cy="431.6" r="0.85"/><circle cx="163.1" cy="440.4" r="0.85"/><circle cx="163.6" cy="444.1" r="0.85"/><circle cx="159.8" cy="440.2" r="0.85"/><circle cx="158.9" cy="433.0" r="0.85"/><circle cx="167.4" cy="432.4" r="0.85"/><circle cx="166.8" cy="444.0" r="0.85"/><circle cx="163.4" cy="446.0" r="0.85"/><circle cx="165.0" cy="436.9" r="0.85"/><circle cx="165.2" cy="436.2" r="0.85"/><circle cx="163.0" cy="435.4" r="0.85"/><circle cx="159.7" cy="431.2" r="0.85"/><circle cx="158.9" cy="428.0" r="0.85"/><circle cx="165.9" cy="433.8" r="0.85"/><circle cx="166.6" cy="431.6" r="0.85"/><circle cx="159.3" cy="441.4" r="0.85"/><circle cx="166.5" cy="441.9" r="0.85"/><circle cx="158.9" cy="433.8" r="0.85"/><circle cx="167.2" cy="431.3" r="0.85"/><circle cx="163.5" cy="430.9" r="0.85"/><circle cx="163.5" cy="431.7" r="0.85"/><circle cx="168.3" cy="430.6" r="0.85"/><circle cx="165.8" cy="430.4" r="0.85"/><circle cx="163.8" cy="445.2" r="0.85"/><circle cx="166.9" cy="439.4" r="0.85"/><circle cx="163.0" cy="432.5" r="0.85"/><circle cx="161.4" cy="431.7" r="0.85"/><circle cx="166.4" cy="443.8" r="0.85"/><circle cx="166.6" cy="428.4" r="0.85"/><circle cx="164.6" cy="437.6" r="0.85"/><circle cx="161.3" cy="436.5" r="0.85"/><circle cx="168.1" cy="433.5" r="0.85"/><circle cx="166.5" cy="430.8" r="0.85"/><circle cx="160.3" cy="443.4" r="0.85"/><circle cx="165.0" cy="429.4" r="0.85"/><circle cx="164.3" cy="434.7" r="0.85"/><circle cx="159.1" cy="439.6" r="0.85"/><circle cx="165.2" cy="436.7" r="0.85"/><circle cx="159.5" cy="447.7" r="0.85"/><circle cx="165.2" cy="438.9" r="0.85"/><circle cx="164.8" cy="434.1" r="0.85"/><circle cx="167.2" cy="439.2" r="0.85"/><circle cx="161.5" cy="437.0" r="0.85"/><circle cx="164.2" cy="436.0" r="0.85"/><circle cx="165.7" cy="434.8" r="0.85"/><circle cx="159.2" cy="429.2" r="0.85"/><circle cx="160.6" cy="435.3" r="0.85"/><circle cx="164.5" cy="436.6" r="0.85"/><circle cx="167.0" cy="432.0" r="0.85"/><circle cx="162.8" cy="423.1" r="0.85"/><circle cx="167.9" cy="437.1" r="0.85"/><circle cx="168.3" cy="432.2" r="0.85"/><circle cx="162.5" cy="444.2" r="0.85"/><circle cx="162.2" cy="427.4" r="0.85"/><circle cx="165.0" cy="431.3" r="0.85"/><circle cx="164.9" cy="427.4" r="0.85"/><circle cx="167.5" cy="435.5" r="0.85"/><circle cx="160.6" cy="441.1" r="0.85"/><circle cx="167.5" cy="430.0" r="0.85"/><circle cx="163.2" cy="430.8" r="0.85"/><circle cx="161.6" cy="440.1" r="0.85"/><circle cx="162.4" cy="443.6" r="0.85"/><circle cx="160.8" cy="432.5" r="0.85"/><circle cx="161.5" cy="436.1" r="0.85"/><circle cx="166.1" cy="420.1" r="0.85"/><circle cx="162.2" cy="438.7" r="0.85"/><circle cx="167.2" cy="438.2" r="0.85"/><circle cx="165.1" cy="435.8" r="0.85"/><circle cx="162.6" cy="444.7" r="0.85"/><circle cx="162.5" cy="440.2" r="0.85"/><circle cx="164.3" cy="425.6" r="0.85"/><circle cx="164.5" cy="435.9" r="0.85"/><circle cx="161.6" cy="438.6" r="0.85"/><circle cx="158.9" cy="442.5" r="0.85"/><circle cx="164.1" cy="431.8" r="0.85"/><circle cx="161.8" cy="431.3" r="0.85"/><circle cx="166.2" cy="433.6" r="0.85"/><circle cx="167.2" cy="437.4" r="0.85"/><circle cx="162.0" cy="433.4" r="0.85"/><circle cx="162.1" cy="432.9" r="0.85"/><circle cx="168.2" cy="439.0" r="0.85"/><circle cx="166.3" cy="431.5" r="0.85"/><circle cx="166.2" cy="447.3" r="0.85"/><circle cx="161.0" cy="442.6" r="0.85"/><circle cx="167.6" cy="436.9" r="0.85"/><circle cx="164.4" cy="435.7" r="0.85"/><circle cx="163.2" cy="441.8" r="0.85"/><circle cx="161.0" cy="433.2" r="0.85"/><circle cx="165.4" cy="429.0" r="0.85"/><circle cx="166.3" cy="432.5" r="0.85"/><circle cx="162.7" cy="433.8" r="0.85"/><circle cx="166.0" cy="430.3" r="0.85"/><circle cx="165.4" cy="432.8" r="0.85"/><circle cx="161.4" cy="441.7" r="0.85"/><circle cx="165.3" cy="436.3" r="0.85"/><circle cx="159.8" cy="427.7" r="0.85"/><circle cx="163.5" cy="441.7" r="0.85"/><circle cx="163.6" cy="434.8" r="0.85"/><circle cx="165.9" cy="437.4" r="0.85"/><circle cx="166.0" cy="440.3" r="0.85"/><circle cx="164.2" cy="440.9" r="0.85"/><circle cx="158.9" cy="434.5" r="0.85"/><circle cx="159.9" cy="433.3" r="0.85"/><circle cx="164.6" cy="433.3" r="0.85"/><circle cx="167.0" cy="443.5" r="0.85"/><circle cx="159.3" cy="436.8" r="0.85"/><circle cx="166.4" cy="433.1" r="0.85"/><circle cx="163.5" cy="429.7" r="0.85"/><circle cx="165.2" cy="431.2" r="0.85"/><circle cx="158.9" cy="430.3" r="0.85"/><circle cx="162.6" cy="428.8" r="0.85"/><circle cx="167.6" cy="430.4" r="0.85"/><circle cx="160.1" cy="439.8" r="0.85"/><circle cx="160.7" cy="434.8" r="0.85"/><circle cx="162.5" cy="439.2" r="0.85"/><circle cx="163.3" cy="448.8" r="0.85"/><circle cx="159.1" cy="444.8" r="0.85"/><circle cx="159.4" cy="423.1" r="0.85"/><circle cx="164.4" cy="441.6" r="0.85"/><circle cx="158.7" cy="448.0" r="0.85"/><circle cx="161.0" cy="438.5" r="0.85"/><circle cx="161.3" cy="426.4" r="0.85"/><circle cx="161.1" cy="435.4" r="0.85"/><circle cx="167.6" cy="432.8" r="0.85"/><circle cx="160.7" cy="436.7" r="0.85"/><circle cx="164.9" cy="435.6" r="0.85"/><circle cx="160.5" cy="427.8" r="0.85"/><circle cx="167.6" cy="430.5" r="0.85"/><circle cx="165.8" cy="435.6" r="0.85"/><circle cx="160.7" cy="430.0" r="0.85"/><circle cx="164.2" cy="428.9" r="0.85"/><circle cx="164.0" cy="436.4" r="0.85"/><circle cx="158.8" cy="433.6" r="0.85"/><circle cx="167.0" cy="433.7" r="0.85"/><circle cx="161.1" cy="439.0" r="0.85"/><circle cx="165.4" cy="428.5" r="0.85"/><circle cx="159.6" cy="436.1" r="0.85"/><circle cx="163.2" cy="438.7" r="0.85"/><circle cx="162.3" cy="444.8" r="0.85"/><circle cx="165.6" cy="442.4" r="0.85"/><circle cx="161.3" cy="426.3" r="0.85"/><circle cx="159.7" cy="441.7" r="0.85"/><circle cx="161.2" cy="432.6" r="0.85"/><circle cx="159.2" cy="437.2" r="0.85"/><circle cx="168.2" cy="432.2" r="0.85"/><circle cx="162.0" cy="431.6" r="0.85"/><circle cx="167.3" cy="439.6" r="0.85"/><circle cx="163.5" cy="436.8" r="0.85"/><circle cx="167.7" cy="434.5" r="0.85"/><circle cx="163.4" cy="434.5" r="0.85"/><circle cx="160.4" cy="435.3" r="0.85"/><circle cx="161.0" cy="436.9" r="0.85"/><circle cx="162.7" cy="431.5" r="0.85"/><circle cx="159.8" cy="427.5" r="0.85"/><circle cx="165.0" cy="432.0" r="0.85"/><circle cx="159.3" cy="439.4" r="0.85"/><circle cx="163.2" cy="432.8" r="0.85"/><circle cx="163.9" cy="434.8" r="0.85"/><circle cx="167.9" cy="432.5" r="0.85"/><circle cx="162.8" cy="424.5" r="0.85"/><circle cx="167.2" cy="436.4" r="0.85"/><circle cx="163.5" cy="435.2" r="0.85"/><circle cx="164.6" cy="440.2" r="0.85"/><circle cx="166.8" cy="436.8" r="0.85"/><circle cx="163.9" cy="438.4" r="0.85"/><circle cx="167.9" cy="425.9" r="0.85"/><circle cx="167.2" cy="433.4" r="0.85"/><circle cx="162.5" cy="438.4" r="0.85"/><circle cx="165.8" cy="424.0" r="0.85"/><circle cx="160.2" cy="442.8" r="0.85"/><circle cx="161.0" cy="430.2" r="0.85"/><circle cx="167.1" cy="429.3" r="0.85"/><circle cx="161.5" cy="431.8" r="0.85"/><circle cx="167.6" cy="436.6" r="0.85"/><circle cx="160.3" cy="435.9" r="0.85"/><circle cx="163.3" cy="437.1" r="0.85"/><circle cx="160.5" cy="430.6" r="0.85"/><circle cx="165.7" cy="448.5" r="0.85"/><circle cx="165.2" cy="438.1" r="0.85"/><circle cx="161.7" cy="434.2" r="0.85"/><circle cx="160.3" cy="438.5" r="0.85"/><circle cx="167.7" cy="445.6" r="0.85"/><circle cx="165.1" cy="436.5" r="0.85"/><circle cx="164.5" cy="439.5" r="0.85"/><circle cx="165.5" cy="430.5" r="0.85"/><circle cx="158.8" cy="427.1" r="0.85"/><circle cx="159.7" cy="434.7" r="0.85"/><circle cx="166.9" cy="446.3" r="0.85"/><circle cx="162.0" cy="436.2" r="0.85"/><circle cx="165.9" cy="440.4" r="0.85"/><circle cx="167.3" cy="431.2" r="0.85"/><circle cx="167.8" cy="425.4" r="0.85"/><circle cx="168.2" cy="433.3" r="0.85"/><circle cx="167.2" cy="423.4" r="0.85"/><circle cx="161.5" cy="426.4" r="0.85"/><circle cx="166.2" cy="431.1" r="0.85"/><circle cx="165.7" cy="440.1" r="0.85"/><circle cx="162.7" cy="433.9" r="0.85"/><circle cx="166.7" cy="442.8" r="0.85"/><circle cx="162.8" cy="428.5" r="0.85"/><circle cx="160.3" cy="433.7" r="0.85"/><circle cx="164.3" cy="426.5" r="0.85"/><circle cx="159.9" cy="432.7" r="0.85"/><circle cx="167.8" cy="445.5" r="0.85"/><circle cx="159.6" cy="430.6" r="0.85"/><circle cx="161.6" cy="428.9" r="0.85"/><circle cx="162.3" cy="424.7" r="0.85"/><circle cx="159.8" cy="439.9" r="0.85"/><circle cx="162.6" cy="439.6" r="0.85"/><circle cx="163.1" cy="433.9" r="0.85"/><circle cx="158.9" cy="440.4" r="0.85"/><circle cx="159.5" cy="442.2" r="0.85"/><circle cx="163.5" cy="440.6" r="0.85"/><circle cx="161.6" cy="419.4" r="0.85"/><circle cx="166.8" cy="438.0" r="0.85"/><circle cx="159.1" cy="440.3" r="0.85"/><circle cx="167.6" cy="437.0" r="0.85"/><circle cx="159.8" cy="434.5" r="0.85"/><circle cx="159.2" cy="427.1" r="0.85"/><circle cx="163.6" cy="429.1" r="0.85"/><circle cx="167.5" cy="430.0" r="0.85"/><circle cx="164.5" cy="434.3" r="0.85"/><circle cx="160.5" cy="433.6" r="0.85"/><circle cx="164.3" cy="438.2" r="0.85"/><circle cx="163.6" cy="443.2" r="0.85"/><circle cx="159.2" cy="422.8" r="0.85"/><circle cx="164.0" cy="437.2" r="0.85"/><circle cx="166.4" cy="428.7" r="0.85"/><circle cx="166.2" cy="436.4" r="0.85"/><circle cx="161.8" cy="435.1" r="0.85"/><circle cx="161.5" cy="435.4" r="0.85"/><circle cx="162.7" cy="442.5" r="0.85"/><circle cx="164.0" cy="435.0" r="0.85"/><circle cx="159.4" cy="432.4" r="0.85"/><circle cx="160.2" cy="429.8" r="0.85"/><circle cx="159.9" cy="431.7" r="0.85"/><circle cx="164.9" cy="428.7" r="0.85"/><circle cx="164.5" cy="432.9" r="0.85"/><circle cx="167.3" cy="434.6" r="0.85"/><circle cx="161.2" cy="445.9" r="0.85"/><circle cx="162.2" cy="437.7" r="0.85"/><circle cx="168.2" cy="425.7" r="0.85"/><circle cx="161.8" cy="433.9" r="0.85"/><circle cx="164.8" cy="430.0" r="0.85"/><circle cx="160.5" cy="435.8" r="0.85"/><circle cx="166.2" cy="438.5" r="0.85"/><circle cx="159.9" cy="422.8" r="0.85"/><circle cx="166.6" cy="432.6" r="0.85"/><circle cx="161.9" cy="426.0" r="0.85"/><circle cx="165.2" cy="431.6" r="0.85"/><circle cx="165.7" cy="436.3" r="0.85"/><circle cx="160.9" cy="447.6" r="0.85"/><circle cx="161.3" cy="434.1" r="0.85"/><circle cx="159.0" cy="443.7" r="0.85"/><circle cx="162.8" cy="447.5" r="0.85"/><circle cx="162.7" cy="427.5" r="0.85"/><circle cx="164.2" cy="430.5" r="0.85"/><circle cx="159.9" cy="430.9" r="0.85"/><circle cx="161.2" cy="434.4" r="0.85"/><circle cx="161.9" cy="434.9" r="0.85"/><circle cx="165.0" cy="432.2" r="0.85"/><circle cx="161.5" cy="433.8" r="0.85"/><circle cx="165.8" cy="434.2" r="0.85"/><circle cx="163.7" cy="430.4" r="0.85"/><circle cx="165.9" cy="448.8" r="0.85"/><circle cx="165.9" cy="429.5" r="0.85"/><circle cx="161.1" cy="438.3" r="0.85"/><circle cx="166.2" cy="429.8" r="0.85"/><circle cx="162.6" cy="427.9" r="0.85"/><circle cx="166.6" cy="439.6" r="0.85"/><circle cx="163.8" cy="430.2" r="0.85"/><circle cx="166.4" cy="430.2" r="0.85"/><circle cx="163.8" cy="438.9" r="0.85"/><circle cx="159.6" cy="437.9" r="0.85"/><circle cx="163.3" cy="434.3" r="0.85"/><circle cx="159.3" cy="447.8" r="0.85"/><circle cx="166.2" cy="437.6" r="0.85"/><circle cx="166.8" cy="433.9" r="0.85"/><circle cx="159.5" cy="437.6" r="0.85"/><circle cx="166.0" cy="444.3" r="0.85"/><circle cx="163.1" cy="437.3" r="0.85"/><circle cx="165.0" cy="426.3" r="0.85"/><circle cx="165.0" cy="427.4" r="0.85"/><circle cx="161.4" cy="435.8" r="0.85"/><circle cx="166.6" cy="439.7" r="0.85"/><circle cx="158.8" cy="435.2" r="0.85"/><circle cx="168.2" cy="435.0" r="0.85"/><circle cx="162.8" cy="439.0" r="0.85"/><circle cx="167.7" cy="437.0" r="0.85"/><circle cx="160.6" cy="431.5" r="0.85"/><circle cx="167.0" cy="429.7" r="0.85"/><circle cx="161.1" cy="449.2" r="0.85"/><circle cx="167.0" cy="429.4" r="0.85"/><circle cx="165.9" cy="434.3" r="0.85"/><circle cx="167.3" cy="428.5" r="0.85"/><circle cx="165.2" cy="435.2" r="0.85"/><circle cx="159.7" cy="432.6" r="0.85"/><circle cx="159.5" cy="425.6" r="0.85"/><circle cx="165.2" cy="451.5" r="0.85"/><circle cx="166.1" cy="425.9" r="0.85"/><circle cx="166.9" cy="434.0" r="0.85"/><circle cx="165.3" cy="445.6" r="0.85"/><circle cx="168.0" cy="450.5" r="0.85"/><circle cx="161.6" cy="433.3" r="0.85"/><circle cx="162.0" cy="441.0" r="0.85"/><circle cx="159.2" cy="429.3" r="0.85"/><circle cx="166.9" cy="433.9" r="0.85"/><circle cx="161.0" cy="435.9" r="0.85"/><circle cx="165.6" cy="429.4" r="0.85"/><circle cx="165.0" cy="434.0" r="0.85"/><circle cx="165.8" cy="430.8" r="0.85"/><circle cx="163.6" cy="430.3" r="0.85"/><circle cx="159.6" cy="433.2" r="0.85"/><circle cx="167.0" cy="430.5" r="0.85"/><circle cx="167.9" cy="430.6" r="0.85"/><circle cx="159.7" cy="443.0" r="0.85"/><circle cx="168.2" cy="436.7" r="0.85"/><circle cx="164.7" cy="435.8" r="0.85"/><circle cx="166.6" cy="437.3" r="0.85"/><circle cx="167.3" cy="444.3" r="0.85"/><circle cx="166.5" cy="438.4" r="0.85"/><circle cx="163.0" cy="433.2" r="0.85"/><circle cx="165.3" cy="434.0" r="0.85"/><circle cx="159.2" cy="426.3" r="0.85"/><circle cx="162.4" cy="438.6" r="0.85"/><circle cx="162.9" cy="437.6" r="0.85"/><circle cx="158.8" cy="438.4" r="0.85"/><circle cx="166.5" cy="436.9" r="0.85"/><circle cx="166.3" cy="438.6" r="0.85"/><circle cx="163.0" cy="445.9" r="0.85"/><circle cx="161.4" cy="433.1" r="0.85"/><circle cx="159.5" cy="429.4" r="0.85"/><circle cx="168.0" cy="428.6" r="0.85"/><circle cx="159.8" cy="441.4" r="0.85"/><circle cx="159.2" cy="436.2" r="0.85"/><circle cx="162.0" cy="424.4" r="0.85"/><circle cx="167.9" cy="435.7" r="0.85"/><circle cx="159.1" cy="433.1" r="0.85"/><circle cx="159.4" cy="436.0" r="0.85"/><circle cx="161.5" cy="429.3" r="0.85"/><circle cx="162.9" cy="429.5" r="0.85"/><circle cx="165.9" cy="421.7" r="0.85"/><circle cx="161.1" cy="432.2" r="0.85"/><circle cx="162.5" cy="432.5" r="0.85"/><circle cx="166.6" cy="442.1" r="0.85"/><circle cx="160.9" cy="437.5" r="0.85"/><circle cx="160.9" cy="439.2" r="0.85"/><circle cx="166.7" cy="437.0" r="0.85"/><circle cx="165.7" cy="442.7" r="0.85"/><circle cx="167.9" cy="428.1" r="0.85"/><circle cx="166.7" cy="441.2" r="0.85"/><circle cx="165.2" cy="433.5" r="0.85"/><circle cx="159.4" cy="442.4" r="0.85"/><circle cx="159.7" cy="433.1" r="0.85"/><circle cx="161.0" cy="425.6" r="0.85"/><circle cx="166.2" cy="439.8" r="0.85"/><circle cx="162.0" cy="433.0" r="0.85"/><circle cx="159.2" cy="435.5" r="0.85"/><circle cx="168.1" cy="433.5" r="0.85"/><circle cx="162.3" cy="432.7" r="0.85"/><circle cx="159.1" cy="438.8" r="0.85"/><circle cx="166.1" cy="436.2" r="0.85"/><circle cx="165.6" cy="438.5" r="0.85"/><circle cx="161.6" cy="439.9" r="0.85"/><circle cx="159.8" cy="442.2" r="0.85"/><circle cx="165.9" cy="429.5" r="0.85"/><circle cx="159.3" cy="439.4" r="0.85"/><circle cx="165.8" cy="431.3" r="0.85"/><circle cx="163.6" cy="431.9" r="0.85"/><circle cx="167.5" cy="440.9" r="0.85"/><circle cx="162.0" cy="429.1" r="0.85"/><circle cx="167.2" cy="440.1" r="0.85"/><circle cx="164.5" cy="431.5" r="0.85"/><circle cx="161.8" cy="426.7" r="0.85"/><circle cx="165.2" cy="439.2" r="0.85"/><circle cx="162.4" cy="440.5" r="0.85"/><circle cx="162.3" cy="440.6" r="0.85"/><circle cx="160.8" cy="421.9" r="0.85"/><circle cx="164.1" cy="437.3" r="0.85"/><circle cx="162.8" cy="442.4" r="0.85"/><circle cx="162.3" cy="430.4" r="0.85"/><circle cx="159.0" cy="436.1" r="0.85"/><circle cx="167.4" cy="435.3" r="0.85"/><circle cx="161.3" cy="440.9" r="0.85"/><circle cx="168.1" cy="448.0" r="0.85"/><circle cx="160.7" cy="439.4" r="0.85"/><circle cx="158.8" cy="441.2" r="0.85"/><circle cx="168.1" cy="444.5" r="0.85"/><circle cx="165.1" cy="441.4" r="0.85"/><circle cx="166.1" cy="440.6" r="0.85"/><circle cx="162.6" cy="430.5" r="0.85"/><circle cx="158.7" cy="431.1" r="0.85"/><circle cx="166.3" cy="432.2" r="0.85"/><circle cx="167.6" cy="438.3" r="0.85"/><circle cx="162.9" cy="442.4" r="0.85"/><circle cx="159.5" cy="433.5" r="0.85"/><circle cx="161.8" cy="432.5" r="0.85"/><circle cx="167.8" cy="429.4" r="0.85"/><circle cx="158.8" cy="435.3" r="0.85"/><circle cx="162.3" cy="435.9" r="0.85"/><circle cx="160.2" cy="433.4" r="0.85"/><circle cx="166.0" cy="440.5" r="0.85"/><circle cx="166.4" cy="439.8" r="0.85"/><circle cx="163.5" cy="431.5" r="0.85"/><circle cx="165.7" cy="442.4" r="0.85"/><circle cx="168.1" cy="435.6" r="0.85"/><circle cx="161.5" cy="430.7" r="0.85"/><circle cx="163.8" cy="433.8" r="0.85"/><circle cx="166.9" cy="432.7" r="0.85"/><circle cx="159.6" cy="441.6" r="0.85"/><circle cx="166.2" cy="435.9" r="0.85"/><circle cx="161.5" cy="436.7" r="0.85"/><circle cx="161.0" cy="431.7" r="0.85"/><circle cx="160.1" cy="432.7" r="0.85"/><circle cx="163.2" cy="434.9" r="0.85"/><circle cx="164.6" cy="424.1" r="0.85"/><circle cx="161.5" cy="432.0" r="0.85"/><circle cx="163.8" cy="436.7" r="0.85"/><circle cx="159.9" cy="438.6" r="0.85"/><circle cx="164.7" cy="435.3" r="0.85"/><circle cx="163.1" cy="438.3" r="0.85"/><circle cx="159.4" cy="425.6" r="0.85"/><circle cx="163.8" cy="431.7" r="0.85"/><circle cx="164.6" cy="436.8" r="0.85"/><circle cx="162.2" cy="438.8" r="0.85"/><circle cx="163.7" cy="441.2" r="0.85"/><circle cx="164.0" cy="436.6" r="0.85"/><circle cx="163.2" cy="427.4" r="0.85"/><circle cx="159.7" cy="430.1" r="0.85"/><circle cx="159.0" cy="435.3" r="0.85"/><circle cx="162.2" cy="434.2" r="0.85"/><circle cx="165.1" cy="445.7" r="0.85"/><circle cx="166.6" cy="430.6" r="0.85"/><circle cx="163.7" cy="436.2" r="0.85"/><circle cx="163.5" cy="427.0" r="0.85"/><circle cx="165.3" cy="436.0" r="0.85"/><circle cx="161.8" cy="437.7" r="0.85"/><circle cx="167.6" cy="433.7" r="0.85"/><circle cx="163.4" cy="438.6" r="0.85"/><circle cx="161.9" cy="427.2" r="0.85"/><circle cx="167.5" cy="433.3" r="0.85"/><circle cx="161.4" cy="432.8" r="0.85"/><circle cx="164.5" cy="433.0" r="0.85"/><circle cx="162.0" cy="436.9" r="0.85"/><circle cx="167.8" cy="432.1" r="0.85"/><circle cx="165.1" cy="433.9" r="0.85"/><circle cx="159.2" cy="424.7" r="0.85"/><circle cx="165.7" cy="434.5" r="0.85"/><circle cx="160.6" cy="432.7" r="0.85"/><circle cx="164.1" cy="437.4" r="0.85"/><circle cx="165.0" cy="436.9" r="0.85"/><circle cx="165.4" cy="436.5" r="0.85"/><circle cx="166.3" cy="427.3" r="0.85"/><circle cx="163.9" cy="434.2" r="0.85"/><circle cx="165.5" cy="429.1" r="0.85"/><circle cx="158.9" cy="436.2" r="0.85"/><circle cx="164.2" cy="436.7" r="0.85"/><circle cx="164.7" cy="445.7" r="0.85"/><circle cx="167.4" cy="429.8" r="0.85"/><circle cx="162.6" cy="422.7" r="0.85"/><circle cx="159.5" cy="435.9" r="0.85"/><circle cx="164.1" cy="426.3" r="0.85"/><circle cx="162.7" cy="429.7" r="0.85"/><circle cx="164.1" cy="438.5" r="0.85"/><circle cx="159.2" cy="430.2" r="0.85"/><circle cx="159.5" cy="439.7" r="0.85"/><circle cx="164.2" cy="436.3" r="0.85"/><circle cx="165.8" cy="427.5" r="0.85"/><circle cx="164.6" cy="433.6" r="0.85"/><circle cx="161.7" cy="441.3" r="0.85"/><circle cx="164.7" cy="426.4" r="0.85"/><circle cx="167.1" cy="440.9" r="0.85"/><circle cx="166.8" cy="435.5" r="0.85"/><circle cx="166.8" cy="436.5" r="0.85"/><circle cx="163.4" cy="435.5" r="0.85"/><circle cx="167.8" cy="439.4" r="0.85"/><circle cx="162.1" cy="444.0" r="0.85"/><circle cx="168.2" cy="423.8" r="0.85"/><circle cx="160.0" cy="440.0" r="0.85"/><circle cx="159.2" cy="439.6" r="0.85"/><circle cx="160.4" cy="448.6" r="0.85"/><circle cx="164.5" cy="434.0" r="0.85"/><circle cx="167.1" cy="427.1" r="0.85"/><circle cx="160.2" cy="426.5" r="0.85"/><circle cx="163.9" cy="418.6" r="0.85"/><circle cx="159.0" cy="425.9" r="0.85"/><circle cx="162.5" cy="432.2" r="0.85"/><circle cx="166.0" cy="434.4" r="0.85"/><circle cx="166.3" cy="426.2" r="0.85"/><circle cx="166.1" cy="434.7" r="0.85"/><circle cx="164.0" cy="433.4" r="0.85"/><circle cx="159.1" cy="440.0" r="0.85"/><circle cx="165.3" cy="433.9" r="0.85"/><circle cx="166.0" cy="423.1" r="0.85"/><circle cx="162.4" cy="434.9" r="0.85"/><circle cx="168.1" cy="432.2" r="0.85"/><circle cx="165.8" cy="448.4" r="0.85"/><circle cx="164.0" cy="426.8" r="0.85"/></g>
<line x1="163.5" y1="455.22" x2="163.5" y2="457.72" stroke="#111" stroke-width="0.9"/>
<text x="163.5" y="466.72" font-size="7" text-anchor="middle" fill="#333" color="#333" textLength="9.7" lengthAdjust="spacingAndGlyphs" >WT</text>
<rect x="178.7" y="436.2096" width="17.6" height="4.977399999999989" fill="#d42a7c"/>
<line x1="178.7" y1="438.759" x2="196.3" y2="438.759" stroke="#333" stroke-width="0.6"/>
<line x1="187.5" y1="427.226" x2="187.5" y2="451.50600000000003" stroke="#222" stroke-width="0.6"/>
<g fill="#111"><circle cx="190.3" cy="439.8" r="0.9"/><circle cx="183.3" cy="436.9" r="0.9"/><circle cx="187.2" cy="438.4" r="0.9"/><circle cx="185.9" cy="439.8" r="0.9"/><circle cx="187.4" cy="428.4" r="0.9"/><circle cx="186.9" cy="436.7" r="0.9"/><circle cx="185.3" cy="432.9" r="0.9"/><circle cx="184.3" cy="442.5" r="0.9"/><circle cx="191.8" cy="433.8" r="0.9"/><circle cx="184.0" cy="433.1" r="0.9"/><circle cx="185.8" cy="436.2" r="0.9"/><circle cx="183.8" cy="441.9" r="0.9"/><circle cx="184.6" cy="432.7" r="0.9"/><circle cx="188.0" cy="441.2" r="0.9"/><circle cx="185.2" cy="444.7" r="0.9"/><circle cx="184.1" cy="445.0" r="0.9"/><circle cx="190.6" cy="437.8" r="0.9"/><circle cx="186.9" cy="440.2" r="0.9"/><circle cx="189.1" cy="434.7" r="0.9"/><circle cx="188.1" cy="435.2" r="0.9"/><circle cx="186.1" cy="432.3" r="0.9"/><circle cx="191.1" cy="436.7" r="0.9"/><circle cx="182.9" cy="437.6" r="0.9"/><circle cx="187.0" cy="438.1" r="0.9"/><circle cx="183.0" cy="441.5" r="0.9"/><circle cx="190.2" cy="441.7" r="0.9"/><circle cx="188.4" cy="441.2" r="0.9"/><circle cx="189.7" cy="437.1" r="0.9"/><circle cx="191.8" cy="441.7" r="0.9"/><circle cx="192.1" cy="438.5" r="0.9"/><circle cx="191.5" cy="433.5" r="0.9"/><circle cx="189.9" cy="448.4" r="0.9"/><circle cx="191.4" cy="441.9" r="0.9"/><circle cx="190.8" cy="442.4" r="0.9"/><circle cx="189.8" cy="438.2" r="0.9"/><circle cx="186.0" cy="444.6" r="0.9"/><circle cx="188.1" cy="441.1" r="0.9"/><circle cx="186.8" cy="428.4" r="0.9"/><circle cx="189.8" cy="444.1" r="0.9"/><circle cx="190.5" cy="438.6" r="0.9"/></g>
<line x1="187.5" y1="455.22" x2="187.5" y2="457.72" stroke="#111" stroke-width="0.9"/>
<text x="187.5" y="466.72" font-size="7" text-anchor="middle" fill="#333" color="#333" textLength="24.6" lengthAdjust="spacingAndGlyphs" >Mutated</text>
<text x="142.2" y="479.9" font-size="7" text-anchor="end" fill="#333" color="#333" textLength="21.1" lengthAdjust="spacingAndGlyphs" >RUNX1</text>
<rect x="148.6" y="475.2" width="5.4" height="4.6" fill="#3aa2d6"/><path d="M148.6,477.5 h5.4 M151.3,474.5 v6" stroke="#1a4a70" stroke-width="0.7"/>
<text x="158.7" y="479.9" font-size="7" fill="#333" color="#333" textLength="9.3" lengthAdjust="spacingAndGlyphs" >WT</text>
<rect x="175.5" y="475.2" width="6" height="4.6" fill="#d42a7c"/><path d="M175.5,477.5 h6 M178.5,474.5 v6" stroke="#6a1040" stroke-width="0.7"/>
<text x="184.5" y="479.9" font-size="7" fill="#333" color="#333" textLength="24.6" lengthAdjust="spacingAndGlyphs" >Mutated</text>
<text x="71.0" y="496.6" font-size="6.5" text-anchor="middle" fill="#222">Wilcoxon, <tspan font-style="italic">P</tspan> = .00075</text>
<line x1="44.5" y1="500.8" x2="44.5" y2="543.72" stroke="#111" stroke-width="1"/>
<line x1="44.0" y1="543.72" x2="96.0" y2="543.72" stroke="#111" stroke-width="1"/>
<line x1="42.0" y1="504.8" x2="44.5" y2="504.8" stroke="#111" stroke-width="0.9"/>
<text x="39.0" y="507.2" font-size="6.8" text-anchor="end" fill="#333" color="#333" textLength="9" lengthAdjust="spacingAndGlyphs" >1.2</text>
<line x1="42.0" y1="516.94" x2="44.5" y2="516.94" stroke="#111" stroke-width="0.9"/>
<text x="39.0" y="519.34" font-size="6.8" text-anchor="end" fill="#333" color="#333" textLength="9" lengthAdjust="spacingAndGlyphs" >1.0</text>
<line x1="42.0" y1="529.08" x2="44.5" y2="529.08" stroke="#111" stroke-width="0.9"/>
<text x="39.0" y="531.48" font-size="6.8" text-anchor="end" fill="#333" color="#333" textLength="9" lengthAdjust="spacingAndGlyphs" >0.8</text>
<line x1="42.0" y1="541.22" x2="44.5" y2="541.22" stroke="#111" stroke-width="0.9"/>
<text x="39.0" y="543.62" font-size="6.8" text-anchor="end" fill="#333" color="#333" textLength="9" lengthAdjust="spacingAndGlyphs" >0.6</text>
<text font-size="7.3" fill="#333" text-anchor="middle" transform="translate(12.5,522.5) rotate(-90)"><tspan x="0" y="0" textLength="44" lengthAdjust="spacingAndGlyphs">Ratio early Tm/</tspan><tspan x="0" y="10.5" font-size="7.8" textLength="13.5" lengthAdjust="spacingAndGlyphs">Term</tspan></text>
<rect x="49.7" y="519.0038" width="17.6" height="8.255200000000059" fill="#3aa2d6"/>
<line x1="49.7" y1="523.9205000000001" x2="67.3" y2="523.9205000000001" stroke="#333" stroke-width="0.6"/>
<line x1="58.5" y1="504.8" x2="58.5" y2="540.006" stroke="#222" stroke-width="0.6"/>
<g fill="#111"><circle cx="56.8" cy="513.1" r="0.85"/><circle cx="61.2" cy="540.0" r="0.85"/><circle cx="61.9" cy="518.1" r="0.85"/><circle cx="55.0" cy="523.2" r="0.85"/><circle cx="54.3" cy="516.0" r="0.85"/><circle cx="59.7" cy="521.4" r="0.85"/><circle cx="55.8" cy="513.1" r="0.85"/><circle cx="56.5" cy="523.4" r="0.85"/><circle cx="54.2" cy="526.6" r="0.85"/><circle cx="57.1" cy="520.3" r="0.85"/><circle cx="61.5" cy="521.1" r="0.85"/><circle cx="59.2" cy="525.7" r="0.85"/><circle cx="54.0" cy="525.0" r="0.85"/><circle cx="54.4" cy="519.5" r="0.85"/><circle cx="62.3" cy="519.6" r="0.85"/><circle cx="59.8" cy="526.5" r="0.85"/><circle cx="55.4" cy="525.7" r="0.85"/><circle cx="59.6" cy="534.0" r="0.85"/><circle cx="61.3" cy="513.9" r="0.85"/><circle cx="61.6" cy="524.9" r="0.85"/><circle cx="59.9" cy="515.9" r="0.85"/><circle cx="55.1" cy="521.2" r="0.85"/><circle cx="61.9" cy="512.4" r="0.85"/><circle cx="60.1" cy="514.8" r="0.85"/><circle cx="61.6" cy="521.8" r="0.85"/><circle cx="58.3" cy="515.1" r="0.85"/><circle cx="62.0" cy="529.1" r="0.85"/><circle cx="61.4" cy="516.4" r="0.85"/><circle cx="56.9" cy="532.2" r="0.85"/><circle cx="55.2" cy="521.6" r="0.85"/><circle cx="59.7" cy="517.5" r="0.85"/><circle cx="55.7" cy="522.3" r="0.85"/><circle cx="57.0" cy="525.7" r="0.85"/><circle cx="55.9" cy="528.3" r="0.85"/><circle cx="57.5" cy="525.6" r="0.85"/><circle cx="57.1" cy="517.6" r="0.85"/><circle cx="60.4" cy="518.5" r="0.85"/><circle cx="59.5" cy="525.1" r="0.85"/><circle cx="55.3" cy="530.8" r="0.85"/><circle cx="60.0" cy="519.7" r="0.85"/><circle cx="60.9" cy="532.0" r="0.85"/><circle cx="58.0" cy="526.7" r="0.85"/><circle cx="54.0" cy="527.9" r="0.85"/><circle cx="61.3" cy="519.3" r="0.85"/><circle cx="60.6" cy="522.3" r="0.85"/><circle cx="54.3" cy="521.0" r="0.85"/><circle cx="56.4" cy="522.0" r="0.85"/><circle cx="61.0" cy="527.5" r="0.85"/><circle cx="59.8" cy="520.5" r="0.85"/><circle cx="55.1" cy="515.5" r="0.85"/><circle cx="57.0" cy="523.8" r="0.85"/><circle cx="54.1" cy="520.0" r="0.85"/><circle cx="62.3" cy="524.3" r="0.85"/><circle cx="61.2" cy="517.7" r="0.85"/><circle cx="56.1" cy="519.8" r="0.85"/><circle cx="57.7" cy="518.6" r="0.85"/><circle cx="60.8" cy="521.6" r="0.85"/><circle cx="58.8" cy="514.2" r="0.85"/><circle cx="54.7" cy="525.7" r="0.85"/><circle cx="61.2" cy="525.5" r="0.85"/><circle cx="60.6" cy="527.0" r="0.85"/><circle cx="53.9" cy="520.1" r="0.85"/><circle cx="61.9" cy="527.2" r="0.85"/><circle cx="58.3" cy="527.3" r="0.85"/><circle cx="59.3" cy="519.4" r="0.85"/><circle cx="60.2" cy="516.9" r="0.85"/><circle cx="62.2" cy="520.3" r="0.85"/><circle cx="58.5" cy="539.1" r="0.85"/><circle cx="56.1" cy="529.1" r="0.85"/><circle cx="57.6" cy="529.8" r="0.85"/><circle cx="62.1" cy="530.6" r="0.85"/><circle cx="59.8" cy="526.0" r="0.85"/><circle cx="58.9" cy="513.1" r="0.85"/><circle cx="59.0" cy="525.4" r="0.85"/><circle cx="58.4" cy="527.9" r="0.85"/><circle cx="62.7" cy="519.6" r="0.85"/><circle cx="62.8" cy="523.2" r="0.85"/><circle cx="57.0" cy="522.9" r="0.85"/><circle cx="53.7" cy="527.6" r="0.85"/><circle cx="55.2" cy="523.6" r="0.85"/><circle cx="56.1" cy="521.1" r="0.85"/><circle cx="57.7" cy="534.6" r="0.85"/><circle cx="60.2" cy="532.9" r="0.85"/><circle cx="60.1" cy="517.4" r="0.85"/><circle cx="58.3" cy="518.8" r="0.85"/><circle cx="62.6" cy="526.5" r="0.85"/><circle cx="54.7" cy="529.5" r="0.85"/><circle cx="57.7" cy="524.7" r="0.85"/><circle cx="61.5" cy="530.5" r="0.85"/><circle cx="60.2" cy="525.6" r="0.85"/><circle cx="58.9" cy="514.1" r="0.85"/><circle cx="60.4" cy="522.9" r="0.85"/><circle cx="53.8" cy="516.9" r="0.85"/><circle cx="60.5" cy="524.9" r="0.85"/><circle cx="58.6" cy="521.5" r="0.85"/><circle cx="61.8" cy="515.6" r="0.85"/><circle cx="55.4" cy="531.3" r="0.85"/><circle cx="57.5" cy="525.6" r="0.85"/><circle cx="63.0" cy="524.5" r="0.85"/><circle cx="56.7" cy="522.0" r="0.85"/><circle cx="60.3" cy="514.7" r="0.85"/><circle cx="62.5" cy="519.7" r="0.85"/><circle cx="58.9" cy="532.3" r="0.85"/><circle cx="58.6" cy="525.2" r="0.85"/><circle cx="58.7" cy="528.8" r="0.85"/><circle cx="56.1" cy="528.9" r="0.85"/><circle cx="58.6" cy="511.9" r="0.85"/><circle cx="60.6" cy="529.7" r="0.85"/><circle cx="58.5" cy="522.3" r="0.85"/><circle cx="56.8" cy="527.7" r="0.85"/><circle cx="57.5" cy="518.7" r="0.85"/><circle cx="54.6" cy="521.6" r="0.85"/><circle cx="53.7" cy="522.9" r="0.85"/><circle cx="62.6" cy="524.1" r="0.85"/><circle cx="57.3" cy="517.1" r="0.85"/><circle cx="60.6" cy="529.0" r="0.85"/><circle cx="60.1" cy="527.8" r="0.85"/><circle cx="56.3" cy="530.1" r="0.85"/><circle cx="56.6" cy="515.9" r="0.85"/><circle cx="59.9" cy="525.3" r="0.85"/><circle cx="58.5" cy="529.6" r="0.85"/><circle cx="60.0" cy="526.0" r="0.85"/><circle cx="59.2" cy="509.2" r="0.85"/><circle cx="58.2" cy="524.2" r="0.85"/><circle cx="59.8" cy="518.7" r="0.85"/><circle cx="58.0" cy="520.9" r="0.85"/><circle cx="54.3" cy="523.7" r="0.85"/><circle cx="58.8" cy="527.6" r="0.85"/><circle cx="62.8" cy="525.5" r="0.85"/><circle cx="60.8" cy="525.7" r="0.85"/><circle cx="56.3" cy="536.4" r="0.85"/><circle cx="58.6" cy="508.7" r="0.85"/><circle cx="54.7" cy="518.3" r="0.85"/><circle cx="60.2" cy="522.9" r="0.85"/><circle cx="57.3" cy="524.8" r="0.85"/><circle cx="59.3" cy="528.2" r="0.85"/><circle cx="63.0" cy="518.1" r="0.85"/><circle cx="59.5" cy="524.7" r="0.85"/><circle cx="61.4" cy="520.9" r="0.85"/><circle cx="53.7" cy="531.6" r="0.85"/><circle cx="56.7" cy="521.4" r="0.85"/><circle cx="59.3" cy="512.1" r="0.85"/><circle cx="55.5" cy="525.3" r="0.85"/><circle cx="59.0" cy="519.0" r="0.85"/><circle cx="57.0" cy="523.4" r="0.85"/><circle cx="58.2" cy="517.2" r="0.85"/><circle cx="54.5" cy="517.5" r="0.85"/><circle cx="60.6" cy="523.3" r="0.85"/><circle cx="56.2" cy="526.8" r="0.85"/><circle cx="56.9" cy="522.0" r="0.85"/><circle cx="55.3" cy="523.4" r="0.85"/><circle cx="56.1" cy="527.2" r="0.85"/><circle cx="55.1" cy="521.0" r="0.85"/><circle cx="63.2" cy="521.1" r="0.85"/><circle cx="61.5" cy="528.7" r="0.85"/><circle cx="60.9" cy="524.3" r="0.85"/><circle cx="54.5" cy="506.8" r="0.85"/><circle cx="56.1" cy="518.9" r="0.85"/><circle cx="62.5" cy="523.1" r="0.85"/><circle cx="62.3" cy="509.1" r="0.85"/><circle cx="55.4" cy="526.2" r="0.85"/><circle cx="59.4" cy="537.9" r="0.85"/><circle cx="60.1" cy="534.6" r="0.85"/><circle cx="57.7" cy="532.4" r="0.85"/><circle cx="56.9" cy="522.1" r="0.85"/><circle cx="56.2" cy="518.0" r="0.85"/><circle cx="60.5" cy="536.1" r="0.85"/><circle cx="56.8" cy="517.2" r="0.85"/><circle cx="60.6" cy="530.7" r="0.85"/><circle cx="53.9" cy="522.1" r="0.85"/><circle cx="58.8" cy="520.9" r="0.85"/><circle cx="62.2" cy="521.1" r="0.85"/><circle cx="54.9" cy="523.6" r="0.85"/><circle cx="53.7" cy="522.6" r="0.85"/><circle cx="60.7" cy="530.2" r="0.85"/><circle cx="55.5" cy="522.0" r="0.85"/><circle cx="59.1" cy="518.0" r="0.85"/><circle cx="53.8" cy="518.3" r="0.85"/><circle cx="58.4" cy="508.5" r="0.85"/><circle cx="57.7" cy="517.4" r="0.85"/><circle cx="53.9" cy="519.4" r="0.85"/><circle cx="56.5" cy="514.0" r="0.85"/><circle cx="58.1" cy="522.2" r="0.85"/><circle cx="58.7" cy="531.1" r="0.85"/><circle cx="56.8" cy="536.5" r="0.85"/><circle cx="60.0" cy="516.3" r="0.85"/><circle cx="60.9" cy="520.3" r="0.85"/><circle cx="54.7" cy="518.7" r="0.85"/><circle cx="62.5" cy="525.5" r="0.85"/><circle cx="57.1" cy="521.6" r="0.85"/><circle cx="59.5" cy="512.8" r="0.85"/><circle cx="62.5" cy="521.7" r="0.85"/><circle cx="60.3" cy="530.0" r="0.85"/><circle cx="57.8" cy="526.1" r="0.85"/><circle cx="61.0" cy="515.6" r="0.85"/><circle cx="56.8" cy="529.9" r="0.85"/><circle cx="54.0" cy="538.5" r="0.85"/><circle cx="60.2" cy="536.8" r="0.85"/><circle cx="57.4" cy="531.3" r="0.85"/><circle cx="61.9" cy="519.0" r="0.85"/><circle cx="54.0" cy="523.1" r="0.85"/><circle cx="60.6" cy="528.0" r="0.85"/><circle cx="58.0" cy="531.0" r="0.85"/><circle cx="54.0" cy="524.3" r="0.85"/><circle cx="57.6" cy="524.5" r="0.85"/><circle cx="61.5" cy="526.9" r="0.85"/><circle cx="62.2" cy="525.0" r="0.85"/><circle cx="59.8" cy="528.0" r="0.85"/><circle cx="60.5" cy="513.2" r="0.85"/><circle cx="62.2" cy="537.3" r="0.85"/><circle cx="62.7" cy="522.9" r="0.85"/><circle cx="58.6" cy="529.5" r="0.85"/><circle cx="54.0" cy="519.5" r="0.85"/><circle cx="60.0" cy="525.0" r="0.85"/><circle cx="54.2" cy="521.5" r="0.85"/><circle cx="54.3" cy="520.6" r="0.85"/><circle cx="58.5" cy="522.4" r="0.85"/><circle cx="59.5" cy="517.9" r="0.85"/><circle cx="54.6" cy="531.6" r="0.85"/><circle cx="59.9" cy="518.1" r="0.85"/><circle cx="60.8" cy="524.9" r="0.85"/><circle cx="62.6" cy="521.4" r="0.85"/><circle cx="58.0" cy="514.6" r="0.85"/><circle cx="63.0" cy="517.1" r="0.85"/><circle cx="55.7" cy="512.2" r="0.85"/><circle cx="59.2" cy="536.6" r="0.85"/><circle cx="56.0" cy="529.1" r="0.85"/><circle cx="57.2" cy="518.1" r="0.85"/><circle cx="56.1" cy="530.1" r="0.85"/><circle cx="63.2" cy="524.7" r="0.85"/><circle cx="62.8" cy="513.8" r="0.85"/><circle cx="59.2" cy="518.6" r="0.85"/><circle cx="54.4" cy="529.2" r="0.85"/><circle cx="55.8" cy="521.0" r="0.85"/><circle cx="55.3" cy="519.9" r="0.85"/><circle cx="56.5" cy="523.2" r="0.85"/><circle cx="58.0" cy="524.2" r="0.85"/><circle cx="57.4" cy="522.8" r="0.85"/><circle cx="58.0" cy="532.3" r="0.85"/><circle cx="61.4" cy="522.9" r="0.85"/><circle cx="57.8" cy="529.2" r="0.85"/><circle cx="58.7" cy="521.3" r="0.85"/><circle cx="58.3" cy="521.1" r="0.85"/><circle cx="56.2" cy="528.8" r="0.85"/><circle cx="59.4" cy="520.1" r="0.85"/><circle cx="55.3" cy="521.6" r="0.85"/><circle cx="54.7" cy="523.9" r="0.85"/><circle cx="59.2" cy="519.4" r="0.85"/><circle cx="60.4" cy="525.4" r="0.85"/><circle cx="54.7" cy="525.3" r="0.85"/><circle cx="58.5" cy="523.2" r="0.85"/><circle cx="54.8" cy="524.0" r="0.85"/><circle cx="57.0" cy="517.0" r="0.85"/><circle cx="60.0" cy="537.3" r="0.85"/><circle cx="60.1" cy="525.4" r="0.85"/><circle cx="57.7" cy="535.2" r="0.85"/><circle cx="61.7" cy="526.7" r="0.85"/><circle cx="61.9" cy="522.3" r="0.85"/><circle cx="55.7" cy="523.7" r="0.85"/><circle cx="62.7" cy="518.2" r="0.85"/><circle cx="56.0" cy="522.0" r="0.85"/><circle cx="62.5" cy="539.6" r="0.85"/><circle cx="59.5" cy="530.3" r="0.85"/><circle cx="62.7" cy="514.9" r="0.85"/><circle cx="56.9" cy="514.9" r="0.85"/><circle cx="61.8" cy="523.3" r="0.85"/><circle cx="57.0" cy="532.9" r="0.85"/><circle cx="60.4" cy="511.4" r="0.85"/><circle cx="60.8" cy="536.0" r="0.85"/><circle cx="61.6" cy="522.2" r="0.85"/><circle cx="59.7" cy="524.3" r="0.85"/><circle cx="57.9" cy="522.6" r="0.85"/><circle cx="53.7" cy="530.8" r="0.85"/><circle cx="60.6" cy="526.3" r="0.85"/><circle cx="59.2" cy="517.8" r="0.85"/><circle cx="54.8" cy="526.9" r="0.85"/><circle cx="60.4" cy="532.0" r="0.85"/><circle cx="57.4" cy="524.2" r="0.85"/><circle cx="60.0" cy="523.6" r="0.85"/><circle cx="58.0" cy="524.9" r="0.85"/><circle cx="61.4" cy="528.7" r="0.85"/><circle cx="60.7" cy="521.0" r="0.85"/><circle cx="62.2" cy="524.8" r="0.85"/><circle cx="62.2" cy="530.9" r="0.85"/><circle cx="53.7" cy="522.9" r="0.85"/><circle cx="59.6" cy="524.3" r="0.85"/><circle cx="63.1" cy="523.3" r="0.85"/><circle cx="53.9" cy="534.0" r="0.85"/><circle cx="61.0" cy="528.6" r="0.85"/><circle cx="56.4" cy="521.5" r="0.85"/><circle cx="59.1" cy="518.7" r="0.85"/><circle cx="54.5" cy="522.1" r="0.85"/><circle cx="59.9" cy="523.1" r="0.85"/><circle cx="61.9" cy="519.8" r="0.85"/><circle cx="60.9" cy="518.3" r="0.85"/><circle cx="60.5" cy="513.8" r="0.85"/><circle cx="62.2" cy="521.2" r="0.85"/><circle cx="59.1" cy="527.2" r="0.85"/><circle cx="55.8" cy="521.1" r="0.85"/><circle cx="58.8" cy="535.1" r="0.85"/><circle cx="61.6" cy="523.5" r="0.85"/><circle cx="56.7" cy="526.4" r="0.85"/><circle cx="57.7" cy="523.9" r="0.85"/><circle cx="61.5" cy="520.9" r="0.85"/><circle cx="54.2" cy="523.5" r="0.85"/><circle cx="54.2" cy="532.1" r="0.85"/><circle cx="57.0" cy="525.8" r="0.85"/><circle cx="61.8" cy="528.3" r="0.85"/><circle cx="54.8" cy="523.8" r="0.85"/><circle cx="59.0" cy="521.6" r="0.85"/><circle cx="60.2" cy="529.2" r="0.85"/><circle cx="54.2" cy="519.4" r="0.85"/><circle cx="61.8" cy="516.2" r="0.85"/><circle cx="61.2" cy="525.2" r="0.85"/><circle cx="53.9" cy="519.5" r="0.85"/><circle cx="58.2" cy="532.2" r="0.85"/><circle cx="57.7" cy="526.8" r="0.85"/><circle cx="60.8" cy="518.1" r="0.85"/><circle cx="54.0" cy="533.8" r="0.85"/><circle cx="57.0" cy="526.6" r="0.85"/><circle cx="54.2" cy="528.8" r="0.85"/><circle cx="58.6" cy="517.0" r="0.85"/><circle cx="54.4" cy="517.0" r="0.85"/><circle cx="61.4" cy="527.2" r="0.85"/><circle cx="56.8" cy="522.9" r="0.85"/><circle cx="53.7" cy="538.7" r="0.85"/><circle cx="56.5" cy="518.7" r="0.85"/><circle cx="58.8" cy="521.6" r="0.85"/><circle cx="55.7" cy="516.0" r="0.85"/><circle cx="55.0" cy="537.4" r="0.85"/><circle cx="61.1" cy="521.6" r="0.85"/><circle cx="59.2" cy="525.7" r="0.85"/><circle cx="54.0" cy="538.7" r="0.85"/><circle cx="60.3" cy="527.6" r="0.85"/><circle cx="54.5" cy="524.1" r="0.85"/><circle cx="61.3" cy="519.0" r="0.85"/><circle cx="61.6" cy="522.5" r="0.85"/><circle cx="56.4" cy="526.6" r="0.85"/><circle cx="53.8" cy="521.1" r="0.85"/><circle cx="58.9" cy="524.3" r="0.85"/><circle cx="59.1" cy="527.4" r="0.85"/><circle cx="56.8" cy="529.5" r="0.85"/><circle cx="57.5" cy="522.8" r="0.85"/><circle cx="53.9" cy="522.7" r="0.85"/><circle cx="62.8" cy="513.0" r="0.85"/><circle cx="54.6" cy="526.3" r="0.85"/><circle cx="58.0" cy="514.4" r="0.85"/><circle cx="56.1" cy="521.6" r="0.85"/><circle cx="59.6" cy="516.8" r="0.85"/><circle cx="55.9" cy="528.9" r="0.85"/><circle cx="54.2" cy="528.7" r="0.85"/><circle cx="58.6" cy="525.4" r="0.85"/><circle cx="56.1" cy="518.5" r="0.85"/><circle cx="60.0" cy="522.6" r="0.85"/><circle cx="56.5" cy="519.3" r="0.85"/><circle cx="62.3" cy="521.8" r="0.85"/><circle cx="59.2" cy="517.7" r="0.85"/><circle cx="58.5" cy="522.5" r="0.85"/><circle cx="58.3" cy="526.7" r="0.85"/><circle cx="59.2" cy="520.7" r="0.85"/><circle cx="58.9" cy="523.1" r="0.85"/><circle cx="58.7" cy="513.5" r="0.85"/><circle cx="55.5" cy="524.5" r="0.85"/><circle cx="61.1" cy="523.0" r="0.85"/><circle cx="57.4" cy="525.4" r="0.85"/><circle cx="56.0" cy="517.0" r="0.85"/><circle cx="59.5" cy="518.6" r="0.85"/><circle cx="59.8" cy="519.9" r="0.85"/><circle cx="57.2" cy="530.8" r="0.85"/><circle cx="60.5" cy="532.4" r="0.85"/><circle cx="55.6" cy="522.1" r="0.85"/><circle cx="54.1" cy="519.5" r="0.85"/><circle cx="55.8" cy="515.1" r="0.85"/><circle cx="60.9" cy="534.0" r="0.85"/><circle cx="54.8" cy="524.6" r="0.85"/><circle cx="59.9" cy="533.4" r="0.85"/><circle cx="59.1" cy="529.2" r="0.85"/><circle cx="59.3" cy="524.9" r="0.85"/><circle cx="56.8" cy="518.1" r="0.85"/><circle cx="57.6" cy="526.7" r="0.85"/><circle cx="61.6" cy="527.8" r="0.85"/><circle cx="57.5" cy="525.5" r="0.85"/><circle cx="54.3" cy="516.4" r="0.85"/><circle cx="58.1" cy="509.7" r="0.85"/><circle cx="54.3" cy="532.5" r="0.85"/><circle cx="55.1" cy="525.2" r="0.85"/><circle cx="55.9" cy="526.1" r="0.85"/><circle cx="58.5" cy="516.9" r="0.85"/><circle cx="58.9" cy="521.1" r="0.85"/><circle cx="57.6" cy="514.7" r="0.85"/><circle cx="54.1" cy="529.5" r="0.85"/><circle cx="54.9" cy="523.5" r="0.85"/><circle cx="59.3" cy="526.2" r="0.85"/><circle cx="53.8" cy="529.9" r="0.85"/><circle cx="61.1" cy="524.5" r="0.85"/><circle cx="59.4" cy="530.4" r="0.85"/><circle cx="59.0" cy="511.1" r="0.85"/><circle cx="62.3" cy="521.2" r="0.85"/><circle cx="54.9" cy="529.5" r="0.85"/><circle cx="59.5" cy="527.1" r="0.85"/><circle cx="57.6" cy="513.6" r="0.85"/><circle cx="61.1" cy="526.4" r="0.85"/><circle cx="59.5" cy="519.6" r="0.85"/><circle cx="59.1" cy="520.3" r="0.85"/><circle cx="57.7" cy="517.3" r="0.85"/><circle cx="62.2" cy="520.0" r="0.85"/><circle cx="59.1" cy="524.8" r="0.85"/><circle cx="55.8" cy="527.0" r="0.85"/><circle cx="54.6" cy="533.9" r="0.85"/><circle cx="62.8" cy="523.9" r="0.85"/><circle cx="62.4" cy="522.8" r="0.85"/><circle cx="60.1" cy="525.7" r="0.85"/><circle cx="61.2" cy="524.4" r="0.85"/><circle cx="62.9" cy="530.6" r="0.85"/><circle cx="60.7" cy="511.1" r="0.85"/><circle cx="56.7" cy="526.5" r="0.85"/><circle cx="60.9" cy="529.6" r="0.85"/><circle cx="59.6" cy="527.1" r="0.85"/><circle cx="55.7" cy="524.6" r="0.85"/><circle cx="59.1" cy="519.3" r="0.85"/><circle cx="62.9" cy="537.6" r="0.85"/><circle cx="62.9" cy="520.6" r="0.85"/><circle cx="57.2" cy="527.2" r="0.85"/><circle cx="62.6" cy="524.7" r="0.85"/><circle cx="55.9" cy="517.7" r="0.85"/><circle cx="57.0" cy="519.2" r="0.85"/><circle cx="55.6" cy="527.5" r="0.85"/><circle cx="57.0" cy="524.2" r="0.85"/><circle cx="62.8" cy="512.8" r="0.85"/><circle cx="55.5" cy="515.8" r="0.85"/><circle cx="55.7" cy="518.6" r="0.85"/><circle cx="56.8" cy="523.5" r="0.85"/><circle cx="61.9" cy="518.0" r="0.85"/><circle cx="56.5" cy="521.3" r="0.85"/><circle cx="57.3" cy="526.8" r="0.85"/><circle cx="58.3" cy="529.4" r="0.85"/><circle cx="61.5" cy="520.6" r="0.85"/><circle cx="57.1" cy="521.4" r="0.85"/><circle cx="60.6" cy="516.6" r="0.85"/><circle cx="61.5" cy="526.4" r="0.85"/><circle cx="53.8" cy="515.5" r="0.85"/><circle cx="62.1" cy="525.7" r="0.85"/><circle cx="56.6" cy="516.3" r="0.85"/><circle cx="58.6" cy="520.4" r="0.85"/><circle cx="53.9" cy="526.9" r="0.85"/><circle cx="62.5" cy="529.1" r="0.85"/><circle cx="54.5" cy="524.3" r="0.85"/><circle cx="62.7" cy="525.1" r="0.85"/><circle cx="58.6" cy="518.2" r="0.85"/><circle cx="60.6" cy="527.6" r="0.85"/><circle cx="60.1" cy="532.1" r="0.85"/><circle cx="54.0" cy="523.7" r="0.85"/><circle cx="60.2" cy="512.5" r="0.85"/><circle cx="55.8" cy="514.1" r="0.85"/><circle cx="54.5" cy="527.2" r="0.85"/><circle cx="62.5" cy="525.2" r="0.85"/><circle cx="55.9" cy="521.8" r="0.85"/><circle cx="62.0" cy="527.4" r="0.85"/><circle cx="55.9" cy="525.0" r="0.85"/><circle cx="60.7" cy="525.2" r="0.85"/><circle cx="61.3" cy="529.7" r="0.85"/><circle cx="57.0" cy="527.2" r="0.85"/><circle cx="58.2" cy="526.4" r="0.85"/><circle cx="62.2" cy="522.2" r="0.85"/><circle cx="55.7" cy="530.4" r="0.85"/><circle cx="54.0" cy="523.0" r="0.85"/><circle cx="61.2" cy="529.3" r="0.85"/><circle cx="62.4" cy="528.3" r="0.85"/><circle cx="57.4" cy="530.1" r="0.85"/><circle cx="55.6" cy="504.8" r="0.85"/><circle cx="55.8" cy="516.4" r="0.85"/><circle cx="58.6" cy="515.8" r="0.85"/><circle cx="63.0" cy="518.9" r="0.85"/><circle cx="61.3" cy="525.0" r="0.85"/><circle cx="61.4" cy="523.2" r="0.85"/><circle cx="57.3" cy="521.9" r="0.85"/><circle cx="56.5" cy="521.0" r="0.85"/><circle cx="60.2" cy="520.2" r="0.85"/><circle cx="62.6" cy="514.8" r="0.85"/><circle cx="60.0" cy="540.0" r="0.85"/><circle cx="63.1" cy="526.8" r="0.85"/><circle cx="58.0" cy="519.7" r="0.85"/><circle cx="56.9" cy="525.7" r="0.85"/><circle cx="54.3" cy="524.5" r="0.85"/><circle cx="56.1" cy="515.0" r="0.85"/><circle cx="60.7" cy="522.5" r="0.85"/><circle cx="61.1" cy="513.3" r="0.85"/><circle cx="55.9" cy="523.9" r="0.85"/><circle cx="57.0" cy="522.2" r="0.85"/><circle cx="54.7" cy="529.8" r="0.85"/><circle cx="57.9" cy="535.1" r="0.85"/><circle cx="57.4" cy="526.0" r="0.85"/><circle cx="62.6" cy="523.3" r="0.85"/><circle cx="61.3" cy="525.6" r="0.85"/><circle cx="62.5" cy="531.4" r="0.85"/><circle cx="54.9" cy="519.8" r="0.85"/><circle cx="56.7" cy="523.2" r="0.85"/><circle cx="62.0" cy="523.6" r="0.85"/><circle cx="56.0" cy="528.1" r="0.85"/><circle cx="57.0" cy="514.1" r="0.85"/><circle cx="54.7" cy="515.1" r="0.85"/><circle cx="53.9" cy="521.8" r="0.85"/><circle cx="59.5" cy="524.3" r="0.85"/><circle cx="57.3" cy="522.2" r="0.85"/><circle cx="57.0" cy="513.8" r="0.85"/><circle cx="57.5" cy="507.4" r="0.85"/><circle cx="61.2" cy="523.5" r="0.85"/><circle cx="54.6" cy="526.1" r="0.85"/><circle cx="54.0" cy="534.1" r="0.85"/><circle cx="54.5" cy="507.5" r="0.85"/><circle cx="54.3" cy="530.0" r="0.85"/><circle cx="60.1" cy="518.6" r="0.85"/><circle cx="58.6" cy="520.7" r="0.85"/><circle cx="54.5" cy="515.9" r="0.85"/><circle cx="57.1" cy="528.6" r="0.85"/><circle cx="54.4" cy="533.0" r="0.85"/><circle cx="58.9" cy="522.7" r="0.85"/><circle cx="60.9" cy="521.2" r="0.85"/><circle cx="55.1" cy="517.0" r="0.85"/><circle cx="62.0" cy="533.3" r="0.85"/></g>
<line x1="58.5" y1="543.72" x2="58.5" y2="546.22" stroke="#111" stroke-width="0.9"/>
<text x="58.5" y="555.22" font-size="7" text-anchor="middle" fill="#333" color="#333" textLength="9.7" lengthAdjust="spacingAndGlyphs" >WT</text>
<rect x="73.7" y="521.796" width="17.6" height="9.408500000000004" fill="#d42a7c"/>
<line x1="73.7" y1="526.652" x2="91.3" y2="526.652" stroke="#333" stroke-width="0.6"/>
<line x1="82.5" y1="512.0840000000001" x2="82.5" y2="540.006" stroke="#222" stroke-width="0.6"/>
<g fill="#111"><circle cx="86.8" cy="524.5" r="0.9"/><circle cx="85.8" cy="532.4" r="0.9"/><circle cx="86.5" cy="525.5" r="0.9"/><circle cx="82.1" cy="528.6" r="0.9"/><circle cx="86.4" cy="527.4" r="0.9"/><circle cx="86.5" cy="530.3" r="0.9"/><circle cx="83.6" cy="531.9" r="0.9"/><circle cx="84.0" cy="526.1" r="0.9"/><circle cx="78.2" cy="525.7" r="0.9"/><circle cx="80.4" cy="521.9" r="0.9"/><circle cx="87.4" cy="524.1" r="0.9"/><circle cx="84.2" cy="530.2" r="0.9"/><circle cx="87.0" cy="521.1" r="0.9"/><circle cx="85.5" cy="516.1" r="0.9"/><circle cx="84.2" cy="523.3" r="0.9"/><circle cx="81.3" cy="527.7" r="0.9"/><circle cx="83.1" cy="531.5" r="0.9"/><circle cx="80.2" cy="526.3" r="0.9"/><circle cx="79.7" cy="533.7" r="0.9"/><circle cx="82.8" cy="522.9" r="0.9"/><circle cx="82.6" cy="528.6" r="0.9"/><circle cx="85.3" cy="529.6" r="0.9"/><circle cx="84.7" cy="525.5" r="0.9"/><circle cx="81.3" cy="532.8" r="0.9"/><circle cx="80.1" cy="535.2" r="0.9"/><circle cx="84.2" cy="528.9" r="0.9"/><circle cx="79.5" cy="520.9" r="0.9"/><circle cx="80.6" cy="530.9" r="0.9"/><circle cx="82.6" cy="522.6" r="0.9"/><circle cx="85.2" cy="535.7" r="0.9"/><circle cx="81.6" cy="527.1" r="0.9"/><circle cx="81.1" cy="524.3" r="0.9"/><circle cx="84.5" cy="518.1" r="0.9"/><circle cx="84.8" cy="535.3" r="0.9"/><circle cx="83.4" cy="527.1" r="0.9"/><circle cx="85.3" cy="531.2" r="0.9"/><circle cx="81.9" cy="525.3" r="0.9"/><circle cx="86.9" cy="529.5" r="0.9"/><circle cx="83.9" cy="526.3" r="0.9"/><circle cx="80.1" cy="530.5" r="0.9"/><circle cx="79.9" cy="529.5" r="0.9"/><circle cx="84.6" cy="524.9" r="0.9"/><circle cx="78.1" cy="519.6" r="0.9"/><circle cx="82.9" cy="525.8" r="0.9"/><circle cx="84.4" cy="526.2" r="0.9"/><circle cx="81.8" cy="529.1" r="0.9"/><circle cx="86.8" cy="519.2" r="0.9"/><circle cx="85.9" cy="536.2" r="0.9"/><circle cx="83.1" cy="536.5" r="0.9"/><circle cx="82.4" cy="530.6" r="0.9"/></g>
<line x1="82.5" y1="543.72" x2="82.5" y2="546.22" stroke="#111" stroke-width="0.9"/>
<text x="82.5" y="555.22" font-size="7" text-anchor="middle" fill="#333" color="#333" textLength="24.6" lengthAdjust="spacingAndGlyphs" >Mutated</text>
<text x="37.2" y="568.4" font-size="7" text-anchor="end" fill="#333" color="#333" textLength="20" lengthAdjust="spacingAndGlyphs" >ASXL1</text>
<rect x="43.6" y="563.7" width="5.4" height="4.6" fill="#3aa2d6"/><path d="M43.6,566.0 h5.4 M46.3,563.0 v6" stroke="#1a4a70" stroke-width="0.7"/>
<text x="53.7" y="568.4" font-size="7" fill="#333" color="#333" textLength="9.3" lengthAdjust="spacingAndGlyphs" >WT</text>
<rect x="70.5" y="563.7" width="6" height="4.6" fill="#d42a7c"/><path d="M70.5,566.0 h6 M73.5,563.0 v6" stroke="#6a1040" stroke-width="0.7"/>
<text x="79.5" y="568.4" font-size="7" fill="#333" color="#333" textLength="24.6" lengthAdjust="spacingAndGlyphs" >Mutated</text>
<text x="176.0" y="496.6" font-size="6.5" text-anchor="middle" fill="#222">Wilcoxon, <tspan font-style="italic">P</tspan> = .04</text>
<line x1="149.5" y1="500.8" x2="149.5" y2="543.72" stroke="#111" stroke-width="1"/>
<line x1="149.0" y1="543.72" x2="201.0" y2="543.72" stroke="#111" stroke-width="1"/>
<line x1="147.0" y1="504.8" x2="149.5" y2="504.8" stroke="#111" stroke-width="0.9"/>
<text x="144.0" y="507.2" font-size="6.8" text-anchor="end" fill="#333" color="#333" textLength="9" lengthAdjust="spacingAndGlyphs" >1.2</text>
<line x1="147.0" y1="516.94" x2="149.5" y2="516.94" stroke="#111" stroke-width="0.9"/>
<text x="144.0" y="519.34" font-size="6.8" text-anchor="end" fill="#333" color="#333" textLength="9" lengthAdjust="spacingAndGlyphs" >1.0</text>
<line x1="147.0" y1="529.08" x2="149.5" y2="529.08" stroke="#111" stroke-width="0.9"/>
<text x="144.0" y="531.48" font-size="6.8" text-anchor="end" fill="#333" color="#333" textLength="9" lengthAdjust="spacingAndGlyphs" >0.8</text>
<line x1="147.0" y1="541.22" x2="149.5" y2="541.22" stroke="#111" stroke-width="0.9"/>
<text x="144.0" y="543.62" font-size="6.8" text-anchor="end" fill="#333" color="#333" textLength="9" lengthAdjust="spacingAndGlyphs" >0.6</text>
<text font-size="7.3" fill="#333" text-anchor="middle" transform="translate(117.5,522.5) rotate(-90)"><tspan x="0" y="0" textLength="44" lengthAdjust="spacingAndGlyphs">Ratio early Tm/</tspan><tspan x="0" y="10.5" font-size="7.8" textLength="13.5" lengthAdjust="spacingAndGlyphs">Term</tspan></text>
<rect x="154.7" y="519.0038" width="17.6" height="8.255200000000059" fill="#3aa2d6"/>
<line x1="154.7" y1="523.9205000000001" x2="172.3" y2="523.9205000000001" stroke="#333" stroke-width="0.6"/>
<line x1="163.5" y1="504.8" x2="163.5" y2="540.006" stroke="#222" stroke-width="0.6"/>
<g fill="#111"><circle cx="167.9" cy="519.6" r="0.85"/><circle cx="165.8" cy="529.3" r="0.85"/><circle cx="166.4" cy="532.7" r="0.85"/><circle cx="162.4" cy="540.0" r="0.85"/><circle cx="167.6" cy="525.7" r="0.85"/><circle cx="166.7" cy="516.4" r="0.85"/><circle cx="166.3" cy="523.4" r="0.85"/><circle cx="167.9" cy="520.7" r="0.85"/><circle cx="167.2" cy="517.7" r="0.85"/><circle cx="162.4" cy="528.7" r="0.85"/><circle cx="166.7" cy="508.3" r="0.85"/><circle cx="164.0" cy="528.7" r="0.85"/><circle cx="159.4" cy="521.5" r="0.85"/><circle cx="160.4" cy="507.8" r="0.85"/><circle cx="166.0" cy="524.3" r="0.85"/><circle cx="165.1" cy="523.0" r="0.85"/><circle cx="158.8" cy="526.6" r="0.85"/><circle cx="162.5" cy="521.7" r="0.85"/><circle cx="167.3" cy="535.9" r="0.85"/><circle cx="165.6" cy="527.3" r="0.85"/><circle cx="162.1" cy="513.8" r="0.85"/><circle cx="167.4" cy="522.4" r="0.85"/><circle cx="163.5" cy="525.0" r="0.85"/><circle cx="167.4" cy="521.5" r="0.85"/><circle cx="163.7" cy="521.2" r="0.85"/><circle cx="159.3" cy="522.7" r="0.85"/><circle cx="162.3" cy="520.3" r="0.85"/><circle cx="165.8" cy="533.2" r="0.85"/><circle cx="162.3" cy="520.2" r="0.85"/><circle cx="165.8" cy="527.5" r="0.85"/><circle cx="160.8" cy="519.1" r="0.85"/><circle cx="167.2" cy="523.7" r="0.85"/><circle cx="164.2" cy="529.4" r="0.85"/><circle cx="161.5" cy="524.0" r="0.85"/><circle cx="165.1" cy="529.4" r="0.85"/><circle cx="168.2" cy="517.8" r="0.85"/><circle cx="164.5" cy="523.8" r="0.85"/><circle cx="159.1" cy="518.7" r="0.85"/><circle cx="159.0" cy="530.0" r="0.85"/><circle cx="162.7" cy="514.3" r="0.85"/><circle cx="158.8" cy="525.4" r="0.85"/><circle cx="167.9" cy="515.7" r="0.85"/><circle cx="161.6" cy="518.7" r="0.85"/><circle cx="165.8" cy="530.0" r="0.85"/><circle cx="160.4" cy="521.8" r="0.85"/><circle cx="163.3" cy="526.7" r="0.85"/><circle cx="164.3" cy="521.3" r="0.85"/><circle cx="167.7" cy="515.4" r="0.85"/><circle cx="165.3" cy="519.6" r="0.85"/><circle cx="162.9" cy="517.5" r="0.85"/><circle cx="158.7" cy="530.4" r="0.85"/><circle cx="159.6" cy="522.4" r="0.85"/><circle cx="161.7" cy="521.5" r="0.85"/><circle cx="159.8" cy="517.3" r="0.85"/><circle cx="167.8" cy="527.2" r="0.85"/><circle cx="163.9" cy="520.3" r="0.85"/><circle cx="160.4" cy="521.1" r="0.85"/><circle cx="167.6" cy="532.4" r="0.85"/><circle cx="165.4" cy="529.6" r="0.85"/><circle cx="163.7" cy="521.1" r="0.85"/><circle cx="166.6" cy="530.4" r="0.85"/><circle cx="166.1" cy="530.7" r="0.85"/><circle cx="162.5" cy="518.5" r="0.85"/><circle cx="164.2" cy="522.0" r="0.85"/><circle cx="160.6" cy="525.0" r="0.85"/><circle cx="164.1" cy="523.0" r="0.85"/><circle cx="161.8" cy="525.9" r="0.85"/><circle cx="167.7" cy="526.7" r="0.85"/><circle cx="162.9" cy="526.3" r="0.85"/><circle cx="160.5" cy="521.4" r="0.85"/><circle cx="165.4" cy="516.0" r="0.85"/><circle cx="167.0" cy="526.3" r="0.85"/><circle cx="161.1" cy="524.0" r="0.85"/><circle cx="158.9" cy="524.9" r="0.85"/><circle cx="163.5" cy="530.9" r="0.85"/><circle cx="159.6" cy="522.2" r="0.85"/><circle cx="166.0" cy="518.6" r="0.85"/><circle cx="167.0" cy="528.5" r="0.85"/><circle cx="161.4" cy="518.8" r="0.85"/><circle cx="168.0" cy="526.9" r="0.85"/><circle cx="165.8" cy="517.0" r="0.85"/><circle cx="161.3" cy="516.6" r="0.85"/><circle cx="161.8" cy="525.8" r="0.85"/><circle cx="160.1" cy="535.2" r="0.85"/><circle cx="161.2" cy="525.6" r="0.85"/><circle cx="167.9" cy="531.6" r="0.85"/><circle cx="162.9" cy="531.2" r="0.85"/><circle cx="165.9" cy="525.1" r="0.85"/><circle cx="159.7" cy="515.8" r="0.85"/><circle cx="166.2" cy="524.1" r="0.85"/><circle cx="159.5" cy="524.9" r="0.85"/><circle cx="161.7" cy="534.3" r="0.85"/><circle cx="165.8" cy="527.1" r="0.85"/><circle cx="167.5" cy="531.7" r="0.85"/><circle cx="161.7" cy="520.6" r="0.85"/><circle cx="159.9" cy="526.7" r="0.85"/><circle cx="167.8" cy="523.9" r="0.85"/><circle cx="160.3" cy="523.7" r="0.85"/><circle cx="158.8" cy="524.7" r="0.85"/><circle cx="160.5" cy="518.1" r="0.85"/><circle cx="165.0" cy="520.8" r="0.85"/><circle cx="162.2" cy="525.5" r="0.85"/><circle cx="167.1" cy="522.7" r="0.85"/><circle cx="166.3" cy="520.4" r="0.85"/><circle cx="164.3" cy="515.7" r="0.85"/><circle cx="162.0" cy="522.9" r="0.85"/><circle cx="165.5" cy="515.3" r="0.85"/><circle cx="167.3" cy="527.0" r="0.85"/><circle cx="163.1" cy="525.0" r="0.85"/><circle cx="167.3" cy="532.2" r="0.85"/><circle cx="165.7" cy="518.9" r="0.85"/><circle cx="166.6" cy="529.6" r="0.85"/><circle cx="161.0" cy="529.6" r="0.85"/><circle cx="163.9" cy="518.8" r="0.85"/><circle cx="163.4" cy="526.7" r="0.85"/><circle cx="161.3" cy="528.0" r="0.85"/><circle cx="167.4" cy="518.1" r="0.85"/><circle cx="164.9" cy="524.7" r="0.85"/><circle cx="166.4" cy="518.3" r="0.85"/><circle cx="163.7" cy="525.9" r="0.85"/><circle cx="165.2" cy="519.4" r="0.85"/><circle cx="163.5" cy="517.4" r="0.85"/><circle cx="167.5" cy="523.1" r="0.85"/><circle cx="165.3" cy="513.2" r="0.85"/><circle cx="163.3" cy="525.9" r="0.85"/><circle cx="166.1" cy="524.8" r="0.85"/><circle cx="166.3" cy="523.2" r="0.85"/><circle cx="167.0" cy="517.8" r="0.85"/><circle cx="164.8" cy="525.3" r="0.85"/><circle cx="165.0" cy="526.1" r="0.85"/><circle cx="166.9" cy="522.2" r="0.85"/><circle cx="167.3" cy="516.4" r="0.85"/><circle cx="162.1" cy="526.0" r="0.85"/><circle cx="167.1" cy="531.0" r="0.85"/><circle cx="167.0" cy="524.4" r="0.85"/><circle cx="166.8" cy="520.0" r="0.85"/><circle cx="167.5" cy="526.7" r="0.85"/><circle cx="163.6" cy="522.9" r="0.85"/><circle cx="165.7" cy="534.4" r="0.85"/><circle cx="160.5" cy="523.5" r="0.85"/><circle cx="164.6" cy="523.0" r="0.85"/><circle cx="160.0" cy="520.0" r="0.85"/><circle cx="161.4" cy="521.8" r="0.85"/><circle cx="159.8" cy="519.2" r="0.85"/><circle cx="162.0" cy="529.4" r="0.85"/><circle cx="166.9" cy="519.8" r="0.85"/><circle cx="162.7" cy="533.1" r="0.85"/><circle cx="167.3" cy="527.1" r="0.85"/><circle cx="162.3" cy="517.2" r="0.85"/><circle cx="159.0" cy="518.7" r="0.85"/><circle cx="167.0" cy="534.3" r="0.85"/><circle cx="164.1" cy="520.2" r="0.85"/><circle cx="161.3" cy="526.1" r="0.85"/><circle cx="162.1" cy="528.1" r="0.85"/><circle cx="164.9" cy="522.4" r="0.85"/><circle cx="166.0" cy="522.9" r="0.85"/><circle cx="163.0" cy="515.6" r="0.85"/><circle cx="162.9" cy="531.9" r="0.85"/><circle cx="168.2" cy="526.1" r="0.85"/><circle cx="167.8" cy="524.4" r="0.85"/><circle cx="165.5" cy="534.2" r="0.85"/><circle cx="159.6" cy="516.9" r="0.85"/><circle cx="166.3" cy="513.5" r="0.85"/><circle cx="164.7" cy="527.2" r="0.85"/><circle cx="159.4" cy="521.4" r="0.85"/><circle cx="164.8" cy="525.2" r="0.85"/><circle cx="166.7" cy="522.1" r="0.85"/><circle cx="166.9" cy="527.5" r="0.85"/><circle cx="163.6" cy="518.8" r="0.85"/><circle cx="167.6" cy="530.3" r="0.85"/><circle cx="166.8" cy="515.8" r="0.85"/><circle cx="163.4" cy="521.6" r="0.85"/><circle cx="163.0" cy="509.6" r="0.85"/><circle cx="162.7" cy="533.1" r="0.85"/><circle cx="168.0" cy="524.2" r="0.85"/><circle cx="165.9" cy="531.0" r="0.85"/><circle cx="167.9" cy="524.4" r="0.85"/><circle cx="162.8" cy="521.1" r="0.85"/><circle cx="167.4" cy="528.9" r="0.85"/><circle cx="161.9" cy="531.9" r="0.85"/><circle cx="166.0" cy="533.6" r="0.85"/><circle cx="166.1" cy="522.3" r="0.85"/><circle cx="161.5" cy="516.3" r="0.85"/><circle cx="159.1" cy="516.9" r="0.85"/><circle cx="166.9" cy="523.4" r="0.85"/><circle cx="162.5" cy="529.2" r="0.85"/><circle cx="159.2" cy="525.7" r="0.85"/><circle cx="162.4" cy="532.3" r="0.85"/><circle cx="159.9" cy="532.7" r="0.85"/><circle cx="159.3" cy="517.5" r="0.85"/><circle cx="165.4" cy="525.2" r="0.85"/><circle cx="167.4" cy="521.8" r="0.85"/><circle cx="165.9" cy="525.2" r="0.85"/><circle cx="161.5" cy="516.0" r="0.85"/><circle cx="167.1" cy="515.3" r="0.85"/><circle cx="164.8" cy="528.1" r="0.85"/><circle cx="161.8" cy="525.7" r="0.85"/><circle cx="160.2" cy="527.5" r="0.85"/><circle cx="167.4" cy="516.0" r="0.85"/><circle cx="167.2" cy="516.4" r="0.85"/><circle cx="161.2" cy="525.3" r="0.85"/><circle cx="161.8" cy="510.4" r="0.85"/><circle cx="166.7" cy="523.5" r="0.85"/><circle cx="158.8" cy="530.6" r="0.85"/><circle cx="165.4" cy="535.3" r="0.85"/><circle cx="165.1" cy="524.4" r="0.85"/><circle cx="163.1" cy="521.8" r="0.85"/><circle cx="165.1" cy="527.0" r="0.85"/><circle cx="162.5" cy="521.5" r="0.85"/><circle cx="166.9" cy="516.7" r="0.85"/><circle cx="159.8" cy="524.0" r="0.85"/><circle cx="167.7" cy="518.8" r="0.85"/><circle cx="165.5" cy="514.0" r="0.85"/><circle cx="161.5" cy="520.7" r="0.85"/><circle cx="159.9" cy="527.0" r="0.85"/><circle cx="162.0" cy="521.1" r="0.85"/><circle cx="167.6" cy="520.5" r="0.85"/><circle cx="158.9" cy="511.3" r="0.85"/><circle cx="163.8" cy="526.1" r="0.85"/><circle cx="163.6" cy="532.6" r="0.85"/><circle cx="167.4" cy="521.9" r="0.85"/><circle cx="167.2" cy="521.7" r="0.85"/><circle cx="166.1" cy="526.0" r="0.85"/><circle cx="161.9" cy="520.4" r="0.85"/><circle cx="161.2" cy="521.8" r="0.85"/><circle cx="162.2" cy="516.6" r="0.85"/><circle cx="167.9" cy="528.4" r="0.85"/><circle cx="167.5" cy="527.7" r="0.85"/><circle cx="162.0" cy="523.7" r="0.85"/><circle cx="168.2" cy="526.5" r="0.85"/><circle cx="161.4" cy="516.3" r="0.85"/><circle cx="161.9" cy="520.3" r="0.85"/><circle cx="159.0" cy="523.7" r="0.85"/><circle cx="164.3" cy="514.8" r="0.85"/><circle cx="164.5" cy="520.7" r="0.85"/><circle cx="160.1" cy="517.9" r="0.85"/><circle cx="160.6" cy="519.0" r="0.85"/><circle cx="159.1" cy="524.5" r="0.85"/><circle cx="159.3" cy="524.4" r="0.85"/><circle cx="164.9" cy="523.6" r="0.85"/><circle cx="164.3" cy="529.9" r="0.85"/><circle cx="166.8" cy="525.6" r="0.85"/><circle cx="158.7" cy="518.7" r="0.85"/><circle cx="159.2" cy="521.8" r="0.85"/><circle cx="167.1" cy="529.1" r="0.85"/><circle cx="161.3" cy="510.0" r="0.85"/><circle cx="164.7" cy="529.6" r="0.85"/><circle cx="162.6" cy="520.0" r="0.85"/><circle cx="166.9" cy="519.4" r="0.85"/><circle cx="168.0" cy="516.3" r="0.85"/><circle cx="159.7" cy="528.6" r="0.85"/><circle cx="160.0" cy="523.5" r="0.85"/><circle cx="165.0" cy="524.7" r="0.85"/><circle cx="161.9" cy="517.0" r="0.85"/><circle cx="161.7" cy="521.4" r="0.85"/><circle cx="161.4" cy="521.2" r="0.85"/><circle cx="162.1" cy="520.4" r="0.85"/><circle cx="160.3" cy="512.2" r="0.85"/><circle cx="160.1" cy="519.6" r="0.85"/><circle cx="162.9" cy="518.4" r="0.85"/><circle cx="167.3" cy="528.8" r="0.85"/><circle cx="159.8" cy="519.4" r="0.85"/><circle cx="164.7" cy="530.6" r="0.85"/><circle cx="165.5" cy="518.0" r="0.85"/><circle cx="166.3" cy="522.5" r="0.85"/><circle cx="161.3" cy="528.5" r="0.85"/><circle cx="160.4" cy="530.0" r="0.85"/><circle cx="166.1" cy="523.9" r="0.85"/><circle cx="161.4" cy="522.6" r="0.85"/><circle cx="159.0" cy="526.5" r="0.85"/><circle cx="166.4" cy="525.2" r="0.85"/><circle cx="163.1" cy="525.0" r="0.85"/><circle cx="167.1" cy="526.3" r="0.85"/><circle cx="160.0" cy="524.3" r="0.85"/><circle cx="161.7" cy="521.7" r="0.85"/><circle cx="167.7" cy="515.7" r="0.85"/><circle cx="165.0" cy="519.5" r="0.85"/><circle cx="161.4" cy="526.4" r="0.85"/><circle cx="166.9" cy="513.8" r="0.85"/><circle cx="159.4" cy="516.3" r="0.85"/><circle cx="162.2" cy="524.6" r="0.85"/><circle cx="165.5" cy="517.2" r="0.85"/><circle cx="162.0" cy="526.1" r="0.85"/><circle cx="162.0" cy="527.4" r="0.85"/><circle cx="165.9" cy="527.2" r="0.85"/><circle cx="168.2" cy="513.7" r="0.85"/><circle cx="165.4" cy="522.2" r="0.85"/><circle cx="163.8" cy="521.2" r="0.85"/><circle cx="161.4" cy="522.6" r="0.85"/><circle cx="159.8" cy="525.3" r="0.85"/><circle cx="163.8" cy="520.2" r="0.85"/><circle cx="161.5" cy="519.0" r="0.85"/><circle cx="160.7" cy="511.6" r="0.85"/><circle cx="165.0" cy="527.8" r="0.85"/><circle cx="159.8" cy="514.1" r="0.85"/><circle cx="159.7" cy="519.0" r="0.85"/><circle cx="165.0" cy="532.8" r="0.85"/><circle cx="159.3" cy="517.2" r="0.85"/><circle cx="168.3" cy="513.5" r="0.85"/><circle cx="161.9" cy="516.5" r="0.85"/><circle cx="162.7" cy="521.4" r="0.85"/><circle cx="159.8" cy="521.9" r="0.85"/><circle cx="166.0" cy="534.2" r="0.85"/><circle cx="166.1" cy="521.0" r="0.85"/><circle cx="163.1" cy="521.8" r="0.85"/><circle cx="166.8" cy="528.2" r="0.85"/><circle cx="168.1" cy="521.7" r="0.85"/><circle cx="162.3" cy="526.6" r="0.85"/><circle cx="164.9" cy="509.8" r="0.85"/><circle cx="158.8" cy="529.9" r="0.85"/><circle cx="167.9" cy="528.1" r="0.85"/><circle cx="167.0" cy="535.4" r="0.85"/><circle cx="161.3" cy="525.3" r="0.85"/><circle cx="162.6" cy="522.3" r="0.85"/><circle cx="160.3" cy="523.0" r="0.85"/><circle cx="166.0" cy="526.8" r="0.85"/><circle cx="163.0" cy="518.0" r="0.85"/><circle cx="161.7" cy="521.7" r="0.85"/><circle cx="166.4" cy="516.3" r="0.85"/><circle cx="161.4" cy="523.8" r="0.85"/><circle cx="162.0" cy="533.3" r="0.85"/><circle cx="164.1" cy="524.0" r="0.85"/><circle cx="168.0" cy="529.0" r="0.85"/><circle cx="159.7" cy="518.4" r="0.85"/><circle cx="162.3" cy="526.7" r="0.85"/><circle cx="166.5" cy="524.7" r="0.85"/><circle cx="159.5" cy="523.4" r="0.85"/><circle cx="160.3" cy="532.1" r="0.85"/><circle cx="167.9" cy="525.6" r="0.85"/><circle cx="158.8" cy="518.3" r="0.85"/><circle cx="160.3" cy="526.7" r="0.85"/><circle cx="165.5" cy="524.3" r="0.85"/><circle cx="164.3" cy="522.5" r="0.85"/><circle cx="167.4" cy="527.3" r="0.85"/><circle cx="163.6" cy="525.1" r="0.85"/><circle cx="166.5" cy="520.9" r="0.85"/><circle cx="163.1" cy="525.6" r="0.85"/><circle cx="162.7" cy="523.2" r="0.85"/><circle cx="161.3" cy="524.3" r="0.85"/><circle cx="163.5" cy="529.5" r="0.85"/><circle cx="161.1" cy="531.0" r="0.85"/><circle cx="167.1" cy="512.1" r="0.85"/><circle cx="166.8" cy="515.6" r="0.85"/><circle cx="161.2" cy="524.2" r="0.85"/><circle cx="158.8" cy="518.1" r="0.85"/><circle cx="164.5" cy="517.2" r="0.85"/><circle cx="165.7" cy="518.0" r="0.85"/><circle cx="160.5" cy="525.6" r="0.85"/><circle cx="165.8" cy="531.8" r="0.85"/><circle cx="161.9" cy="530.8" r="0.85"/><circle cx="167.0" cy="524.9" r="0.85"/><circle cx="167.0" cy="515.8" r="0.85"/><circle cx="159.2" cy="514.5" r="0.85"/><circle cx="158.8" cy="524.9" r="0.85"/><circle cx="164.5" cy="525.4" r="0.85"/><circle cx="167.5" cy="516.6" r="0.85"/><circle cx="159.7" cy="511.6" r="0.85"/><circle cx="160.7" cy="528.8" r="0.85"/><circle cx="166.2" cy="520.8" r="0.85"/><circle cx="161.8" cy="522.6" r="0.85"/><circle cx="160.1" cy="525.3" r="0.85"/><circle cx="164.1" cy="525.3" r="0.85"/><circle cx="160.2" cy="525.4" r="0.85"/><circle cx="162.7" cy="523.5" r="0.85"/><circle cx="165.8" cy="532.3" r="0.85"/><circle cx="163.4" cy="523.5" r="0.85"/><circle cx="165.8" cy="518.9" r="0.85"/><circle cx="167.3" cy="519.1" r="0.85"/><circle cx="164.2" cy="518.9" r="0.85"/><circle cx="167.8" cy="521.5" r="0.85"/><circle cx="159.2" cy="522.3" r="0.85"/><circle cx="159.1" cy="512.3" r="0.85"/><circle cx="165.2" cy="524.5" r="0.85"/><circle cx="166.1" cy="522.5" r="0.85"/><circle cx="160.3" cy="516.3" r="0.85"/><circle cx="161.8" cy="523.2" r="0.85"/><circle cx="165.1" cy="530.9" r="0.85"/><circle cx="162.4" cy="526.6" r="0.85"/><circle cx="167.4" cy="525.9" r="0.85"/><circle cx="165.7" cy="524.3" r="0.85"/><circle cx="165.1" cy="526.0" r="0.85"/><circle cx="161.8" cy="517.7" r="0.85"/><circle cx="163.9" cy="519.4" r="0.85"/><circle cx="164.3" cy="520.6" r="0.85"/><circle cx="160.6" cy="525.7" r="0.85"/><circle cx="164.9" cy="517.5" r="0.85"/><circle cx="160.4" cy="517.7" r="0.85"/><circle cx="166.7" cy="510.8" r="0.85"/><circle cx="164.5" cy="526.9" r="0.85"/><circle cx="161.1" cy="524.0" r="0.85"/><circle cx="159.0" cy="515.4" r="0.85"/><circle cx="165.3" cy="529.6" r="0.85"/><circle cx="165.6" cy="521.9" r="0.85"/><circle cx="166.0" cy="522.1" r="0.85"/><circle cx="159.5" cy="523.0" r="0.85"/><circle cx="160.0" cy="528.8" r="0.85"/><circle cx="166.4" cy="523.1" r="0.85"/><circle cx="162.4" cy="531.9" r="0.85"/><circle cx="165.1" cy="516.5" r="0.85"/><circle cx="160.2" cy="526.2" r="0.85"/><circle cx="166.8" cy="522.5" r="0.85"/><circle cx="166.6" cy="523.5" r="0.85"/><circle cx="159.1" cy="522.3" r="0.85"/><circle cx="166.3" cy="522.7" r="0.85"/><circle cx="163.4" cy="521.0" r="0.85"/><circle cx="164.7" cy="525.5" r="0.85"/><circle cx="159.9" cy="523.2" r="0.85"/><circle cx="161.3" cy="529.8" r="0.85"/><circle cx="164.0" cy="529.4" r="0.85"/><circle cx="163.9" cy="528.3" r="0.85"/><circle cx="163.0" cy="529.3" r="0.85"/><circle cx="161.4" cy="531.3" r="0.85"/><circle cx="165.6" cy="527.1" r="0.85"/><circle cx="160.2" cy="519.9" r="0.85"/><circle cx="167.4" cy="521.1" r="0.85"/><circle cx="161.8" cy="525.9" r="0.85"/><circle cx="163.4" cy="521.7" r="0.85"/><circle cx="163.6" cy="521.4" r="0.85"/><circle cx="163.1" cy="508.1" r="0.85"/><circle cx="165.7" cy="532.6" r="0.85"/><circle cx="165.6" cy="522.0" r="0.85"/><circle cx="161.0" cy="531.0" r="0.85"/><circle cx="164.6" cy="516.3" r="0.85"/><circle cx="161.1" cy="524.7" r="0.85"/><circle cx="160.4" cy="520.9" r="0.85"/><circle cx="168.0" cy="522.3" r="0.85"/><circle cx="166.6" cy="519.4" r="0.85"/><circle cx="164.5" cy="540.0" r="0.85"/><circle cx="161.1" cy="530.0" r="0.85"/><circle cx="167.1" cy="522.9" r="0.85"/><circle cx="163.4" cy="531.0" r="0.85"/><circle cx="162.3" cy="520.2" r="0.85"/><circle cx="166.7" cy="516.3" r="0.85"/><circle cx="166.6" cy="530.8" r="0.85"/><circle cx="166.5" cy="525.9" r="0.85"/><circle cx="165.9" cy="519.8" r="0.85"/><circle cx="166.4" cy="513.0" r="0.85"/><circle cx="159.9" cy="517.6" r="0.85"/><circle cx="161.8" cy="519.2" r="0.85"/><circle cx="160.7" cy="528.4" r="0.85"/><circle cx="166.2" cy="523.2" r="0.85"/><circle cx="168.1" cy="522.7" r="0.85"/><circle cx="160.1" cy="526.9" r="0.85"/><circle cx="162.7" cy="521.0" r="0.85"/><circle cx="160.9" cy="525.2" r="0.85"/><circle cx="165.2" cy="525.9" r="0.85"/><circle cx="160.1" cy="511.2" r="0.85"/><circle cx="168.0" cy="524.4" r="0.85"/><circle cx="164.0" cy="512.7" r="0.85"/><circle cx="160.4" cy="525.6" r="0.85"/><circle cx="159.0" cy="523.8" r="0.85"/><circle cx="160.0" cy="530.6" r="0.85"/><circle cx="160.4" cy="526.7" r="0.85"/><circle cx="165.2" cy="514.4" r="0.85"/><circle cx="163.2" cy="523.4" r="0.85"/><circle cx="164.1" cy="534.9" r="0.85"/><circle cx="159.7" cy="515.3" r="0.85"/><circle cx="167.0" cy="528.6" r="0.85"/><circle cx="161.9" cy="525.9" r="0.85"/><circle cx="164.3" cy="523.8" r="0.85"/><circle cx="163.7" cy="534.3" r="0.85"/><circle cx="160.5" cy="514.7" r="0.85"/><circle cx="159.9" cy="516.2" r="0.85"/><circle cx="159.5" cy="525.5" r="0.85"/><circle cx="161.6" cy="521.6" r="0.85"/><circle cx="159.4" cy="525.2" r="0.85"/><circle cx="162.7" cy="527.0" r="0.85"/><circle cx="161.6" cy="524.9" r="0.85"/><circle cx="163.0" cy="531.9" r="0.85"/><circle cx="163.2" cy="525.9" r="0.85"/><circle cx="160.9" cy="526.8" r="0.85"/><circle cx="161.2" cy="512.6" r="0.85"/><circle cx="164.8" cy="532.0" r="0.85"/><circle cx="164.8" cy="516.4" r="0.85"/><circle cx="163.4" cy="519.5" r="0.85"/><circle cx="160.2" cy="522.8" r="0.85"/><circle cx="165.3" cy="527.1" r="0.85"/><circle cx="168.1" cy="513.2" r="0.85"/><circle cx="158.9" cy="515.3" r="0.85"/><circle cx="166.0" cy="523.9" r="0.85"/><circle cx="163.5" cy="524.8" r="0.85"/><circle cx="163.1" cy="522.5" r="0.85"/><circle cx="166.4" cy="513.1" r="0.85"/><circle cx="166.0" cy="528.8" r="0.85"/><circle cx="160.0" cy="523.1" r="0.85"/><circle cx="163.6" cy="517.1" r="0.85"/><circle cx="162.5" cy="531.6" r="0.85"/><circle cx="162.0" cy="524.1" r="0.85"/><circle cx="159.1" cy="517.2" r="0.85"/><circle cx="167.8" cy="526.1" r="0.85"/><circle cx="159.5" cy="524.3" r="0.85"/><circle cx="160.4" cy="532.5" r="0.85"/><circle cx="164.5" cy="521.4" r="0.85"/><circle cx="165.3" cy="530.4" r="0.85"/><circle cx="167.0" cy="525.9" r="0.85"/><circle cx="161.9" cy="521.7" r="0.85"/><circle cx="161.6" cy="526.8" r="0.85"/><circle cx="161.2" cy="518.6" r="0.85"/><circle cx="165.4" cy="519.5" r="0.85"/><circle cx="160.6" cy="520.8" r="0.85"/><circle cx="163.4" cy="518.0" r="0.85"/><circle cx="165.7" cy="524.6" r="0.85"/><circle cx="161.7" cy="536.0" r="0.85"/><circle cx="165.9" cy="518.7" r="0.85"/><circle cx="166.9" cy="519.2" r="0.85"/><circle cx="164.6" cy="526.3" r="0.85"/><circle cx="167.6" cy="528.4" r="0.85"/><circle cx="167.5" cy="517.0" r="0.85"/><circle cx="159.9" cy="526.4" r="0.85"/><circle cx="162.3" cy="525.8" r="0.85"/><circle cx="165.4" cy="526.2" r="0.85"/><circle cx="160.5" cy="510.2" r="0.85"/><circle cx="161.0" cy="527.8" r="0.85"/><circle cx="164.8" cy="538.6" r="0.85"/><circle cx="164.0" cy="524.4" r="0.85"/><circle cx="164.3" cy="529.8" r="0.85"/><circle cx="165.5" cy="534.0" r="0.85"/><circle cx="162.8" cy="523.3" r="0.85"/><circle cx="160.4" cy="527.2" r="0.85"/><circle cx="160.5" cy="519.1" r="0.85"/></g>
<line x1="163.5" y1="543.72" x2="163.5" y2="546.22" stroke="#111" stroke-width="0.9"/>
<text x="163.5" y="555.22" font-size="7" text-anchor="middle" fill="#333" color="#333" textLength="9.7" lengthAdjust="spacingAndGlyphs" >WT</text>
<rect x="178.7" y="521.4925000000001" width="17.6" height="7.890999999999963" fill="#d42a7c"/>
<line x1="178.7" y1="525.438" x2="196.3" y2="525.438" stroke="#333" stroke-width="0.6"/>
<line x1="187.5" y1="515.119" x2="187.5" y2="542.434" stroke="#222" stroke-width="0.6"/>
<g fill="#111"><circle cx="184.6" cy="530.8" r="0.9"/><circle cx="188.3" cy="517.2" r="0.9"/><circle cx="191.5" cy="521.2" r="0.9"/><circle cx="191.8" cy="534.5" r="0.9"/><circle cx="188.8" cy="523.5" r="0.9"/><circle cx="187.4" cy="525.6" r="0.9"/><circle cx="184.4" cy="528.2" r="0.9"/><circle cx="189.2" cy="529.5" r="0.9"/><circle cx="191.6" cy="525.8" r="0.9"/><circle cx="189.8" cy="516.8" r="0.9"/><circle cx="184.1" cy="531.2" r="0.9"/><circle cx="183.1" cy="529.0" r="0.9"/><circle cx="188.9" cy="528.7" r="0.9"/><circle cx="187.7" cy="538.1" r="0.9"/><circle cx="186.7" cy="527.9" r="0.9"/><circle cx="191.2" cy="532.9" r="0.9"/><circle cx="184.6" cy="526.3" r="0.9"/><circle cx="190.9" cy="525.5" r="0.9"/><circle cx="191.3" cy="517.0" r="0.9"/><circle cx="192.5" cy="529.1" r="0.9"/><circle cx="191.3" cy="529.5" r="0.9"/><circle cx="187.9" cy="523.4" r="0.9"/><circle cx="187.5" cy="515.8" r="0.9"/><circle cx="190.0" cy="526.6" r="0.9"/><circle cx="185.0" cy="524.7" r="0.9"/><circle cx="182.8" cy="524.2" r="0.9"/><circle cx="191.7" cy="524.6" r="0.9"/><circle cx="187.4" cy="530.6" r="0.9"/><circle cx="191.5" cy="532.2" r="0.9"/><circle cx="185.3" cy="531.6" r="0.9"/><circle cx="183.6" cy="529.8" r="0.9"/><circle cx="183.9" cy="525.7" r="0.9"/></g>
<line x1="187.5" y1="543.72" x2="187.5" y2="546.22" stroke="#111" stroke-width="0.9"/>
<text x="187.5" y="555.22" font-size="7" text-anchor="middle" fill="#333" color="#333" textLength="24.6" lengthAdjust="spacingAndGlyphs" >Mutated</text>
<text x="142.2" y="568.4" font-size="7" text-anchor="end" fill="#333" color="#333" textLength="15.4" lengthAdjust="spacingAndGlyphs" >TP53</text>
<rect x="148.6" y="563.7" width="5.4" height="4.6" fill="#3aa2d6"/><path d="M148.6,566.0 h5.4 M151.3,563.0 v6" stroke="#1a4a70" stroke-width="0.7"/>
<text x="158.7" y="568.4" font-size="7" fill="#333" color="#333" textLength="9.3" lengthAdjust="spacingAndGlyphs" >WT</text>
<rect x="175.5" y="563.7" width="6" height="4.6" fill="#d42a7c"/><path d="M175.5,566.0 h6 M178.5,563.0 v6" stroke="#6a1040" stroke-width="0.7"/>
<text x="184.5" y="568.4" font-size="7" fill="#333" color="#333" textLength="24.6" lengthAdjust="spacingAndGlyphs" >Mutated</text>
<text x="292.5" y="394.9" font-size="9.2" fill="#222" color="#222" textLength="137" lengthAdjust="spacingAndGlyphs" >Multivariable Model (HR for Death)</text>
<rect x="219" y="407.30" width="284" height="20.76" fill="#cde0f4"/>
<rect x="219" y="428.06" width="284" height="20.76" fill="#eef4fc"/>
<rect x="219" y="448.82" width="284" height="20.76" fill="#cde0f4"/>
<rect x="219" y="469.58" width="284" height="20.76" fill="#eef4fc"/>
<rect x="219" y="490.34" width="284" height="20.76" fill="#cde0f4"/>
<rect x="219" y="511.10" width="284" height="20.76" fill="#eef4fc"/>
<rect x="219" y="531.86" width="284" height="20.76" fill="#cde0f4"/>
<line x1="391.4" y1="403.9" x2="391.4" y2="550" stroke="#7a1030" stroke-width="1.8" stroke-dasharray="1.8,4.9"/>
<text x="221.7" y="419.3" font-size="6.9" fill="#222" color="#222" textLength="32.9" lengthAdjust="spacingAndGlyphs" >Age_group</text>
<text x="279.6" y="415.3" font-size="6.8" fill="#222" color="#222" >&lt;60</text>
<text x="279.6" y="422.3" font-size="6.8" fill="#222" color="#222" font-style="italic" textLength="27.4" lengthAdjust="spacingAndGlyphs" >(N = 200)</text>
<text x="314.6" y="418.90000000000003" font-size="6.8" fill="#222" color="#222" textLength="29.1" lengthAdjust="spacingAndGlyphs" >Reference</text>
<rect x="389.09999999999997" y="415.4" width="4.6" height="4.6" fill="#b5143a"/>
<text x="279.6" y="436.06" font-size="6.8" fill="#222" color="#222" >&gt;60</text>
<text x="279.6" y="443.06" font-size="6.8" fill="#222" color="#222" font-style="italic" textLength="27.4" lengthAdjust="spacingAndGlyphs" >(N = 244)</text>
<text x="329.4" y="436.06" font-size="6.8" text-anchor="middle" fill="#222" color="#222" >2.39</text>
<text x="328.8" y="443.06" font-size="6.8" text-anchor="middle" fill="#222" color="#222" font-style="italic" textLength="36.4" lengthAdjust="spacingAndGlyphs" >(1.82 - 3.14)</text>
<path d="M431.4,438.4 H467.8 M431.4,436.6 V440.2 M467.8,436.6 V440.2" stroke="#b5143a" stroke-width="0.9"/>
<rect x="447.4" y="436.2" width="4.4" height="4.4" fill="#b5143a"/>
<text x="503" y="440.84" font-size="6.8" text-anchor="end" fill="#333" color="#333" font-style="italic" textLength="20.4" lengthAdjust="spacingAndGlyphs" >&lt;0.001</text>
<text x="505" y="440.84" font-size="6.8" fill="#333" color="#333" >***</text>
<text x="221.7" y="460.82" font-size="6.9" fill="#222" color="#222" textLength="25.5" lengthAdjust="spacingAndGlyphs" >ELN2017</text>
<text x="279.6" y="456.82" font-size="6.8" fill="#222" color="#222" >FAV</text>
<text x="279.6" y="463.82" font-size="6.8" fill="#222" color="#222" font-style="italic" textLength="27.4" lengthAdjust="spacingAndGlyphs" >(N = 157)</text>
<text x="314.6" y="460.42" font-size="6.8" fill="#222" color="#222" textLength="29.1" lengthAdjust="spacingAndGlyphs" >Reference</text>
<rect x="389.09999999999997" y="456.9" width="4.6" height="4.6" fill="#b5143a"/>
<text x="279.6" y="477.58000000000004" font-size="6.8" fill="#222" color="#222" >INT</text>
<text x="279.6" y="484.58000000000004" font-size="6.8" fill="#222" color="#222" font-style="italic" textLength="27.4" lengthAdjust="spacingAndGlyphs" >(N = 110)</text>
<text x="329.4" y="477.58000000000004" font-size="6.8" text-anchor="middle" fill="#222" color="#222" >2.54</text>
<text x="328.8" y="484.58000000000004" font-size="6.8" text-anchor="middle" fill="#222" color="#222" font-style="italic" textLength="36.4" lengthAdjust="spacingAndGlyphs" >(1.77 - 3.63)</text>
<path d="M429.5,480.0 H477.5 M429.5,478.2 V481.8 M477.5,478.2 V481.8" stroke="#b5143a" stroke-width="0.9"/>
<rect x="451.5" y="477.8" width="4.4" height="4.4" fill="#b5143a"/>
<text x="503" y="482.36" font-size="6.8" text-anchor="end" fill="#333" color="#333" font-style="italic" textLength="20.4" lengthAdjust="spacingAndGlyphs" >&lt;0.001</text>
<text x="505" y="482.36" font-size="6.8" fill="#333" color="#333" >***</text>
<text x="279.6" y="498.34000000000003" font-size="6.8" fill="#222" color="#222" >ADV</text>
<text x="279.6" y="505.34000000000003" font-size="6.8" fill="#222" color="#222" font-style="italic" textLength="27.4" lengthAdjust="spacingAndGlyphs" >(N = 177)</text>
<text x="329.4" y="498.34000000000003" font-size="6.8" text-anchor="middle" fill="#222" color="#222" >2.38</text>
<text x="328.8" y="505.34000000000003" font-size="6.8" text-anchor="middle" fill="#222" color="#222" font-style="italic" textLength="36.4" lengthAdjust="spacingAndGlyphs" >(1.69 - 3.36)</text>
<path d="M426.5,500.7 H472.4 M426.5,498.9 V502.5 M472.4,498.9 V502.5" stroke="#b5143a" stroke-width="0.9"/>
<rect x="447.1" y="498.5" width="4.4" height="4.4" fill="#b5143a"/>
<text x="503" y="503.12" font-size="6.8" text-anchor="end" fill="#333" color="#333" font-style="italic" textLength="20.4" lengthAdjust="spacingAndGlyphs" >&lt;0.001</text>
<text x="505" y="503.12" font-size="6.8" fill="#333" color="#333" >***</text>
<text x="221.7" y="523.1" font-size="6.9" fill="#222" color="#222" textLength="56.5" lengthAdjust="spacingAndGlyphs" >Early Tm/Term ratio</text>
<text x="279.6" y="519.1" font-size="6.8" fill="#222" color="#222" >Low</text>
<text x="279.6" y="526.1" font-size="6.8" fill="#222" color="#222" font-style="italic" textLength="27.4" lengthAdjust="spacingAndGlyphs" >(N = 222)</text>
<text x="314.6" y="522.7" font-size="6.8" fill="#222" color="#222" textLength="29.1" lengthAdjust="spacingAndGlyphs" >Reference</text>
<rect x="389.09999999999997" y="519.2" width="4.6" height="4.6" fill="#b5143a"/>
<text x="279.6" y="539.86" font-size="6.8" fill="#222" color="#222" >High</text>
<text x="279.6" y="546.86" font-size="6.8" fill="#222" color="#222" font-style="italic" textLength="27.4" lengthAdjust="spacingAndGlyphs" >(N = 222)</text>
<text x="329.4" y="539.86" font-size="6.8" text-anchor="middle" fill="#222" color="#222" >0.72</text>
<text x="328.8" y="546.86" font-size="6.8" text-anchor="middle" fill="#222" color="#222" font-style="italic" textLength="36.4" lengthAdjust="spacingAndGlyphs" >(0.55 - 0.93)</text>
<path d="M351.5,542.2 H386.6 M351.5,540.4 V544.0 M386.6,540.4 V544.0" stroke="#b5143a" stroke-width="0.9"/>
<rect x="367.3" y="540.0" width="4.4" height="4.4" fill="#b5143a"/>
<text x="503" y="544.64" font-size="6.8" text-anchor="end" fill="#333" color="#333" font-style="italic" textLength="17" lengthAdjust="spacingAndGlyphs" >0.014</text>
<text x="505" y="544.64" font-size="6.8" fill="#333" color="#333" >*</text>
<line x1="388.5" y1="553" x2="503" y2="553" stroke="#333" stroke-width="1"/>
<line x1="391.4" y1="553" x2="391.4" y2="555.5" stroke="#333" stroke-width="0.8"/>
<text x="391.4" y="564.3" font-size="6.6" text-anchor="middle" fill="#333" color="#333" >1</text>
<line x1="418.5" y1="553" x2="418.5" y2="555.5" stroke="#333" stroke-width="0.8"/>
<text x="418.5" y="564.3" font-size="6.6" text-anchor="middle" fill="#333" color="#333" >1.5</text>
<line x1="437.7" y1="553" x2="437.7" y2="555.5" stroke="#333" stroke-width="0.8"/>
<text x="437.7" y="564.3" font-size="6.6" text-anchor="middle" fill="#333" color="#333" >2</text>
<line x1="452.6" y1="553" x2="452.6" y2="555.5" stroke="#333" stroke-width="0.8"/>
<text x="452.6" y="564.3" font-size="6.6" text-anchor="middle" fill="#333" color="#333" >2.5</text>
<line x1="464.8" y1="553" x2="464.8" y2="555.5" stroke="#333" stroke-width="0.8"/>
<text x="464.8" y="564.3" font-size="6.6" text-anchor="middle" fill="#333" color="#333" >3</text>
<line x1="475.1" y1="553" x2="475.1" y2="555.5" stroke="#333" stroke-width="0.8"/>
<text x="475.1" y="564.3" font-size="6.6" text-anchor="middle" fill="#333" color="#333" >3.5</text>
<line x1="484.0" y1="553" x2="484.0" y2="555.5" stroke="#333" stroke-width="0.8"/>
<text x="484.0" y="564.3" font-size="6.6" text-anchor="middle" fill="#333" color="#333" >4</text>
<text x="222" y="561.9" font-size="6.6" fill="#222" color="#222" font-style="italic" textLength="143.8" lengthAdjust="spacingAndGlyphs" ># Events: 245; Global P-value (Log-Rank): 5.0769e-21</text>
<text x="222" y="569.6" font-size="6.6" fill="#222" color="#222" font-style="italic" textLength="115" lengthAdjust="spacingAndGlyphs" >AIC: 2613.85; Concordance Index: 0.67</text></svg>
</body></html>
